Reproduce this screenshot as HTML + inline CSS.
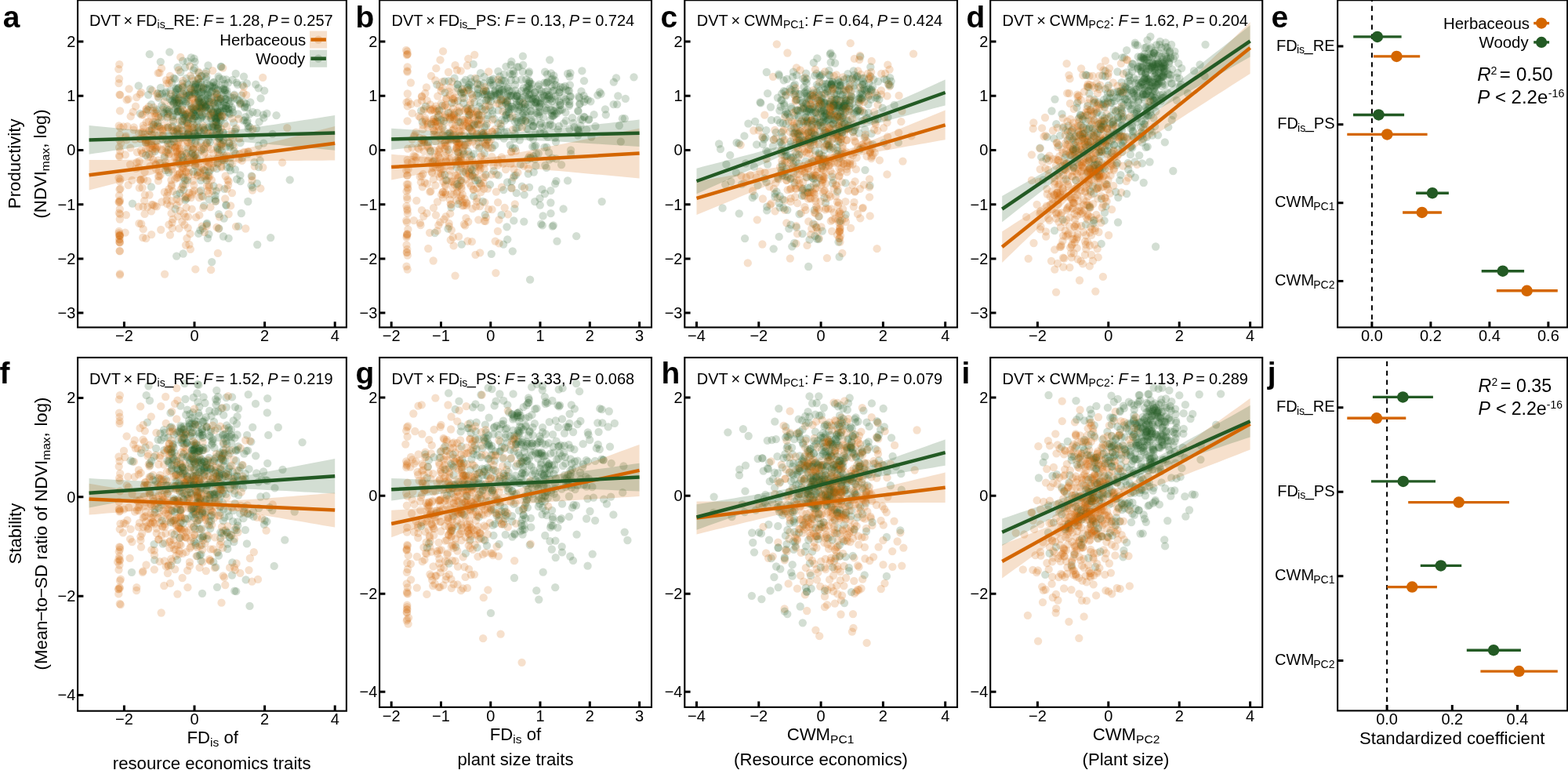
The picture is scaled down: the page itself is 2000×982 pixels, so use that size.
<!DOCTYPE html>
<html lang="en"><head><meta charset="utf-8"><title>Figure</title>
<style>
html,body{margin:0;padding:0;background:#fff}
svg{display:block}
text{font-family:"Liberation Sans",Arial,Helvetica,sans-serif;fill:#000}
.o{fill:#D46600;fill-opacity:.2}
.g{fill:#235A24;fill-opacity:.2}
.tk{font-size:20.0px}
.an{font-size:20.0px}
.ti{font-size:22.2px}
.lg{font-size:20.4px}
.lb{font-size:38.9px;font-weight:bold}
.it{font-style:italic}
.bd{fill:none;stroke:#000;stroke-width:2.1}
.tm{stroke:#000;stroke-width:3.0;fill:none}
.ln{fill:none;stroke-width:4.5}
</style></head>
<body>
<svg width="2000" height="982" viewBox="0 0 2000 982">
<rect width="2000" height="982" fill="#fff"/>
<g id="panel-a">
<g class="o"><circle cx="223.1" cy="228.6" r="5.15"/><circle cx="225.5" cy="126.7" r="5.15"/><circle cx="264.7" cy="243.4" r="5.15"/><circle cx="161.6" cy="178.3" r="5.15"/><circle cx="227.7" cy="206.3" r="5.15"/><circle cx="258.8" cy="250.9" r="5.15"/><circle cx="287.6" cy="224.5" r="5.15"/><circle cx="268.4" cy="264.2" r="5.15"/><circle cx="186.3" cy="182.2" r="5.15"/><circle cx="193.5" cy="260.8" r="5.15"/><circle cx="243.6" cy="252" r="5.15"/><circle cx="183.3" cy="228.7" r="5.15"/><circle cx="248.6" cy="210" r="5.15"/><circle cx="282.4" cy="213.4" r="5.15"/><circle cx="219.3" cy="256.2" r="5.15"/></g><g class="g"><circle cx="228.5" cy="170.6" r="5.15"/><circle cx="271.2" cy="172" r="5.15"/><circle cx="204.9" cy="111.8" r="5.15"/><circle cx="253.4" cy="126.9" r="5.15"/><circle cx="276" cy="152.2" r="5.15"/><circle cx="237.9" cy="123.7" r="5.15"/><circle cx="212" cy="117.1" r="5.15"/><circle cx="244.8" cy="137.8" r="5.15"/><circle cx="256.1" cy="243" r="5.15"/></g><g class="o"><circle cx="215.6" cy="196.1" r="5.15"/><circle cx="233.5" cy="213.8" r="5.15"/><circle cx="261.4" cy="227.4" r="5.15"/><circle cx="172.2" cy="177.7" r="5.15"/><circle cx="193.1" cy="162.1" r="5.15"/><circle cx="242.2" cy="84.3" r="5.15"/><circle cx="276.2" cy="124.7" r="5.15"/><circle cx="291.6" cy="231.3" r="5.15"/><circle cx="216.9" cy="96.9" r="5.15"/></g><g class="g"><circle cx="242.2" cy="177.2" r="5.15"/><circle cx="234.4" cy="129.4" r="5.15"/><circle cx="237.8" cy="208.1" r="5.15"/><circle cx="294.2" cy="124.1" r="5.15"/><circle cx="262.6" cy="122.1" r="5.15"/><circle cx="265.5" cy="141.7" r="5.15"/><circle cx="239.9" cy="171.2" r="5.15"/><circle cx="277" cy="143.1" r="5.15"/><circle cx="216.3" cy="66.4" r="5.15"/><circle cx="254.5" cy="136.3" r="5.15"/><circle cx="215.2" cy="172.4" r="5.15"/><circle cx="293.7" cy="208.2" r="5.15"/><circle cx="262.9" cy="136.2" r="5.15"/><circle cx="249.1" cy="140.1" r="5.15"/><circle cx="249.9" cy="143.2" r="5.15"/></g><g class="o"><circle cx="269.1" cy="344.2" r="5.15"/><circle cx="246.7" cy="190.1" r="5.15"/><circle cx="225.5" cy="253.8" r="5.15"/><circle cx="153.5" cy="240.5" r="5.15"/><circle cx="330.6" cy="195.9" r="5.15"/><circle cx="178.8" cy="229.5" r="5.15"/><circle cx="261.6" cy="162.6" r="5.15"/><circle cx="186.2" cy="304.2" r="5.15"/><circle cx="252.1" cy="223.3" r="5.15"/></g><g class="g"><circle cx="267.3" cy="130.1" r="5.15"/><circle cx="297.1" cy="143.3" r="5.15"/><circle cx="331.7" cy="204.7" r="5.15"/><circle cx="253.1" cy="162.3" r="5.15"/><circle cx="269.2" cy="151.8" r="5.15"/><circle cx="282.3" cy="184" r="5.15"/><circle cx="256.3" cy="97.2" r="5.15"/><circle cx="230.3" cy="92" r="5.15"/><circle cx="244.3" cy="179.9" r="5.15"/><circle cx="243.5" cy="140" r="5.15"/><circle cx="293.6" cy="185.8" r="5.15"/><circle cx="255.9" cy="151.3" r="5.15"/><circle cx="274.1" cy="135.2" r="5.15"/><circle cx="303" cy="107.9" r="5.15"/><circle cx="254" cy="166.7" r="5.15"/></g><g class="o"><circle cx="227.4" cy="132.8" r="5.15"/><circle cx="276.8" cy="187" r="5.15"/><circle cx="184.6" cy="219.2" r="5.15"/><circle cx="170.8" cy="162.3" r="5.15"/><circle cx="297.5" cy="177.9" r="5.15"/><circle cx="211" cy="206.4" r="5.15"/><circle cx="208.2" cy="172.7" r="5.15"/></g><g class="g"><circle cx="288.1" cy="126.3" r="5.15"/><circle cx="247.9" cy="146.2" r="5.15"/><circle cx="292.8" cy="213.3" r="5.15"/><circle cx="257.7" cy="146.6" r="5.15"/><circle cx="282.1" cy="109" r="5.15"/><circle cx="291.5" cy="127.9" r="5.15"/><circle cx="329.7" cy="112.3" r="5.15"/><circle cx="276.5" cy="215.2" r="5.15"/><circle cx="247.2" cy="168.1" r="5.15"/><circle cx="272" cy="144" r="5.15"/><circle cx="223.5" cy="123.7" r="5.15"/><circle cx="248.6" cy="78.6" r="5.15"/><circle cx="278.9" cy="143.7" r="5.15"/><circle cx="285.6" cy="197.8" r="5.15"/><circle cx="345.2" cy="303.1" r="5.15"/><circle cx="352.5" cy="147.2" r="5.15"/><circle cx="223.9" cy="117.7" r="5.15"/></g><g class="o"><circle cx="277.6" cy="159.6" r="5.15"/><circle cx="154.2" cy="182.8" r="5.15"/><circle cx="223.2" cy="186.1" r="5.15"/><circle cx="204.7" cy="223.1" r="5.15"/><circle cx="225.5" cy="261.6" r="5.15"/><circle cx="151.5" cy="227" r="5.15"/><circle cx="237.5" cy="219" r="5.15"/><circle cx="265.7" cy="206.9" r="5.15"/><circle cx="179.3" cy="230.2" r="5.15"/></g><g class="g"><circle cx="247.9" cy="118.5" r="5.15"/><circle cx="223.6" cy="266.5" r="5.15"/><circle cx="249.4" cy="172.6" r="5.15"/><circle cx="176.7" cy="109.4" r="5.15"/><circle cx="224.6" cy="120.9" r="5.15"/><circle cx="244.5" cy="147" r="5.15"/><circle cx="198.7" cy="141.6" r="5.15"/><circle cx="256.3" cy="118.2" r="5.15"/><circle cx="247.3" cy="120.2" r="5.15"/><circle cx="233.6" cy="323.5" r="5.15"/><circle cx="214.4" cy="182.8" r="5.15"/><circle cx="308.1" cy="121.7" r="5.15"/><circle cx="259.3" cy="112.9" r="5.15"/><circle cx="242.3" cy="117.6" r="5.15"/><circle cx="233.6" cy="235.5" r="5.15"/></g><g class="o"><circle cx="186.2" cy="190.1" r="5.15"/><circle cx="195.9" cy="136.8" r="5.15"/><circle cx="233.2" cy="203.9" r="5.15"/><circle cx="177.7" cy="205.5" r="5.15"/><circle cx="194.1" cy="115.5" r="5.15"/><circle cx="237" cy="312.6" r="5.15"/><circle cx="262.3" cy="206" r="5.15"/><circle cx="246.3" cy="162.8" r="5.15"/><circle cx="190.5" cy="248.5" r="5.15"/><circle cx="190" cy="135.8" r="5.15"/><circle cx="298.8" cy="121.8" r="5.15"/><circle cx="229.4" cy="189.4" r="5.15"/></g><g class="g"><circle cx="203.9" cy="208.1" r="5.15"/><circle cx="279.6" cy="99.9" r="5.15"/><circle cx="257.4" cy="117.1" r="5.15"/><circle cx="288.2" cy="187.6" r="5.15"/><circle cx="272.5" cy="162.1" r="5.15"/><circle cx="281.7" cy="84.8" r="5.15"/><circle cx="263.5" cy="106.6" r="5.15"/><circle cx="212.9" cy="139.1" r="5.15"/><circle cx="244.5" cy="99.8" r="5.15"/><circle cx="220.1" cy="149.2" r="5.15"/><circle cx="264" cy="284.7" r="5.15"/><circle cx="304.1" cy="288.7" r="5.15"/></g><g class="o"><circle cx="223.4" cy="188.2" r="5.15"/><circle cx="324.7" cy="212.1" r="5.15"/><circle cx="180" cy="117.8" r="5.15"/><circle cx="190.5" cy="166.8" r="5.15"/><circle cx="275" cy="256.6" r="5.15"/><circle cx="182.7" cy="160.1" r="5.15"/><circle cx="218.6" cy="272.2" r="5.15"/><circle cx="226.8" cy="223.2" r="5.15"/><circle cx="242.1" cy="164.7" r="5.15"/><circle cx="262.1" cy="94" r="5.15"/><circle cx="153.1" cy="273.1" r="5.15"/><circle cx="160.2" cy="175.2" r="5.15"/><circle cx="265" cy="187.8" r="5.15"/></g><g class="g"><circle cx="234.7" cy="147.7" r="5.15"/><circle cx="226.2" cy="114.4" r="5.15"/><circle cx="318.8" cy="162.2" r="5.15"/><circle cx="270.7" cy="116.1" r="5.15"/><circle cx="257.3" cy="108.3" r="5.15"/><circle cx="263.2" cy="91.3" r="5.15"/><circle cx="298.1" cy="156.5" r="5.15"/><circle cx="281.3" cy="129.1" r="5.15"/><circle cx="232.6" cy="106.3" r="5.15"/><circle cx="276" cy="155.8" r="5.15"/><circle cx="208.5" cy="136.8" r="5.15"/></g><g class="o"><circle cx="262.2" cy="184.6" r="5.15"/><circle cx="152.9" cy="299.2" r="5.15"/><circle cx="242" cy="131.4" r="5.15"/><circle cx="245.1" cy="162.7" r="5.15"/><circle cx="259.3" cy="138.2" r="5.15"/><circle cx="152" cy="249.3" r="5.15"/><circle cx="222.7" cy="200.7" r="5.15"/><circle cx="173.4" cy="214.9" r="5.15"/><circle cx="228.8" cy="221.8" r="5.15"/><circle cx="152.1" cy="305" r="5.15"/><circle cx="203.2" cy="224.9" r="5.15"/><circle cx="153" cy="300.7" r="5.15"/><circle cx="237.5" cy="121.6" r="5.15"/><circle cx="321.6" cy="225.1" r="5.15"/></g><g class="g"><circle cx="237.6" cy="195.6" r="5.15"/><circle cx="203.8" cy="120.2" r="5.15"/><circle cx="277.7" cy="190.9" r="5.15"/><circle cx="252.8" cy="128.9" r="5.15"/><circle cx="278.9" cy="158.1" r="5.15"/><circle cx="227.3" cy="141.6" r="5.15"/><circle cx="227.7" cy="112.2" r="5.15"/><circle cx="285.3" cy="133.7" r="5.15"/><circle cx="227.7" cy="125.5" r="5.15"/><circle cx="241.2" cy="120.9" r="5.15"/></g><g class="o"><circle cx="261.4" cy="194.4" r="5.15"/><circle cx="225.9" cy="205.1" r="5.15"/><circle cx="276.5" cy="289.8" r="5.15"/><circle cx="271.3" cy="243.7" r="5.15"/><circle cx="252.7" cy="126.4" r="5.15"/><circle cx="304.8" cy="203.1" r="5.15"/><circle cx="266.5" cy="236.2" r="5.15"/><circle cx="182.2" cy="168.7" r="5.15"/><circle cx="197.2" cy="144.4" r="5.15"/><circle cx="257.6" cy="288.6" r="5.15"/><circle cx="301.3" cy="163.5" r="5.15"/></g><g class="g"><circle cx="274.8" cy="112.9" r="5.15"/><circle cx="284" cy="204.2" r="5.15"/><circle cx="276.2" cy="167.1" r="5.15"/><circle cx="253.8" cy="92.8" r="5.15"/><circle cx="260.2" cy="165.1" r="5.15"/><circle cx="255.9" cy="126.3" r="5.15"/><circle cx="246.7" cy="108.2" r="5.15"/><circle cx="282" cy="148.9" r="5.15"/><circle cx="253.3" cy="140.3" r="5.15"/><circle cx="316.2" cy="196.3" r="5.15"/><circle cx="281.5" cy="126.2" r="5.15"/><circle cx="258.8" cy="131.2" r="5.15"/><circle cx="233.7" cy="120.5" r="5.15"/></g><g class="o"><circle cx="236.6" cy="228.2" r="5.15"/><circle cx="215.4" cy="286.3" r="5.15"/><circle cx="308.7" cy="204.9" r="5.15"/><circle cx="170.6" cy="165.7" r="5.15"/><circle cx="253.4" cy="173.8" r="5.15"/><circle cx="206.4" cy="257.5" r="5.15"/><circle cx="186.2" cy="179.9" r="5.15"/><circle cx="152.8" cy="266.7" r="5.15"/><circle cx="201.6" cy="160.5" r="5.15"/><circle cx="173" cy="135.6" r="5.15"/><circle cx="272.5" cy="213.8" r="5.15"/><circle cx="194.8" cy="186.2" r="5.15"/><circle cx="187.8" cy="174.5" r="5.15"/><circle cx="153.4" cy="228.5" r="5.15"/><circle cx="166.3" cy="188.6" r="5.15"/></g><g class="g"><circle cx="269.5" cy="150.5" r="5.15"/><circle cx="213.8" cy="145.2" r="5.15"/><circle cx="233.9" cy="151" r="5.15"/><circle cx="271.7" cy="158.3" r="5.15"/><circle cx="285.7" cy="202" r="5.15"/><circle cx="265.2" cy="119" r="5.15"/><circle cx="248.9" cy="170.2" r="5.15"/><circle cx="272.8" cy="109.6" r="5.15"/><circle cx="237.4" cy="253.4" r="5.15"/></g><g class="o"><circle cx="153.2" cy="192.5" r="5.15"/><circle cx="232.4" cy="238.5" r="5.15"/><circle cx="190.2" cy="166.6" r="5.15"/><circle cx="228.9" cy="124.2" r="5.15"/><circle cx="166.7" cy="148.4" r="5.15"/><circle cx="291.1" cy="236" r="5.15"/><circle cx="180.3" cy="168.8" r="5.15"/><circle cx="159.9" cy="197.4" r="5.15"/><circle cx="277.5" cy="143.5" r="5.15"/><circle cx="162.5" cy="161.2" r="5.15"/><circle cx="239.5" cy="154.9" r="5.15"/></g><g class="g"><circle cx="285.1" cy="182.6" r="5.15"/><circle cx="229.8" cy="140.3" r="5.15"/><circle cx="239.5" cy="189.3" r="5.15"/><circle cx="313.2" cy="149.2" r="5.15"/><circle cx="252.5" cy="116.2" r="5.15"/><circle cx="249.5" cy="148.6" r="5.15"/><circle cx="337.2" cy="115.7" r="5.15"/><circle cx="213.5" cy="178.9" r="5.15"/><circle cx="304.9" cy="128.3" r="5.15"/><circle cx="204.8" cy="78.8" r="5.15"/><circle cx="286.6" cy="157.8" r="5.15"/><circle cx="277.8" cy="201.7" r="5.15"/><circle cx="232.4" cy="127.8" r="5.15"/></g><g class="o"><circle cx="219.5" cy="215.9" r="5.15"/><circle cx="266.1" cy="148" r="5.15"/><circle cx="199.7" cy="144.4" r="5.15"/><circle cx="307.3" cy="132" r="5.15"/><circle cx="181.6" cy="239.3" r="5.15"/><circle cx="215.1" cy="145" r="5.15"/><circle cx="186.7" cy="155.8" r="5.15"/><circle cx="278.8" cy="149.1" r="5.15"/><circle cx="287.2" cy="253.5" r="5.15"/><circle cx="180" cy="228.6" r="5.15"/><circle cx="233.2" cy="171.4" r="5.15"/><circle cx="254.3" cy="274.4" r="5.15"/></g><g class="g"><circle cx="249.7" cy="108.3" r="5.15"/><circle cx="258.6" cy="291.4" r="5.15"/><circle cx="217.3" cy="182.9" r="5.15"/><circle cx="267.9" cy="181.3" r="5.15"/><circle cx="242.1" cy="121.3" r="5.15"/><circle cx="272.8" cy="111.8" r="5.15"/><circle cx="190.4" cy="196.5" r="5.15"/><circle cx="270.8" cy="110.7" r="5.15"/><circle cx="294" cy="200.9" r="5.15"/><circle cx="274.6" cy="254" r="5.15"/><circle cx="326.2" cy="107.6" r="5.15"/><circle cx="293.1" cy="187.8" r="5.15"/></g><g class="o"><circle cx="151.8" cy="294.9" r="5.15"/><circle cx="228.6" cy="202.3" r="5.15"/><circle cx="238.4" cy="157.1" r="5.15"/><circle cx="237.9" cy="195.1" r="5.15"/><circle cx="192.5" cy="167.7" r="5.15"/><circle cx="305.8" cy="196.4" r="5.15"/><circle cx="272.1" cy="195.4" r="5.15"/><circle cx="277.8" cy="193.5" r="5.15"/><circle cx="274.2" cy="207" r="5.15"/><circle cx="152.3" cy="82.1" r="5.15"/><circle cx="238.3" cy="146.7" r="5.15"/></g><g class="g"><circle cx="289.3" cy="115.4" r="5.15"/><circle cx="327" cy="163.8" r="5.15"/><circle cx="219.2" cy="105.4" r="5.15"/><circle cx="225.3" cy="167.9" r="5.15"/><circle cx="280.4" cy="182.8" r="5.15"/><circle cx="265.5" cy="83.5" r="5.15"/><circle cx="243.8" cy="135.5" r="5.15"/><circle cx="267.2" cy="108.4" r="5.15"/><circle cx="272.8" cy="130.6" r="5.15"/><circle cx="268.8" cy="125.7" r="5.15"/><circle cx="286.1" cy="130.2" r="5.15"/><circle cx="284.6" cy="113.7" r="5.15"/><circle cx="284.9" cy="169.1" r="5.15"/></g><g class="o"><circle cx="247.3" cy="236.1" r="5.15"/><circle cx="257.2" cy="214.2" r="5.15"/><circle cx="201.2" cy="160.8" r="5.15"/><circle cx="246" cy="230.6" r="5.15"/><circle cx="241" cy="220.1" r="5.15"/><circle cx="198.7" cy="190.6" r="5.15"/><circle cx="238.4" cy="304" r="5.15"/><circle cx="217" cy="262.4" r="5.15"/><circle cx="218.7" cy="237.4" r="5.15"/><circle cx="189" cy="190" r="5.15"/><circle cx="250.1" cy="277.2" r="5.15"/><circle cx="239.5" cy="187.1" r="5.15"/><circle cx="211.9" cy="187.8" r="5.15"/></g><g class="g"><circle cx="238" cy="119.2" r="5.15"/><circle cx="260.2" cy="262.3" r="5.15"/><circle cx="248.8" cy="198" r="5.15"/><circle cx="236.1" cy="145.2" r="5.15"/><circle cx="266.7" cy="254.4" r="5.15"/><circle cx="262.1" cy="136.3" r="5.15"/><circle cx="265.8" cy="129" r="5.15"/><circle cx="211.4" cy="217" r="5.15"/><circle cx="256.3" cy="138.2" r="5.15"/><circle cx="274.5" cy="249.4" r="5.15"/><circle cx="236.8" cy="145.9" r="5.15"/></g><g class="o"><circle cx="242.1" cy="199.4" r="5.15"/><circle cx="219.7" cy="176.9" r="5.15"/><circle cx="202.9" cy="218" r="5.15"/><circle cx="295.6" cy="167.6" r="5.15"/><circle cx="216.9" cy="299.6" r="5.15"/><circle cx="296" cy="246.1" r="5.15"/><circle cx="152.4" cy="178.7" r="5.15"/><circle cx="224.6" cy="187.3" r="5.15"/><circle cx="237.2" cy="219.6" r="5.15"/><circle cx="265.8" cy="227" r="5.15"/><circle cx="264.4" cy="170.2" r="5.15"/></g><g class="g"><circle cx="248.8" cy="211" r="5.15"/><circle cx="264" cy="182.4" r="5.15"/><circle cx="255.8" cy="168.1" r="5.15"/><circle cx="259.9" cy="171.3" r="5.15"/><circle cx="290.9" cy="138.6" r="5.15"/><circle cx="206.3" cy="134.3" r="5.15"/><circle cx="245.4" cy="153.4" r="5.15"/><circle cx="250.9" cy="159.7" r="5.15"/><circle cx="221.1" cy="122.5" r="5.15"/><circle cx="257.6" cy="137.9" r="5.15"/><circle cx="319.3" cy="130.4" r="5.15"/><circle cx="272.2" cy="105.4" r="5.15"/><circle cx="306.5" cy="182.2" r="5.15"/></g><g class="o"><circle cx="322.4" cy="164.6" r="5.15"/><circle cx="160.6" cy="173.5" r="5.15"/><circle cx="163.7" cy="126.3" r="5.15"/><circle cx="217.7" cy="192.1" r="5.15"/><circle cx="282.8" cy="205.8" r="5.15"/><circle cx="223.3" cy="169.6" r="5.15"/><circle cx="202" cy="224.9" r="5.15"/><circle cx="207.6" cy="163.9" r="5.15"/><circle cx="152.5" cy="241.6" r="5.15"/></g><g class="g"><circle cx="301.8" cy="105.4" r="5.15"/><circle cx="238.1" cy="126.3" r="5.15"/><circle cx="288.3" cy="261.1" r="5.15"/><circle cx="276.5" cy="145.3" r="5.15"/><circle cx="264.9" cy="303.8" r="5.15"/><circle cx="221.4" cy="155.1" r="5.15"/><circle cx="285.7" cy="138.1" r="5.15"/><circle cx="270.8" cy="142.2" r="5.15"/><circle cx="280.5" cy="115.5" r="5.15"/><circle cx="288.5" cy="101.3" r="5.15"/><circle cx="276.5" cy="160.3" r="5.15"/><circle cx="268.5" cy="216.5" r="5.15"/><circle cx="291.1" cy="105.7" r="5.15"/><circle cx="236.3" cy="146.7" r="5.15"/></g><g class="o"><circle cx="226.5" cy="141.9" r="5.15"/><circle cx="258.4" cy="135.6" r="5.15"/><circle cx="201" cy="187.3" r="5.15"/><circle cx="213" cy="249.9" r="5.15"/><circle cx="205.2" cy="293" r="5.15"/><circle cx="209.9" cy="129.1" r="5.15"/><circle cx="224.8" cy="194.1" r="5.15"/><circle cx="185.2" cy="178.2" r="5.15"/><circle cx="211.8" cy="194" r="5.15"/><circle cx="247.5" cy="221.9" r="5.15"/><circle cx="305.1" cy="176.9" r="5.15"/></g><g class="g"><circle cx="272.8" cy="104.6" r="5.15"/><circle cx="302.6" cy="126.9" r="5.15"/><circle cx="263.6" cy="285.8" r="5.15"/><circle cx="277.2" cy="164" r="5.15"/><circle cx="221.5" cy="99.6" r="5.15"/><circle cx="228.1" cy="130.8" r="5.15"/><circle cx="226.5" cy="142.4" r="5.15"/><circle cx="257.4" cy="97" r="5.15"/><circle cx="285.3" cy="142.5" r="5.15"/><circle cx="259.4" cy="113.8" r="5.15"/><circle cx="268" cy="109.6" r="5.15"/><circle cx="336.4" cy="150.4" r="5.15"/><circle cx="243.8" cy="73.5" r="5.15"/></g><g class="o"><circle cx="229" cy="256.8" r="5.15"/><circle cx="212" cy="102.1" r="5.15"/><circle cx="192.5" cy="148.2" r="5.15"/><circle cx="152.5" cy="308.7" r="5.15"/><circle cx="366.3" cy="163.1" r="5.15"/><circle cx="195.5" cy="203.8" r="5.15"/><circle cx="259.7" cy="216.3" r="5.15"/><circle cx="159.7" cy="296.6" r="5.15"/><circle cx="249.9" cy="202.8" r="5.15"/><circle cx="206.8" cy="191.5" r="5.15"/><circle cx="244.1" cy="115.3" r="5.15"/><circle cx="182.3" cy="146.2" r="5.15"/><circle cx="239.6" cy="170.9" r="5.15"/><circle cx="219.3" cy="184.7" r="5.15"/><circle cx="269" cy="190.2" r="5.15"/><circle cx="151.6" cy="297.1" r="5.15"/></g><g class="g"><circle cx="256.3" cy="181.9" r="5.15"/><circle cx="282.8" cy="192.4" r="5.15"/><circle cx="256.9" cy="149.7" r="5.15"/><circle cx="223.6" cy="127.8" r="5.15"/><circle cx="246.7" cy="199.4" r="5.15"/><circle cx="287.2" cy="114.5" r="5.15"/><circle cx="225.4" cy="148.2" r="5.15"/><circle cx="275.6" cy="150.6" r="5.15"/></g><g class="o"><circle cx="253.4" cy="100.9" r="5.15"/><circle cx="240.1" cy="276.3" r="5.15"/><circle cx="232.4" cy="111.7" r="5.15"/><circle cx="284.3" cy="86.6" r="5.15"/><circle cx="322" cy="242.5" r="5.15"/><circle cx="259.1" cy="160.5" r="5.15"/><circle cx="212.7" cy="106.3" r="5.15"/><circle cx="212" cy="178.8" r="5.15"/><circle cx="246.5" cy="205" r="5.15"/><circle cx="177" cy="213.6" r="5.15"/><circle cx="214" cy="159.7" r="5.15"/><circle cx="233.1" cy="109.3" r="5.15"/><circle cx="227.2" cy="182.2" r="5.15"/><circle cx="253.1" cy="100.3" r="5.15"/><circle cx="193.2" cy="299.1" r="5.15"/><circle cx="231.6" cy="212.4" r="5.15"/><circle cx="152.5" cy="308.9" r="5.15"/></g><g class="g"><circle cx="286.6" cy="149" r="5.15"/><circle cx="322.5" cy="143" r="5.15"/><circle cx="193.8" cy="164.6" r="5.15"/><circle cx="197.9" cy="156" r="5.15"/><circle cx="292.3" cy="144.7" r="5.15"/><circle cx="324.4" cy="206.8" r="5.15"/><circle cx="287.4" cy="126.3" r="5.15"/></g><g class="o"><circle cx="213" cy="259.8" r="5.15"/><circle cx="244.7" cy="266.6" r="5.15"/><circle cx="219.8" cy="291" r="5.15"/><circle cx="252.4" cy="195.6" r="5.15"/><circle cx="257.3" cy="130.6" r="5.15"/><circle cx="273.6" cy="123.3" r="5.15"/><circle cx="189.6" cy="155.2" r="5.15"/><circle cx="269.4" cy="140.5" r="5.15"/><circle cx="271.6" cy="148.6" r="5.15"/><circle cx="246.9" cy="158.8" r="5.15"/><circle cx="208.4" cy="139.3" r="5.15"/><circle cx="197.9" cy="164.6" r="5.15"/><circle cx="201.8" cy="150.1" r="5.15"/><circle cx="243.8" cy="187" r="5.15"/><circle cx="204.5" cy="176.9" r="5.15"/></g><g class="g"><circle cx="296.9" cy="184.5" r="5.15"/><circle cx="203.5" cy="162" r="5.15"/><circle cx="197.8" cy="193.1" r="5.15"/><circle cx="239.1" cy="229.9" r="5.15"/><circle cx="256.5" cy="192" r="5.15"/><circle cx="265.7" cy="162.4" r="5.15"/><circle cx="246.2" cy="173.8" r="5.15"/><circle cx="294.3" cy="129.2" r="5.15"/><circle cx="217.6" cy="115.2" r="5.15"/></g><g class="o"><circle cx="197" cy="169.8" r="5.15"/><circle cx="298.2" cy="187.3" r="5.15"/><circle cx="238.7" cy="199" r="5.15"/><circle cx="197.5" cy="262.7" r="5.15"/><circle cx="248.1" cy="114.1" r="5.15"/><circle cx="188.3" cy="230.6" r="5.15"/><circle cx="233.2" cy="214.5" r="5.15"/><circle cx="193.1" cy="184.9" r="5.15"/><circle cx="229.2" cy="192.4" r="5.15"/><circle cx="152.5" cy="199.8" r="5.15"/><circle cx="226.6" cy="197.7" r="5.15"/><circle cx="152.9" cy="350.6" r="5.15"/><circle cx="182.2" cy="303" r="5.15"/><circle cx="281.8" cy="163.6" r="5.15"/><circle cx="152.8" cy="320.4" r="5.15"/></g><g class="g"><circle cx="244.1" cy="196.3" r="5.15"/><circle cx="288.6" cy="135.2" r="5.15"/><circle cx="270.2" cy="334.1" r="5.15"/><circle cx="302.1" cy="228.6" r="5.15"/><circle cx="168.9" cy="259.6" r="5.15"/><circle cx="251.6" cy="173.3" r="5.15"/><circle cx="277" cy="120.8" r="5.15"/><circle cx="266.4" cy="298.6" r="5.15"/><circle cx="226.6" cy="85.8" r="5.15"/></g><g class="o"><circle cx="296.3" cy="151.1" r="5.15"/><circle cx="181.2" cy="195.2" r="5.15"/><circle cx="213.7" cy="214.6" r="5.15"/><circle cx="183.1" cy="163.4" r="5.15"/><circle cx="203.5" cy="92.9" r="5.15"/><circle cx="216.6" cy="102.2" r="5.15"/><circle cx="294.9" cy="173.2" r="5.15"/><circle cx="220.8" cy="152.9" r="5.15"/><circle cx="280.4" cy="167.7" r="5.15"/><circle cx="279.4" cy="239.1" r="5.15"/><circle cx="174.2" cy="124.1" r="5.15"/><circle cx="205.7" cy="190.5" r="5.15"/></g><g class="g"><circle cx="314.9" cy="106.4" r="5.15"/><circle cx="288.6" cy="262.1" r="5.15"/><circle cx="237.6" cy="100" r="5.15"/><circle cx="233.8" cy="226.2" r="5.15"/><circle cx="231.6" cy="159.7" r="5.15"/><circle cx="327.9" cy="233.8" r="5.15"/><circle cx="274.9" cy="150.8" r="5.15"/><circle cx="235.4" cy="148.3" r="5.15"/><circle cx="277.3" cy="142.2" r="5.15"/><circle cx="216.5" cy="142.8" r="5.15"/><circle cx="278.1" cy="141.1" r="5.15"/></g><g class="o"><circle cx="224.8" cy="164.6" r="5.15"/><circle cx="232.6" cy="175.6" r="5.15"/><circle cx="214.4" cy="162.3" r="5.15"/><circle cx="229.6" cy="268.8" r="5.15"/><circle cx="235.4" cy="152.6" r="5.15"/><circle cx="242.5" cy="298.2" r="5.15"/><circle cx="241.4" cy="311.9" r="5.15"/><circle cx="207.1" cy="166.1" r="5.15"/><circle cx="195.5" cy="155.3" r="5.15"/><circle cx="316.4" cy="193.2" r="5.15"/><circle cx="257.6" cy="111.4" r="5.15"/><circle cx="260.7" cy="134.6" r="5.15"/><circle cx="241.4" cy="143.1" r="5.15"/><circle cx="206.4" cy="173.4" r="5.15"/></g><g class="g"><circle cx="286.2" cy="240.8" r="5.15"/><circle cx="209.1" cy="144.5" r="5.15"/><circle cx="220" cy="161.4" r="5.15"/><circle cx="231.6" cy="197.6" r="5.15"/><circle cx="246.2" cy="143.9" r="5.15"/><circle cx="300.7" cy="94" r="5.15"/><circle cx="256" cy="104.7" r="5.15"/><circle cx="273.8" cy="150.2" r="5.15"/><circle cx="253.3" cy="297.9" r="5.15"/><circle cx="277.5" cy="188.9" r="5.15"/></g><g class="o"><circle cx="209.8" cy="245" r="5.15"/><circle cx="296.3" cy="208.6" r="5.15"/><circle cx="234.5" cy="272.5" r="5.15"/><circle cx="199.4" cy="180.4" r="5.15"/><circle cx="201.6" cy="204.3" r="5.15"/><circle cx="151.6" cy="106.1" r="5.15"/><circle cx="223.5" cy="188.7" r="5.15"/><circle cx="186.5" cy="142.1" r="5.15"/><circle cx="222.7" cy="177" r="5.15"/><circle cx="220.4" cy="279.7" r="5.15"/><circle cx="234.7" cy="170.3" r="5.15"/></g><g class="g"><circle cx="264.9" cy="121" r="5.15"/><circle cx="307.8" cy="272" r="5.15"/><circle cx="276" cy="243.6" r="5.15"/><circle cx="320.8" cy="224.5" r="5.15"/><circle cx="249.8" cy="136.5" r="5.15"/><circle cx="286.6" cy="117.8" r="5.15"/><circle cx="252.8" cy="106.1" r="5.15"/><circle cx="234.3" cy="242.2" r="5.15"/><circle cx="220.8" cy="147.2" r="5.15"/><circle cx="221.7" cy="180.5" r="5.15"/><circle cx="254.6" cy="147" r="5.15"/><circle cx="336.2" cy="182.7" r="5.15"/><circle cx="300.7" cy="195.8" r="5.15"/></g><g class="o"><circle cx="189" cy="182.4" r="5.15"/><circle cx="238.7" cy="174.3" r="5.15"/><circle cx="186.6" cy="139" r="5.15"/><circle cx="255.7" cy="132.5" r="5.15"/><circle cx="232" cy="193.2" r="5.15"/><circle cx="279.9" cy="276.5" r="5.15"/><circle cx="225.9" cy="129.5" r="5.15"/><circle cx="169.7" cy="142.6" r="5.15"/><circle cx="230.3" cy="72.9" r="5.15"/><circle cx="186.9" cy="139.7" r="5.15"/><circle cx="153.4" cy="162.6" r="5.15"/><circle cx="206.4" cy="153" r="5.15"/><circle cx="242.9" cy="317.8" r="5.15"/><circle cx="283.8" cy="182.2" r="5.15"/><circle cx="228.4" cy="291.3" r="5.15"/></g><g class="g"><circle cx="257.5" cy="250" r="5.15"/><circle cx="316.8" cy="160.8" r="5.15"/><circle cx="202.4" cy="124.9" r="5.15"/><circle cx="240.9" cy="168.5" r="5.15"/><circle cx="306.4" cy="223.4" r="5.15"/><circle cx="261.6" cy="120.3" r="5.15"/><circle cx="233.4" cy="174.1" r="5.15"/><circle cx="255.2" cy="136.9" r="5.15"/><circle cx="240.4" cy="157.5" r="5.15"/></g><g class="o"><circle cx="217.7" cy="134.5" r="5.15"/><circle cx="221" cy="219.7" r="5.15"/><circle cx="301" cy="288.9" r="5.15"/><circle cx="152.1" cy="187.9" r="5.15"/><circle cx="239.5" cy="181.3" r="5.15"/><circle cx="218.4" cy="229.5" r="5.15"/><circle cx="224.6" cy="208.2" r="5.15"/><circle cx="163.6" cy="236" r="5.15"/><circle cx="238.6" cy="161.4" r="5.15"/><circle cx="260.8" cy="296" r="5.15"/><circle cx="239.7" cy="290.6" r="5.15"/><circle cx="246.8" cy="103.2" r="5.15"/><circle cx="242.9" cy="96.6" r="5.15"/><circle cx="180.2" cy="285.5" r="5.15"/><circle cx="265.5" cy="223.9" r="5.15"/></g><g class="g"><circle cx="189.2" cy="120.8" r="5.15"/><circle cx="190.8" cy="69.2" r="5.15"/><circle cx="313.9" cy="132.4" r="5.15"/><circle cx="224.6" cy="112.5" r="5.15"/><circle cx="280.6" cy="175.1" r="5.15"/><circle cx="215" cy="140.4" r="5.15"/><circle cx="276.9" cy="120" r="5.15"/><circle cx="248.1" cy="204.6" r="5.15"/><circle cx="264.4" cy="133.5" r="5.15"/></g><g class="o"><circle cx="245.2" cy="248.1" r="5.15"/><circle cx="210.1" cy="349.6" r="5.15"/><circle cx="166" cy="209.8" r="5.15"/><circle cx="272.4" cy="208" r="5.15"/><circle cx="267.4" cy="224.8" r="5.15"/><circle cx="197.1" cy="187.6" r="5.15"/><circle cx="184.8" cy="248.6" r="5.15"/><circle cx="227.9" cy="89.3" r="5.15"/><circle cx="230.9" cy="183.1" r="5.15"/></g><g class="g"><circle cx="246.1" cy="190.2" r="5.15"/><circle cx="254.2" cy="110.5" r="5.15"/><circle cx="271.9" cy="143" r="5.15"/><circle cx="276.4" cy="151.6" r="5.15"/><circle cx="224.5" cy="138" r="5.15"/><circle cx="274.9" cy="160.7" r="5.15"/><circle cx="291.7" cy="138.8" r="5.15"/><circle cx="279" cy="273.2" r="5.15"/><circle cx="312.1" cy="137.4" r="5.15"/><circle cx="232.1" cy="155.1" r="5.15"/><circle cx="252.7" cy="100.4" r="5.15"/><circle cx="347.6" cy="170.8" r="5.15"/><circle cx="225.3" cy="248.2" r="5.15"/><circle cx="238.7" cy="106.3" r="5.15"/><circle cx="268.7" cy="168.6" r="5.15"/></g><g class="o"><circle cx="214" cy="194.6" r="5.15"/><circle cx="191.4" cy="211.8" r="5.15"/><circle cx="314.2" cy="121.1" r="5.15"/><circle cx="256.9" cy="190.7" r="5.15"/><circle cx="267.1" cy="208.7" r="5.15"/><circle cx="249.3" cy="343.4" r="5.15"/><circle cx="199" cy="209.6" r="5.15"/><circle cx="252.8" cy="91.6" r="5.15"/><circle cx="259.1" cy="216.3" r="5.15"/><circle cx="259.7" cy="166.2" r="5.15"/><circle cx="233.3" cy="103" r="5.15"/></g><g class="g"><circle cx="280" cy="191.2" r="5.15"/><circle cx="248.7" cy="182.8" r="5.15"/><circle cx="263" cy="224.1" r="5.15"/><circle cx="277.2" cy="148.7" r="5.15"/><circle cx="260.3" cy="134.6" r="5.15"/><circle cx="239.1" cy="78.4" r="5.15"/><circle cx="277.9" cy="114.7" r="5.15"/><circle cx="225" cy="114" r="5.15"/><circle cx="280.6" cy="147.2" r="5.15"/><circle cx="254.7" cy="142.3" r="5.15"/><circle cx="263.6" cy="229.8" r="5.15"/><circle cx="249.5" cy="148" r="5.15"/><circle cx="284.5" cy="169" r="5.15"/></g><g class="o"><circle cx="226.2" cy="185.6" r="5.15"/><circle cx="277.8" cy="207.3" r="5.15"/><circle cx="200" cy="119.3" r="5.15"/><circle cx="288.8" cy="198" r="5.15"/><circle cx="229.5" cy="220.5" r="5.15"/><circle cx="261.2" cy="224.5" r="5.15"/><circle cx="219.2" cy="166.8" r="5.15"/><circle cx="286.7" cy="204.2" r="5.15"/><circle cx="218.7" cy="235.5" r="5.15"/></g><g class="g"><circle cx="245.9" cy="137.9" r="5.15"/><circle cx="299.7" cy="167.9" r="5.15"/><circle cx="299.9" cy="216.1" r="5.15"/><circle cx="278.2" cy="150" r="5.15"/><circle cx="315.2" cy="136.9" r="5.15"/><circle cx="247.3" cy="151.9" r="5.15"/><circle cx="233.3" cy="200.3" r="5.15"/><circle cx="201.2" cy="156.8" r="5.15"/><circle cx="278.1" cy="127.1" r="5.15"/><circle cx="293.9" cy="217.4" r="5.15"/><circle cx="275" cy="256.7" r="5.15"/><circle cx="314.8" cy="156.7" r="5.15"/><circle cx="284.4" cy="101.2" r="5.15"/><circle cx="275.2" cy="137.1" r="5.15"/><circle cx="285.3" cy="123.6" r="5.15"/></g><g class="o"><circle cx="178.9" cy="177.2" r="5.15"/><circle cx="227.5" cy="226.5" r="5.15"/><circle cx="226.9" cy="276.1" r="5.15"/><circle cx="213.7" cy="216.8" r="5.15"/><circle cx="232.3" cy="218.5" r="5.15"/><circle cx="255.3" cy="219" r="5.15"/><circle cx="284" cy="147.9" r="5.15"/><circle cx="278.8" cy="291.5" r="5.15"/><circle cx="254.6" cy="187.7" r="5.15"/><circle cx="291.6" cy="273" r="5.15"/><circle cx="270.5" cy="169.7" r="5.15"/><circle cx="311.2" cy="193.8" r="5.15"/></g><g class="g"><circle cx="298.3" cy="124.7" r="5.15"/><circle cx="239.7" cy="121.8" r="5.15"/><circle cx="261.9" cy="133.1" r="5.15"/><circle cx="230.1" cy="120.7" r="5.15"/><circle cx="201.6" cy="119.1" r="5.15"/><circle cx="212" cy="123.5" r="5.15"/><circle cx="328.2" cy="312" r="5.15"/><circle cx="207.5" cy="177.5" r="5.15"/><circle cx="249" cy="108.1" r="5.15"/><circle cx="239.1" cy="164.1" r="5.15"/><circle cx="322.3" cy="239.1" r="5.15"/><circle cx="239.7" cy="170.3" r="5.15"/></g><g class="o"><circle cx="249.6" cy="212" r="5.15"/><circle cx="152.9" cy="255.3" r="5.15"/><circle cx="332.3" cy="240.4" r="5.15"/><circle cx="236" cy="251.3" r="5.15"/><circle cx="265.2" cy="212.6" r="5.15"/><circle cx="245.5" cy="245.5" r="5.15"/><circle cx="266.2" cy="246.7" r="5.15"/><circle cx="182" cy="195.8" r="5.15"/><circle cx="271.2" cy="90.2" r="5.15"/><circle cx="236.9" cy="250.5" r="5.15"/><circle cx="193.2" cy="183.2" r="5.15"/><circle cx="249.5" cy="208.4" r="5.15"/></g><g class="g"><circle cx="298.9" cy="120.6" r="5.15"/><circle cx="252.3" cy="168.9" r="5.15"/><circle cx="287.9" cy="135" r="5.15"/><circle cx="264.3" cy="113.6" r="5.15"/><circle cx="276.1" cy="107.5" r="5.15"/><circle cx="311.1" cy="130.7" r="5.15"/><circle cx="312.2" cy="136" r="5.15"/><circle cx="223.3" cy="100.7" r="5.15"/><circle cx="233.1" cy="77.7" r="5.15"/><circle cx="267.2" cy="138.5" r="5.15"/><circle cx="236.1" cy="230.1" r="5.15"/><circle cx="270.1" cy="161.3" r="5.15"/></g><g class="o"><circle cx="225.7" cy="226.5" r="5.15"/><circle cx="229.8" cy="154.5" r="5.15"/><circle cx="199.8" cy="263.3" r="5.15"/><circle cx="198.4" cy="148.5" r="5.15"/><circle cx="252.2" cy="163.7" r="5.15"/><circle cx="198.9" cy="189.1" r="5.15"/><circle cx="233.4" cy="119.3" r="5.15"/><circle cx="152.9" cy="309.4" r="5.15"/><circle cx="236.5" cy="235.2" r="5.15"/><circle cx="151.9" cy="299.9" r="5.15"/><circle cx="232.3" cy="282.6" r="5.15"/><circle cx="185.2" cy="169.5" r="5.15"/><circle cx="230.9" cy="241.3" r="5.15"/><circle cx="151.7" cy="257.2" r="5.15"/></g><g class="g"><circle cx="249.5" cy="179.5" r="5.15"/><circle cx="228.4" cy="208.4" r="5.15"/><circle cx="211.1" cy="211.3" r="5.15"/><circle cx="285.2" cy="113.4" r="5.15"/><circle cx="263.4" cy="135.1" r="5.15"/><circle cx="234.4" cy="116" r="5.15"/><circle cx="229.5" cy="246.3" r="5.15"/><circle cx="240.3" cy="108.4" r="5.15"/><circle cx="295.8" cy="137.1" r="5.15"/><circle cx="272.5" cy="237.1" r="5.15"/></g><g class="o"><circle cx="272" cy="131.8" r="5.15"/><circle cx="153" cy="349.2" r="5.15"/><circle cx="184.5" cy="272.9" r="5.15"/><circle cx="263.7" cy="288" r="5.15"/><circle cx="254.1" cy="244.4" r="5.15"/><circle cx="152.6" cy="319.8" r="5.15"/><circle cx="238.2" cy="179.1" r="5.15"/><circle cx="219.6" cy="283.8" r="5.15"/><circle cx="237.7" cy="264.6" r="5.15"/><circle cx="257" cy="143" r="5.15"/><circle cx="215.4" cy="241.1" r="5.15"/><circle cx="174.9" cy="194.1" r="5.15"/><circle cx="217.8" cy="120" r="5.15"/><circle cx="187.8" cy="179.2" r="5.15"/></g><g class="g"><circle cx="241.6" cy="172.4" r="5.15"/><circle cx="251.3" cy="138.6" r="5.15"/><circle cx="280.4" cy="141.4" r="5.15"/><circle cx="245.1" cy="117.7" r="5.15"/><circle cx="227.1" cy="112.5" r="5.15"/><circle cx="258.7" cy="162.4" r="5.15"/><circle cx="206.9" cy="119.3" r="5.15"/><circle cx="281.2" cy="141.2" r="5.15"/><circle cx="246.5" cy="150.9" r="5.15"/><circle cx="238.3" cy="155.9" r="5.15"/></g><g class="o"><circle cx="177.8" cy="239.7" r="5.15"/><circle cx="152.8" cy="279.5" r="5.15"/><circle cx="310.9" cy="110.6" r="5.15"/><circle cx="211" cy="163" r="5.15"/><circle cx="233.8" cy="140.9" r="5.15"/><circle cx="198.4" cy="161.4" r="5.15"/><circle cx="247.2" cy="199.3" r="5.15"/><circle cx="227.2" cy="196.5" r="5.15"/><circle cx="218.7" cy="162.7" r="5.15"/><circle cx="240.1" cy="164.7" r="5.15"/></g><g class="g"><circle cx="306" cy="132.7" r="5.15"/><circle cx="191.7" cy="113.6" r="5.15"/><circle cx="247.1" cy="139.3" r="5.15"/><circle cx="288.2" cy="139.2" r="5.15"/><circle cx="320.9" cy="173.1" r="5.15"/><circle cx="262.9" cy="100.7" r="5.15"/><circle cx="226.8" cy="139.5" r="5.15"/><circle cx="231.6" cy="143.2" r="5.15"/><circle cx="316.3" cy="257" r="5.15"/><circle cx="292.5" cy="182.7" r="5.15"/><circle cx="239.2" cy="205.5" r="5.15"/><circle cx="247.9" cy="148.1" r="5.15"/><circle cx="212.5" cy="142" r="5.15"/><circle cx="303.7" cy="145.5" r="5.15"/></g><g class="o"><circle cx="191.8" cy="199.9" r="5.15"/><circle cx="223.7" cy="199.3" r="5.15"/><circle cx="206" cy="87.2" r="5.15"/><circle cx="239.1" cy="252.2" r="5.15"/><circle cx="248.6" cy="130.9" r="5.15"/><circle cx="168.5" cy="229.8" r="5.15"/><circle cx="152.7" cy="305.3" r="5.15"/><circle cx="263.9" cy="237.2" r="5.15"/><circle cx="256.8" cy="226.2" r="5.15"/></g><g class="g"><circle cx="279.4" cy="176.9" r="5.15"/><circle cx="282.9" cy="135.3" r="5.15"/><circle cx="263.4" cy="152.5" r="5.15"/><circle cx="192.9" cy="238.4" r="5.15"/><circle cx="244" cy="147.4" r="5.15"/><circle cx="281.6" cy="153.7" r="5.15"/><circle cx="247.6" cy="74.7" r="5.15"/><circle cx="252.6" cy="153.8" r="5.15"/><circle cx="281.1" cy="142.7" r="5.15"/><circle cx="292.4" cy="133.1" r="5.15"/><circle cx="221.5" cy="132.2" r="5.15"/><circle cx="263.3" cy="97.5" r="5.15"/><circle cx="266.4" cy="219.4" r="5.15"/><circle cx="318.5" cy="145.3" r="5.15"/><circle cx="312.2" cy="153.1" r="5.15"/></g><g class="o"><circle cx="283.1" cy="148" r="5.15"/><circle cx="268.8" cy="129.9" r="5.15"/><circle cx="236.8" cy="276.7" r="5.15"/><circle cx="174.5" cy="206.9" r="5.15"/><circle cx="294.2" cy="262.4" r="5.15"/><circle cx="277.3" cy="171.6" r="5.15"/><circle cx="188.6" cy="199.6" r="5.15"/><circle cx="335.2" cy="98.9" r="5.15"/><circle cx="199" cy="215.7" r="5.15"/><circle cx="214.1" cy="245.1" r="5.15"/><circle cx="184.1" cy="256.1" r="5.15"/></g><g class="g"><circle cx="199.6" cy="139.6" r="5.15"/><circle cx="246.8" cy="142.8" r="5.15"/><circle cx="258.5" cy="148" r="5.15"/><circle cx="254.6" cy="117.5" r="5.15"/><circle cx="226.3" cy="170.1" r="5.15"/><circle cx="335.9" cy="146.3" r="5.15"/><circle cx="224.9" cy="131.4" r="5.15"/><circle cx="286.7" cy="106.9" r="5.15"/><circle cx="251.1" cy="201.5" r="5.15"/><circle cx="252.2" cy="219.8" r="5.15"/><circle cx="239.5" cy="149" r="5.15"/><circle cx="276.2" cy="155.7" r="5.15"/></g><g class="o"><circle cx="195.3" cy="261.1" r="5.15"/><circle cx="228.8" cy="163.4" r="5.15"/><circle cx="265.9" cy="202" r="5.15"/><circle cx="182.7" cy="292.2" r="5.15"/><circle cx="176.9" cy="263.6" r="5.15"/><circle cx="252.8" cy="209.5" r="5.15"/><circle cx="240.3" cy="214.1" r="5.15"/><circle cx="215.5" cy="106.2" r="5.15"/><circle cx="240" cy="225.2" r="5.15"/><circle cx="151.8" cy="258" r="5.15"/><circle cx="263.5" cy="206.4" r="5.15"/><circle cx="291.9" cy="181.7" r="5.15"/><circle cx="194.1" cy="157.8" r="5.15"/><circle cx="212.7" cy="212.1" r="5.15"/></g><g class="g"><circle cx="308.9" cy="201.3" r="5.15"/><circle cx="233.5" cy="204.9" r="5.15"/><circle cx="240.5" cy="151.6" r="5.15"/><circle cx="248.1" cy="118.1" r="5.15"/><circle cx="261.8" cy="127.6" r="5.15"/><circle cx="310.5" cy="153.6" r="5.15"/><circle cx="232.4" cy="166.3" r="5.15"/><circle cx="277.5" cy="208.5" r="5.15"/><circle cx="278.6" cy="131" r="5.15"/><circle cx="221.9" cy="140.9" r="5.15"/></g><g class="o"><circle cx="178.6" cy="120.1" r="5.15"/><circle cx="212.6" cy="255.1" r="5.15"/><circle cx="198.4" cy="209.8" r="5.15"/><circle cx="282.3" cy="212.1" r="5.15"/><circle cx="209.7" cy="198.2" r="5.15"/><circle cx="198.2" cy="185" r="5.15"/><circle cx="152.6" cy="300.6" r="5.15"/><circle cx="152.9" cy="257.2" r="5.15"/><circle cx="229.3" cy="196.4" r="5.15"/><circle cx="239.3" cy="144.8" r="5.15"/><circle cx="260.3" cy="195.9" r="5.15"/><circle cx="184" cy="175.5" r="5.15"/><circle cx="239.6" cy="159.8" r="5.15"/></g><g class="g"><circle cx="273.3" cy="147.5" r="5.15"/><circle cx="262.9" cy="112.4" r="5.15"/><circle cx="289.5" cy="213.1" r="5.15"/><circle cx="291.6" cy="303.9" r="5.15"/><circle cx="246.5" cy="218.8" r="5.15"/><circle cx="306.7" cy="231.2" r="5.15"/><circle cx="278.3" cy="163.8" r="5.15"/><circle cx="293.7" cy="145.4" r="5.15"/><circle cx="256" cy="230.1" r="5.15"/><circle cx="213.4" cy="149.8" r="5.15"/><circle cx="215.1" cy="219.8" r="5.15"/></g><g class="o"><circle cx="252.7" cy="137.7" r="5.15"/><circle cx="151.3" cy="88.1" r="5.15"/><circle cx="247.6" cy="243" r="5.15"/><circle cx="240.5" cy="182" r="5.15"/><circle cx="335.3" cy="213.5" r="5.15"/><circle cx="182.5" cy="263.6" r="5.15"/><circle cx="316.8" cy="194" r="5.15"/></g><g class="g"><circle cx="320.5" cy="236.4" r="5.15"/><circle cx="267.4" cy="161.7" r="5.15"/><circle cx="289.8" cy="119.6" r="5.15"/><circle cx="329.8" cy="185.6" r="5.15"/><circle cx="250" cy="106.4" r="5.15"/><circle cx="252.6" cy="119.7" r="5.15"/><circle cx="236" cy="86.1" r="5.15"/><circle cx="309.5" cy="108.5" r="5.15"/><circle cx="274.7" cy="155.1" r="5.15"/><circle cx="260.6" cy="130" r="5.15"/><circle cx="287.9" cy="138.1" r="5.15"/><circle cx="284.9" cy="301.5" r="5.15"/><circle cx="178.9" cy="144.9" r="5.15"/><circle cx="340.4" cy="144.6" r="5.15"/><circle cx="285.7" cy="278.6" r="5.15"/><circle cx="249.1" cy="110.3" r="5.15"/></g><g class="o"><circle cx="290.3" cy="229.4" r="5.15"/><circle cx="243.4" cy="139.4" r="5.15"/><circle cx="304.4" cy="151.7" r="5.15"/><circle cx="157.5" cy="161.4" r="5.15"/><circle cx="201.4" cy="123" r="5.15"/><circle cx="259.2" cy="265" r="5.15"/><circle cx="279.7" cy="197.4" r="5.15"/><circle cx="185.7" cy="181.8" r="5.15"/><circle cx="194.9" cy="176.3" r="5.15"/><circle cx="248.5" cy="198.4" r="5.15"/></g><g class="g"><circle cx="277.8" cy="124.4" r="5.15"/><circle cx="273.5" cy="132.6" r="5.15"/><circle cx="282.3" cy="85.1" r="5.15"/><circle cx="268.1" cy="146.5" r="5.15"/><circle cx="290.6" cy="143" r="5.15"/><circle cx="221.4" cy="167.5" r="5.15"/><circle cx="247.8" cy="170.1" r="5.15"/><circle cx="259.9" cy="190" r="5.15"/><circle cx="188.8" cy="140.3" r="5.15"/><circle cx="236.4" cy="255.1" r="5.15"/><circle cx="279.3" cy="291.3" r="5.15"/><circle cx="214.7" cy="191" r="5.15"/><circle cx="280.4" cy="174.2" r="5.15"/><circle cx="219.7" cy="129.4" r="5.15"/></g><g class="o"><circle cx="152.5" cy="120.7" r="5.15"/><circle cx="288.4" cy="174.6" r="5.15"/><circle cx="275.4" cy="118.7" r="5.15"/><circle cx="153.2" cy="121.1" r="5.15"/><circle cx="194" cy="172.3" r="5.15"/><circle cx="201.6" cy="93.1" r="5.15"/><circle cx="268.8" cy="144.4" r="5.15"/><circle cx="177.4" cy="284.9" r="5.15"/><circle cx="273.6" cy="159.6" r="5.15"/><circle cx="235.1" cy="210" r="5.15"/><circle cx="247.3" cy="188.7" r="5.15"/><circle cx="282.5" cy="184.3" r="5.15"/><circle cx="232.2" cy="222.3" r="5.15"/></g><g class="g"><circle cx="280" cy="169.9" r="5.15"/><circle cx="279.2" cy="176.1" r="5.15"/><circle cx="270.5" cy="117" r="5.15"/><circle cx="246.8" cy="89.5" r="5.15"/><circle cx="264.8" cy="125.3" r="5.15"/><circle cx="300.4" cy="165" r="5.15"/><circle cx="262.3" cy="144.6" r="5.15"/><circle cx="285.8" cy="204.4" r="5.15"/><circle cx="243.3" cy="112.8" r="5.15"/><circle cx="274.8" cy="171.7" r="5.15"/><circle cx="311" cy="97.6" r="5.15"/></g><g class="o"><circle cx="152.1" cy="198.3" r="5.15"/><circle cx="269.9" cy="229.6" r="5.15"/><circle cx="220.4" cy="243.9" r="5.15"/><circle cx="283.2" cy="186.9" r="5.15"/><circle cx="152.8" cy="231.3" r="5.15"/><circle cx="225.8" cy="192.5" r="5.15"/><circle cx="242.4" cy="207.4" r="5.15"/><circle cx="215" cy="197.7" r="5.15"/><circle cx="251.9" cy="224.2" r="5.15"/><circle cx="188.1" cy="264" r="5.15"/><circle cx="277.9" cy="322.9" r="5.15"/></g><g class="g"><circle cx="214.4" cy="162.7" r="5.15"/><circle cx="226.1" cy="134.9" r="5.15"/><circle cx="232.5" cy="154" r="5.15"/><circle cx="315.5" cy="154.5" r="5.15"/><circle cx="332.6" cy="125.4" r="5.15"/><circle cx="222.3" cy="125.8" r="5.15"/><circle cx="208.2" cy="143.4" r="5.15"/><circle cx="271" cy="162.3" r="5.15"/><circle cx="254.6" cy="130.3" r="5.15"/><circle cx="209.8" cy="200.5" r="5.15"/><circle cx="256.6" cy="136" r="5.15"/><circle cx="245.8" cy="195.3" r="5.15"/><circle cx="252" cy="113" r="5.15"/></g><g class="o"><circle cx="220.6" cy="166.2" r="5.15"/><circle cx="360.1" cy="207.3" r="5.15"/><circle cx="313.3" cy="291.5" r="5.15"/><circle cx="289" cy="161.2" r="5.15"/><circle cx="214.8" cy="187.6" r="5.15"/><circle cx="310.4" cy="118.6" r="5.15"/><circle cx="280.2" cy="125.1" r="5.15"/><circle cx="265.5" cy="169.9" r="5.15"/><circle cx="152.7" cy="300.9" r="5.15"/><circle cx="152" cy="100.5" r="5.15"/><circle cx="235.4" cy="286.6" r="5.15"/><circle cx="250.7" cy="184" r="5.15"/><circle cx="200.9" cy="173.6" r="5.15"/><circle cx="260.1" cy="186.6" r="5.15"/><circle cx="321.5" cy="230" r="5.15"/></g><g class="g"><circle cx="228.4" cy="128" r="5.15"/><circle cx="277.7" cy="131.7" r="5.15"/><circle cx="261.2" cy="217.4" r="5.15"/><circle cx="286.8" cy="115.2" r="5.15"/><circle cx="266.1" cy="178.9" r="5.15"/><circle cx="233.8" cy="145.4" r="5.15"/><circle cx="222.1" cy="130.6" r="5.15"/><circle cx="237.5" cy="129.4" r="5.15"/><circle cx="232.8" cy="134.5" r="5.15"/></g><g class="o"><circle cx="161.6" cy="127.4" r="5.15"/><circle cx="202.3" cy="148.2" r="5.15"/><circle cx="207.7" cy="166.5" r="5.15"/><circle cx="179.2" cy="176.8" r="5.15"/><circle cx="180.7" cy="146.6" r="5.15"/><circle cx="153" cy="141.4" r="5.15"/><circle cx="227.1" cy="167" r="5.15"/><circle cx="189.9" cy="179.6" r="5.15"/><circle cx="255.5" cy="220.5" r="5.15"/><circle cx="229.3" cy="164.4" r="5.15"/><circle cx="204.9" cy="163.9" r="5.15"/><circle cx="241.3" cy="245.9" r="5.15"/></g><g class="g"><circle cx="270.3" cy="127.6" r="5.15"/><circle cx="278.1" cy="163.5" r="5.15"/><circle cx="261" cy="166.3" r="5.15"/><circle cx="253.2" cy="125.3" r="5.15"/><circle cx="252.2" cy="130.5" r="5.15"/><circle cx="248.1" cy="86.9" r="5.15"/><circle cx="281.9" cy="126.1" r="5.15"/><circle cx="280.7" cy="151.3" r="5.15"/><circle cx="255.4" cy="293.6" r="5.15"/><circle cx="248.4" cy="162.2" r="5.15"/><circle cx="227.3" cy="142.4" r="5.15"/><circle cx="330" cy="213.1" r="5.15"/></g><g class="o"><circle cx="266.7" cy="238.7" r="5.15"/><circle cx="191.5" cy="188.8" r="5.15"/><circle cx="263.3" cy="182.1" r="5.15"/><circle cx="242.8" cy="112.6" r="5.15"/><circle cx="268" cy="214.7" r="5.15"/><circle cx="229" cy="177.9" r="5.15"/><circle cx="287.8" cy="201.8" r="5.15"/><circle cx="254.2" cy="252.2" r="5.15"/><circle cx="164.6" cy="113.3" r="5.15"/></g><g class="g"><circle cx="260" cy="111.3" r="5.15"/><circle cx="205.3" cy="149.1" r="5.15"/><circle cx="262.3" cy="137.6" r="5.15"/><circle cx="225.2" cy="326.6" r="5.15"/><circle cx="249.1" cy="119.7" r="5.15"/><circle cx="296.6" cy="101.9" r="5.15"/><circle cx="328" cy="144" r="5.15"/><circle cx="226.5" cy="164.4" r="5.15"/><circle cx="330.6" cy="155.3" r="5.15"/><circle cx="278.4" cy="161.5" r="5.15"/><circle cx="195.9" cy="159.1" r="5.15"/><circle cx="298.4" cy="192.8" r="5.15"/><circle cx="233.7" cy="111.2" r="5.15"/><circle cx="229.3" cy="131.9" r="5.15"/><circle cx="256.9" cy="125.6" r="5.15"/></g><g class="o"><circle cx="194.5" cy="190.3" r="5.15"/><circle cx="201.9" cy="230.6" r="5.15"/><circle cx="195.1" cy="141.2" r="5.15"/><circle cx="245.8" cy="125.1" r="5.15"/><circle cx="289.6" cy="240.8" r="5.15"/><circle cx="238.3" cy="203.4" r="5.15"/><circle cx="151.8" cy="271.6" r="5.15"/><circle cx="214.6" cy="148.9" r="5.15"/><circle cx="246" cy="190.3" r="5.15"/><circle cx="244.5" cy="169.4" r="5.15"/><circle cx="277" cy="180.8" r="5.15"/><circle cx="247.4" cy="126.3" r="5.15"/><circle cx="193" cy="269.3" r="5.15"/><circle cx="194.2" cy="195.1" r="5.15"/><circle cx="179.9" cy="191.9" r="5.15"/></g><g class="g"><circle cx="193" cy="133.1" r="5.15"/><circle cx="211.1" cy="118.9" r="5.15"/><circle cx="216.6" cy="126.1" r="5.15"/><circle cx="278.6" cy="97.7" r="5.15"/><circle cx="248.6" cy="111.4" r="5.15"/><circle cx="268.4" cy="118.1" r="5.15"/><circle cx="254" cy="135" r="5.15"/><circle cx="268.9" cy="138.9" r="5.15"/><circle cx="296" cy="139.6" r="5.15"/></g><g class="o"><circle cx="160.9" cy="274.1" r="5.15"/><circle cx="210.6" cy="210.9" r="5.15"/><circle cx="243.8" cy="127.3" r="5.15"/><circle cx="233.1" cy="140" r="5.15"/><circle cx="248" cy="135.4" r="5.15"/><circle cx="177" cy="169.3" r="5.15"/><circle cx="151.7" cy="160.5" r="5.15"/><circle cx="244.7" cy="149.1" r="5.15"/><circle cx="152.8" cy="171.7" r="5.15"/></g><g class="g"><circle cx="186" cy="198.1" r="5.15"/><circle cx="237.2" cy="132.2" r="5.15"/><circle cx="285" cy="178.9" r="5.15"/><circle cx="316.8" cy="163.9" r="5.15"/><circle cx="306.5" cy="130.8" r="5.15"/><circle cx="219.6" cy="128" r="5.15"/><circle cx="253.8" cy="127.9" r="5.15"/><circle cx="369.7" cy="229.4" r="5.15"/></g>
<path d="M113.6 204.1 L121.4 204.1 L129.3 204 L137.1 204 L145 203.9 L152.8 203.9 L160.6 203.8 L168.5 203.7 L176.3 203.6 L184.2 203.5 L192 203.4 L199.8 203.3 L207.7 203.1 L215.5 202.9 L223.4 202.6 L231.2 202.3 L239 201.9 L246.9 201.3 L254.7 200.5 L262.6 199.6 L270.4 198.4 L278.2 197 L286.1 195.5 L293.9 193.8 L301.8 192.1 L309.6 190.3 L317.4 188.4 L325.3 186.6 L333.1 184.7 L341 182.7 L348.8 180.8 L356.6 178.9 L364.5 176.9 L372.3 174.9 L380.2 173 L388 171 L395.8 169 L403.7 167.1 L411.5 165.1 L419.4 163.1 L427.2 161.1 L427.2 204.6 L419.4 204.6 L411.5 204.7 L403.7 204.7 L395.8 204.8 L388 204.8 L380.2 204.9 L372.3 204.9 L364.5 205 L356.6 205 L348.8 205.1 L341 205.2 L333.1 205.3 L325.3 205.4 L317.4 205.6 L309.6 205.8 L301.8 206 L293.9 206.3 L286.1 206.6 L278.2 207.1 L270.4 207.8 L262.6 208.6 L254.7 209.7 L246.9 210.9 L239 212.4 L231.2 213.9 L223.4 215.6 L215.5 217.4 L207.7 219.2 L199.8 221.1 L192 223 L184.2 224.9 L176.3 226.8 L168.5 228.7 L160.6 230.7 L152.8 232.6 L145 234.6 L137.1 236.6 L129.3 238.5 L121.4 240.5 L113.6 242.5Z" fill="#D46600" fill-opacity=".2"/>
<path d="M113.6 160.1 L121.4 160.8 L129.3 161.5 L137.1 162.2 L145 163 L152.8 163.7 L160.6 164.4 L168.5 165.1 L176.3 165.8 L184.2 166.4 L192 167.1 L199.8 167.7 L207.7 168.3 L215.5 168.8 L223.4 169.3 L231.2 169.7 L239 169.9 L246.9 170 L254.7 169.9 L262.6 169.5 L270.4 169 L278.2 168.3 L286.1 167.5 L293.9 166.5 L301.8 165.5 L309.6 164.5 L317.4 163.4 L325.3 162.3 L333.1 161.2 L341 160.1 L348.8 158.9 L356.6 157.8 L364.5 156.6 L372.3 155.4 L380.2 154.3 L388 153.1 L395.8 151.9 L403.7 150.7 L411.5 149.5 L419.4 148.3 L427.2 147.1 L427.2 191.8 L419.4 191 L411.5 190.3 L403.7 189.5 L395.8 188.8 L388 188 L380.2 187.3 L372.3 186.6 L364.5 185.9 L356.6 185.1 L348.8 184.4 L341 183.7 L333.1 183.1 L325.3 182.4 L317.4 181.7 L309.6 181.1 L301.8 180.5 L293.9 180 L286.1 179.5 L278.2 179.1 L270.4 178.9 L262.6 178.8 L254.7 178.9 L246.9 179.2 L239 179.7 L231.2 180.4 L223.4 181.2 L215.5 182.2 L207.7 183.1 L199.8 184.2 L192 185.2 L184.2 186.3 L176.3 187.5 L168.5 188.6 L160.6 189.7 L152.8 190.9 L145 192 L137.1 193.2 L129.3 194.4 L121.4 195.6 L113.6 196.8Z" fill="#235A24" fill-opacity=".2"/>
<path class="ln" d="M113.6 223.3L427.2 182.8" stroke="#D46600"/>
<path class="ln" d="M113.6 178.4L427.2 169.4" stroke="#235A24"/>
<rect class="bd" x="99.1" y="0.2" width="342.8" height="417.3"/>
<path class="tm" d="M158.4 417.5v-7.3M248 417.5v-7.3M337.6 417.5v-7.3M427.2 417.5v-7.3M99.1 53.1h7.3M99.1 122.3h7.3M99.1 191.5h7.3M99.1 260.7h7.3M99.1 329.9h7.3M99.1 399.1h7.3"/>
<g class="tk"><text x="158.4" y="435.0" text-anchor="middle">−2</text><text x="248" y="435.0" text-anchor="middle">0</text><text x="337.6" y="435.0" text-anchor="middle">2</text><text x="427.2" y="435.0" text-anchor="middle">4</text><text x="96.3" y="59.9" text-anchor="end">2</text><text x="96.3" y="129.1" text-anchor="end">1</text><text x="96.3" y="198.3" text-anchor="end">0</text><text x="96.3" y="267.5" text-anchor="end">−1</text><text x="96.3" y="336.7" text-anchor="end">−2</text><text x="96.3" y="405.9" text-anchor="end">−3</text></g>
<text class="an" x="113.9" y="32.7">DVT<tspan x="157.6">×</tspan><tspan x="173.9">FD</tspan><tspan font-size="14.00" dy="3.4">is</tspan><tspan x="210.2" dy="-3.4">_RE:</tspan><tspan class="it" x="259.2">F</tspan><tspan x="274.8">=</tspan><tspan x="292.5">1.28,</tspan><tspan class="it" x="341.2">P</tspan><tspan x="358">=</tspan><tspan x="374.7">0.257</tspan></text>
<text class="lb" x="3.7" y="34.6" font-size="40.8">a</text>
</g>
<g id="panel-b">
<g class="o"><circle cx="594.6" cy="160.6" r="5.15"/><circle cx="623.3" cy="91.5" r="5.15"/><circle cx="557.5" cy="138.8" r="5.15"/><circle cx="567.8" cy="146.5" r="5.15"/><circle cx="594.5" cy="221.2" r="5.15"/><circle cx="620" cy="277.2" r="5.15"/><circle cx="538.9" cy="178.9" r="5.15"/><circle cx="545.8" cy="158.6" r="5.15"/><circle cx="574.8" cy="260.3" r="5.15"/><circle cx="519.1" cy="322" r="5.15"/><circle cx="518.6" cy="243.9" r="5.15"/><circle cx="555.7" cy="180.3" r="5.15"/><circle cx="565.1" cy="65.4" r="5.15"/></g><g class="g"><circle cx="689.5" cy="120" r="5.15"/><circle cx="649.8" cy="115.9" r="5.15"/><circle cx="627.4" cy="122.3" r="5.15"/><circle cx="700" cy="160.2" r="5.15"/><circle cx="616.1" cy="120.2" r="5.15"/><circle cx="676.5" cy="142.2" r="5.15"/><circle cx="745" cy="103.2" r="5.15"/><circle cx="635.8" cy="140.6" r="5.15"/><circle cx="748.2" cy="165.3" r="5.15"/><circle cx="712.8" cy="160.9" r="5.15"/><circle cx="704" cy="110.3" r="5.15"/></g><g class="o"><circle cx="584.7" cy="193.5" r="5.15"/><circle cx="547.3" cy="188.8" r="5.15"/><circle cx="530.8" cy="200.5" r="5.15"/><circle cx="587.6" cy="168" r="5.15"/><circle cx="537.6" cy="181.8" r="5.15"/><circle cx="567.8" cy="235.7" r="5.15"/><circle cx="518.5" cy="262.8" r="5.15"/><circle cx="540.3" cy="275.8" r="5.15"/><circle cx="564.3" cy="112.7" r="5.15"/><circle cx="622" cy="240.6" r="5.15"/><circle cx="560.9" cy="225.5" r="5.15"/><circle cx="641.7" cy="208.9" r="5.15"/></g><g class="g"><circle cx="598.3" cy="108" r="5.15"/><circle cx="609.5" cy="114" r="5.15"/><circle cx="737.3" cy="164.2" r="5.15"/><circle cx="579.1" cy="146.4" r="5.15"/><circle cx="597" cy="193.2" r="5.15"/><circle cx="597.4" cy="111.5" r="5.15"/><circle cx="658.9" cy="129.4" r="5.15"/><circle cx="672" cy="163.9" r="5.15"/><circle cx="659.6" cy="122.9" r="5.15"/><circle cx="674.1" cy="109.9" r="5.15"/><circle cx="666.5" cy="124.6" r="5.15"/><circle cx="630.5" cy="151.7" r="5.15"/></g><g class="o"><circle cx="623.8" cy="181.1" r="5.15"/><circle cx="594.6" cy="205.5" r="5.15"/><circle cx="572" cy="92" r="5.15"/><circle cx="587.6" cy="202.6" r="5.15"/><circle cx="519.8" cy="239.3" r="5.15"/><circle cx="562.9" cy="185.3" r="5.15"/><circle cx="598.1" cy="197.2" r="5.15"/><circle cx="561.3" cy="215.1" r="5.15"/><circle cx="621.2" cy="157.8" r="5.15"/><circle cx="519" cy="251.1" r="5.15"/><circle cx="574.8" cy="306" r="5.15"/><circle cx="607.7" cy="145.6" r="5.15"/><circle cx="591" cy="117.8" r="5.15"/><circle cx="633.9" cy="131.9" r="5.15"/><circle cx="518.9" cy="283.4" r="5.15"/></g><g class="g"><circle cx="650.4" cy="94" r="5.15"/><circle cx="702" cy="159" r="5.15"/><circle cx="635.8" cy="173" r="5.15"/><circle cx="702.6" cy="140" r="5.15"/><circle cx="620.1" cy="116.4" r="5.15"/><circle cx="642.3" cy="117.7" r="5.15"/><circle cx="728.1" cy="191.5" r="5.15"/><circle cx="628.1" cy="145.3" r="5.15"/><circle cx="606.3" cy="230.1" r="5.15"/></g><g class="o"><circle cx="525.6" cy="177.7" r="5.15"/><circle cx="519.5" cy="254.2" r="5.15"/><circle cx="645.2" cy="132.4" r="5.15"/><circle cx="599.3" cy="143.3" r="5.15"/><circle cx="592.1" cy="155.1" r="5.15"/><circle cx="519.6" cy="223.7" r="5.15"/><circle cx="633" cy="222.6" r="5.15"/><circle cx="567.6" cy="173.8" r="5.15"/><circle cx="572.9" cy="288.6" r="5.15"/><circle cx="583.2" cy="149.7" r="5.15"/><circle cx="552.1" cy="163.2" r="5.15"/></g><g class="g"><circle cx="652.5" cy="135.8" r="5.15"/><circle cx="679.4" cy="161.1" r="5.15"/><circle cx="742.4" cy="90.4" r="5.15"/><circle cx="670.4" cy="147" r="5.15"/><circle cx="640.1" cy="134.4" r="5.15"/><circle cx="708.8" cy="122.5" r="5.15"/><circle cx="564.3" cy="134.6" r="5.15"/><circle cx="656.4" cy="266.2" r="5.15"/><circle cx="697.9" cy="94.6" r="5.15"/><circle cx="647.4" cy="129.1" r="5.15"/><circle cx="611.6" cy="233.9" r="5.15"/><circle cx="738.3" cy="167.1" r="5.15"/><circle cx="604.2" cy="250.2" r="5.15"/></g><g class="o"><circle cx="564.6" cy="245" r="5.15"/><circle cx="665.9" cy="162.6" r="5.15"/><circle cx="558.8" cy="209.7" r="5.15"/><circle cx="598.5" cy="163.6" r="5.15"/><circle cx="614.2" cy="236.4" r="5.15"/><circle cx="576.5" cy="166.4" r="5.15"/><circle cx="602" cy="223.5" r="5.15"/><circle cx="555.5" cy="212.6" r="5.15"/><circle cx="563.8" cy="207.3" r="5.15"/><circle cx="627" cy="222.5" r="5.15"/><circle cx="561.2" cy="201.6" r="5.15"/></g><g class="g"><circle cx="709.4" cy="108.7" r="5.15"/><circle cx="667.4" cy="144.4" r="5.15"/><circle cx="707.7" cy="145.8" r="5.15"/><circle cx="622.8" cy="175.2" r="5.15"/><circle cx="746.6" cy="126.1" r="5.15"/><circle cx="694.5" cy="187.8" r="5.15"/><circle cx="686.8" cy="142.9" r="5.15"/><circle cx="739.2" cy="132.8" r="5.15"/><circle cx="674.9" cy="120.9" r="5.15"/><circle cx="629.7" cy="217.9" r="5.15"/><circle cx="789.9" cy="160.1" r="5.15"/><circle cx="687.7" cy="135.4" r="5.15"/><circle cx="647.3" cy="112.7" r="5.15"/></g><g class="o"><circle cx="566.9" cy="167.2" r="5.15"/><circle cx="520.2" cy="207.3" r="5.15"/><circle cx="579.5" cy="131" r="5.15"/><circle cx="582.2" cy="188.4" r="5.15"/><circle cx="605.9" cy="220.2" r="5.15"/><circle cx="527.9" cy="281.2" r="5.15"/><circle cx="600.8" cy="139.2" r="5.15"/><circle cx="584" cy="226.4" r="5.15"/><circle cx="584.6" cy="201.6" r="5.15"/><circle cx="545.2" cy="156.8" r="5.15"/><circle cx="552.9" cy="228.6" r="5.15"/><circle cx="562.6" cy="115.9" r="5.15"/><circle cx="593.6" cy="219.4" r="5.15"/><circle cx="597" cy="141.8" r="5.15"/><circle cx="587.4" cy="230.3" r="5.15"/><circle cx="648" cy="273.4" r="5.15"/><circle cx="545" cy="234.3" r="5.15"/></g><g class="g"><circle cx="673" cy="124.8" r="5.15"/><circle cx="639.6" cy="274.1" r="5.15"/><circle cx="610.5" cy="181.6" r="5.15"/><circle cx="640.5" cy="127.6" r="5.15"/><circle cx="642.1" cy="127.2" r="5.15"/><circle cx="677.8" cy="152.6" r="5.15"/><circle cx="730" cy="150.1" r="5.15"/></g><g class="o"><circle cx="553" cy="265.2" r="5.15"/><circle cx="541.2" cy="179.9" r="5.15"/><circle cx="566.7" cy="181.9" r="5.15"/><circle cx="578.3" cy="165.9" r="5.15"/><circle cx="548.3" cy="244.7" r="5.15"/><circle cx="669.8" cy="154.2" r="5.15"/><circle cx="519.6" cy="154.3" r="5.15"/><circle cx="634.9" cy="294.8" r="5.15"/><circle cx="651.9" cy="193.1" r="5.15"/><circle cx="581.6" cy="204.1" r="5.15"/><circle cx="587.9" cy="184" r="5.15"/></g><g class="g"><circle cx="618.3" cy="170.5" r="5.15"/><circle cx="635.3" cy="157.2" r="5.15"/><circle cx="679.3" cy="186.9" r="5.15"/><circle cx="698.9" cy="104.4" r="5.15"/><circle cx="558.1" cy="155.4" r="5.15"/><circle cx="618.1" cy="161.8" r="5.15"/><circle cx="702.9" cy="93.5" r="5.15"/><circle cx="714.7" cy="140.6" r="5.15"/><circle cx="674.2" cy="201.1" r="5.15"/><circle cx="599" cy="175.5" r="5.15"/><circle cx="713.7" cy="117.5" r="5.15"/><circle cx="604.4" cy="158.4" r="5.15"/><circle cx="584.7" cy="155.5" r="5.15"/></g><g class="o"><circle cx="585.2" cy="184.4" r="5.15"/><circle cx="597.9" cy="162.1" r="5.15"/><circle cx="574.2" cy="177.3" r="5.15"/><circle cx="577.7" cy="148.3" r="5.15"/><circle cx="560" cy="208.4" r="5.15"/><circle cx="554.8" cy="172.6" r="5.15"/><circle cx="604.1" cy="242" r="5.15"/><circle cx="520.7" cy="215.8" r="5.15"/><circle cx="667.2" cy="131.5" r="5.15"/><circle cx="550.8" cy="219.2" r="5.15"/><circle cx="536.9" cy="232.3" r="5.15"/><circle cx="589.9" cy="152.6" r="5.15"/><circle cx="582.2" cy="152" r="5.15"/></g><g class="g"><circle cx="670.4" cy="154" r="5.15"/><circle cx="628" cy="141.2" r="5.15"/><circle cx="701.8" cy="153.5" r="5.15"/><circle cx="676.8" cy="201" r="5.15"/><circle cx="757.6" cy="146.2" r="5.15"/><circle cx="594" cy="101.8" r="5.15"/><circle cx="633.8" cy="120.3" r="5.15"/><circle cx="681.7" cy="187" r="5.15"/><circle cx="672" cy="115.6" r="5.15"/><circle cx="680.3" cy="160.3" r="5.15"/><circle cx="574.1" cy="152.4" r="5.15"/></g><g class="o"><circle cx="557.4" cy="141.6" r="5.15"/><circle cx="563.8" cy="223.4" r="5.15"/><circle cx="645.1" cy="216.1" r="5.15"/><circle cx="599.6" cy="133.3" r="5.15"/><circle cx="579.8" cy="124.6" r="5.15"/><circle cx="561.5" cy="76.4" r="5.15"/><circle cx="588.3" cy="198.2" r="5.15"/><circle cx="621.8" cy="179" r="5.15"/><circle cx="578.8" cy="248" r="5.15"/><circle cx="574" cy="150.6" r="5.15"/><circle cx="569.3" cy="194.7" r="5.15"/><circle cx="572.1" cy="177.9" r="5.15"/><circle cx="538" cy="122.7" r="5.15"/></g><g class="g"><circle cx="702.5" cy="272.2" r="5.15"/><circle cx="659" cy="152.9" r="5.15"/><circle cx="684.4" cy="144.2" r="5.15"/><circle cx="683.8" cy="131.4" r="5.15"/><circle cx="767.7" cy="257.1" r="5.15"/><circle cx="743.1" cy="152.8" r="5.15"/><circle cx="574.5" cy="175" r="5.15"/><circle cx="665.8" cy="237.7" r="5.15"/><circle cx="675.3" cy="113.1" r="5.15"/><circle cx="694.3" cy="128.5" r="5.15"/><circle cx="718.6" cy="266.4" r="5.15"/></g><g class="o"><circle cx="597.1" cy="161.6" r="5.15"/><circle cx="654.9" cy="226.4" r="5.15"/><circle cx="617.8" cy="215.6" r="5.15"/><circle cx="552.7" cy="332.5" r="5.15"/><circle cx="548.9" cy="133.4" r="5.15"/><circle cx="527.5" cy="198.5" r="5.15"/><circle cx="614.3" cy="197.7" r="5.15"/><circle cx="603.7" cy="241.4" r="5.15"/><circle cx="618.1" cy="208.7" r="5.15"/><circle cx="552.4" cy="139.2" r="5.15"/><circle cx="654" cy="165.5" r="5.15"/></g><g class="g"><circle cx="562.5" cy="153" r="5.15"/><circle cx="697" cy="213.9" r="5.15"/><circle cx="646.2" cy="122.5" r="5.15"/><circle cx="600.2" cy="109.7" r="5.15"/><circle cx="772.8" cy="146.3" r="5.15"/><circle cx="640.7" cy="113.6" r="5.15"/><circle cx="635.6" cy="105.1" r="5.15"/><circle cx="726.9" cy="108.3" r="5.15"/><circle cx="677.5" cy="155.1" r="5.15"/><circle cx="686.8" cy="195.5" r="5.15"/><circle cx="661" cy="142.3" r="5.15"/><circle cx="694.9" cy="247" r="5.15"/><circle cx="652.1" cy="239.6" r="5.15"/></g><g class="o"><circle cx="611.9" cy="187.5" r="5.15"/><circle cx="555.9" cy="154.6" r="5.15"/><circle cx="543.9" cy="111.4" r="5.15"/><circle cx="611.7" cy="210.7" r="5.15"/><circle cx="606.2" cy="99.7" r="5.15"/><circle cx="553.3" cy="166.1" r="5.15"/><circle cx="519.1" cy="299.4" r="5.15"/><circle cx="535.7" cy="225.4" r="5.15"/><circle cx="560.2" cy="193.5" r="5.15"/><circle cx="586.2" cy="136.6" r="5.15"/><circle cx="585.6" cy="187.7" r="5.15"/><circle cx="588.5" cy="253.1" r="5.15"/><circle cx="533" cy="188.6" r="5.15"/><circle cx="555.3" cy="102.5" r="5.15"/></g><g class="g"><circle cx="664.7" cy="153.7" r="5.15"/><circle cx="648.7" cy="136.2" r="5.15"/><circle cx="650.7" cy="184.8" r="5.15"/><circle cx="726.4" cy="129.3" r="5.15"/><circle cx="713.1" cy="128.7" r="5.15"/><circle cx="584" cy="128.6" r="5.15"/><circle cx="749.7" cy="127.4" r="5.15"/><circle cx="668.5" cy="138.5" r="5.15"/><circle cx="592" cy="125.2" r="5.15"/><circle cx="696.2" cy="116.9" r="5.15"/></g><g class="o"><circle cx="597.4" cy="181.5" r="5.15"/><circle cx="570.8" cy="136.3" r="5.15"/><circle cx="540.8" cy="181.9" r="5.15"/><circle cx="568.5" cy="149.7" r="5.15"/><circle cx="582.1" cy="116.9" r="5.15"/><circle cx="585.3" cy="199" r="5.15"/><circle cx="519.6" cy="91.7" r="5.15"/><circle cx="534.4" cy="190.3" r="5.15"/></g><g class="g"><circle cx="564.4" cy="162.6" r="5.15"/><circle cx="611.4" cy="135.9" r="5.15"/><circle cx="653.5" cy="136" r="5.15"/><circle cx="673.8" cy="106.3" r="5.15"/><circle cx="682" cy="118.1" r="5.15"/><circle cx="753.4" cy="129.3" r="5.15"/><circle cx="672.6" cy="203.8" r="5.15"/><circle cx="590.5" cy="192.8" r="5.15"/><circle cx="571.9" cy="190.8" r="5.15"/><circle cx="684" cy="196.1" r="5.15"/><circle cx="687.6" cy="107.7" r="5.15"/><circle cx="589.3" cy="114.1" r="5.15"/><circle cx="698.5" cy="174.6" r="5.15"/><circle cx="704.7" cy="288.6" r="5.15"/><circle cx="699.9" cy="120.9" r="5.15"/><circle cx="675.1" cy="238.8" r="5.15"/></g><g class="o"><circle cx="519.9" cy="272.2" r="5.15"/><circle cx="636.4" cy="280.4" r="5.15"/><circle cx="568.8" cy="247.8" r="5.15"/><circle cx="581.2" cy="175.1" r="5.15"/><circle cx="562.2" cy="221.1" r="5.15"/><circle cx="589.8" cy="125" r="5.15"/><circle cx="582.1" cy="189.1" r="5.15"/><circle cx="591.4" cy="185.3" r="5.15"/><circle cx="595.6" cy="217" r="5.15"/></g><g class="g"><circle cx="688" cy="136.6" r="5.15"/><circle cx="652" cy="102.1" r="5.15"/><circle cx="657.8" cy="102.2" r="5.15"/><circle cx="656.5" cy="170.2" r="5.15"/><circle cx="707.9" cy="126.5" r="5.15"/><circle cx="658.8" cy="246.2" r="5.15"/><circle cx="584.1" cy="194.3" r="5.15"/><circle cx="676.1" cy="356.7" r="5.15"/><circle cx="695.3" cy="210.8" r="5.15"/><circle cx="656.5" cy="154.8" r="5.15"/><circle cx="691" cy="162.7" r="5.15"/><circle cx="690.8" cy="116.3" r="5.15"/><circle cx="662.3" cy="136.4" r="5.15"/><circle cx="626.8" cy="102.1" r="5.15"/><circle cx="656" cy="138.5" r="5.15"/></g><g class="o"><circle cx="551.3" cy="220.7" r="5.15"/><circle cx="579" cy="164" r="5.15"/><circle cx="579.7" cy="235.3" r="5.15"/><circle cx="559.8" cy="146.8" r="5.15"/><circle cx="552.1" cy="213.6" r="5.15"/><circle cx="540.9" cy="192.9" r="5.15"/><circle cx="600.2" cy="178.4" r="5.15"/><circle cx="565.4" cy="231.7" r="5.15"/><circle cx="602.3" cy="203.6" r="5.15"/><circle cx="580.9" cy="223.4" r="5.15"/><circle cx="612.2" cy="322.3" r="5.15"/><circle cx="538.8" cy="238.3" r="5.15"/><circle cx="588.3" cy="172.3" r="5.15"/><circle cx="556" cy="274.3" r="5.15"/><circle cx="544.8" cy="128.4" r="5.15"/><circle cx="651.4" cy="209" r="5.15"/></g><g class="g"><circle cx="673.6" cy="165.1" r="5.15"/><circle cx="682.9" cy="169.3" r="5.15"/><circle cx="674.6" cy="126" r="5.15"/><circle cx="651.7" cy="138.9" r="5.15"/><circle cx="649.3" cy="145" r="5.15"/><circle cx="688.6" cy="142.7" r="5.15"/><circle cx="709.5" cy="230.9" r="5.15"/><circle cx="667.9" cy="112.1" r="5.15"/></g><g class="o"><circle cx="586.3" cy="235.8" r="5.15"/><circle cx="572.9" cy="223.5" r="5.15"/><circle cx="577.8" cy="302.5" r="5.15"/><circle cx="597.3" cy="282.8" r="5.15"/><circle cx="667.9" cy="211.6" r="5.15"/><circle cx="578" cy="138.8" r="5.15"/><circle cx="563.8" cy="140.6" r="5.15"/><circle cx="577.7" cy="231.5" r="5.15"/><circle cx="585.7" cy="167" r="5.15"/><circle cx="568.8" cy="205.6" r="5.15"/><circle cx="594.8" cy="262.2" r="5.15"/></g><g class="g"><circle cx="608" cy="100.6" r="5.15"/><circle cx="584.9" cy="237.1" r="5.15"/><circle cx="808.5" cy="98.3" r="5.15"/><circle cx="688.8" cy="261.6" r="5.15"/><circle cx="693.4" cy="121.6" r="5.15"/><circle cx="600.3" cy="100" r="5.15"/><circle cx="651.5" cy="82.6" r="5.15"/><circle cx="582.5" cy="176.3" r="5.15"/><circle cx="654.8" cy="121.5" r="5.15"/><circle cx="654" cy="189.1" r="5.15"/><circle cx="598.2" cy="146.3" r="5.15"/><circle cx="629.2" cy="100.6" r="5.15"/><circle cx="626" cy="129.2" r="5.15"/></g><g class="o"><circle cx="572.5" cy="116.7" r="5.15"/><circle cx="608.5" cy="253.2" r="5.15"/><circle cx="619.3" cy="184.1" r="5.15"/><circle cx="518.6" cy="130.4" r="5.15"/><circle cx="581.7" cy="192.6" r="5.15"/><circle cx="585.8" cy="170.6" r="5.15"/><circle cx="524.1" cy="132.9" r="5.15"/><circle cx="583" cy="238.9" r="5.15"/><circle cx="609.3" cy="153.9" r="5.15"/><circle cx="608" cy="226.7" r="5.15"/><circle cx="597.2" cy="153.6" r="5.15"/><circle cx="532.3" cy="131.5" r="5.15"/><circle cx="519.7" cy="343.6" r="5.15"/><circle cx="586.3" cy="255.8" r="5.15"/></g><g class="g"><circle cx="610.6" cy="122.7" r="5.15"/><circle cx="617.9" cy="195.7" r="5.15"/><circle cx="666.8" cy="91.4" r="5.15"/><circle cx="786" cy="99.4" r="5.15"/><circle cx="644.9" cy="147.1" r="5.15"/><circle cx="686.3" cy="145.5" r="5.15"/><circle cx="601" cy="199" r="5.15"/><circle cx="666.6" cy="153.2" r="5.15"/><circle cx="603.8" cy="81.9" r="5.15"/><circle cx="624.9" cy="102.6" r="5.15"/></g><g class="o"><circle cx="553.3" cy="152.1" r="5.15"/><circle cx="588" cy="214" r="5.15"/><circle cx="604" cy="214.2" r="5.15"/><circle cx="534.2" cy="148.2" r="5.15"/><circle cx="610.3" cy="280.3" r="5.15"/><circle cx="589.7" cy="113.7" r="5.15"/><circle cx="561.5" cy="176.8" r="5.15"/><circle cx="646.4" cy="127.9" r="5.15"/><circle cx="606.6" cy="154.7" r="5.15"/><circle cx="582.8" cy="189.9" r="5.15"/><circle cx="613" cy="158.6" r="5.15"/><circle cx="537.9" cy="224.3" r="5.15"/><circle cx="553.6" cy="155.2" r="5.15"/><circle cx="596.5" cy="307.5" r="5.15"/></g><g class="g"><circle cx="625.3" cy="137.2" r="5.15"/><circle cx="655.9" cy="224.2" r="5.15"/><circle cx="744.7" cy="122.2" r="5.15"/><circle cx="591.4" cy="104.8" r="5.15"/><circle cx="751.3" cy="152.1" r="5.15"/><circle cx="764.9" cy="117.5" r="5.15"/><circle cx="688" cy="113.8" r="5.15"/><circle cx="791.8" cy="180.7" r="5.15"/><circle cx="707.5" cy="107.8" r="5.15"/><circle cx="703.8" cy="144.2" r="5.15"/></g><g class="o"><circle cx="568.4" cy="237.1" r="5.15"/><circle cx="617.7" cy="281.8" r="5.15"/><circle cx="585" cy="226.7" r="5.15"/><circle cx="574.5" cy="143.3" r="5.15"/><circle cx="578.4" cy="172" r="5.15"/><circle cx="627.6" cy="267.1" r="5.15"/><circle cx="569" cy="125.4" r="5.15"/><circle cx="617.3" cy="240.9" r="5.15"/><circle cx="550.3" cy="140.4" r="5.15"/><circle cx="538.7" cy="178.9" r="5.15"/><circle cx="561.5" cy="156.6" r="5.15"/><circle cx="558.3" cy="122.6" r="5.15"/><circle cx="518.3" cy="217.4" r="5.15"/><circle cx="622.1" cy="125.6" r="5.15"/></g><g class="g"><circle cx="622.9" cy="128.2" r="5.15"/><circle cx="687.9" cy="147.9" r="5.15"/><circle cx="683.5" cy="185.8" r="5.15"/><circle cx="739" cy="169.5" r="5.15"/><circle cx="628" cy="188.7" r="5.15"/><circle cx="703.9" cy="147.7" r="5.15"/><circle cx="587.1" cy="155.8" r="5.15"/><circle cx="645.4" cy="84.8" r="5.15"/><circle cx="695" cy="140.3" r="5.15"/><circle cx="694.6" cy="105.5" r="5.15"/></g><g class="o"><circle cx="608.3" cy="143.7" r="5.15"/><circle cx="601.8" cy="157.7" r="5.15"/><circle cx="554.3" cy="205" r="5.15"/><circle cx="596.5" cy="152.1" r="5.15"/><circle cx="540.8" cy="138.8" r="5.15"/></g><g class="g"><circle cx="631" cy="121.8" r="5.15"/><circle cx="572.2" cy="103.4" r="5.15"/><circle cx="657.9" cy="223.3" r="5.15"/><circle cx="705.1" cy="160.6" r="5.15"/><circle cx="647.1" cy="232.5" r="5.15"/><circle cx="588.3" cy="230" r="5.15"/><circle cx="666.5" cy="146.8" r="5.15"/><circle cx="709" cy="181.1" r="5.15"/><circle cx="693.6" cy="168.9" r="5.15"/><circle cx="655.3" cy="281.4" r="5.15"/><circle cx="619.1" cy="115.2" r="5.15"/><circle cx="675" cy="91.4" r="5.15"/><circle cx="682.5" cy="135.2" r="5.15"/><circle cx="708.5" cy="136.4" r="5.15"/><circle cx="646.7" cy="130.2" r="5.15"/><circle cx="691.5" cy="241.5" r="5.15"/><circle cx="619.7" cy="222.8" r="5.15"/><circle cx="657.5" cy="125.3" r="5.15"/><circle cx="772" cy="139.4" r="5.15"/></g><g class="o"><circle cx="612.1" cy="263" r="5.15"/><circle cx="585.1" cy="301.7" r="5.15"/><circle cx="518.8" cy="321.8" r="5.15"/><circle cx="619.3" cy="282" r="5.15"/><circle cx="537.8" cy="128.4" r="5.15"/><circle cx="567.5" cy="149.4" r="5.15"/><circle cx="605.5" cy="226.4" r="5.15"/><circle cx="539.3" cy="164.8" r="5.15"/><circle cx="518.3" cy="281.1" r="5.15"/><circle cx="608.9" cy="171.4" r="5.15"/><circle cx="602.6" cy="266.1" r="5.15"/><circle cx="573.7" cy="121.2" r="5.15"/><circle cx="540" cy="176.9" r="5.15"/><circle cx="525.6" cy="188.3" r="5.15"/></g><g class="g"><circle cx="584.7" cy="260.1" r="5.15"/><circle cx="620.7" cy="151.9" r="5.15"/><circle cx="676.9" cy="201.9" r="5.15"/><circle cx="659.3" cy="163.9" r="5.15"/><circle cx="637.4" cy="97.3" r="5.15"/><circle cx="612.7" cy="131.4" r="5.15"/><circle cx="670.1" cy="136.5" r="5.15"/><circle cx="750.7" cy="152.9" r="5.15"/><circle cx="713.3" cy="118" r="5.15"/><circle cx="737.2" cy="172.5" r="5.15"/></g><g class="o"><circle cx="554.2" cy="192" r="5.15"/><circle cx="564.3" cy="104.2" r="5.15"/><circle cx="591.8" cy="116.8" r="5.15"/><circle cx="628.2" cy="152.5" r="5.15"/><circle cx="541.7" cy="233" r="5.15"/><circle cx="539.7" cy="222" r="5.15"/><circle cx="542.4" cy="150.4" r="5.15"/><circle cx="538.1" cy="123.3" r="5.15"/><circle cx="616.4" cy="233.2" r="5.15"/><circle cx="567.7" cy="185.6" r="5.15"/><circle cx="562.8" cy="131.7" r="5.15"/><circle cx="608.4" cy="240.2" r="5.15"/><circle cx="583.4" cy="244.6" r="5.15"/></g><g class="g"><circle cx="575.6" cy="264.5" r="5.15"/><circle cx="782.6" cy="133.1" r="5.15"/><circle cx="572.2" cy="143.8" r="5.15"/><circle cx="642.8" cy="113.7" r="5.15"/><circle cx="680.4" cy="199.2" r="5.15"/><circle cx="608" cy="170.1" r="5.15"/><circle cx="629.4" cy="108.6" r="5.15"/><circle cx="639.4" cy="161.1" r="5.15"/><circle cx="634.6" cy="167.9" r="5.15"/><circle cx="631.1" cy="116.2" r="5.15"/><circle cx="643.9" cy="153.5" r="5.15"/></g><g class="o"><circle cx="579.7" cy="143.8" r="5.15"/><circle cx="616" cy="169.8" r="5.15"/><circle cx="565.8" cy="215.7" r="5.15"/><circle cx="600" cy="130.3" r="5.15"/><circle cx="545.4" cy="162.1" r="5.15"/><circle cx="554.7" cy="200.3" r="5.15"/><circle cx="520.4" cy="241.5" r="5.15"/><circle cx="590.7" cy="160.2" r="5.15"/><circle cx="539.2" cy="203" r="5.15"/><circle cx="641.4" cy="142.4" r="5.15"/><circle cx="519.8" cy="135.4" r="5.15"/></g><g class="g"><circle cx="609.4" cy="158.6" r="5.15"/><circle cx="744.9" cy="148.8" r="5.15"/><circle cx="680.8" cy="219.6" r="5.15"/><circle cx="677.8" cy="112.8" r="5.15"/><circle cx="652.4" cy="78.5" r="5.15"/><circle cx="782.8" cy="104.7" r="5.15"/><circle cx="712.4" cy="141.5" r="5.15"/><circle cx="665.3" cy="115.9" r="5.15"/><circle cx="728.1" cy="196.1" r="5.15"/><circle cx="635.7" cy="223.3" r="5.15"/><circle cx="682.8" cy="125.9" r="5.15"/><circle cx="621.2" cy="178.1" r="5.15"/><circle cx="657.1" cy="115.3" r="5.15"/></g><g class="o"><circle cx="563.1" cy="248.2" r="5.15"/><circle cx="573.5" cy="203.5" r="5.15"/><circle cx="518.9" cy="70.1" r="5.15"/><circle cx="536.2" cy="149.9" r="5.15"/><circle cx="594.4" cy="278.1" r="5.15"/><circle cx="582.4" cy="180.5" r="5.15"/><circle cx="603" cy="125.1" r="5.15"/><circle cx="530.5" cy="168.6" r="5.15"/><circle cx="609.8" cy="107.8" r="5.15"/></g><g class="g"><circle cx="670.1" cy="122.5" r="5.15"/><circle cx="606.4" cy="210.6" r="5.15"/><circle cx="619.5" cy="139.4" r="5.15"/><circle cx="700.1" cy="194.4" r="5.15"/><circle cx="601.2" cy="104.6" r="5.15"/><circle cx="609.3" cy="113.3" r="5.15"/><circle cx="663.5" cy="126.8" r="5.15"/><circle cx="638.6" cy="164.7" r="5.15"/><circle cx="601.9" cy="138.5" r="5.15"/><circle cx="619.7" cy="116.1" r="5.15"/><circle cx="727.5" cy="93.1" r="5.15"/><circle cx="680.7" cy="161" r="5.15"/><circle cx="678.3" cy="107.1" r="5.15"/><circle cx="626.8" cy="323.8" r="5.15"/><circle cx="668.7" cy="248.3" r="5.15"/></g><g class="o"><circle cx="574.5" cy="170" r="5.15"/><circle cx="519.3" cy="223.7" r="5.15"/><circle cx="588.6" cy="241" r="5.15"/><circle cx="618.4" cy="258.1" r="5.15"/><circle cx="613.3" cy="245.1" r="5.15"/><circle cx="600.6" cy="225.2" r="5.15"/><circle cx="536.5" cy="287.2" r="5.15"/><circle cx="568.8" cy="185.6" r="5.15"/><circle cx="555.8" cy="160.7" r="5.15"/><circle cx="643.7" cy="265" r="5.15"/><circle cx="622.4" cy="168.8" r="5.15"/><circle cx="635.1" cy="258.1" r="5.15"/><circle cx="548.2" cy="199.9" r="5.15"/><circle cx="613" cy="214.5" r="5.15"/></g><g class="g"><circle cx="674.9" cy="103.2" r="5.15"/><circle cx="793.9" cy="151.2" r="5.15"/><circle cx="657.2" cy="107.8" r="5.15"/><circle cx="621.3" cy="120.7" r="5.15"/><circle cx="557.3" cy="107.8" r="5.15"/><circle cx="696.5" cy="137.8" r="5.15"/><circle cx="721.6" cy="126.7" r="5.15"/><circle cx="704.4" cy="201.5" r="5.15"/><circle cx="546.1" cy="181.4" r="5.15"/><circle cx="632.1" cy="114.3" r="5.15"/></g><g class="o"><circle cx="557.6" cy="173.7" r="5.15"/><circle cx="519.4" cy="266.5" r="5.15"/><circle cx="565.1" cy="244.9" r="5.15"/><circle cx="619.2" cy="173.3" r="5.15"/><circle cx="518.9" cy="234.9" r="5.15"/><circle cx="599.1" cy="224" r="5.15"/><circle cx="520.2" cy="189.7" r="5.15"/><circle cx="578.9" cy="149.8" r="5.15"/></g><g class="g"><circle cx="672.7" cy="156.2" r="5.15"/><circle cx="567.1" cy="103.7" r="5.15"/><circle cx="650.7" cy="150.3" r="5.15"/><circle cx="710.5" cy="307.7" r="5.15"/><circle cx="762.4" cy="121.4" r="5.15"/><circle cx="662.3" cy="128.9" r="5.15"/><circle cx="584.4" cy="205" r="5.15"/><circle cx="619.6" cy="186" r="5.15"/><circle cx="662.5" cy="162" r="5.15"/><circle cx="701.5" cy="126.7" r="5.15"/><circle cx="676" cy="119.6" r="5.15"/><circle cx="645.8" cy="146.4" r="5.15"/><circle cx="690.1" cy="285.6" r="5.15"/><circle cx="688.5" cy="252.9" r="5.15"/><circle cx="616.8" cy="106.2" r="5.15"/><circle cx="737.2" cy="165.9" r="5.15"/></g><g class="o"><circle cx="567.2" cy="189.9" r="5.15"/><circle cx="561.3" cy="283.3" r="5.15"/><circle cx="574.7" cy="247.9" r="5.15"/><circle cx="581.1" cy="160" r="5.15"/><circle cx="585.6" cy="205.2" r="5.15"/><circle cx="531.3" cy="255.8" r="5.15"/><circle cx="519.7" cy="85.3" r="5.15"/><circle cx="620.4" cy="185" r="5.15"/><circle cx="603.4" cy="160.2" r="5.15"/><circle cx="632.4" cy="348.1" r="5.15"/></g><g class="g"><circle cx="654.7" cy="90.7" r="5.15"/><circle cx="731.3" cy="157" r="5.15"/><circle cx="678" cy="133.2" r="5.15"/><circle cx="571" cy="170.6" r="5.15"/><circle cx="675.6" cy="104.2" r="5.15"/><circle cx="714" cy="134" r="5.15"/><circle cx="719.1" cy="157.5" r="5.15"/><circle cx="726.6" cy="97.7" r="5.15"/><circle cx="617.9" cy="120.2" r="5.15"/><circle cx="718.6" cy="124.4" r="5.15"/><circle cx="607.8" cy="121.3" r="5.15"/><circle cx="550" cy="157.8" r="5.15"/><circle cx="653.3" cy="94.9" r="5.15"/><circle cx="631.3" cy="171.1" r="5.15"/></g><g class="o"><circle cx="609.6" cy="211.9" r="5.15"/><circle cx="544.4" cy="271.9" r="5.15"/><circle cx="548.1" cy="296.8" r="5.15"/><circle cx="592.6" cy="210.2" r="5.15"/><circle cx="577.8" cy="239.4" r="5.15"/><circle cx="596" cy="83.5" r="5.15"/><circle cx="570.5" cy="186.9" r="5.15"/><circle cx="652.8" cy="240" r="5.15"/><circle cx="617.7" cy="141.2" r="5.15"/><circle cx="575.8" cy="293.4" r="5.15"/><circle cx="528.8" cy="172.1" r="5.15"/><circle cx="566.4" cy="157.7" r="5.15"/><circle cx="523.9" cy="105.5" r="5.15"/><circle cx="589.9" cy="262.4" r="5.15"/><circle cx="582.8" cy="223.4" r="5.15"/></g><g class="g"><circle cx="648" cy="120.1" r="5.15"/><circle cx="665" cy="136.8" r="5.15"/><circle cx="631.2" cy="185.2" r="5.15"/><circle cx="626.6" cy="120.4" r="5.15"/><circle cx="596.1" cy="111.7" r="5.15"/><circle cx="583.5" cy="107.7" r="5.15"/><circle cx="796.8" cy="151.2" r="5.15"/><circle cx="683.4" cy="130.8" r="5.15"/><circle cx="766.6" cy="119.6" r="5.15"/></g><g class="o"><circle cx="602.6" cy="180.7" r="5.15"/><circle cx="554.7" cy="141.7" r="5.15"/><circle cx="582.3" cy="255.6" r="5.15"/><circle cx="598.8" cy="233.5" r="5.15"/><circle cx="581.6" cy="179.4" r="5.15"/><circle cx="574.9" cy="176.8" r="5.15"/><circle cx="519" cy="300.6" r="5.15"/><circle cx="607.2" cy="163" r="5.15"/><circle cx="518.6" cy="312.5" r="5.15"/><circle cx="520.5" cy="235" r="5.15"/><circle cx="575.3" cy="261.1" r="5.15"/><circle cx="608" cy="257.2" r="5.15"/><circle cx="518.6" cy="302.7" r="5.15"/></g><g class="g"><circle cx="625" cy="235.3" r="5.15"/><circle cx="618.7" cy="273.9" r="5.15"/><circle cx="700.3" cy="122.6" r="5.15"/><circle cx="656.9" cy="189.1" r="5.15"/><circle cx="697.1" cy="106.2" r="5.15"/><circle cx="598.2" cy="114.2" r="5.15"/><circle cx="682.1" cy="155.3" r="5.15"/><circle cx="583.9" cy="112.5" r="5.15"/><circle cx="688.8" cy="158.9" r="5.15"/><circle cx="657.7" cy="163.4" r="5.15"/><circle cx="644.7" cy="103.5" r="5.15"/></g><g class="o"><circle cx="552.7" cy="152" r="5.15"/><circle cx="613.1" cy="234.6" r="5.15"/><circle cx="556.3" cy="155.5" r="5.15"/><circle cx="559.8" cy="165.7" r="5.15"/><circle cx="597.3" cy="141.9" r="5.15"/><circle cx="573.1" cy="194.2" r="5.15"/><circle cx="576.5" cy="158.1" r="5.15"/><circle cx="618.5" cy="110.9" r="5.15"/><circle cx="587.5" cy="199.5" r="5.15"/><circle cx="594.2" cy="139.1" r="5.15"/><circle cx="601.9" cy="308.2" r="5.15"/><circle cx="542.3" cy="119" r="5.15"/></g><g class="g"><circle cx="552.3" cy="205.9" r="5.15"/><circle cx="658.7" cy="133.6" r="5.15"/><circle cx="625.9" cy="121.1" r="5.15"/><circle cx="611.2" cy="152.1" r="5.15"/><circle cx="677.1" cy="125.8" r="5.15"/><circle cx="660.6" cy="155.1" r="5.15"/><circle cx="609.5" cy="229.8" r="5.15"/><circle cx="698" cy="121.4" r="5.15"/><circle cx="619.6" cy="128.5" r="5.15"/><circle cx="655.5" cy="94" r="5.15"/><circle cx="538.7" cy="155.4" r="5.15"/><circle cx="671.8" cy="111.6" r="5.15"/></g><g class="o"><circle cx="575.7" cy="201.4" r="5.15"/><circle cx="635" cy="210.6" r="5.15"/><circle cx="519.4" cy="65.4" r="5.15"/><circle cx="525.3" cy="206.9" r="5.15"/><circle cx="609.4" cy="176.4" r="5.15"/><circle cx="627.5" cy="167.6" r="5.15"/><circle cx="675.4" cy="199" r="5.15"/><circle cx="552.4" cy="155" r="5.15"/><circle cx="611.1" cy="153.1" r="5.15"/><circle cx="568.1" cy="199.1" r="5.15"/></g><g class="g"><circle cx="726.1" cy="116" r="5.15"/><circle cx="625.6" cy="108.3" r="5.15"/><circle cx="726.4" cy="164.6" r="5.15"/><circle cx="690.1" cy="156.8" r="5.15"/><circle cx="679.8" cy="125.5" r="5.15"/><circle cx="745.1" cy="129.9" r="5.15"/><circle cx="676.2" cy="175.2" r="5.15"/><circle cx="642.5" cy="103.1" r="5.15"/><circle cx="636.7" cy="113" r="5.15"/><circle cx="598.6" cy="146.8" r="5.15"/><circle cx="595.7" cy="138" r="5.15"/><circle cx="643.6" cy="168.8" r="5.15"/><circle cx="647.3" cy="305.3" r="5.15"/><circle cx="695.1" cy="91.6" r="5.15"/></g><g class="o"><circle cx="569.9" cy="126.2" r="5.15"/><circle cx="597.9" cy="218.8" r="5.15"/><circle cx="559.2" cy="146" r="5.15"/><circle cx="519.3" cy="317.9" r="5.15"/><circle cx="618.5" cy="182.4" r="5.15"/><circle cx="586.3" cy="181.7" r="5.15"/><circle cx="616.8" cy="168.9" r="5.15"/><circle cx="591.7" cy="262.1" r="5.15"/><circle cx="607.9" cy="141.7" r="5.15"/><circle cx="632.9" cy="244.6" r="5.15"/><circle cx="615.8" cy="181.7" r="5.15"/><circle cx="572.7" cy="284.8" r="5.15"/><circle cx="575.9" cy="148.9" r="5.15"/></g><g class="g"><circle cx="583.3" cy="234.9" r="5.15"/><circle cx="585.4" cy="143.3" r="5.15"/><circle cx="651.8" cy="122.5" r="5.15"/><circle cx="759.5" cy="160.8" r="5.15"/><circle cx="708.1" cy="234.4" r="5.15"/><circle cx="716.9" cy="139.9" r="5.15"/><circle cx="682.3" cy="203.1" r="5.15"/><circle cx="721.4" cy="143.4" r="5.15"/><circle cx="698.4" cy="115.3" r="5.15"/><circle cx="605.1" cy="159.5" r="5.15"/><circle cx="659.6" cy="85.3" r="5.15"/></g><g class="o"><circle cx="555.4" cy="236.4" r="5.15"/><circle cx="575.3" cy="230.8" r="5.15"/><circle cx="600.7" cy="144.9" r="5.15"/><circle cx="583.2" cy="184.6" r="5.15"/><circle cx="600.9" cy="237.2" r="5.15"/><circle cx="618.6" cy="225.5" r="5.15"/><circle cx="582" cy="206.9" r="5.15"/><circle cx="655.3" cy="215.7" r="5.15"/><circle cx="519.8" cy="325.5" r="5.15"/><circle cx="577.2" cy="125.7" r="5.15"/></g><g class="g"><circle cx="718.2" cy="111.3" r="5.15"/><circle cx="647.3" cy="133.5" r="5.15"/><circle cx="663.9" cy="209.9" r="5.15"/><circle cx="695.6" cy="172.1" r="5.15"/><circle cx="677.3" cy="141.7" r="5.15"/><circle cx="588.7" cy="119.5" r="5.15"/><circle cx="683.4" cy="211.7" r="5.15"/><circle cx="721.9" cy="153.8" r="5.15"/><circle cx="690.4" cy="131.7" r="5.15"/><circle cx="644.5" cy="130.5" r="5.15"/><circle cx="625.9" cy="123.4" r="5.15"/><circle cx="611.8" cy="146.9" r="5.15"/><circle cx="713.7" cy="114.5" r="5.15"/><circle cx="579.7" cy="99.7" r="5.15"/></g><g class="o"><circle cx="520.4" cy="292.4" r="5.15"/><circle cx="631.7" cy="307.6" r="5.15"/><circle cx="518.1" cy="64" r="5.15"/><circle cx="592.7" cy="152.3" r="5.15"/><circle cx="583.5" cy="141.1" r="5.15"/><circle cx="576.4" cy="104" r="5.15"/><circle cx="553.7" cy="166.8" r="5.15"/><circle cx="588.1" cy="250.6" r="5.15"/><circle cx="519.6" cy="204" r="5.15"/><circle cx="636.6" cy="310.4" r="5.15"/><circle cx="635.7" cy="101.4" r="5.15"/></g><g class="g"><circle cx="677.7" cy="146.4" r="5.15"/><circle cx="656.1" cy="176.9" r="5.15"/><circle cx="635.4" cy="90.8" r="5.15"/><circle cx="716.1" cy="210.1" r="5.15"/><circle cx="720.8" cy="109.9" r="5.15"/><circle cx="652.8" cy="231.1" r="5.15"/><circle cx="635.8" cy="119.9" r="5.15"/><circle cx="591.8" cy="118.6" r="5.15"/><circle cx="726" cy="134.8" r="5.15"/><circle cx="680.6" cy="122.4" r="5.15"/><circle cx="651.6" cy="121.8" r="5.15"/><circle cx="591.3" cy="196.7" r="5.15"/><circle cx="558.2" cy="149.6" r="5.15"/></g><g class="o"><circle cx="549.5" cy="243.9" r="5.15"/><circle cx="611" cy="159.2" r="5.15"/><circle cx="559.8" cy="191.4" r="5.15"/><circle cx="521" cy="129.5" r="5.15"/><circle cx="519.5" cy="268.3" r="5.15"/><circle cx="545.9" cy="204.9" r="5.15"/><circle cx="631.6" cy="164.8" r="5.15"/><circle cx="623.8" cy="134.5" r="5.15"/><circle cx="616.6" cy="226.1" r="5.15"/><circle cx="594.8" cy="258.3" r="5.15"/><circle cx="601.9" cy="167.3" r="5.15"/><circle cx="519.8" cy="68.8" r="5.15"/></g><g class="g"><circle cx="601.1" cy="119.9" r="5.15"/><circle cx="636.8" cy="118.9" r="5.15"/><circle cx="567.2" cy="222.8" r="5.15"/><circle cx="666.9" cy="71.7" r="5.15"/><circle cx="659.5" cy="122.7" r="5.15"/><circle cx="707.7" cy="102.3" r="5.15"/><circle cx="566.1" cy="154.1" r="5.15"/><circle cx="705" cy="140.9" r="5.15"/><circle cx="640.3" cy="115.3" r="5.15"/><circle cx="674.3" cy="93.5" r="5.15"/><circle cx="554.7" cy="297" r="5.15"/><circle cx="653.8" cy="320.3" r="5.15"/></g><g class="o"><circle cx="590.4" cy="258.1" r="5.15"/><circle cx="591.9" cy="286" r="5.15"/><circle cx="519.4" cy="90.3" r="5.15"/><circle cx="535.9" cy="284.3" r="5.15"/><circle cx="658.1" cy="192.7" r="5.15"/><circle cx="584.6" cy="182.8" r="5.15"/><circle cx="607.4" cy="184.6" r="5.15"/><circle cx="598" cy="154" r="5.15"/><circle cx="548.9" cy="191.7" r="5.15"/><circle cx="594.3" cy="228.6" r="5.15"/><circle cx="581" cy="175.4" r="5.15"/><circle cx="592" cy="171.3" r="5.15"/></g><g class="g"><circle cx="646.5" cy="289.3" r="5.15"/><circle cx="754.4" cy="174.5" r="5.15"/><circle cx="650.1" cy="122.4" r="5.15"/><circle cx="704.8" cy="100.3" r="5.15"/><circle cx="693.1" cy="149.6" r="5.15"/><circle cx="669.6" cy="132.7" r="5.15"/><circle cx="703.5" cy="101.6" r="5.15"/><circle cx="724.5" cy="115.7" r="5.15"/><circle cx="636.7" cy="117" r="5.15"/><circle cx="662.9" cy="178.6" r="5.15"/><circle cx="639.6" cy="102.5" r="5.15"/><circle cx="537.2" cy="141.2" r="5.15"/></g><g class="o"><circle cx="542.6" cy="152.8" r="5.15"/><circle cx="554.6" cy="157" r="5.15"/><circle cx="607.2" cy="263.3" r="5.15"/><circle cx="628" cy="168.2" r="5.15"/><circle cx="518.5" cy="339.7" r="5.15"/><circle cx="635.4" cy="204.4" r="5.15"/><circle cx="545.2" cy="187" r="5.15"/><circle cx="568.4" cy="229.4" r="5.15"/><circle cx="588.4" cy="238.2" r="5.15"/><circle cx="636.8" cy="132.1" r="5.15"/><circle cx="601.2" cy="166.3" r="5.15"/><circle cx="538" cy="268.2" r="5.15"/><circle cx="626.3" cy="188.6" r="5.15"/></g><g class="g"><circle cx="737.6" cy="142.1" r="5.15"/><circle cx="633.6" cy="127" r="5.15"/><circle cx="715" cy="133.8" r="5.15"/><circle cx="689" cy="169.1" r="5.15"/><circle cx="704.1" cy="129" r="5.15"/><circle cx="609.8" cy="119" r="5.15"/><circle cx="673.8" cy="221.6" r="5.15"/><circle cx="699.3" cy="132.8" r="5.15"/><circle cx="637.3" cy="122.7" r="5.15"/><circle cx="705.8" cy="287.5" r="5.15"/><circle cx="617.6" cy="98" r="5.15"/></g><g class="o"><circle cx="579.6" cy="152.5" r="5.15"/><circle cx="535.1" cy="175.8" r="5.15"/><circle cx="595.4" cy="176.6" r="5.15"/><circle cx="576.1" cy="179.2" r="5.15"/><circle cx="614.9" cy="170.4" r="5.15"/><circle cx="627.4" cy="200" r="5.15"/><circle cx="625.9" cy="178.4" r="5.15"/><circle cx="596.8" cy="115.2" r="5.15"/><circle cx="548.9" cy="207.9" r="5.15"/><circle cx="573.9" cy="254.8" r="5.15"/><circle cx="530" cy="205.1" r="5.15"/></g><g class="g"><circle cx="662.2" cy="140.2" r="5.15"/><circle cx="642.2" cy="311.6" r="5.15"/><circle cx="602.1" cy="217.1" r="5.15"/><circle cx="569.7" cy="230.1" r="5.15"/><circle cx="680.2" cy="177.6" r="5.15"/><circle cx="648.9" cy="138.7" r="5.15"/><circle cx="704.8" cy="116.2" r="5.15"/><circle cx="682" cy="130" r="5.15"/><circle cx="673.6" cy="115.3" r="5.15"/><circle cx="689.1" cy="132.6" r="5.15"/><circle cx="735.2" cy="301.2" r="5.15"/><circle cx="714.6" cy="131.2" r="5.15"/><circle cx="658.8" cy="121.9" r="5.15"/></g><g class="o"><circle cx="639.8" cy="200.5" r="5.15"/><circle cx="595.2" cy="185.1" r="5.15"/><circle cx="656.8" cy="260.3" r="5.15"/><circle cx="578.6" cy="313.4" r="5.15"/><circle cx="582.7" cy="180.2" r="5.15"/><circle cx="623.1" cy="266.8" r="5.15"/><circle cx="585.8" cy="206.6" r="5.15"/><circle cx="587.7" cy="90.4" r="5.15"/><circle cx="618.2" cy="202.8" r="5.15"/><circle cx="599.1" cy="203.1" r="5.15"/><circle cx="569.5" cy="178.3" r="5.15"/></g><g class="g"><circle cx="726.4" cy="132.9" r="5.15"/><circle cx="703.5" cy="125.4" r="5.15"/><circle cx="695.6" cy="160.1" r="5.15"/><circle cx="675.9" cy="106.3" r="5.15"/><circle cx="738.9" cy="124.8" r="5.15"/><circle cx="697.4" cy="187.7" r="5.15"/><circle cx="599.5" cy="173.9" r="5.15"/><circle cx="706.5" cy="115.3" r="5.15"/><circle cx="692.6" cy="275.4" r="5.15"/><circle cx="682.2" cy="257.1" r="5.15"/><circle cx="668.9" cy="133.1" r="5.15"/><circle cx="573.2" cy="169.7" r="5.15"/><circle cx="711.8" cy="165.3" r="5.15"/></g><g class="o"><circle cx="559.1" cy="221.6" r="5.15"/><circle cx="574.1" cy="111.7" r="5.15"/><circle cx="611.8" cy="217.1" r="5.15"/><circle cx="559" cy="197.4" r="5.15"/><circle cx="602.1" cy="120.9" r="5.15"/><circle cx="618.9" cy="135.7" r="5.15"/><circle cx="668.9" cy="239.6" r="5.15"/><circle cx="541.7" cy="177.9" r="5.15"/><circle cx="529" cy="199.5" r="5.15"/><circle cx="525.8" cy="144.4" r="5.15"/><circle cx="578.2" cy="126.1" r="5.15"/><circle cx="519.8" cy="119.5" r="5.15"/><circle cx="528.1" cy="173.9" r="5.15"/><circle cx="653.4" cy="148.3" r="5.15"/></g><g class="g"><circle cx="600.3" cy="215.2" r="5.15"/><circle cx="631.8" cy="118.2" r="5.15"/><circle cx="609" cy="106.4" r="5.15"/><circle cx="664.7" cy="156.1" r="5.15"/><circle cx="616.6" cy="117" r="5.15"/><circle cx="593.2" cy="184.7" r="5.15"/><circle cx="599.1" cy="163.6" r="5.15"/><circle cx="638.9" cy="128.6" r="5.15"/><circle cx="661.5" cy="85.3" r="5.15"/><circle cx="710" cy="144.6" r="5.15"/></g><g class="o"><circle cx="563.7" cy="216.3" r="5.15"/><circle cx="589.9" cy="248" r="5.15"/><circle cx="606.5" cy="324.8" r="5.15"/><circle cx="603.7" cy="149.6" r="5.15"/><circle cx="592.7" cy="185.6" r="5.15"/><circle cx="639.9" cy="238.6" r="5.15"/><circle cx="562.2" cy="165.7" r="5.15"/><circle cx="519.5" cy="298.7" r="5.15"/><circle cx="629.6" cy="211.7" r="5.15"/><circle cx="567.9" cy="245.7" r="5.15"/><circle cx="592.2" cy="194.8" r="5.15"/><circle cx="612" cy="208.7" r="5.15"/><circle cx="560.8" cy="110.1" r="5.15"/><circle cx="566.4" cy="279.6" r="5.15"/></g><g class="g"><circle cx="732.5" cy="162.2" r="5.15"/><circle cx="613.5" cy="176.2" r="5.15"/><circle cx="738.2" cy="123.1" r="5.15"/><circle cx="605.1" cy="130.1" r="5.15"/><circle cx="788.3" cy="122.3" r="5.15"/><circle cx="571.5" cy="291.7" r="5.15"/><circle cx="591.2" cy="131.5" r="5.15"/><circle cx="646.7" cy="167.9" r="5.15"/><circle cx="745.5" cy="149.3" r="5.15"/><circle cx="615.8" cy="257" r="5.15"/></g><g class="o"><circle cx="590.5" cy="162" r="5.15"/><circle cx="574.2" cy="272.4" r="5.15"/><circle cx="558" cy="257.3" r="5.15"/><circle cx="561.3" cy="189.5" r="5.15"/><circle cx="613" cy="200" r="5.15"/><circle cx="568.6" cy="276.2" r="5.15"/><circle cx="556" cy="135.4" r="5.15"/><circle cx="556.3" cy="87.2" r="5.15"/><circle cx="551.2" cy="207.9" r="5.15"/><circle cx="587.9" cy="209.2" r="5.15"/><circle cx="562.2" cy="175.6" r="5.15"/><circle cx="546.2" cy="317" r="5.15"/><circle cx="586.3" cy="142.2" r="5.15"/></g><g class="g"><circle cx="614.1" cy="168.7" r="5.15"/><circle cx="620.9" cy="127" r="5.15"/><circle cx="642.8" cy="176.5" r="5.15"/><circle cx="648.1" cy="110.6" r="5.15"/><circle cx="698" cy="126" r="5.15"/><circle cx="709.5" cy="202.5" r="5.15"/><circle cx="727.1" cy="123.2" r="5.15"/><circle cx="671.8" cy="142" r="5.15"/><circle cx="583.8" cy="107.7" r="5.15"/><circle cx="615" cy="139" r="5.15"/><circle cx="668.2" cy="149.5" r="5.15"/></g><g class="o"><circle cx="519.5" cy="69.3" r="5.15"/><circle cx="559.3" cy="287.2" r="5.15"/><circle cx="639" cy="126.6" r="5.15"/><circle cx="580.6" cy="351.6" r="5.15"/><circle cx="674" cy="215.2" r="5.15"/><circle cx="559.2" cy="199.7" r="5.15"/><circle cx="549.1" cy="140.8" r="5.15"/><circle cx="572.7" cy="149.6" r="5.15"/></g><g class="g"><circle cx="665.3" cy="101.5" r="5.15"/><circle cx="604.3" cy="196.3" r="5.15"/><circle cx="708" cy="175.6" r="5.15"/><circle cx="797.8" cy="125.8" r="5.15"/><circle cx="685.7" cy="129.5" r="5.15"/><circle cx="652.6" cy="116.3" r="5.15"/><circle cx="700.6" cy="203.6" r="5.15"/><circle cx="576.3" cy="131.1" r="5.15"/><circle cx="701.2" cy="76.3" r="5.15"/><circle cx="642.3" cy="242.1" r="5.15"/><circle cx="706.8" cy="141.7" r="5.15"/><circle cx="668.3" cy="282.6" r="5.15"/><circle cx="610" cy="146.5" r="5.15"/><circle cx="694.4" cy="122.7" r="5.15"/><circle cx="737.2" cy="141.1" r="5.15"/><circle cx="673.5" cy="133.3" r="5.15"/></g><g class="o"><circle cx="589.4" cy="232.6" r="5.15"/><circle cx="597.3" cy="74.9" r="5.15"/><circle cx="559.6" cy="161.5" r="5.15"/><circle cx="574.1" cy="217.6" r="5.15"/><circle cx="660.4" cy="219.9" r="5.15"/><circle cx="555.9" cy="209.4" r="5.15"/><circle cx="540.4" cy="141.2" r="5.15"/><circle cx="579.6" cy="127.8" r="5.15"/><circle cx="576" cy="174.2" r="5.15"/><circle cx="564.7" cy="171.8" r="5.15"/></g><g class="g"><circle cx="648.4" cy="142.9" r="5.15"/><circle cx="697.6" cy="105" r="5.15"/><circle cx="612.5" cy="108.2" r="5.15"/><circle cx="688.9" cy="130.3" r="5.15"/><circle cx="613" cy="93.2" r="5.15"/><circle cx="663.2" cy="129.9" r="5.15"/><circle cx="787.1" cy="133.1" r="5.15"/><circle cx="682.4" cy="117.5" r="5.15"/><circle cx="660.3" cy="120.2" r="5.15"/><circle cx="690.8" cy="125" r="5.15"/><circle cx="670.9" cy="117.3" r="5.15"/><circle cx="699.6" cy="123.9" r="5.15"/><circle cx="702.4" cy="243.2" r="5.15"/><circle cx="611" cy="189" r="5.15"/></g><g class="o"><circle cx="539.4" cy="159.4" r="5.15"/><circle cx="608.1" cy="175.3" r="5.15"/><circle cx="622.4" cy="188.7" r="5.15"/><circle cx="586" cy="217.1" r="5.15"/><circle cx="607.8" cy="172.7" r="5.15"/><circle cx="568.2" cy="133.8" r="5.15"/><circle cx="586.2" cy="160.9" r="5.15"/><circle cx="592.8" cy="141.5" r="5.15"/><circle cx="537.6" cy="186.9" r="5.15"/><circle cx="553.5" cy="170.9" r="5.15"/><circle cx="557.5" cy="294.4" r="5.15"/><circle cx="543.2" cy="154.9" r="5.15"/><circle cx="592.7" cy="253.7" r="5.15"/><circle cx="602.8" cy="168.2" r="5.15"/></g><g class="g"><circle cx="740.5" cy="160.3" r="5.15"/><circle cx="722" cy="114.6" r="5.15"/><circle cx="702.4" cy="258.5" r="5.15"/><circle cx="727.9" cy="123" r="5.15"/><circle cx="646.5" cy="151.1" r="5.15"/><circle cx="739.7" cy="132.1" r="5.15"/><circle cx="722.3" cy="129.3" r="5.15"/><circle cx="661.8" cy="134.2" r="5.15"/><circle cx="705.2" cy="147.8" r="5.15"/><circle cx="714.9" cy="111" r="5.15"/></g><g class="o"><circle cx="566.9" cy="135.2" r="5.15"/><circle cx="605.3" cy="69.8" r="5.15"/><circle cx="595.9" cy="157.1" r="5.15"/><circle cx="545.7" cy="185.3" r="5.15"/><circle cx="595.6" cy="259.7" r="5.15"/><circle cx="598.1" cy="221.4" r="5.15"/><circle cx="567.9" cy="181.7" r="5.15"/><circle cx="582.5" cy="246.3" r="5.15"/><circle cx="586.2" cy="182.2" r="5.15"/><circle cx="597.2" cy="139.8" r="5.15"/><circle cx="638.3" cy="157.8" r="5.15"/><circle cx="588.6" cy="204.7" r="5.15"/></g><g class="g"><circle cx="740.6" cy="151.9" r="5.15"/><circle cx="619.9" cy="160.5" r="5.15"/><circle cx="549.4" cy="193" r="5.15"/><circle cx="543" cy="135.7" r="5.15"/><circle cx="724.1" cy="230.4" r="5.15"/><circle cx="590.9" cy="219.1" r="5.15"/><circle cx="602.9" cy="223.8" r="5.15"/><circle cx="706.4" cy="96.4" r="5.15"/><circle cx="686.2" cy="109.8" r="5.15"/><circle cx="625.5" cy="105.1" r="5.15"/><circle cx="724.1" cy="93.9" r="5.15"/><circle cx="640.2" cy="152.9" r="5.15"/></g><g class="o"><circle cx="568.9" cy="204.1" r="5.15"/><circle cx="519.3" cy="298.4" r="5.15"/><circle cx="614" cy="152.9" r="5.15"/><circle cx="610.1" cy="145.7" r="5.15"/><circle cx="565.1" cy="251.9" r="5.15"/><circle cx="593.3" cy="287.7" r="5.15"/><circle cx="548.2" cy="138.8" r="5.15"/><circle cx="593.1" cy="211.4" r="5.15"/><circle cx="550" cy="96.8" r="5.15"/><circle cx="576.5" cy="232.1" r="5.15"/><circle cx="611.4" cy="212.8" r="5.15"/><circle cx="652.4" cy="194.2" r="5.15"/><circle cx="617" cy="115.5" r="5.15"/></g><g class="g"><circle cx="691.8" cy="287.4" r="5.15"/><circle cx="706.3" cy="147.4" r="5.15"/><circle cx="643" cy="94.8" r="5.15"/><circle cx="622.1" cy="147.1" r="5.15"/><circle cx="645.8" cy="143.5" r="5.15"/><circle cx="684" cy="127" r="5.15"/><circle cx="667.2" cy="82.9" r="5.15"/><circle cx="560.1" cy="140.6" r="5.15"/><circle cx="679.2" cy="127.2" r="5.15"/><circle cx="616.4" cy="171.9" r="5.15"/><circle cx="671.1" cy="101.4" r="5.15"/></g><g class="o"><circle cx="603.7" cy="146.7" r="5.15"/><circle cx="614.5" cy="147.3" r="5.15"/><circle cx="575.6" cy="146.7" r="5.15"/><circle cx="600.2" cy="213.1" r="5.15"/><circle cx="580.6" cy="83.2" r="5.15"/><circle cx="575.2" cy="212.2" r="5.15"/><circle cx="618.8" cy="174.6" r="5.15"/><circle cx="583" cy="89.4" r="5.15"/><circle cx="590.5" cy="188.5" r="5.15"/></g><g class="g"><circle cx="697.4" cy="141" r="5.15"/><circle cx="582.6" cy="213.4" r="5.15"/><circle cx="567.5" cy="118.1" r="5.15"/><circle cx="587.7" cy="117.7" r="5.15"/><circle cx="741.5" cy="116.3" r="5.15"/><circle cx="657.5" cy="150.1" r="5.15"/><circle cx="588.8" cy="311.7" r="5.15"/><circle cx="638.2" cy="107" r="5.15"/></g>
<path d="M499.2 196.7 L507.1 197.4 L515 198.1 L522.9 198.8 L530.8 199.4 L538.7 200.1 L546.6 200.7 L554.6 201.3 L562.5 201.9 L570.4 202.3 L578.3 202.7 L586.2 203 L594.1 203.1 L602 202.9 L609.9 202.4 L617.8 201.6 L625.8 200.6 L633.7 199.4 L641.6 198.1 L649.5 196.7 L657.4 195.3 L665.3 193.8 L673.2 192.3 L681.1 190.7 L689 189.2 L696.9 187.6 L704.9 186.1 L712.8 184.5 L720.7 182.9 L728.6 181.3 L736.5 179.7 L744.4 178.1 L752.3 176.5 L760.2 174.9 L768.1 173.3 L776 171.7 L784 170.1 L791.9 168.5 L799.8 166.9 L807.7 165.3 L815.6 163.7 L815.6 227.5 L807.7 226.8 L799.8 226 L791.9 225.3 L784 224.6 L776 223.8 L768.1 223.1 L760.2 222.4 L752.3 221.7 L744.4 220.9 L736.5 220.2 L728.6 219.5 L720.7 218.8 L712.8 218.1 L704.9 217.4 L696.9 216.7 L689 216 L681.1 215.3 L673.2 214.7 L665.3 214.1 L657.4 213.4 L649.5 212.9 L641.6 212.4 L633.7 211.9 L625.8 211.6 L617.8 211.5 L609.9 211.5 L602 211.9 L594.1 212.6 L586.2 213.6 L578.3 214.7 L570.4 216 L562.5 217.3 L554.6 218.8 L546.6 220.2 L538.7 221.7 L530.8 223.3 L522.9 224.8 L515 226.4 L507.1 227.9 L499.2 229.5Z" fill="#D46600" fill-opacity=".2"/>
<path d="M499.2 163.8 L507.1 164.3 L515 164.8 L522.9 165.3 L530.8 165.8 L538.7 166.2 L546.6 166.7 L554.6 167.2 L562.5 167.6 L570.4 168 L578.3 168.4 L586.2 168.8 L594.1 169.1 L602 169.3 L609.9 169.6 L617.8 169.7 L625.8 169.7 L633.7 169.6 L641.6 169.4 L649.5 169.1 L657.4 168.7 L665.3 168.1 L673.2 167.5 L681.1 166.9 L689 166.2 L696.9 165.4 L704.9 164.6 L712.8 163.8 L720.7 163 L728.6 162.2 L736.5 161.3 L744.4 160.5 L752.3 159.6 L760.2 158.7 L768.1 157.8 L776 156.9 L784 156 L791.9 155.2 L799.8 154.3 L807.7 153.4 L815.6 152.4 L815.6 187 L807.7 186.4 L799.8 185.9 L791.9 185.4 L784 184.9 L776 184.4 L768.1 183.9 L760.2 183.4 L752.3 182.9 L744.4 182.4 L736.5 181.9 L728.6 181.5 L720.7 181 L712.8 180.6 L704.9 180.2 L696.9 179.8 L689 179.4 L681.1 179.1 L673.2 178.8 L665.3 178.6 L657.4 178.4 L649.5 178.4 L641.6 178.5 L633.7 178.6 L625.8 178.9 L617.8 179.4 L609.9 179.9 L602 180.4 L594.1 181.1 L586.2 181.8 L578.3 182.6 L570.4 183.3 L562.5 184.1 L554.6 184.9 L546.6 185.8 L538.7 186.6 L530.8 187.5 L522.9 188.4 L515 189.2 L507.1 190.1 L499.2 191Z" fill="#235A24" fill-opacity=".2"/>
<path class="ln" d="M499.2 213.1L815.6 195.6" stroke="#D46600"/>
<path class="ln" d="M499.2 177.4L815.6 169.7" stroke="#235A24"/>
<rect class="bd" x="484.1" y="0.2" width="346.9" height="417.3"/>
<path class="tm" d="M499.2 417.5v-7.3M562.5 417.5v-7.3M625.8 417.5v-7.3M689 417.5v-7.3M752.3 417.5v-7.3M815.6 417.5v-7.3M484.1 53.1h7.3M484.1 122.3h7.3M484.1 191.5h7.3M484.1 260.7h7.3M484.1 329.9h7.3M484.1 399.1h7.3"/>
<g class="tk"><text x="499.2" y="435.0" text-anchor="middle">−2</text><text x="562.5" y="435.0" text-anchor="middle">−1</text><text x="625.8" y="435.0" text-anchor="middle">0</text><text x="689" y="435.0" text-anchor="middle">1</text><text x="752.3" y="435.0" text-anchor="middle">2</text><text x="815.6" y="435.0" text-anchor="middle">3</text><text x="481.3" y="59.9" text-anchor="end">2</text><text x="481.3" y="129.1" text-anchor="end">1</text><text x="481.3" y="198.3" text-anchor="end">0</text><text x="481.3" y="267.5" text-anchor="end">−1</text><text x="481.3" y="336.7" text-anchor="end">−2</text><text x="481.3" y="405.9" text-anchor="end">−3</text></g>
<text class="an" x="499.5" y="32.7">DVT<tspan x="543.2">×</tspan><tspan x="559.5">FD</tspan><tspan font-size="14.00" dy="3.4">is</tspan><tspan x="595.8" dy="-3.4">_PS:</tspan><tspan class="it" x="643.7">F</tspan><tspan x="659.3">=</tspan><tspan x="677">0.13,</tspan><tspan class="it" x="725.7">P</tspan><tspan x="742.5">=</tspan><tspan x="759.2">0.724</tspan></text>
<text class="lb" x="453.6" y="34.6" font-size="38.9">b</text>
</g>
<g id="panel-c">
<g class="o"><circle cx="1071.5" cy="308.6" r="5.15"/><circle cx="1034.3" cy="253.4" r="5.15"/><circle cx="1066.3" cy="163.8" r="5.15"/><circle cx="1057.5" cy="185.7" r="5.15"/><circle cx="1068.5" cy="146.2" r="5.15"/><circle cx="1051.8" cy="242.8" r="5.15"/><circle cx="1051.5" cy="131.2" r="5.15"/><circle cx="1078.1" cy="278.3" r="5.15"/><circle cx="1090.6" cy="243.8" r="5.15"/><circle cx="1018.1" cy="200.5" r="5.15"/><circle cx="1057.4" cy="211.5" r="5.15"/><circle cx="944.7" cy="184.8" r="5.15"/><circle cx="1035.1" cy="154.1" r="5.15"/></g><g class="g"><circle cx="1114.4" cy="101.4" r="5.15"/><circle cx="1016.8" cy="170.3" r="5.15"/><circle cx="1057.7" cy="146.8" r="5.15"/><circle cx="1070.4" cy="201.9" r="5.15"/><circle cx="1048.9" cy="155.5" r="5.15"/><circle cx="946" cy="234.8" r="5.15"/><circle cx="1013.3" cy="147.1" r="5.15"/><circle cx="1109.6" cy="236.7" r="5.15"/><circle cx="1037.3" cy="285.4" r="5.15"/><circle cx="1045.5" cy="167.4" r="5.15"/><circle cx="1009.3" cy="201.8" r="5.15"/></g><g class="o"><circle cx="1024.7" cy="182.5" r="5.15"/><circle cx="1057.1" cy="183.7" r="5.15"/><circle cx="1092.7" cy="201.1" r="5.15"/><circle cx="1001" cy="255.3" r="5.15"/><circle cx="1108.4" cy="122.4" r="5.15"/><circle cx="1079.6" cy="151.7" r="5.15"/><circle cx="999.3" cy="220.6" r="5.15"/><circle cx="1019.4" cy="169.5" r="5.15"/></g><g class="g"><circle cx="1062.2" cy="177" r="5.15"/><circle cx="999.7" cy="116.1" r="5.15"/><circle cx="1015.9" cy="289.9" r="5.15"/><circle cx="1002" cy="218.6" r="5.15"/><circle cx="1016" cy="162.3" r="5.15"/><circle cx="979.1" cy="209.6" r="5.15"/><circle cx="1074.8" cy="136.2" r="5.15"/><circle cx="1058.2" cy="130" r="5.15"/><circle cx="1009.3" cy="163.4" r="5.15"/><circle cx="1051.5" cy="191.1" r="5.15"/><circle cx="1029.1" cy="122.3" r="5.15"/><circle cx="1045.2" cy="96.2" r="5.15"/><circle cx="997.4" cy="184.4" r="5.15"/><circle cx="1042.1" cy="117.6" r="5.15"/><circle cx="1113.3" cy="184.1" r="5.15"/><circle cx="1070.2" cy="136.4" r="5.15"/></g><g class="o"><circle cx="1056.7" cy="168" r="5.15"/><circle cx="991.9" cy="224.6" r="5.15"/><circle cx="1017.1" cy="298.2" r="5.15"/><circle cx="1082.3" cy="164.6" r="5.15"/><circle cx="1053.5" cy="265.4" r="5.15"/><circle cx="1043.2" cy="160" r="5.15"/><circle cx="1004.7" cy="242.2" r="5.15"/><circle cx="981.3" cy="238.1" r="5.15"/><circle cx="1037.9" cy="235.8" r="5.15"/><circle cx="1109.8" cy="194.8" r="5.15"/><circle cx="1041" cy="157.6" r="5.15"/><circle cx="1037.8" cy="245.8" r="5.15"/><circle cx="964.7" cy="226.3" r="5.15"/><circle cx="989.4" cy="176" r="5.15"/><circle cx="1048.7" cy="211.7" r="5.15"/></g><g class="g"><circle cx="1107.4" cy="133.2" r="5.15"/><circle cx="1076" cy="146.9" r="5.15"/><circle cx="1061.8" cy="104.1" r="5.15"/><circle cx="1031.2" cy="138.7" r="5.15"/><circle cx="1059.8" cy="121.5" r="5.15"/><circle cx="954.4" cy="157.7" r="5.15"/><circle cx="1032" cy="168.1" r="5.15"/><circle cx="1075.2" cy="150.3" r="5.15"/><circle cx="985.9" cy="186.3" r="5.15"/></g><g class="o"><circle cx="1040.7" cy="142.5" r="5.15"/><circle cx="1089.3" cy="174.6" r="5.15"/><circle cx="975.6" cy="219.8" r="5.15"/><circle cx="1027.1" cy="138.3" r="5.15"/><circle cx="1082.4" cy="163.8" r="5.15"/><circle cx="1023.4" cy="190" r="5.15"/><circle cx="1041.9" cy="239.5" r="5.15"/><circle cx="1031.7" cy="245.8" r="5.15"/><circle cx="1075.4" cy="204.7" r="5.15"/><circle cx="1047.3" cy="120.8" r="5.15"/><circle cx="1083" cy="135.9" r="5.15"/><circle cx="1034.8" cy="166.3" r="5.15"/><circle cx="1080.6" cy="207.8" r="5.15"/><circle cx="1031.4" cy="208.3" r="5.15"/><circle cx="988.3" cy="165.9" r="5.15"/><circle cx="1026.6" cy="99" r="5.15"/></g><g class="g"><circle cx="1073.8" cy="168.8" r="5.15"/><circle cx="1095.5" cy="125.3" r="5.15"/><circle cx="1053.6" cy="154.7" r="5.15"/><circle cx="1003.8" cy="144.4" r="5.15"/><circle cx="1044.9" cy="196.6" r="5.15"/><circle cx="1099.3" cy="126.8" r="5.15"/><circle cx="1013.4" cy="163" r="5.15"/><circle cx="1049.9" cy="148.5" r="5.15"/></g><g class="o"><circle cx="1070.2" cy="284.2" r="5.15"/><circle cx="1059.8" cy="147.7" r="5.15"/><circle cx="1015.9" cy="86.3" r="5.15"/><circle cx="1028.9" cy="195" r="5.15"/><circle cx="1029.7" cy="154" r="5.15"/><circle cx="1042.5" cy="218.8" r="5.15"/><circle cx="1024.2" cy="232.4" r="5.15"/><circle cx="1091.1" cy="181.5" r="5.15"/><circle cx="1047.1" cy="214.5" r="5.15"/><circle cx="1119.6" cy="133.6" r="5.15"/><circle cx="1124.2" cy="94" r="5.15"/></g><g class="g"><circle cx="1054.3" cy="144.9" r="5.15"/><circle cx="1059.5" cy="67.6" r="5.15"/><circle cx="1074" cy="137" r="5.15"/><circle cx="1044.9" cy="184.4" r="5.15"/><circle cx="995.1" cy="156.5" r="5.15"/><circle cx="1088.1" cy="99.4" r="5.15"/><circle cx="1051" cy="174.7" r="5.15"/><circle cx="1072" cy="181.6" r="5.15"/><circle cx="1038.7" cy="267.9" r="5.15"/><circle cx="1026.7" cy="103.1" r="5.15"/><circle cx="1028.7" cy="105.7" r="5.15"/><circle cx="974.7" cy="177.6" r="5.15"/><circle cx="1070.6" cy="163.4" r="5.15"/></g><g class="o"><circle cx="1132.3" cy="82.7" r="5.15"/><circle cx="1085.1" cy="290.8" r="5.15"/><circle cx="953.8" cy="335.4" r="5.15"/><circle cx="1016.5" cy="157.1" r="5.15"/><circle cx="1096.3" cy="131.9" r="5.15"/><circle cx="1030.4" cy="214.7" r="5.15"/><circle cx="1049.1" cy="232.8" r="5.15"/><circle cx="1100.8" cy="264.8" r="5.15"/></g><g class="g"><circle cx="1058.3" cy="132.9" r="5.15"/><circle cx="996.7" cy="217.4" r="5.15"/><circle cx="1089.6" cy="109.2" r="5.15"/><circle cx="1030" cy="157.9" r="5.15"/><circle cx="1058.2" cy="96.2" r="5.15"/><circle cx="1111" cy="126.8" r="5.15"/><circle cx="1031.3" cy="142.6" r="5.15"/><circle cx="1098.3" cy="118.1" r="5.15"/><circle cx="994.7" cy="250.2" r="5.15"/><circle cx="1055.7" cy="179.7" r="5.15"/><circle cx="1077.2" cy="133.6" r="5.15"/><circle cx="1016.7" cy="179.1" r="5.15"/><circle cx="1047.1" cy="129.4" r="5.15"/><circle cx="1050.6" cy="158.1" r="5.15"/><circle cx="1027.5" cy="144.4" r="5.15"/><circle cx="951.2" cy="208.4" r="5.15"/></g><g class="o"><circle cx="1013.1" cy="156.9" r="5.15"/><circle cx="1031.9" cy="174.1" r="5.15"/><circle cx="977.7" cy="202.6" r="5.15"/><circle cx="1072.9" cy="177.4" r="5.15"/><circle cx="1034.1" cy="299.1" r="5.15"/><circle cx="975.3" cy="146.7" r="5.15"/><circle cx="1005.7" cy="154.5" r="5.15"/><circle cx="967.7" cy="166.4" r="5.15"/><circle cx="1036.6" cy="223.7" r="5.15"/><circle cx="1057.9" cy="188" r="5.15"/></g><g class="g"><circle cx="1065.6" cy="141.9" r="5.15"/><circle cx="1074.3" cy="173.5" r="5.15"/><circle cx="1075.4" cy="137.9" r="5.15"/><circle cx="1097" cy="142" r="5.15"/><circle cx="1102" cy="113.4" r="5.15"/><circle cx="1051.5" cy="119.7" r="5.15"/><circle cx="1012.3" cy="220.9" r="5.15"/><circle cx="1025.4" cy="179.7" r="5.15"/><circle cx="1078.4" cy="126.3" r="5.15"/><circle cx="931.2" cy="197.9" r="5.15"/><circle cx="1076.7" cy="101.3" r="5.15"/><circle cx="1053.8" cy="168.9" r="5.15"/><circle cx="994.4" cy="181.6" r="5.15"/><circle cx="978.2" cy="263.6" r="5.15"/></g><g class="o"><circle cx="1035.6" cy="152.6" r="5.15"/><circle cx="991.7" cy="252.6" r="5.15"/><circle cx="1024.1" cy="172.3" r="5.15"/><circle cx="1070.6" cy="159.4" r="5.15"/><circle cx="1050" cy="202.2" r="5.15"/><circle cx="1146.2" cy="169.2" r="5.15"/><circle cx="1134.6" cy="88.6" r="5.15"/><circle cx="1031" cy="215.1" r="5.15"/><circle cx="1045.6" cy="130.6" r="5.15"/><circle cx="1030" cy="246.2" r="5.15"/><circle cx="1016.5" cy="188.2" r="5.15"/><circle cx="1039.9" cy="133.8" r="5.15"/></g><g class="g"><circle cx="1034.8" cy="153.3" r="5.15"/><circle cx="1045.4" cy="227.1" r="5.15"/><circle cx="993.9" cy="258.9" r="5.15"/><circle cx="1002.6" cy="158" r="5.15"/><circle cx="1000.8" cy="199.7" r="5.15"/><circle cx="1044.6" cy="134.8" r="5.15"/><circle cx="1093" cy="104.3" r="5.15"/><circle cx="1065.1" cy="80.5" r="5.15"/><circle cx="1058.6" cy="142.9" r="5.15"/><circle cx="1105.7" cy="114.4" r="5.15"/><circle cx="1072.8" cy="135" r="5.15"/><circle cx="1079" cy="165.1" r="5.15"/></g><g class="o"><circle cx="1063.2" cy="230" r="5.15"/><circle cx="1134.7" cy="110" r="5.15"/><circle cx="1074.5" cy="159.2" r="5.15"/><circle cx="1038.3" cy="172" r="5.15"/><circle cx="1030" cy="152.1" r="5.15"/><circle cx="1091.9" cy="215.9" r="5.15"/><circle cx="999.7" cy="165.4" r="5.15"/><circle cx="1109.7" cy="192.5" r="5.15"/><circle cx="1043.9" cy="203.9" r="5.15"/><circle cx="1097.2" cy="111.5" r="5.15"/><circle cx="1070.5" cy="304.2" r="5.15"/></g><g class="g"><circle cx="1108.2" cy="106" r="5.15"/><circle cx="1056.1" cy="152.7" r="5.15"/><circle cx="1068" cy="106.5" r="5.15"/><circle cx="998" cy="174.6" r="5.15"/><circle cx="1099.3" cy="99.8" r="5.15"/><circle cx="1024.4" cy="240.7" r="5.15"/><circle cx="1062.2" cy="141.6" r="5.15"/><circle cx="1007.6" cy="113.2" r="5.15"/><circle cx="1079" cy="128.1" r="5.15"/><circle cx="1060.3" cy="108.4" r="5.15"/><circle cx="1053.1" cy="258.9" r="5.15"/><circle cx="1046.2" cy="156.4" r="5.15"/><circle cx="1029.3" cy="100.6" r="5.15"/></g><g class="o"><circle cx="1072.7" cy="177.8" r="5.15"/><circle cx="1045.3" cy="153.8" r="5.15"/><circle cx="1065.3" cy="278.7" r="5.15"/><circle cx="1097.3" cy="140.4" r="5.15"/><circle cx="1031.9" cy="190.7" r="5.15"/><circle cx="1014.5" cy="193.8" r="5.15"/><circle cx="1058" cy="164" r="5.15"/><circle cx="990.8" cy="56.3" r="5.15"/><circle cx="986" cy="97.8" r="5.15"/><circle cx="1053.3" cy="219.8" r="5.15"/></g><g class="g"><circle cx="1012.4" cy="109.5" r="5.15"/><circle cx="1032.3" cy="176.1" r="5.15"/><circle cx="1062.1" cy="233.5" r="5.15"/><circle cx="1021.2" cy="120" r="5.15"/><circle cx="1071.4" cy="168.1" r="5.15"/><circle cx="979.3" cy="193.4" r="5.15"/><circle cx="983.9" cy="153.2" r="5.15"/><circle cx="1054.1" cy="146.3" r="5.15"/><circle cx="1057.2" cy="95.2" r="5.15"/><circle cx="1046.8" cy="142.1" r="5.15"/><circle cx="1009.1" cy="136.4" r="5.15"/><circle cx="996.2" cy="127.7" r="5.15"/><circle cx="1023.7" cy="130.4" r="5.15"/><circle cx="1019.1" cy="178.4" r="5.15"/></g><g class="o"><circle cx="1116" cy="156.3" r="5.15"/><circle cx="1001.9" cy="121.1" r="5.15"/><circle cx="1070.5" cy="215" r="5.15"/><circle cx="1068" cy="299.7" r="5.15"/><circle cx="1034.5" cy="207.4" r="5.15"/><circle cx="1003.3" cy="284.3" r="5.15"/><circle cx="1042" cy="265.8" r="5.15"/><circle cx="1098" cy="94.9" r="5.15"/><circle cx="988.6" cy="269.3" r="5.15"/><circle cx="1132.1" cy="174.4" r="5.15"/><circle cx="1025.9" cy="182.6" r="5.15"/><circle cx="1096.9" cy="240.8" r="5.15"/><circle cx="1059.4" cy="180.1" r="5.15"/><circle cx="1127.1" cy="163.1" r="5.15"/><circle cx="1083.9" cy="210.5" r="5.15"/><circle cx="1014.4" cy="240.4" r="5.15"/></g><g class="g"><circle cx="1072.6" cy="108.7" r="5.15"/><circle cx="1029" cy="154.4" r="5.15"/><circle cx="1069.2" cy="133.6" r="5.15"/><circle cx="1027.9" cy="149.7" r="5.15"/><circle cx="1095.5" cy="169.7" r="5.15"/><circle cx="1025.2" cy="157" r="5.15"/><circle cx="1016.7" cy="214.8" r="5.15"/><circle cx="1061.2" cy="225.4" r="5.15"/></g><g class="o"><circle cx="1014.9" cy="141.2" r="5.15"/><circle cx="1069.8" cy="178.5" r="5.15"/><circle cx="1015.5" cy="166.9" r="5.15"/><circle cx="1008.7" cy="227.5" r="5.15"/><circle cx="1038.1" cy="167.4" r="5.15"/><circle cx="1050.6" cy="224.9" r="5.15"/><circle cx="1070.9" cy="269.9" r="5.15"/><circle cx="1032.2" cy="127.9" r="5.15"/><circle cx="1053.8" cy="185.1" r="5.15"/><circle cx="1001.1" cy="205" r="5.15"/><circle cx="1109.7" cy="275.4" r="5.15"/><circle cx="1063.6" cy="240.6" r="5.15"/><circle cx="1039.5" cy="286.7" r="5.15"/></g><g class="g"><circle cx="1009.5" cy="138.6" r="5.15"/><circle cx="1128" cy="100.9" r="5.15"/><circle cx="1116.3" cy="124.5" r="5.15"/><circle cx="1071.3" cy="128.2" r="5.15"/><circle cx="1110.7" cy="116.1" r="5.15"/><circle cx="1015.6" cy="127.5" r="5.15"/><circle cx="1069.2" cy="180.2" r="5.15"/><circle cx="1069.5" cy="161" r="5.15"/><circle cx="1047.3" cy="96.8" r="5.15"/><circle cx="1063" cy="157.7" r="5.15"/><circle cx="919" cy="190.1" r="5.15"/></g><g class="o"><circle cx="1073.6" cy="159.5" r="5.15"/><circle cx="1109.1" cy="228.3" r="5.15"/><circle cx="1074.4" cy="193.6" r="5.15"/><circle cx="1096.9" cy="71" r="5.15"/><circle cx="1072" cy="285.2" r="5.15"/><circle cx="1015.5" cy="288.1" r="5.15"/><circle cx="1032.1" cy="176.6" r="5.15"/><circle cx="1028.8" cy="172.8" r="5.15"/><circle cx="1069.3" cy="160.6" r="5.15"/><circle cx="1056.3" cy="207.2" r="5.15"/><circle cx="1057" cy="210.9" r="5.15"/></g><g class="g"><circle cx="1067.7" cy="136.5" r="5.15"/><circle cx="1035" cy="162.2" r="5.15"/><circle cx="1058.8" cy="131.5" r="5.15"/><circle cx="993.7" cy="301.9" r="5.15"/><circle cx="1008.3" cy="200.3" r="5.15"/><circle cx="1033.9" cy="181.8" r="5.15"/><circle cx="966.6" cy="236.3" r="5.15"/><circle cx="1089.7" cy="113.1" r="5.15"/><circle cx="1064.9" cy="134.3" r="5.15"/><circle cx="963.2" cy="154.8" r="5.15"/><circle cx="1087.2" cy="132.2" r="5.15"/><circle cx="1003.3" cy="214.8" r="5.15"/><circle cx="1064" cy="132.4" r="5.15"/></g><g class="o"><circle cx="1066.6" cy="173" r="5.15"/><circle cx="1124" cy="120.4" r="5.15"/><circle cx="1075.6" cy="147.4" r="5.15"/><circle cx="1036.6" cy="181.4" r="5.15"/><circle cx="1057.4" cy="248" r="5.15"/><circle cx="1129.1" cy="93.6" r="5.15"/><circle cx="1003.5" cy="229.8" r="5.15"/><circle cx="1044.5" cy="267" r="5.15"/><circle cx="1001.2" cy="149.1" r="5.15"/><circle cx="969.4" cy="218.6" r="5.15"/><circle cx="1075.5" cy="114.1" r="5.15"/><circle cx="1112.1" cy="189.4" r="5.15"/><circle cx="1124" cy="115.5" r="5.15"/></g><g class="g"><circle cx="1048.6" cy="94.8" r="5.15"/><circle cx="1078.7" cy="273.7" r="5.15"/><circle cx="1021.4" cy="167.3" r="5.15"/><circle cx="1001.5" cy="146.3" r="5.15"/><circle cx="1055.4" cy="132.7" r="5.15"/><circle cx="1013.8" cy="107.7" r="5.15"/><circle cx="1030.8" cy="156.2" r="5.15"/><circle cx="1127.3" cy="182.1" r="5.15"/><circle cx="1115.9" cy="151.9" r="5.15"/><circle cx="1045.7" cy="115.6" r="5.15"/><circle cx="1033.3" cy="139" r="5.15"/></g><g class="o"><circle cx="1039.6" cy="253.1" r="5.15"/><circle cx="1011.4" cy="174.5" r="5.15"/><circle cx="1040" cy="226.9" r="5.15"/><circle cx="1021.8" cy="271.9" r="5.15"/><circle cx="1008.9" cy="240.4" r="5.15"/><circle cx="1026.4" cy="264" r="5.15"/><circle cx="1028" cy="132.1" r="5.15"/><circle cx="1107.9" cy="120.7" r="5.15"/><circle cx="1040" cy="137.2" r="5.15"/><circle cx="1007.4" cy="168" r="5.15"/><circle cx="1055.2" cy="168.9" r="5.15"/><circle cx="1027.2" cy="245.7" r="5.15"/><circle cx="983.8" cy="259.5" r="5.15"/><circle cx="1030.4" cy="169.7" r="5.15"/></g><g class="g"><circle cx="1002.5" cy="122" r="5.15"/><circle cx="1034.2" cy="142.9" r="5.15"/><circle cx="1060.1" cy="135.5" r="5.15"/><circle cx="1070.6" cy="137.5" r="5.15"/><circle cx="1030" cy="245.1" r="5.15"/><circle cx="1109.7" cy="96.9" r="5.15"/><circle cx="1084.8" cy="152.7" r="5.15"/><circle cx="1083.8" cy="107.4" r="5.15"/><circle cx="1051.5" cy="252" r="5.15"/><circle cx="1048" cy="125.1" r="5.15"/></g><g class="o"><circle cx="1082.1" cy="243.4" r="5.15"/><circle cx="1063.5" cy="131.4" r="5.15"/><circle cx="1108.4" cy="100.8" r="5.15"/><circle cx="1025.9" cy="193.1" r="5.15"/><circle cx="1045.4" cy="132.3" r="5.15"/><circle cx="987.1" cy="240.7" r="5.15"/><circle cx="1079" cy="282.9" r="5.15"/><circle cx="1047.2" cy="197.1" r="5.15"/><circle cx="1110.8" cy="97.8" r="5.15"/><circle cx="1084.4" cy="208.4" r="5.15"/><circle cx="1041.2" cy="263.4" r="5.15"/><circle cx="1011.8" cy="143.8" r="5.15"/><circle cx="1033.8" cy="189.8" r="5.15"/><circle cx="1070.2" cy="224.6" r="5.15"/></g><g class="g"><circle cx="991.9" cy="124.6" r="5.15"/><circle cx="1095" cy="126.9" r="5.15"/><circle cx="1132.5" cy="149.5" r="5.15"/><circle cx="1067.7" cy="187.8" r="5.15"/><circle cx="1103.2" cy="115" r="5.15"/><circle cx="1029.6" cy="114.7" r="5.15"/><circle cx="993.3" cy="94.7" r="5.15"/><circle cx="1102.2" cy="107.2" r="5.15"/><circle cx="975.1" cy="227.7" r="5.15"/><circle cx="1080.2" cy="163.9" r="5.15"/></g><g class="o"><circle cx="1079.7" cy="125.6" r="5.15"/><circle cx="1078.4" cy="257.2" r="5.15"/><circle cx="1062.3" cy="112.3" r="5.15"/><circle cx="1019.6" cy="182.1" r="5.15"/><circle cx="1038.9" cy="163.1" r="5.15"/><circle cx="1063.6" cy="208.1" r="5.15"/><circle cx="1100.1" cy="265.6" r="5.15"/><circle cx="1054.7" cy="184.6" r="5.15"/><circle cx="1116.9" cy="158.6" r="5.15"/><circle cx="1090.6" cy="231.3" r="5.15"/><circle cx="1035.6" cy="169.5" r="5.15"/><circle cx="1000.9" cy="267.7" r="5.15"/><circle cx="1010" cy="154.3" r="5.15"/><circle cx="1088" cy="198.1" r="5.15"/></g><g class="g"><circle cx="1079.7" cy="109.9" r="5.15"/><circle cx="1061" cy="108.8" r="5.15"/><circle cx="1083.7" cy="131.1" r="5.15"/><circle cx="1050.9" cy="169.6" r="5.15"/><circle cx="1054.9" cy="154.1" r="5.15"/><circle cx="1034.7" cy="168.3" r="5.15"/><circle cx="1024.3" cy="138.8" r="5.15"/><circle cx="1033.7" cy="127" r="5.15"/><circle cx="1053.7" cy="140.9" r="5.15"/><circle cx="1036.7" cy="119.8" r="5.15"/></g><g class="o"><circle cx="1065.8" cy="250.2" r="5.15"/><circle cx="1051" cy="243.3" r="5.15"/><circle cx="1019.6" cy="234.4" r="5.15"/><circle cx="1032.2" cy="196" r="5.15"/><circle cx="1059.6" cy="135.7" r="5.15"/><circle cx="1022.9" cy="196.6" r="5.15"/><circle cx="1100.8" cy="184.1" r="5.15"/><circle cx="1039.1" cy="247.7" r="5.15"/><circle cx="1044.3" cy="202.5" r="5.15"/></g><g class="g"><circle cx="1060.8" cy="187.3" r="5.15"/><circle cx="1041.3" cy="289.7" r="5.15"/><circle cx="1053.2" cy="150" r="5.15"/><circle cx="1043.6" cy="110.5" r="5.15"/><circle cx="1052.8" cy="106.9" r="5.15"/><circle cx="1063" cy="134.9" r="5.15"/><circle cx="1067.2" cy="170.2" r="5.15"/><circle cx="1049.6" cy="202.8" r="5.15"/><circle cx="1061" cy="107" r="5.15"/><circle cx="1097.3" cy="72.3" r="5.15"/><circle cx="1118.6" cy="121.7" r="5.15"/><circle cx="1100.9" cy="104.4" r="5.15"/><circle cx="1052.8" cy="114.2" r="5.15"/><circle cx="1076.6" cy="116.9" r="5.15"/><circle cx="1054.3" cy="136.3" r="5.15"/></g><g class="o"><circle cx="1053.2" cy="212.4" r="5.15"/><circle cx="1060.7" cy="144.9" r="5.15"/><circle cx="997" cy="197.2" r="5.15"/><circle cx="1053.2" cy="120" r="5.15"/><circle cx="995" cy="212.8" r="5.15"/><circle cx="1011.9" cy="226.9" r="5.15"/><circle cx="1066" cy="235.3" r="5.15"/><circle cx="1072.4" cy="219.2" r="5.15"/><circle cx="1065.2" cy="125.4" r="5.15"/><circle cx="1099.9" cy="141.3" r="5.15"/><circle cx="1051" cy="139.4" r="5.15"/><circle cx="1004.4" cy="67.5" r="5.15"/><circle cx="965.8" cy="280.3" r="5.15"/><circle cx="1071.5" cy="290.4" r="5.15"/><circle cx="1131.5" cy="222.4" r="5.15"/><circle cx="1131.6" cy="186.1" r="5.15"/></g><g class="g"><circle cx="1053.2" cy="206" r="5.15"/><circle cx="1001.8" cy="193.6" r="5.15"/><circle cx="1037.8" cy="80" r="5.15"/><circle cx="1089.4" cy="144.4" r="5.15"/><circle cx="1017.6" cy="140.7" r="5.15"/><circle cx="1034.3" cy="225.2" r="5.15"/><circle cx="1076.6" cy="126" r="5.15"/><circle cx="1084.8" cy="125.8" r="5.15"/></g><g class="o"><circle cx="1033.1" cy="244.9" r="5.15"/><circle cx="1075.3" cy="208.7" r="5.15"/><circle cx="1038.2" cy="205.1" r="5.15"/><circle cx="982.3" cy="261.4" r="5.15"/><circle cx="1100.4" cy="189.8" r="5.15"/><circle cx="1062" cy="221.6" r="5.15"/><circle cx="1084.7" cy="55.2" r="5.15"/><circle cx="1056.3" cy="177.4" r="5.15"/><circle cx="1162.5" cy="173.4" r="5.15"/><circle cx="1031.7" cy="180.8" r="5.15"/><circle cx="1080" cy="215.6" r="5.15"/><circle cx="1011.7" cy="204.3" r="5.15"/></g><g class="g"><circle cx="1055.3" cy="116.1" r="5.15"/><circle cx="961.9" cy="212.5" r="5.15"/><circle cx="1036.9" cy="122.8" r="5.15"/><circle cx="1048" cy="130.4" r="5.15"/><circle cx="962.4" cy="249.5" r="5.15"/><circle cx="1073.8" cy="150.4" r="5.15"/><circle cx="1061" cy="127.4" r="5.15"/><circle cx="1002.5" cy="199.1" r="5.15"/><circle cx="1073.1" cy="196.4" r="5.15"/><circle cx="1067.8" cy="126.9" r="5.15"/><circle cx="1049.3" cy="162.8" r="5.15"/><circle cx="925.2" cy="235.3" r="5.15"/></g><g class="o"><circle cx="1018.2" cy="190.2" r="5.15"/><circle cx="1070.8" cy="295.4" r="5.15"/><circle cx="1047.5" cy="289.5" r="5.15"/><circle cx="1084.9" cy="122.9" r="5.15"/><circle cx="1007.2" cy="117.1" r="5.15"/><circle cx="1074.6" cy="188.4" r="5.15"/><circle cx="1102.1" cy="129.9" r="5.15"/><circle cx="1097.8" cy="189.1" r="5.15"/></g><g class="g"><circle cx="1067.3" cy="120.3" r="5.15"/><circle cx="1068.4" cy="134.6" r="5.15"/><circle cx="1024.9" cy="135.8" r="5.15"/><circle cx="1092.5" cy="146.6" r="5.15"/><circle cx="1012.5" cy="120.3" r="5.15"/><circle cx="997.2" cy="119.4" r="5.15"/><circle cx="1004.5" cy="225.8" r="5.15"/><circle cx="1044.6" cy="120.7" r="5.15"/><circle cx="1023.6" cy="178.4" r="5.15"/><circle cx="1071.1" cy="108.6" r="5.15"/><circle cx="1060" cy="107.3" r="5.15"/><circle cx="968.9" cy="162.7" r="5.15"/><circle cx="1027.6" cy="116.4" r="5.15"/><circle cx="1049.3" cy="134.2" r="5.15"/><circle cx="1048.9" cy="294.6" r="5.15"/><circle cx="1063.6" cy="137.5" r="5.15"/></g><g class="o"><circle cx="999.5" cy="179.5" r="5.15"/><circle cx="1040.4" cy="256.7" r="5.15"/><circle cx="1039.8" cy="168.8" r="5.15"/><circle cx="1034.3" cy="245.3" r="5.15"/><circle cx="1053.9" cy="209.6" r="5.15"/><circle cx="1046.7" cy="257" r="5.15"/><circle cx="1054.6" cy="253.2" r="5.15"/><circle cx="1071.2" cy="154.4" r="5.15"/><circle cx="993.3" cy="228.5" r="5.15"/><circle cx="1053.3" cy="234.1" r="5.15"/><circle cx="997.2" cy="191.7" r="5.15"/><circle cx="945.5" cy="224.1" r="5.15"/><circle cx="1110.6" cy="184.8" r="5.15"/></g><g class="g"><circle cx="1052.5" cy="167" r="5.15"/><circle cx="1078.5" cy="142" r="5.15"/><circle cx="1038.1" cy="135.5" r="5.15"/><circle cx="1019.3" cy="120.1" r="5.15"/><circle cx="1099.4" cy="115.7" r="5.15"/><circle cx="1063.9" cy="152.7" r="5.15"/><circle cx="1135.2" cy="99.1" r="5.15"/><circle cx="1076.5" cy="156.5" r="5.15"/><circle cx="1067.3" cy="126.4" r="5.15"/><circle cx="969.6" cy="130.3" r="5.15"/><circle cx="1065" cy="153.2" r="5.15"/></g><g class="o"><circle cx="1094.3" cy="187.6" r="5.15"/><circle cx="1069.1" cy="261.8" r="5.15"/><circle cx="1060" cy="164.7" r="5.15"/><circle cx="1014.7" cy="112.3" r="5.15"/><circle cx="1036.2" cy="244.8" r="5.15"/><circle cx="1022.1" cy="137.5" r="5.15"/><circle cx="1082.8" cy="113" r="5.15"/><circle cx="1026.2" cy="166.9" r="5.15"/><circle cx="1007.8" cy="329.6" r="5.15"/><circle cx="1073.8" cy="232.4" r="5.15"/><circle cx="1026" cy="218.8" r="5.15"/><circle cx="1057" cy="172.3" r="5.15"/></g><g class="g"><circle cx="1068.5" cy="115.5" r="5.15"/><circle cx="1063.1" cy="133.4" r="5.15"/><circle cx="1041.5" cy="93.6" r="5.15"/><circle cx="1051.8" cy="131.7" r="5.15"/><circle cx="1008.6" cy="180.3" r="5.15"/><circle cx="1081.7" cy="154.5" r="5.15"/><circle cx="1040.8" cy="172.9" r="5.15"/><circle cx="1061.9" cy="111" r="5.15"/><circle cx="1036.1" cy="226.9" r="5.15"/><circle cx="1078.7" cy="137.5" r="5.15"/><circle cx="998.5" cy="254.3" r="5.15"/><circle cx="1039.6" cy="151.8" r="5.15"/></g><g class="o"><circle cx="1065.2" cy="176.4" r="5.15"/><circle cx="1084.6" cy="127.9" r="5.15"/><circle cx="1108.6" cy="99.7" r="5.15"/><circle cx="1121.9" cy="204.4" r="5.15"/><circle cx="1071.2" cy="174.4" r="5.15"/><circle cx="1052.7" cy="267.4" r="5.15"/><circle cx="1038.6" cy="222.5" r="5.15"/><circle cx="1074.5" cy="199.4" r="5.15"/><circle cx="1050.5" cy="228.6" r="5.15"/><circle cx="1087.1" cy="100.9" r="5.15"/><circle cx="1015.5" cy="310.7" r="5.15"/></g><g class="g"><circle cx="1119.3" cy="151.5" r="5.15"/><circle cx="1060.8" cy="107.7" r="5.15"/><circle cx="1064.4" cy="129.1" r="5.15"/><circle cx="1135.5" cy="108.5" r="5.15"/><circle cx="1042.1" cy="150.9" r="5.15"/><circle cx="1071.1" cy="109.1" r="5.15"/><circle cx="1111.5" cy="170.4" r="5.15"/><circle cx="921.6" cy="265.4" r="5.15"/><circle cx="1050.5" cy="153.1" r="5.15"/><circle cx="1032.2" cy="140.3" r="5.15"/><circle cx="973.1" cy="175.4" r="5.15"/><circle cx="1100.1" cy="154.1" r="5.15"/><circle cx="1039.2" cy="96.4" r="5.15"/></g><g class="o"><circle cx="1063.7" cy="96.8" r="5.15"/><circle cx="1001" cy="177.9" r="5.15"/><circle cx="1067.9" cy="257.7" r="5.15"/><circle cx="1008.7" cy="204.2" r="5.15"/><circle cx="1016.7" cy="168.9" r="5.15"/><circle cx="1025.4" cy="248.8" r="5.15"/><circle cx="1111.4" cy="202.1" r="5.15"/><circle cx="1023" cy="165.9" r="5.15"/><circle cx="1021" cy="239.3" r="5.15"/><circle cx="1074.3" cy="322.8" r="5.15"/><circle cx="1090.1" cy="193.8" r="5.15"/><circle cx="1087.5" cy="209.5" r="5.15"/><circle cx="1012.1" cy="160.5" r="5.15"/></g><g class="g"><circle cx="1095" cy="130.1" r="5.15"/><circle cx="1050.3" cy="148.9" r="5.15"/><circle cx="990.5" cy="244.3" r="5.15"/><circle cx="1096.7" cy="119.9" r="5.15"/><circle cx="998.9" cy="157" r="5.15"/><circle cx="1136.7" cy="103.6" r="5.15"/><circle cx="1081.3" cy="160" r="5.15"/><circle cx="1108.4" cy="113.1" r="5.15"/><circle cx="1013.8" cy="169.7" r="5.15"/><circle cx="977.6" cy="232.3" r="5.15"/><circle cx="1049.5" cy="125.3" r="5.15"/></g><g class="o"><circle cx="1076.5" cy="209" r="5.15"/><circle cx="1085" cy="196.7" r="5.15"/><circle cx="1048.8" cy="225.1" r="5.15"/><circle cx="1115.1" cy="165.3" r="5.15"/><circle cx="1037.4" cy="115.2" r="5.15"/><circle cx="1090.2" cy="179.8" r="5.15"/><circle cx="1001.4" cy="208.1" r="5.15"/><circle cx="1106.8" cy="181.3" r="5.15"/><circle cx="1109.9" cy="194" r="5.15"/><circle cx="1027" cy="216.2" r="5.15"/><circle cx="1073" cy="214.1" r="5.15"/><circle cx="1072" cy="300.7" r="5.15"/></g><g class="g"><circle cx="1049.1" cy="106.9" r="5.15"/><circle cx="1014.7" cy="119.2" r="5.15"/><circle cx="939.6" cy="182" r="5.15"/><circle cx="1022.6" cy="155" r="5.15"/><circle cx="1013.4" cy="233" r="5.15"/><circle cx="1037.8" cy="228.2" r="5.15"/><circle cx="1034" cy="185.4" r="5.15"/><circle cx="1105.6" cy="116.6" r="5.15"/><circle cx="1051.3" cy="130.2" r="5.15"/><circle cx="1130.8" cy="102" r="5.15"/><circle cx="1031.2" cy="340" r="5.15"/><circle cx="1121.4" cy="126.8" r="5.15"/></g><g class="o"><circle cx="1076.9" cy="171" r="5.15"/><circle cx="1007.9" cy="241.3" r="5.15"/><circle cx="1011.1" cy="213.8" r="5.15"/><circle cx="1040.2" cy="272.2" r="5.15"/><circle cx="1075.3" cy="141.1" r="5.15"/><circle cx="1016.8" cy="179.4" r="5.15"/><circle cx="1080.5" cy="212.1" r="5.15"/><circle cx="1014.2" cy="251.2" r="5.15"/><circle cx="1097.9" cy="127.8" r="5.15"/><circle cx="1042.5" cy="215.9" r="5.15"/><circle cx="1059" cy="250.5" r="5.15"/><circle cx="1013.6" cy="171" r="5.15"/><circle cx="1063.9" cy="271" r="5.15"/><circle cx="1151.5" cy="205.6" r="5.15"/></g><g class="g"><circle cx="1069.1" cy="102.1" r="5.15"/><circle cx="995.8" cy="136" r="5.15"/><circle cx="1028.8" cy="225.9" r="5.15"/><circle cx="1027.7" cy="205.7" r="5.15"/><circle cx="1118.7" cy="124.8" r="5.15"/><circle cx="1077.6" cy="158.2" r="5.15"/><circle cx="1037.2" cy="143.9" r="5.15"/><circle cx="1070.3" cy="104.4" r="5.15"/><circle cx="1023.5" cy="242.7" r="5.15"/><circle cx="997.7" cy="212.1" r="5.15"/></g><g class="o"><circle cx="1045.2" cy="104.6" r="5.15"/><circle cx="1072" cy="129" r="5.15"/><circle cx="1084.4" cy="205.5" r="5.15"/><circle cx="1111.7" cy="77.9" r="5.15"/><circle cx="1077.3" cy="195.4" r="5.15"/><circle cx="1150.5" cy="141.7" r="5.15"/><circle cx="1043.8" cy="145.2" r="5.15"/><circle cx="1003.1" cy="230" r="5.15"/><circle cx="1118.6" cy="317.2" r="5.15"/><circle cx="1079.8" cy="162.6" r="5.15"/><circle cx="1048" cy="175" r="5.15"/><circle cx="1101.8" cy="186.7" r="5.15"/></g><g class="g"><circle cx="938.9" cy="220.1" r="5.15"/><circle cx="1063.7" cy="146.7" r="5.15"/><circle cx="1059.7" cy="79.5" r="5.15"/><circle cx="1058.2" cy="104.2" r="5.15"/><circle cx="1062.7" cy="151.4" r="5.15"/><circle cx="1145.9" cy="181.7" r="5.15"/><circle cx="1076.8" cy="132.1" r="5.15"/><circle cx="1035" cy="139.3" r="5.15"/><circle cx="1083.3" cy="100.6" r="5.15"/><circle cx="999.3" cy="265.1" r="5.15"/><circle cx="1006.3" cy="291.6" r="5.15"/><circle cx="1029.8" cy="125.3" r="5.15"/></g><g class="o"><circle cx="1062.6" cy="136.5" r="5.15"/><circle cx="1069.6" cy="170.8" r="5.15"/><circle cx="1040.1" cy="240.3" r="5.15"/><circle cx="1063.2" cy="189" r="5.15"/><circle cx="1091.8" cy="160.2" r="5.15"/><circle cx="961.3" cy="166.5" r="5.15"/><circle cx="1094.4" cy="90.5" r="5.15"/><circle cx="1088.1" cy="167.8" r="5.15"/><circle cx="1051.1" cy="226.1" r="5.15"/></g><g class="g"><circle cx="917.1" cy="183.5" r="5.15"/><circle cx="1029" cy="141.6" r="5.15"/><circle cx="1113" cy="110.4" r="5.15"/><circle cx="992.1" cy="227.7" r="5.15"/><circle cx="1019" cy="149.9" r="5.15"/><circle cx="1068.1" cy="244.4" r="5.15"/><circle cx="1108.8" cy="152.9" r="5.15"/><circle cx="1093.7" cy="140.8" r="5.15"/><circle cx="1008.2" cy="228.1" r="5.15"/><circle cx="1046.8" cy="206.3" r="5.15"/><circle cx="1057.2" cy="185.9" r="5.15"/><circle cx="989.7" cy="169" r="5.15"/><circle cx="1030.1" cy="239.7" r="5.15"/><circle cx="1031" cy="168.5" r="5.15"/><circle cx="1016.1" cy="196.3" r="5.15"/></g><g class="o"><circle cx="1059.8" cy="127" r="5.15"/><circle cx="1074.9" cy="184.3" r="5.15"/><circle cx="1070.9" cy="303.8" r="5.15"/><circle cx="1020.2" cy="166.6" r="5.15"/><circle cx="1061.1" cy="294.8" r="5.15"/><circle cx="1044.2" cy="203.1" r="5.15"/><circle cx="1048.3" cy="215.3" r="5.15"/><circle cx="1042.8" cy="295.2" r="5.15"/><circle cx="1017.1" cy="259.2" r="5.15"/></g><g class="g"><circle cx="942.6" cy="182.8" r="5.15"/><circle cx="1040.1" cy="143.5" r="5.15"/><circle cx="1083.6" cy="135.2" r="5.15"/><circle cx="1039.5" cy="154.6" r="5.15"/><circle cx="1002.4" cy="142.7" r="5.15"/><circle cx="995.8" cy="180.9" r="5.15"/><circle cx="1000.1" cy="132.3" r="5.15"/><circle cx="1044.6" cy="276.2" r="5.15"/><circle cx="1079.2" cy="116" r="5.15"/><circle cx="1063.5" cy="134.5" r="5.15"/><circle cx="1033.8" cy="121" r="5.15"/><circle cx="994.4" cy="141.1" r="5.15"/><circle cx="1001.3" cy="224.7" r="5.15"/><circle cx="1042.3" cy="74.4" r="5.15"/><circle cx="1028.1" cy="93.6" r="5.15"/></g><g class="o"><circle cx="1027.6" cy="267.9" r="5.15"/><circle cx="1008.4" cy="257.2" r="5.15"/><circle cx="997" cy="220.6" r="5.15"/><circle cx="1020.4" cy="222.2" r="5.15"/><circle cx="1036.6" cy="126" r="5.15"/><circle cx="1078" cy="165.8" r="5.15"/><circle cx="1069.1" cy="280.3" r="5.15"/><circle cx="1036" cy="202.8" r="5.15"/><circle cx="1067.6" cy="148.1" r="5.15"/><circle cx="1068.8" cy="242" r="5.15"/><circle cx="1065.9" cy="195.3" r="5.15"/><circle cx="1044.7" cy="304" r="5.15"/><circle cx="1070.1" cy="271.6" r="5.15"/><circle cx="1029.1" cy="170.9" r="5.15"/><circle cx="1070" cy="258.7" r="5.15"/></g><g class="g"><circle cx="1048.9" cy="211.5" r="5.15"/><circle cx="1087.8" cy="168.3" r="5.15"/><circle cx="1058.8" cy="69.1" r="5.15"/><circle cx="1020.2" cy="173.5" r="5.15"/><circle cx="993.7" cy="96.3" r="5.15"/><circle cx="1081.4" cy="94.1" r="5.15"/><circle cx="1039.4" cy="300.9" r="5.15"/><circle cx="1043.2" cy="159.1" r="5.15"/><circle cx="1039.9" cy="192.4" r="5.15"/></g><g class="o"><circle cx="1099.1" cy="184.7" r="5.15"/><circle cx="1014.7" cy="129.4" r="5.15"/><circle cx="1071.1" cy="290.9" r="5.15"/><circle cx="1036.1" cy="162.6" r="5.15"/><circle cx="1085.2" cy="116.8" r="5.15"/><circle cx="998.7" cy="167.5" r="5.15"/></g><g class="g"><circle cx="1052.1" cy="144.1" r="5.15"/><circle cx="1070.3" cy="115.5" r="5.15"/><circle cx="1120.1" cy="103.9" r="5.15"/><circle cx="1103.3" cy="165.2" r="5.15"/><circle cx="1100.2" cy="108.7" r="5.15"/><circle cx="988.4" cy="250.8" r="5.15"/><circle cx="1072.3" cy="155.1" r="5.15"/><circle cx="1009.5" cy="114.9" r="5.15"/><circle cx="1011.1" cy="97.9" r="5.15"/><circle cx="950.1" cy="304.1" r="5.15"/><circle cx="942.8" cy="272.3" r="5.15"/><circle cx="1043.9" cy="305" r="5.15"/><circle cx="1059.1" cy="145" r="5.15"/><circle cx="976.5" cy="175.4" r="5.15"/><circle cx="1099.8" cy="107.6" r="5.15"/><circle cx="1024.3" cy="100.3" r="5.15"/><circle cx="1014.1" cy="116" r="5.15"/><circle cx="1011.9" cy="91.6" r="5.15"/></g><g class="o"><circle cx="1010.2" cy="211.9" r="5.15"/><circle cx="1049.2" cy="173.5" r="5.15"/><circle cx="1035.3" cy="152.8" r="5.15"/><circle cx="989.5" cy="233.3" r="5.15"/><circle cx="1020.7" cy="89.5" r="5.15"/><circle cx="1056.3" cy="266.3" r="5.15"/><circle cx="1133.3" cy="107.1" r="5.15"/><circle cx="1065.5" cy="206.4" r="5.15"/><circle cx="1014.2" cy="236.4" r="5.15"/><circle cx="1026.4" cy="220.6" r="5.15"/><circle cx="1108.9" cy="238.7" r="5.15"/><circle cx="1028.8" cy="226.3" r="5.15"/><circle cx="1047.5" cy="235.8" r="5.15"/></g><g class="g"><circle cx="996.7" cy="168.8" r="5.15"/><circle cx="1018.8" cy="208.3" r="5.15"/><circle cx="1065.2" cy="113.5" r="5.15"/><circle cx="1028.7" cy="178.2" r="5.15"/><circle cx="1093.5" cy="97" r="5.15"/><circle cx="1044.8" cy="156.3" r="5.15"/><circle cx="1047.3" cy="144.1" r="5.15"/><circle cx="1061.9" cy="104.4" r="5.15"/><circle cx="1012" cy="170.1" r="5.15"/><circle cx="1013.1" cy="310" r="5.15"/><circle cx="1028.9" cy="119.2" r="5.15"/></g><g class="o"><circle cx="1039.9" cy="88.7" r="5.15"/><circle cx="1105.5" cy="199.3" r="5.15"/><circle cx="1033.6" cy="132.8" r="5.15"/><circle cx="1094" cy="272.9" r="5.15"/><circle cx="1045.4" cy="205.6" r="5.15"/><circle cx="1097.3" cy="278.3" r="5.15"/><circle cx="972.9" cy="253.5" r="5.15"/><circle cx="1026" cy="250.2" r="5.15"/><circle cx="972.4" cy="311.5" r="5.15"/><circle cx="1058.7" cy="141.6" r="5.15"/><circle cx="1103.8" cy="171.7" r="5.15"/><circle cx="1058.8" cy="200.7" r="5.15"/><circle cx="1049.4" cy="229.4" r="5.15"/><circle cx="1003.4" cy="205.9" r="5.15"/><circle cx="1113.3" cy="198" r="5.15"/></g><g class="g"><circle cx="1050.8" cy="140.1" r="5.15"/><circle cx="1008.6" cy="183.8" r="5.15"/><circle cx="1106.9" cy="123.7" r="5.15"/><circle cx="1079.4" cy="135.2" r="5.15"/><circle cx="1067.4" cy="172.1" r="5.15"/><circle cx="997.6" cy="209.5" r="5.15"/><circle cx="959.8" cy="252" r="5.15"/><circle cx="1043.3" cy="127.9" r="5.15"/><circle cx="1133.5" cy="108" r="5.15"/></g><g class="o"><circle cx="1074.1" cy="280.6" r="5.15"/><circle cx="1068" cy="146.6" r="5.15"/><circle cx="1029.5" cy="312.9" r="5.15"/><circle cx="1030.2" cy="163.2" r="5.15"/><circle cx="1116.1" cy="118.1" r="5.15"/><circle cx="1035.2" cy="291.7" r="5.15"/><circle cx="1084.3" cy="110.2" r="5.15"/><circle cx="1030.3" cy="178.6" r="5.15"/><circle cx="1106.9" cy="93.9" r="5.15"/><circle cx="1041.6" cy="290.5" r="5.15"/></g><g class="g"><circle cx="1096.5" cy="190.8" r="5.15"/><circle cx="1004.9" cy="145.3" r="5.15"/><circle cx="986.9" cy="177.9" r="5.15"/><circle cx="1076.4" cy="135.4" r="5.15"/><circle cx="1076.6" cy="134.6" r="5.15"/><circle cx="1083" cy="113.8" r="5.15"/><circle cx="1012" cy="209.4" r="5.15"/><circle cx="1067.9" cy="196.4" r="5.15"/><circle cx="1099.8" cy="120.7" r="5.15"/><circle cx="1105.4" cy="150.4" r="5.15"/><circle cx="1035.8" cy="158.8" r="5.15"/><circle cx="1041.2" cy="144.2" r="5.15"/><circle cx="997.4" cy="128.1" r="5.15"/><circle cx="1016" cy="140.2" r="5.15"/></g><g class="o"><circle cx="1070.7" cy="295.3" r="5.15"/><circle cx="1059.7" cy="281.9" r="5.15"/><circle cx="949.1" cy="233.3" r="5.15"/><circle cx="1026" cy="180.9" r="5.15"/><circle cx="1044.3" cy="128.4" r="5.15"/><circle cx="1058.2" cy="146.8" r="5.15"/><circle cx="1014.9" cy="127.5" r="5.15"/></g><g class="g"><circle cx="977.8" cy="92" r="5.15"/><circle cx="1072.1" cy="120.4" r="5.15"/><circle cx="1037.8" cy="118" r="5.15"/><circle cx="965.1" cy="184.3" r="5.15"/><circle cx="1055.1" cy="107.1" r="5.15"/><circle cx="1026.3" cy="118.4" r="5.15"/><circle cx="1049.3" cy="176.7" r="5.15"/><circle cx="1010.3" cy="314.3" r="5.15"/><circle cx="1051.9" cy="110.8" r="5.15"/><circle cx="1140.7" cy="134" r="5.15"/><circle cx="1050.3" cy="199.2" r="5.15"/><circle cx="926.4" cy="209.7" r="5.15"/><circle cx="1110.4" cy="85.5" r="5.15"/><circle cx="1083.9" cy="142.3" r="5.15"/><circle cx="1047.1" cy="160.7" r="5.15"/><circle cx="996.7" cy="220.3" r="5.15"/><circle cx="1066.5" cy="127.1" r="5.15"/></g><g class="o"><circle cx="1064.5" cy="171.4" r="5.15"/><circle cx="1049.8" cy="245.7" r="5.15"/><circle cx="1063.5" cy="201.5" r="5.15"/><circle cx="1083.7" cy="160.7" r="5.15"/><circle cx="1146.6" cy="121.9" r="5.15"/><circle cx="1038.8" cy="270.9" r="5.15"/><circle cx="1044.4" cy="275.9" r="5.15"/><circle cx="1017.1" cy="221.7" r="5.15"/><circle cx="1038.8" cy="121.5" r="5.15"/><circle cx="1062.4" cy="113.5" r="5.15"/><circle cx="1111.2" cy="91.9" r="5.15"/></g><g class="g"><circle cx="1077.5" cy="135.2" r="5.15"/><circle cx="1107.7" cy="143.9" r="5.15"/><circle cx="1016.1" cy="95.8" r="5.15"/><circle cx="1008.7" cy="286.6" r="5.15"/><circle cx="1041.9" cy="304.5" r="5.15"/><circle cx="1078.5" cy="233.4" r="5.15"/><circle cx="1011.4" cy="200.3" r="5.15"/><circle cx="1037.9" cy="177" r="5.15"/><circle cx="983" cy="136.5" r="5.15"/><circle cx="977.3" cy="166.2" r="5.15"/><circle cx="1097.1" cy="124.7" r="5.15"/><circle cx="1084.7" cy="127.7" r="5.15"/><circle cx="1089.8" cy="166.1" r="5.15"/></g><g class="o"><circle cx="1068.4" cy="199.8" r="5.15"/><circle cx="1054.9" cy="329.1" r="5.15"/><circle cx="960.1" cy="243.5" r="5.15"/><circle cx="1061.2" cy="159.6" r="5.15"/><circle cx="1089.5" cy="257.8" r="5.15"/><circle cx="1079.1" cy="114.9" r="5.15"/><circle cx="1033.2" cy="252.8" r="5.15"/><circle cx="986.6" cy="178.3" r="5.15"/><circle cx="1069.1" cy="175" r="5.15"/><circle cx="1119.4" cy="166.6" r="5.15"/><circle cx="1165.1" cy="68.7" r="5.15"/></g><g class="g"><circle cx="1019.2" cy="197.3" r="5.15"/><circle cx="1100.6" cy="124.7" r="5.15"/><circle cx="1038.9" cy="171.3" r="5.15"/><circle cx="1111.2" cy="114.2" r="5.15"/><circle cx="1058.4" cy="152.1" r="5.15"/><circle cx="1103.5" cy="174.4" r="5.15"/><circle cx="1033.8" cy="238.7" r="5.15"/><circle cx="970.3" cy="131.4" r="5.15"/><circle cx="1089.6" cy="95.6" r="5.15"/><circle cx="999.7" cy="102.3" r="5.15"/><circle cx="988.4" cy="246.8" r="5.15"/><circle cx="1071.8" cy="104.8" r="5.15"/><circle cx="1001.5" cy="116.8" r="5.15"/></g><g class="o"><circle cx="1040.9" cy="223.9" r="5.15"/><circle cx="1131.5" cy="156.3" r="5.15"/><circle cx="1014.9" cy="174.9" r="5.15"/><circle cx="1031" cy="253.6" r="5.15"/><circle cx="1038.7" cy="184.1" r="5.15"/><circle cx="1052" cy="166.8" r="5.15"/><circle cx="1087.3" cy="235.8" r="5.15"/></g><g class="g"><circle cx="1036.5" cy="205.6" r="5.15"/><circle cx="1058.8" cy="190.4" r="5.15"/><circle cx="1039.4" cy="124.7" r="5.15"/><circle cx="1091" cy="137.8" r="5.15"/><circle cx="1069.2" cy="148.5" r="5.15"/><circle cx="1028.2" cy="132.2" r="5.15"/><circle cx="1018.3" cy="170.8" r="5.15"/><circle cx="1061.8" cy="71.5" r="5.15"/><circle cx="997.9" cy="223.7" r="5.15"/><circle cx="1000.4" cy="191.9" r="5.15"/><circle cx="1024" cy="131.3" r="5.15"/><circle cx="1045.7" cy="98.5" r="5.15"/><circle cx="1038.2" cy="177.7" r="5.15"/><circle cx="1059.7" cy="159.3" r="5.15"/><circle cx="977.3" cy="192.5" r="5.15"/><circle cx="1084" cy="139.7" r="5.15"/><circle cx="1056" cy="112.9" r="5.15"/></g><g class="o"><circle cx="1051.5" cy="187.1" r="5.15"/><circle cx="1030.7" cy="190.6" r="5.15"/><circle cx="1115.1" cy="142.9" r="5.15"/><circle cx="1060.2" cy="266.4" r="5.15"/><circle cx="1103.1" cy="153.3" r="5.15"/><circle cx="1080.3" cy="219.4" r="5.15"/><circle cx="1061.7" cy="280.3" r="5.15"/><circle cx="1059.7" cy="208" r="5.15"/><circle cx="1043.5" cy="125.4" r="5.15"/><circle cx="1052.2" cy="91.3" r="5.15"/><circle cx="1059.2" cy="138.1" r="5.15"/></g><g class="g"><circle cx="978.2" cy="268.4" r="5.15"/><circle cx="1041.2" cy="233.6" r="5.15"/><circle cx="1078.5" cy="131.6" r="5.15"/><circle cx="1061.5" cy="169.3" r="5.15"/><circle cx="1062.8" cy="158.3" r="5.15"/><circle cx="1045.8" cy="128.1" r="5.15"/><circle cx="1093.2" cy="98.2" r="5.15"/><circle cx="1004.3" cy="267.8" r="5.15"/><circle cx="1019.5" cy="157.8" r="5.15"/><circle cx="1102.1" cy="143.8" r="5.15"/><circle cx="1020.8" cy="128.4" r="5.15"/><circle cx="1125.7" cy="137.7" r="5.15"/><circle cx="1025.7" cy="154.5" r="5.15"/></g><g class="o"><circle cx="1023" cy="240.3" r="5.15"/><circle cx="1055.6" cy="203.5" r="5.15"/><circle cx="1075.2" cy="266.6" r="5.15"/><circle cx="1038.1" cy="179.5" r="5.15"/><circle cx="1080.2" cy="178.8" r="5.15"/><circle cx="1022.7" cy="217.8" r="5.15"/><circle cx="1050.8" cy="162" r="5.15"/><circle cx="1071.6" cy="293.4" r="5.15"/><circle cx="1115.7" cy="194.7" r="5.15"/><circle cx="1016.3" cy="230.1" r="5.15"/><circle cx="1065.9" cy="148.8" r="5.15"/><circle cx="1035.4" cy="122" r="5.15"/></g><g class="g"><circle cx="1032.5" cy="305.7" r="5.15"/><circle cx="1079.9" cy="99.9" r="5.15"/><circle cx="1003.8" cy="198.7" r="5.15"/><circle cx="1023" cy="249.6" r="5.15"/><circle cx="1071.7" cy="281.7" r="5.15"/><circle cx="1070.4" cy="134.5" r="5.15"/><circle cx="1067.6" cy="150.3" r="5.15"/><circle cx="1088.7" cy="90.3" r="5.15"/><circle cx="1064.2" cy="119.6" r="5.15"/><circle cx="986.7" cy="317.3" r="5.15"/><circle cx="1103.5" cy="216.8" r="5.15"/><circle cx="1094.2" cy="141.1" r="5.15"/></g><g class="o"><circle cx="1149.4" cy="155.2" r="5.15"/><circle cx="1111.6" cy="199.8" r="5.15"/><circle cx="1044.1" cy="183.5" r="5.15"/><circle cx="1014.4" cy="122.4" r="5.15"/><circle cx="1031.3" cy="282.4" r="5.15"/><circle cx="1082.8" cy="141.8" r="5.15"/><circle cx="1014.9" cy="182.3" r="5.15"/><circle cx="1060.9" cy="116.1" r="5.15"/><circle cx="1131.5" cy="122.4" r="5.15"/><circle cx="1046.5" cy="133.2" r="5.15"/><circle cx="1019.3" cy="176.6" r="5.15"/><circle cx="1109.1" cy="251.3" r="5.15"/><circle cx="1059.3" cy="217.8" r="5.15"/></g><g class="g"><circle cx="994.7" cy="264.7" r="5.15"/><circle cx="1069.5" cy="308.6" r="5.15"/><circle cx="1041.9" cy="108.2" r="5.15"/><circle cx="1092.8" cy="142.5" r="5.15"/><circle cx="1029.7" cy="134" r="5.15"/><circle cx="1068.6" cy="191.9" r="5.15"/><circle cx="1029.9" cy="123.7" r="5.15"/><circle cx="1098.4" cy="125.6" r="5.15"/><circle cx="1017.8" cy="147.3" r="5.15"/><circle cx="932.4" cy="231.6" r="5.15"/><circle cx="1016.4" cy="126.8" r="5.15"/></g><g class="o"><circle cx="1089.8" cy="74.9" r="5.15"/><circle cx="1019.1" cy="229.9" r="5.15"/><circle cx="1015.4" cy="240.8" r="5.15"/><circle cx="1062.6" cy="171.6" r="5.15"/><circle cx="1020.2" cy="182.1" r="5.15"/><circle cx="1036.7" cy="212.7" r="5.15"/><circle cx="1088.8" cy="263.6" r="5.15"/><circle cx="1030.9" cy="181.7" r="5.15"/><circle cx="1040.2" cy="198" r="5.15"/><circle cx="1079.2" cy="137.6" r="5.15"/><circle cx="1057.4" cy="169" r="5.15"/><circle cx="1024.5" cy="212" r="5.15"/><circle cx="1045.2" cy="201.1" r="5.15"/><circle cx="1070.3" cy="275.5" r="5.15"/></g><g class="g"><circle cx="996.4" cy="192.7" r="5.15"/><circle cx="1090.8" cy="162.4" r="5.15"/><circle cx="1003.8" cy="100.8" r="5.15"/><circle cx="1048.2" cy="139.9" r="5.15"/><circle cx="1044.4" cy="138.3" r="5.15"/><circle cx="1036.3" cy="136.5" r="5.15"/><circle cx="1074.7" cy="121.1" r="5.15"/><circle cx="1057.4" cy="89.9" r="5.15"/><circle cx="1071.3" cy="148.7" r="5.15"/><circle cx="1055.4" cy="117.4" r="5.15"/></g><g class="o"><circle cx="1040.1" cy="224.1" r="5.15"/><circle cx="1047.8" cy="230.2" r="5.15"/><circle cx="1052.5" cy="203.4" r="5.15"/><circle cx="1072.4" cy="206.5" r="5.15"/><circle cx="1045.9" cy="203.2" r="5.15"/><circle cx="1034.2" cy="222.8" r="5.15"/><circle cx="1127.8" cy="149.4" r="5.15"/><circle cx="1070.1" cy="197.2" r="5.15"/><circle cx="1096.2" cy="76.2" r="5.15"/><circle cx="1090.4" cy="244.7" r="5.15"/><circle cx="951.9" cy="226.5" r="5.15"/><circle cx="1067" cy="236.8" r="5.15"/><circle cx="956.9" cy="223.1" r="5.15"/><circle cx="1050.4" cy="216.6" r="5.15"/></g><g class="g"><circle cx="1025.3" cy="137.9" r="5.15"/><circle cx="1072.1" cy="145.1" r="5.15"/><circle cx="1074.1" cy="168.9" r="5.15"/><circle cx="1054.7" cy="183.7" r="5.15"/><circle cx="1071" cy="110.4" r="5.15"/><circle cx="1078.8" cy="128.6" r="5.15"/><circle cx="1086.5" cy="123.2" r="5.15"/><circle cx="1050.2" cy="141.5" r="5.15"/><circle cx="949.4" cy="173.4" r="5.15"/><circle cx="979.1" cy="119.1" r="5.15"/></g><g class="o"><circle cx="1075.3" cy="98.4" r="5.15"/><circle cx="1102.6" cy="175.6" r="5.15"/><circle cx="1105.1" cy="179.4" r="5.15"/><circle cx="1027.9" cy="159" r="5.15"/><circle cx="1058.5" cy="137.1" r="5.15"/><circle cx="997.3" cy="204.8" r="5.15"/><circle cx="1070.6" cy="294.6" r="5.15"/><circle cx="1057.1" cy="162.6" r="5.15"/><circle cx="1069.7" cy="150.5" r="5.15"/><circle cx="1070.7" cy="223.8" r="5.15"/></g><g class="g"><circle cx="1102" cy="99.7" r="5.15"/><circle cx="1015.3" cy="206.1" r="5.15"/><circle cx="1000.4" cy="134.7" r="5.15"/><circle cx="1027.3" cy="149.1" r="5.15"/><circle cx="1071.8" cy="142.1" r="5.15"/><circle cx="1070.6" cy="327.5" r="5.15"/><circle cx="1007.4" cy="149.4" r="5.15"/><circle cx="1019.6" cy="179.5" r="5.15"/><circle cx="1019.5" cy="273.1" r="5.15"/><circle cx="1074.2" cy="140.8" r="5.15"/><circle cx="973" cy="183.9" r="5.15"/><circle cx="1025.5" cy="111" r="5.15"/><circle cx="1095.2" cy="139.5" r="5.15"/><circle cx="1051.6" cy="148.1" r="5.15"/></g><g class="o"><circle cx="1069.2" cy="208" r="5.15"/><circle cx="1050.2" cy="207.1" r="5.15"/><circle cx="972.2" cy="174.7" r="5.15"/><circle cx="1008.7" cy="253" r="5.15"/><circle cx="1087.1" cy="151.2" r="5.15"/><circle cx="1022.6" cy="153.3" r="5.15"/><circle cx="1072.6" cy="272.7" r="5.15"/><circle cx="1078.9" cy="193.3" r="5.15"/><circle cx="1066.8" cy="95.3" r="5.15"/><circle cx="1079.6" cy="178.6" r="5.15"/><circle cx="1101.9" cy="235.6" r="5.15"/><circle cx="1034.2" cy="133.2" r="5.15"/></g><g class="g"><circle cx="1091.7" cy="100.2" r="5.15"/><circle cx="1021.2" cy="140.6" r="5.15"/><circle cx="1023.5" cy="298.2" r="5.15"/><circle cx="1111.9" cy="114.9" r="5.15"/><circle cx="1085.9" cy="122.3" r="5.15"/><circle cx="1044.8" cy="195.1" r="5.15"/><circle cx="1017.8" cy="141.4" r="5.15"/><circle cx="991.4" cy="153" r="5.15"/></g>
<path d="M888.5 231.5 L896.4 230.1 L904.4 228.7 L912.3 227.3 L920.2 226 L928.1 224.6 L936.1 223.2 L944 221.8 L951.9 220.4 L959.9 218.9 L967.8 217.5 L975.7 216.1 L983.7 214.6 L991.6 213.2 L999.5 211.7 L1007.4 210.1 L1015.4 208.6 L1023.3 206.9 L1031.2 205.2 L1039.2 203.4 L1047.1 201.4 L1055 199.2 L1063 196.8 L1070.9 194.2 L1078.8 191.5 L1086.7 188.6 L1094.7 185.6 L1102.6 182.5 L1110.5 179.4 L1118.5 176.2 L1126.4 173 L1134.3 169.8 L1142.3 166.6 L1150.2 163.3 L1158.1 160.1 L1166 156.8 L1174 153.5 L1181.9 150.3 L1189.8 147 L1197.8 143.7 L1205.7 140.4 L1205.7 178.2 L1197.8 179.6 L1189.8 181 L1181.9 182.4 L1174 183.8 L1166 185.2 L1158.1 186.6 L1150.2 188 L1142.3 189.4 L1134.3 190.9 L1126.4 192.3 L1118.5 193.8 L1110.5 195.3 L1102.6 196.9 L1094.7 198.5 L1086.7 200.2 L1078.8 201.9 L1070.9 203.9 L1063 205.9 L1055 208.2 L1047.1 210.7 L1039.2 213.4 L1031.2 216.2 L1023.3 219.2 L1015.4 222.2 L1007.4 225.3 L999.5 228.5 L991.6 231.7 L983.7 234.9 L975.7 238.1 L967.8 241.3 L959.9 244.6 L951.9 247.8 L944 251.1 L936.1 254.4 L928.1 257.7 L920.2 260.9 L912.3 264.2 L904.4 267.5 L896.4 270.8 L888.5 274.1Z" fill="#D46600" fill-opacity=".2"/>
<path d="M888.5 214.7 L896.4 212.6 L904.4 210.6 L912.3 208.5 L920.2 206.4 L928.1 204.3 L936.1 202.2 L944 200.1 L951.9 198 L959.9 195.9 L967.8 193.7 L975.7 191.6 L983.7 189.4 L991.6 187.2 L999.5 185 L1007.4 182.7 L1015.4 180.4 L1023.3 177.9 L1031.2 175.4 L1039.2 172.8 L1047.1 170 L1055 167.1 L1063 164.1 L1070.9 160.9 L1078.8 157.7 L1086.7 154.3 L1094.7 151 L1102.6 147.5 L1110.5 144.1 L1118.5 140.6 L1126.4 137.1 L1134.3 133.6 L1142.3 130.1 L1150.2 126.5 L1158.1 123 L1166 119.4 L1174 115.9 L1181.9 112.3 L1189.8 108.7 L1197.8 105.1 L1205.7 101.6 L1205.7 134.4 L1197.8 136.5 L1189.8 138.6 L1181.9 140.7 L1174 142.7 L1166 144.8 L1158.1 146.9 L1150.2 149 L1142.3 151.1 L1134.3 153.3 L1126.4 155.4 L1118.5 157.5 L1110.5 159.7 L1102.6 161.9 L1094.7 164.1 L1086.7 166.4 L1078.8 168.7 L1070.9 171.1 L1063 173.6 L1055 176.3 L1047.1 179 L1039.2 181.9 L1031.2 184.9 L1023.3 188 L1015.4 191.2 L1007.4 194.6 L999.5 197.9 L991.6 201.3 L983.7 204.8 L975.7 208.3 L967.8 211.8 L959.9 215.3 L951.9 218.8 L944 222.3 L936.1 225.9 L928.1 229.4 L920.2 233 L912.3 236.6 L904.4 240.1 L896.4 243.7 L888.5 247.3Z" fill="#235A24" fill-opacity=".2"/>
<path class="ln" d="M888.5 252.8L1205.7 159.3" stroke="#D46600"/>
<path class="ln" d="M888.5 231L1205.7 118" stroke="#235A24"/>
<rect class="bd" x="873.3" y="0.2" width="347.7" height="417.3"/>
<path class="tm" d="M888.5 417.5v-7.3M967.8 417.5v-7.3M1047.1 417.5v-7.3M1126.4 417.5v-7.3M1205.7 417.5v-7.3M873.3 53.1h7.3M873.3 122.3h7.3M873.3 191.5h7.3M873.3 260.7h7.3M873.3 329.9h7.3M873.3 399.1h7.3"/>
<g class="tk"><text x="888.5" y="435.0" text-anchor="middle">−4</text><text x="967.8" y="435.0" text-anchor="middle">−2</text><text x="1047.1" y="435.0" text-anchor="middle">0</text><text x="1126.4" y="435.0" text-anchor="middle">2</text><text x="1205.7" y="435.0" text-anchor="middle">4</text><text x="870.5" y="59.9" text-anchor="end">2</text><text x="870.5" y="129.1" text-anchor="end">1</text><text x="870.5" y="198.3" text-anchor="end">0</text><text x="870.5" y="267.5" text-anchor="end">−1</text><text x="870.5" y="336.7" text-anchor="end">−2</text><text x="870.5" y="405.9" text-anchor="end">−3</text></g>
<text class="an" x="888.8" y="32.7">DVT<tspan x="932.5">×</tspan><tspan x="948.9">CWM</tspan><tspan font-size="14.00" dy="3.4">PC1</tspan><tspan dy="-3.4">:</tspan><tspan class="it" x="1036.7">F</tspan><tspan x="1052.3">=</tspan><tspan x="1070">0.64,</tspan><tspan class="it" x="1118.7">P</tspan><tspan x="1135.5">=</tspan><tspan x="1152.2">0.424</tspan></text>
<text class="lb" x="842.5" y="34.6" font-size="40.8">c</text>
</g>
<g id="panel-d">
<g class="o"><circle cx="1385.6" cy="220.9" r="5.15"/><circle cx="1394.5" cy="212.3" r="5.15"/><circle cx="1390.7" cy="178.1" r="5.15"/><circle cx="1413.5" cy="229.5" r="5.15"/><circle cx="1403.2" cy="229.2" r="5.15"/><circle cx="1402.2" cy="214.3" r="5.15"/><circle cx="1366.2" cy="167.7" r="5.15"/><circle cx="1395.8" cy="214" r="5.15"/><circle cx="1378.9" cy="127.4" r="5.15"/></g><g class="g"><circle cx="1407.7" cy="160.2" r="5.15"/><circle cx="1478.9" cy="67.5" r="5.15"/><circle cx="1460.9" cy="153.5" r="5.15"/><circle cx="1475.7" cy="104.2" r="5.15"/><circle cx="1438.8" cy="207.8" r="5.15"/><circle cx="1483.8" cy="87.4" r="5.15"/><circle cx="1447.5" cy="206.4" r="5.15"/><circle cx="1490.2" cy="74.6" r="5.15"/><circle cx="1390.2" cy="162.2" r="5.15"/><circle cx="1486.6" cy="80.6" r="5.15"/><circle cx="1470.7" cy="116.7" r="5.15"/><circle cx="1453.9" cy="111.1" r="5.15"/><circle cx="1420.6" cy="124.2" r="5.15"/><circle cx="1467.4" cy="46.6" r="5.15"/><circle cx="1484.9" cy="88" r="5.15"/></g><g class="o"><circle cx="1402.1" cy="223.9" r="5.15"/><circle cx="1374.7" cy="330.7" r="5.15"/><circle cx="1373.9" cy="221.4" r="5.15"/><circle cx="1345.4" cy="227.6" r="5.15"/><circle cx="1397.5" cy="195.3" r="5.15"/><circle cx="1415.7" cy="246.5" r="5.15"/><circle cx="1362.7" cy="209.2" r="5.15"/><circle cx="1368.1" cy="189.5" r="5.15"/><circle cx="1412.6" cy="164.2" r="5.15"/><circle cx="1385.3" cy="317.5" r="5.15"/><circle cx="1399.7" cy="317.3" r="5.15"/><circle cx="1368.4" cy="265" r="5.15"/></g><g class="g"><circle cx="1489.2" cy="118.1" r="5.15"/><circle cx="1398.4" cy="144.6" r="5.15"/><circle cx="1423.4" cy="169.6" r="5.15"/><circle cx="1450.9" cy="150.8" r="5.15"/><circle cx="1463.7" cy="187.1" r="5.15"/><circle cx="1484.9" cy="82.5" r="5.15"/><circle cx="1386.8" cy="219.6" r="5.15"/><circle cx="1487.2" cy="72.5" r="5.15"/><circle cx="1444.3" cy="188.3" r="5.15"/><circle cx="1464.8" cy="100.8" r="5.15"/><circle cx="1470.7" cy="83.7" r="5.15"/><circle cx="1475.7" cy="99.3" r="5.15"/></g><g class="o"><circle cx="1370" cy="175.3" r="5.15"/><circle cx="1419.8" cy="105.3" r="5.15"/><circle cx="1355.4" cy="240.9" r="5.15"/><circle cx="1395.9" cy="215.4" r="5.15"/><circle cx="1364.7" cy="193.4" r="5.15"/><circle cx="1411.9" cy="156.7" r="5.15"/><circle cx="1396.9" cy="291.1" r="5.15"/><circle cx="1389.7" cy="126.2" r="5.15"/><circle cx="1371" cy="218.5" r="5.15"/><circle cx="1376.3" cy="194.5" r="5.15"/><circle cx="1381.8" cy="148.7" r="5.15"/></g><g class="g"><circle cx="1404.4" cy="133.1" r="5.15"/><circle cx="1409.8" cy="90.5" r="5.15"/><circle cx="1472.6" cy="128.7" r="5.15"/><circle cx="1431.3" cy="193.9" r="5.15"/><circle cx="1494.9" cy="106.7" r="5.15"/><circle cx="1450.4" cy="155.6" r="5.15"/><circle cx="1457.6" cy="120.8" r="5.15"/><circle cx="1377.5" cy="171.4" r="5.15"/><circle cx="1389.9" cy="215.1" r="5.15"/><circle cx="1412.7" cy="196.7" r="5.15"/><circle cx="1395.1" cy="246.7" r="5.15"/><circle cx="1421" cy="185.2" r="5.15"/><circle cx="1367.5" cy="176.5" r="5.15"/></g><g class="o"><circle cx="1389.7" cy="241.8" r="5.15"/><circle cx="1356.3" cy="340.5" r="5.15"/><circle cx="1368.9" cy="178.6" r="5.15"/><circle cx="1403.8" cy="85.2" r="5.15"/><circle cx="1432.7" cy="94.1" r="5.15"/><circle cx="1387.9" cy="131.7" r="5.15"/><circle cx="1359.2" cy="216.5" r="5.15"/><circle cx="1374.6" cy="123.3" r="5.15"/><circle cx="1363.5" cy="195.3" r="5.15"/><circle cx="1351.8" cy="225.1" r="5.15"/><circle cx="1392.1" cy="195.8" r="5.15"/><circle cx="1389.7" cy="262.1" r="5.15"/><circle cx="1385.9" cy="277.3" r="5.15"/></g><g class="g"><circle cx="1450.8" cy="57.6" r="5.15"/><circle cx="1471.4" cy="150.6" r="5.15"/><circle cx="1426.1" cy="190.7" r="5.15"/><circle cx="1457.5" cy="107" r="5.15"/><circle cx="1473.3" cy="96.8" r="5.15"/><circle cx="1459.4" cy="101.2" r="5.15"/><circle cx="1486.7" cy="54.5" r="5.15"/><circle cx="1461.4" cy="147.9" r="5.15"/><circle cx="1398.1" cy="172.2" r="5.15"/><circle cx="1486.6" cy="59.9" r="5.15"/><circle cx="1401.3" cy="158.2" r="5.15"/></g><g class="o"><circle cx="1398.3" cy="273.8" r="5.15"/><circle cx="1369.5" cy="163.3" r="5.15"/><circle cx="1423.3" cy="140.8" r="5.15"/><circle cx="1411.6" cy="145.4" r="5.15"/><circle cx="1387.3" cy="185.1" r="5.15"/><circle cx="1401.7" cy="180.5" r="5.15"/><circle cx="1426.6" cy="178.2" r="5.15"/><circle cx="1416.5" cy="118.1" r="5.15"/><circle cx="1331.5" cy="174" r="5.15"/><circle cx="1383.9" cy="244" r="5.15"/><circle cx="1386.5" cy="164.9" r="5.15"/></g><g class="g"><circle cx="1476.7" cy="106.8" r="5.15"/><circle cx="1483.4" cy="120.3" r="5.15"/><circle cx="1444.2" cy="161.8" r="5.15"/><circle cx="1405.6" cy="154.5" r="5.15"/><circle cx="1409.8" cy="113.7" r="5.15"/><circle cx="1374.2" cy="207.4" r="5.15"/><circle cx="1408.4" cy="131.5" r="5.15"/><circle cx="1453.9" cy="84.6" r="5.15"/><circle cx="1403.8" cy="165.2" r="5.15"/><circle cx="1458.8" cy="120.5" r="5.15"/><circle cx="1395.9" cy="168.5" r="5.15"/><circle cx="1459.9" cy="100" r="5.15"/><circle cx="1467.6" cy="122" r="5.15"/></g><g class="o"><circle cx="1369.2" cy="258.8" r="5.15"/><circle cx="1403.7" cy="171.7" r="5.15"/><circle cx="1357.4" cy="283.1" r="5.15"/><circle cx="1394.5" cy="202.8" r="5.15"/><circle cx="1375.2" cy="129" r="5.15"/><circle cx="1430.2" cy="245.5" r="5.15"/><circle cx="1397.9" cy="195.1" r="5.15"/><circle cx="1360.2" cy="184.6" r="5.15"/><circle cx="1374.1" cy="247.7" r="5.15"/><circle cx="1382" cy="261.4" r="5.15"/><circle cx="1387.6" cy="107.4" r="5.15"/><circle cx="1334.1" cy="295.3" r="5.15"/><circle cx="1394.1" cy="173.1" r="5.15"/></g><g class="g"><circle cx="1446" cy="175.3" r="5.15"/><circle cx="1326.6" cy="188.6" r="5.15"/><circle cx="1458" cy="162.3" r="5.15"/><circle cx="1478" cy="106.3" r="5.15"/><circle cx="1438.1" cy="113.4" r="5.15"/><circle cx="1404.7" cy="310.9" r="5.15"/><circle cx="1440.1" cy="98.3" r="5.15"/><circle cx="1436.4" cy="111.7" r="5.15"/><circle cx="1444.3" cy="159.5" r="5.15"/><circle cx="1451.3" cy="122.9" r="5.15"/><circle cx="1403" cy="157.8" r="5.15"/></g><g class="o"><circle cx="1381.1" cy="169.9" r="5.15"/><circle cx="1400" cy="118.9" r="5.15"/><circle cx="1390.1" cy="296.5" r="5.15"/><circle cx="1350" cy="271.3" r="5.15"/><circle cx="1377.9" cy="171.8" r="5.15"/><circle cx="1380.9" cy="271.4" r="5.15"/><circle cx="1357" cy="161.4" r="5.15"/><circle cx="1393.4" cy="109.3" r="5.15"/><circle cx="1368.1" cy="304.9" r="5.15"/><circle cx="1407.8" cy="165.9" r="5.15"/><circle cx="1343.3" cy="202.8" r="5.15"/></g><g class="g"><circle cx="1441.1" cy="106.9" r="5.15"/><circle cx="1446.5" cy="99.7" r="5.15"/><circle cx="1347.3" cy="158.2" r="5.15"/><circle cx="1419.9" cy="158.4" r="5.15"/><circle cx="1485.4" cy="87.1" r="5.15"/><circle cx="1359.7" cy="197.1" r="5.15"/><circle cx="1409.8" cy="97.4" r="5.15"/><circle cx="1474.3" cy="80.9" r="5.15"/><circle cx="1456.5" cy="94.6" r="5.15"/><circle cx="1483.6" cy="124.7" r="5.15"/><circle cx="1462.2" cy="144.9" r="5.15"/><circle cx="1330.6" cy="229.4" r="5.15"/><circle cx="1387.1" cy="135.1" r="5.15"/></g><g class="o"><circle cx="1356.1" cy="244" r="5.15"/><circle cx="1397" cy="164.9" r="5.15"/><circle cx="1395.8" cy="218.4" r="5.15"/><circle cx="1414.9" cy="216.8" r="5.15"/><circle cx="1386" cy="261.3" r="5.15"/><circle cx="1361.7" cy="214.2" r="5.15"/><circle cx="1334.2" cy="301.5" r="5.15"/><circle cx="1376.2" cy="122" r="5.15"/><circle cx="1366.8" cy="313.4" r="5.15"/><circle cx="1396.8" cy="130.5" r="5.15"/><circle cx="1327.2" cy="269.5" r="5.15"/><circle cx="1389.4" cy="96.9" r="5.15"/><circle cx="1400.2" cy="253.3" r="5.15"/></g><g class="g"><circle cx="1460.8" cy="120.9" r="5.15"/><circle cx="1430.5" cy="130.8" r="5.15"/><circle cx="1467" cy="165.7" r="5.15"/><circle cx="1378.6" cy="146.9" r="5.15"/><circle cx="1434.1" cy="73.3" r="5.15"/><circle cx="1400.8" cy="130.3" r="5.15"/><circle cx="1488" cy="74.7" r="5.15"/><circle cx="1461.8" cy="99.1" r="5.15"/><circle cx="1465.2" cy="116.1" r="5.15"/><circle cx="1455.7" cy="90.9" r="5.15"/><circle cx="1407.7" cy="181.6" r="5.15"/></g><g class="o"><circle cx="1376.5" cy="179.6" r="5.15"/><circle cx="1359.6" cy="301.3" r="5.15"/><circle cx="1389.9" cy="187.3" r="5.15"/><circle cx="1432.6" cy="150.9" r="5.15"/><circle cx="1394.1" cy="187.7" r="5.15"/><circle cx="1372.5" cy="286.1" r="5.15"/><circle cx="1366.1" cy="323" r="5.15"/><circle cx="1355.4" cy="307.4" r="5.15"/><circle cx="1430.5" cy="136.1" r="5.15"/><circle cx="1382" cy="206.6" r="5.15"/><circle cx="1364.9" cy="132" r="5.15"/></g><g class="g"><circle cx="1480.1" cy="121.1" r="5.15"/><circle cx="1407.2" cy="178.7" r="5.15"/><circle cx="1414.8" cy="149.1" r="5.15"/><circle cx="1495" cy="88.4" r="5.15"/><circle cx="1461.4" cy="93.5" r="5.15"/><circle cx="1352.2" cy="172.9" r="5.15"/><circle cx="1416.3" cy="119.2" r="5.15"/><circle cx="1500.9" cy="99" r="5.15"/><circle cx="1408.8" cy="150.7" r="5.15"/><circle cx="1476.8" cy="80.1" r="5.15"/><circle cx="1442.2" cy="221.6" r="5.15"/><circle cx="1427.2" cy="117.1" r="5.15"/><circle cx="1498.4" cy="65.6" r="5.15"/></g><g class="o"><circle cx="1339.9" cy="260.6" r="5.15"/><circle cx="1385.6" cy="256.9" r="5.15"/><circle cx="1374.2" cy="289.4" r="5.15"/><circle cx="1380" cy="208.9" r="5.15"/><circle cx="1379" cy="190.8" r="5.15"/><circle cx="1384.5" cy="201.8" r="5.15"/><circle cx="1399.3" cy="241.2" r="5.15"/><circle cx="1348.3" cy="245.5" r="5.15"/><circle cx="1329.8" cy="206.2" r="5.15"/><circle cx="1411.7" cy="151.4" r="5.15"/></g><g class="g"><circle cx="1507.2" cy="87.1" r="5.15"/><circle cx="1488.8" cy="64.4" r="5.15"/><circle cx="1481.6" cy="104.2" r="5.15"/><circle cx="1459.5" cy="110.1" r="5.15"/><circle cx="1448.9" cy="124.1" r="5.15"/><circle cx="1409.1" cy="137" r="5.15"/><circle cx="1491.6" cy="95" r="5.15"/><circle cx="1362.6" cy="160.4" r="5.15"/><circle cx="1459.9" cy="100.6" r="5.15"/><circle cx="1443.4" cy="186.6" r="5.15"/><circle cx="1445.4" cy="168.3" r="5.15"/><circle cx="1444.3" cy="81.5" r="5.15"/><circle cx="1451.9" cy="85" r="5.15"/><circle cx="1361.8" cy="178.5" r="5.15"/></g><g class="o"><circle cx="1329.1" cy="163.4" r="5.15"/><circle cx="1387.7" cy="250.7" r="5.15"/><circle cx="1373.7" cy="275" r="5.15"/><circle cx="1401.8" cy="205" r="5.15"/><circle cx="1361.2" cy="266.2" r="5.15"/><circle cx="1368.8" cy="258.4" r="5.15"/><circle cx="1440.2" cy="209.6" r="5.15"/><circle cx="1385.1" cy="143.4" r="5.15"/><circle cx="1413.7" cy="93.4" r="5.15"/><circle cx="1413.2" cy="96.8" r="5.15"/><circle cx="1380.3" cy="213.1" r="5.15"/><circle cx="1414.6" cy="172.8" r="5.15"/><circle cx="1349.3" cy="237.8" r="5.15"/></g><g class="g"><circle cx="1417.3" cy="147.3" r="5.15"/><circle cx="1469.8" cy="84.6" r="5.15"/><circle cx="1431.6" cy="143.5" r="5.15"/><circle cx="1417.8" cy="130.9" r="5.15"/><circle cx="1459.7" cy="127.4" r="5.15"/><circle cx="1375.4" cy="169" r="5.15"/><circle cx="1403.4" cy="164.9" r="5.15"/><circle cx="1370" cy="184.4" r="5.15"/><circle cx="1389.2" cy="163.6" r="5.15"/><circle cx="1456.9" cy="74" r="5.15"/><circle cx="1452.3" cy="137.7" r="5.15"/></g><g class="o"><circle cx="1333" cy="150" r="5.15"/><circle cx="1419.8" cy="163.9" r="5.15"/><circle cx="1391.2" cy="153.5" r="5.15"/><circle cx="1416.4" cy="175.9" r="5.15"/><circle cx="1416.6" cy="223.7" r="5.15"/><circle cx="1392.2" cy="228.9" r="5.15"/><circle cx="1403.4" cy="108.7" r="5.15"/><circle cx="1380.3" cy="192.3" r="5.15"/><circle cx="1369.3" cy="190.7" r="5.15"/><circle cx="1380" cy="211.2" r="5.15"/><circle cx="1374.2" cy="120.6" r="5.15"/></g><g class="g"><circle cx="1439.8" cy="122.1" r="5.15"/><circle cx="1384.6" cy="184.7" r="5.15"/><circle cx="1418.2" cy="162.8" r="5.15"/><circle cx="1455" cy="162.4" r="5.15"/><circle cx="1430.6" cy="140.9" r="5.15"/><circle cx="1393.9" cy="237.7" r="5.15"/><circle cx="1389.5" cy="214.3" r="5.15"/><circle cx="1472.3" cy="67.7" r="5.15"/><circle cx="1430.9" cy="166.6" r="5.15"/><circle cx="1451.7" cy="72.4" r="5.15"/><circle cx="1457.6" cy="170.6" r="5.15"/><circle cx="1409" cy="271.2" r="5.15"/><circle cx="1405" cy="253.3" r="5.15"/></g><g class="o"><circle cx="1361.3" cy="231" r="5.15"/><circle cx="1362.4" cy="184.2" r="5.15"/><circle cx="1417.5" cy="208.5" r="5.15"/><circle cx="1382.1" cy="254.8" r="5.15"/><circle cx="1407.9" cy="154" r="5.15"/><circle cx="1431.8" cy="109.8" r="5.15"/><circle cx="1395.6" cy="144.6" r="5.15"/><circle cx="1394.9" cy="142.9" r="5.15"/><circle cx="1361.5" cy="154.9" r="5.15"/><circle cx="1391" cy="289.5" r="5.15"/><circle cx="1347.1" cy="372.6" r="5.15"/><circle cx="1381.8" cy="229.5" r="5.15"/><circle cx="1370.1" cy="259" r="5.15"/><circle cx="1394.8" cy="187.3" r="5.15"/><circle cx="1363.9" cy="262.9" r="5.15"/><circle cx="1358.7" cy="294.1" r="5.15"/><circle cx="1420.8" cy="217" r="5.15"/><circle cx="1337.2" cy="278.6" r="5.15"/></g><g class="g"><circle cx="1411.6" cy="185.8" r="5.15"/><circle cx="1405.3" cy="215.2" r="5.15"/><circle cx="1481.3" cy="95.7" r="5.15"/><circle cx="1481.7" cy="86.3" r="5.15"/><circle cx="1456.1" cy="168.5" r="5.15"/><circle cx="1433.4" cy="133.6" r="5.15"/></g><g class="o"><circle cx="1404.3" cy="193.5" r="5.15"/><circle cx="1354.7" cy="190.5" r="5.15"/><circle cx="1381.9" cy="213.6" r="5.15"/><circle cx="1418.1" cy="267.1" r="5.15"/><circle cx="1407.6" cy="224.6" r="5.15"/><circle cx="1410.9" cy="235.1" r="5.15"/><circle cx="1382.2" cy="203.3" r="5.15"/><circle cx="1349.1" cy="254.9" r="5.15"/><circle cx="1420.2" cy="159.3" r="5.15"/><circle cx="1367.1" cy="224.6" r="5.15"/><circle cx="1355.6" cy="239.9" r="5.15"/></g><g class="g"><circle cx="1439.1" cy="134.9" r="5.15"/><circle cx="1456.2" cy="154.6" r="5.15"/><circle cx="1456.7" cy="104.6" r="5.15"/><circle cx="1425.6" cy="124.9" r="5.15"/><circle cx="1469.2" cy="123.2" r="5.15"/><circle cx="1450.4" cy="139.9" r="5.15"/><circle cx="1391.1" cy="244.4" r="5.15"/><circle cx="1374.2" cy="131.4" r="5.15"/><circle cx="1515" cy="118.9" r="5.15"/><circle cx="1416.7" cy="131.1" r="5.15"/><circle cx="1455" cy="72.6" r="5.15"/><circle cx="1386" cy="95.8" r="5.15"/><circle cx="1459.8" cy="69" r="5.15"/></g><g class="o"><circle cx="1388.2" cy="185.1" r="5.15"/><circle cx="1345.3" cy="343.6" r="5.15"/><circle cx="1378.6" cy="269.1" r="5.15"/><circle cx="1351.9" cy="315.2" r="5.15"/><circle cx="1405.7" cy="187" r="5.15"/><circle cx="1432.5" cy="211.7" r="5.15"/><circle cx="1350.7" cy="250.3" r="5.15"/><circle cx="1368" cy="225.2" r="5.15"/><circle cx="1345" cy="249" r="5.15"/><circle cx="1359.2" cy="166.2" r="5.15"/></g><g class="g"><circle cx="1447.9" cy="226.3" r="5.15"/><circle cx="1389.9" cy="202.7" r="5.15"/><circle cx="1400.8" cy="238.8" r="5.15"/><circle cx="1505.1" cy="110.9" r="5.15"/><circle cx="1465.9" cy="84.5" r="5.15"/><circle cx="1443.4" cy="139" r="5.15"/><circle cx="1458.8" cy="75.6" r="5.15"/><circle cx="1376.5" cy="150.1" r="5.15"/><circle cx="1494.1" cy="56.9" r="5.15"/><circle cx="1395.2" cy="152.9" r="5.15"/><circle cx="1425.4" cy="116.7" r="5.15"/><circle cx="1391.7" cy="171.5" r="5.15"/><circle cx="1489.9" cy="94.5" r="5.15"/><circle cx="1452.3" cy="128" r="5.15"/></g><g class="o"><circle cx="1420.6" cy="192.2" r="5.15"/><circle cx="1351.3" cy="199.1" r="5.15"/><circle cx="1360.2" cy="280.3" r="5.15"/><circle cx="1421.2" cy="153" r="5.15"/><circle cx="1402" cy="278.5" r="5.15"/><circle cx="1374.7" cy="165.5" r="5.15"/><circle cx="1352.2" cy="207.2" r="5.15"/><circle cx="1350.4" cy="235.6" r="5.15"/><circle cx="1362.6" cy="297.8" r="5.15"/><circle cx="1372" cy="230" r="5.15"/><circle cx="1409.8" cy="182.2" r="5.15"/></g><g class="g"><circle cx="1407" cy="133.3" r="5.15"/><circle cx="1358.3" cy="200.7" r="5.15"/><circle cx="1408" cy="158.3" r="5.15"/><circle cx="1485.1" cy="79.2" r="5.15"/><circle cx="1388.2" cy="173.2" r="5.15"/><circle cx="1430.6" cy="105.2" r="5.15"/><circle cx="1388.8" cy="205.5" r="5.15"/><circle cx="1473.1" cy="105.5" r="5.15"/><circle cx="1408" cy="127.2" r="5.15"/><circle cx="1435.3" cy="126" r="5.15"/><circle cx="1468.6" cy="86.3" r="5.15"/><circle cx="1471.4" cy="128.5" r="5.15"/><circle cx="1450.5" cy="119.2" r="5.15"/></g><g class="o"><circle cx="1391.8" cy="247.8" r="5.15"/><circle cx="1420.4" cy="192.4" r="5.15"/><circle cx="1394.3" cy="260.1" r="5.15"/><circle cx="1393" cy="292.3" r="5.15"/><circle cx="1324.9" cy="231.6" r="5.15"/><circle cx="1401" cy="187.2" r="5.15"/><circle cx="1400.1" cy="155.7" r="5.15"/><circle cx="1391.8" cy="276.8" r="5.15"/><circle cx="1377.9" cy="206.8" r="5.15"/></g><g class="g"><circle cx="1435.4" cy="113.6" r="5.15"/><circle cx="1481.5" cy="98.5" r="5.15"/><circle cx="1413" cy="168.7" r="5.15"/><circle cx="1410.5" cy="263.1" r="5.15"/><circle cx="1437.4" cy="118" r="5.15"/><circle cx="1475" cy="57.5" r="5.15"/><circle cx="1462.9" cy="174.8" r="5.15"/><circle cx="1369.4" cy="212.3" r="5.15"/><circle cx="1537.5" cy="56.8" r="5.15"/><circle cx="1492" cy="65.3" r="5.15"/><circle cx="1463.4" cy="91.1" r="5.15"/><circle cx="1491" cy="78.9" r="5.15"/><circle cx="1460.2" cy="76.3" r="5.15"/><circle cx="1483.6" cy="98.2" r="5.15"/><circle cx="1483.4" cy="95.6" r="5.15"/></g><g class="o"><circle cx="1309.1" cy="276.7" r="5.15"/><circle cx="1387" cy="109.9" r="5.15"/><circle cx="1398.8" cy="181.8" r="5.15"/><circle cx="1398.8" cy="106.2" r="5.15"/><circle cx="1407.2" cy="213.6" r="5.15"/><circle cx="1358.8" cy="182.6" r="5.15"/><circle cx="1349.2" cy="187.5" r="5.15"/><circle cx="1373" cy="305" r="5.15"/><circle cx="1384.2" cy="245.1" r="5.15"/></g><g class="g"><circle cx="1464.8" cy="135.7" r="5.15"/><circle cx="1444.9" cy="126.8" r="5.15"/><circle cx="1483.8" cy="96.9" r="5.15"/><circle cx="1444.3" cy="173.1" r="5.15"/><circle cx="1345.5" cy="126.6" r="5.15"/><circle cx="1465.1" cy="147.3" r="5.15"/><circle cx="1472.7" cy="89.8" r="5.15"/><circle cx="1461.9" cy="83.8" r="5.15"/><circle cx="1498.8" cy="71.7" r="5.15"/><circle cx="1486.6" cy="70" r="5.15"/><circle cx="1506.5" cy="107.9" r="5.15"/><circle cx="1410.2" cy="132.8" r="5.15"/><circle cx="1433.1" cy="148.9" r="5.15"/><circle cx="1423.7" cy="210.7" r="5.15"/><circle cx="1475.8" cy="126.3" r="5.15"/></g><g class="o"><circle cx="1373.6" cy="238.8" r="5.15"/><circle cx="1399" cy="159.6" r="5.15"/><circle cx="1393" cy="158.6" r="5.15"/><circle cx="1379.3" cy="179.1" r="5.15"/><circle cx="1360.9" cy="208.4" r="5.15"/><circle cx="1410.2" cy="175.1" r="5.15"/><circle cx="1370.4" cy="272.6" r="5.15"/><circle cx="1423" cy="161.4" r="5.15"/><circle cx="1364.7" cy="186.9" r="5.15"/><circle cx="1398.5" cy="186" r="5.15"/><circle cx="1383.9" cy="177.5" r="5.15"/><circle cx="1317.7" cy="164.1" r="5.15"/><circle cx="1338.5" cy="198.6" r="5.15"/></g><g class="g"><circle cx="1355.4" cy="280.1" r="5.15"/><circle cx="1371.7" cy="181.3" r="5.15"/><circle cx="1466" cy="62.4" r="5.15"/><circle cx="1443.7" cy="133.9" r="5.15"/><circle cx="1467.4" cy="105.4" r="5.15"/><circle cx="1445.1" cy="167" r="5.15"/><circle cx="1431.4" cy="185.8" r="5.15"/><circle cx="1350.2" cy="185.1" r="5.15"/><circle cx="1475.5" cy="84.8" r="5.15"/><circle cx="1345" cy="294.1" r="5.15"/><circle cx="1463.6" cy="147.4" r="5.15"/></g><g class="o"><circle cx="1375.5" cy="256.3" r="5.15"/><circle cx="1390" cy="265.4" r="5.15"/><circle cx="1429.8" cy="174.5" r="5.15"/><circle cx="1383.9" cy="325" r="5.15"/><circle cx="1400.7" cy="132.7" r="5.15"/><circle cx="1402.4" cy="113.9" r="5.15"/><circle cx="1337.1" cy="216.7" r="5.15"/><circle cx="1376.9" cy="186" r="5.15"/><circle cx="1375.8" cy="167.3" r="5.15"/><circle cx="1349.7" cy="204.1" r="5.15"/></g><g class="g"><circle cx="1458.7" cy="74.4" r="5.15"/><circle cx="1413" cy="118.7" r="5.15"/><circle cx="1391.3" cy="139.9" r="5.15"/><circle cx="1469.7" cy="109.4" r="5.15"/><circle cx="1389.4" cy="119.3" r="5.15"/><circle cx="1457.5" cy="86.1" r="5.15"/><circle cx="1428.2" cy="230.1" r="5.15"/><circle cx="1426.1" cy="173.6" r="5.15"/><circle cx="1429.9" cy="183.5" r="5.15"/><circle cx="1373.5" cy="137.3" r="5.15"/><circle cx="1411.8" cy="235.4" r="5.15"/><circle cx="1372.9" cy="188.9" r="5.15"/><circle cx="1477" cy="172.3" r="5.15"/><circle cx="1396" cy="203.1" r="5.15"/></g><g class="o"><circle cx="1378.7" cy="332.9" r="5.15"/><circle cx="1333.4" cy="214.7" r="5.15"/><circle cx="1357" cy="206.7" r="5.15"/><circle cx="1402" cy="222.4" r="5.15"/><circle cx="1380.7" cy="174.8" r="5.15"/><circle cx="1376.3" cy="210.1" r="5.15"/><circle cx="1315.9" cy="230" r="5.15"/><circle cx="1379.1" cy="87.3" r="5.15"/><circle cx="1381.3" cy="96" r="5.15"/><circle cx="1370.4" cy="288.6" r="5.15"/><circle cx="1349" cy="336" r="5.15"/></g><g class="g"><circle cx="1405.7" cy="208" r="5.15"/><circle cx="1477.7" cy="104.1" r="5.15"/><circle cx="1496.7" cy="74.9" r="5.15"/><circle cx="1411.9" cy="179.4" r="5.15"/><circle cx="1457.8" cy="119.9" r="5.15"/><circle cx="1466.2" cy="72.9" r="5.15"/><circle cx="1372.4" cy="229.9" r="5.15"/><circle cx="1455.9" cy="91.3" r="5.15"/><circle cx="1465.9" cy="88.1" r="5.15"/><circle cx="1463.6" cy="110.5" r="5.15"/><circle cx="1478.8" cy="101.3" r="5.15"/><circle cx="1480.3" cy="88" r="5.15"/><circle cx="1464.6" cy="101.1" r="5.15"/></g><g class="o"><circle cx="1391.7" cy="141.3" r="5.15"/><circle cx="1411.7" cy="237.6" r="5.15"/><circle cx="1410.7" cy="223.2" r="5.15"/><circle cx="1405.9" cy="193.5" r="5.15"/><circle cx="1353" cy="274.4" r="5.15"/><circle cx="1365.4" cy="152" r="5.15"/><circle cx="1397.7" cy="181.9" r="5.15"/><circle cx="1404.8" cy="250.2" r="5.15"/><circle cx="1450.4" cy="209.9" r="5.15"/><circle cx="1384.4" cy="146.9" r="5.15"/><circle cx="1409.3" cy="252.1" r="5.15"/><circle cx="1348.8" cy="162.9" r="5.15"/><circle cx="1383.7" cy="172.8" r="5.15"/></g><g class="g"><circle cx="1445.8" cy="118.9" r="5.15"/><circle cx="1491.2" cy="81" r="5.15"/><circle cx="1368.6" cy="192.6" r="5.15"/><circle cx="1466.4" cy="135.2" r="5.15"/><circle cx="1457.5" cy="104" r="5.15"/><circle cx="1442.1" cy="187.9" r="5.15"/><circle cx="1451.4" cy="87.8" r="5.15"/><circle cx="1502.2" cy="93" r="5.15"/><circle cx="1428.8" cy="173.5" r="5.15"/><circle cx="1462" cy="60.4" r="5.15"/><circle cx="1453.2" cy="198.2" r="5.15"/></g><g class="o"><circle cx="1425.5" cy="208.1" r="5.15"/><circle cx="1374.9" cy="248.8" r="5.15"/><circle cx="1358.2" cy="250.7" r="5.15"/><circle cx="1352.1" cy="245.7" r="5.15"/><circle cx="1378.2" cy="190.6" r="5.15"/><circle cx="1372.8" cy="173.8" r="5.15"/><circle cx="1327.5" cy="289.2" r="5.15"/><circle cx="1369.1" cy="156.6" r="5.15"/><circle cx="1401.2" cy="224.8" r="5.15"/><circle cx="1345.3" cy="231.7" r="5.15"/><circle cx="1418.5" cy="195" r="5.15"/><circle cx="1402.2" cy="137.8" r="5.15"/><circle cx="1401.4" cy="204.8" r="5.15"/><circle cx="1375.4" cy="151.9" r="5.15"/><circle cx="1356.2" cy="223.2" r="5.15"/><circle cx="1425.4" cy="109.6" r="5.15"/><circle cx="1398.1" cy="240.5" r="5.15"/></g><g class="g"><circle cx="1472.2" cy="92.8" r="5.15"/><circle cx="1413.1" cy="129.1" r="5.15"/><circle cx="1444.2" cy="117.5" r="5.15"/><circle cx="1454.6" cy="77.5" r="5.15"/><circle cx="1382.3" cy="194.4" r="5.15"/><circle cx="1422.7" cy="71.5" r="5.15"/><circle cx="1451.4" cy="86.8" r="5.15"/></g><g class="o"><circle cx="1377" cy="357.5" r="5.15"/><circle cx="1365.7" cy="197.5" r="5.15"/><circle cx="1360.3" cy="211.1" r="5.15"/><circle cx="1429.5" cy="117.1" r="5.15"/><circle cx="1405.1" cy="163.7" r="5.15"/><circle cx="1376.8" cy="226.8" r="5.15"/><circle cx="1392.5" cy="204.8" r="5.15"/><circle cx="1360.6" cy="81.2" r="5.15"/><circle cx="1407.5" cy="224.6" r="5.15"/><circle cx="1397.3" cy="371.6" r="5.15"/><circle cx="1409.8" cy="252.6" r="5.15"/></g><g class="g"><circle cx="1447.7" cy="105.8" r="5.15"/><circle cx="1485.8" cy="181.4" r="5.15"/><circle cx="1475.1" cy="119.8" r="5.15"/><circle cx="1437.5" cy="126.8" r="5.15"/><circle cx="1492" cy="66.6" r="5.15"/><circle cx="1452" cy="106.2" r="5.15"/><circle cx="1481.2" cy="78.7" r="5.15"/><circle cx="1381.3" cy="171" r="5.15"/><circle cx="1402.8" cy="217.4" r="5.15"/><circle cx="1459.3" cy="157.8" r="5.15"/><circle cx="1475.4" cy="129" r="5.15"/><circle cx="1481.9" cy="97.6" r="5.15"/><circle cx="1399.6" cy="143.2" r="5.15"/></g><g class="o"><circle cx="1387.9" cy="142.2" r="5.15"/><circle cx="1365.2" cy="315.6" r="5.15"/><circle cx="1345.2" cy="318.4" r="5.15"/><circle cx="1430.4" cy="145.2" r="5.15"/><circle cx="1335.6" cy="268.7" r="5.15"/><circle cx="1387.3" cy="308.3" r="5.15"/><circle cx="1407.9" cy="176.5" r="5.15"/><circle cx="1368.2" cy="210.2" r="5.15"/><circle cx="1378.8" cy="210.8" r="5.15"/><circle cx="1363.7" cy="119" r="5.15"/><circle cx="1429.9" cy="80.8" r="5.15"/></g><g class="g"><circle cx="1409.1" cy="215.3" r="5.15"/><circle cx="1429.4" cy="223.1" r="5.15"/><circle cx="1429.4" cy="123" r="5.15"/><circle cx="1474.7" cy="94.2" r="5.15"/><circle cx="1477.1" cy="81.4" r="5.15"/><circle cx="1473" cy="87.1" r="5.15"/><circle cx="1423.1" cy="244.7" r="5.15"/><circle cx="1431" cy="118.6" r="5.15"/><circle cx="1473.9" cy="100.2" r="5.15"/><circle cx="1451.9" cy="130" r="5.15"/><circle cx="1447.2" cy="114.3" r="5.15"/><circle cx="1400.8" cy="110.7" r="5.15"/><circle cx="1461.6" cy="187.9" r="5.15"/></g><g class="o"><circle cx="1407.6" cy="89.3" r="5.15"/><circle cx="1404.8" cy="163.9" r="5.15"/><circle cx="1391.4" cy="223.2" r="5.15"/><circle cx="1413.2" cy="200.5" r="5.15"/><circle cx="1367.7" cy="297.8" r="5.15"/><circle cx="1388.3" cy="235.5" r="5.15"/><circle cx="1393.5" cy="214.1" r="5.15"/><circle cx="1416.1" cy="207.5" r="5.15"/><circle cx="1394.9" cy="222.1" r="5.15"/><circle cx="1379.5" cy="217.9" r="5.15"/><circle cx="1341" cy="332.8" r="5.15"/><circle cx="1388.9" cy="204.9" r="5.15"/></g><g class="g"><circle cx="1442.6" cy="163.5" r="5.15"/><circle cx="1463.3" cy="141.4" r="5.15"/><circle cx="1341.5" cy="141.5" r="5.15"/><circle cx="1475" cy="81.8" r="5.15"/><circle cx="1355.9" cy="163.1" r="5.15"/><circle cx="1456.9" cy="85.1" r="5.15"/><circle cx="1442" cy="139.6" r="5.15"/><circle cx="1438.7" cy="104.4" r="5.15"/><circle cx="1455.8" cy="105.1" r="5.15"/><circle cx="1437.1" cy="64.1" r="5.15"/><circle cx="1486.1" cy="108.3" r="5.15"/><circle cx="1460" cy="61" r="5.15"/></g><g class="o"><circle cx="1346.9" cy="278.5" r="5.15"/><circle cx="1363.1" cy="237.9" r="5.15"/><circle cx="1364.6" cy="100.4" r="5.15"/><circle cx="1370.8" cy="309" r="5.15"/><circle cx="1318.5" cy="310" r="5.15"/><circle cx="1364.4" cy="341.1" r="5.15"/><circle cx="1401" cy="190.3" r="5.15"/><circle cx="1414.1" cy="300" r="5.15"/><circle cx="1387.5" cy="273.5" r="5.15"/><circle cx="1376.1" cy="155.4" r="5.15"/><circle cx="1335.7" cy="247.5" r="5.15"/><circle cx="1336" cy="201.3" r="5.15"/><circle cx="1378.8" cy="242.8" r="5.15"/><circle cx="1421.6" cy="200.1" r="5.15"/><circle cx="1390.9" cy="264.4" r="5.15"/><circle cx="1403.5" cy="175.3" r="5.15"/></g><g class="g"><circle cx="1470.7" cy="120.7" r="5.15"/><circle cx="1462.5" cy="136.9" r="5.15"/><circle cx="1462.2" cy="111.2" r="5.15"/><circle cx="1367.5" cy="165.9" r="5.15"/><circle cx="1335.5" cy="174.6" r="5.15"/><circle cx="1468.6" cy="69.2" r="5.15"/><circle cx="1478.9" cy="56.9" r="5.15"/><circle cx="1400.2" cy="169.5" r="5.15"/></g><g class="o"><circle cx="1386.5" cy="180.9" r="5.15"/><circle cx="1393.9" cy="332.6" r="5.15"/><circle cx="1392.1" cy="299.9" r="5.15"/><circle cx="1350.5" cy="282.8" r="5.15"/><circle cx="1348.9" cy="246" r="5.15"/><circle cx="1386.9" cy="110.8" r="5.15"/><circle cx="1374.2" cy="302.6" r="5.15"/><circle cx="1372.2" cy="240.7" r="5.15"/><circle cx="1396.1" cy="111.8" r="5.15"/><circle cx="1375.1" cy="181.2" r="5.15"/><circle cx="1357.3" cy="329.5" r="5.15"/><circle cx="1326.4" cy="189.3" r="5.15"/><circle cx="1432" cy="173.9" r="5.15"/></g><g class="g"><circle cx="1384.7" cy="95.5" r="5.15"/><circle cx="1490.2" cy="162.2" r="5.15"/><circle cx="1420.3" cy="118.1" r="5.15"/><circle cx="1419.7" cy="177" r="5.15"/><circle cx="1504.4" cy="100.1" r="5.15"/><circle cx="1450" cy="142.8" r="5.15"/><circle cx="1458.3" cy="177.4" r="5.15"/><circle cx="1474.4" cy="142.2" r="5.15"/><circle cx="1413.8" cy="109" r="5.15"/><circle cx="1467.1" cy="113.2" r="5.15"/><circle cx="1361.9" cy="168.3" r="5.15"/></g><g class="o"><circle cx="1389.1" cy="232.6" r="5.15"/><circle cx="1335.4" cy="241.1" r="5.15"/><circle cx="1369.7" cy="322.8" r="5.15"/><circle cx="1380.2" cy="147.9" r="5.15"/><circle cx="1389.8" cy="107.9" r="5.15"/><circle cx="1382.9" cy="116.9" r="5.15"/><circle cx="1387.5" cy="195" r="5.15"/><circle cx="1347.2" cy="271.4" r="5.15"/><circle cx="1371.1" cy="196.7" r="5.15"/><circle cx="1398.7" cy="206.8" r="5.15"/><circle cx="1430.3" cy="173.3" r="5.15"/></g><g class="g"><circle cx="1468.6" cy="60.4" r="5.15"/><circle cx="1470.6" cy="81.5" r="5.15"/><circle cx="1480.8" cy="128.5" r="5.15"/><circle cx="1395.2" cy="173.9" r="5.15"/><circle cx="1493" cy="73" r="5.15"/><circle cx="1395.7" cy="126.9" r="5.15"/><circle cx="1477.5" cy="70.8" r="5.15"/><circle cx="1395.7" cy="210.6" r="5.15"/><circle cx="1446.9" cy="144.3" r="5.15"/><circle cx="1423.2" cy="142.3" r="5.15"/><circle cx="1469.8" cy="90" r="5.15"/><circle cx="1443" cy="85.5" r="5.15"/><circle cx="1439.2" cy="216" r="5.15"/></g><g class="o"><circle cx="1385.7" cy="234.8" r="5.15"/><circle cx="1394.9" cy="128.6" r="5.15"/><circle cx="1365.9" cy="252.7" r="5.15"/><circle cx="1369.8" cy="304.6" r="5.15"/><circle cx="1339.6" cy="250.6" r="5.15"/><circle cx="1396.7" cy="294.3" r="5.15"/><circle cx="1364.1" cy="288.7" r="5.15"/><circle cx="1375" cy="160.7" r="5.15"/><circle cx="1393.8" cy="169.6" r="5.15"/></g><g class="g"><circle cx="1468.2" cy="146.8" r="5.15"/><circle cx="1469.7" cy="172.5" r="5.15"/><circle cx="1371.3" cy="173.8" r="5.15"/><circle cx="1427" cy="168.6" r="5.15"/><circle cx="1460.8" cy="94.3" r="5.15"/><circle cx="1452.2" cy="138.2" r="5.15"/><circle cx="1405.8" cy="147.2" r="5.15"/><circle cx="1466.3" cy="104.2" r="5.15"/><circle cx="1467.2" cy="122.1" r="5.15"/><circle cx="1391" cy="180.3" r="5.15"/><circle cx="1467.6" cy="129.8" r="5.15"/><circle cx="1462.2" cy="73.7" r="5.15"/><circle cx="1476.1" cy="99.9" r="5.15"/><circle cx="1493.9" cy="106.1" r="5.15"/><circle cx="1473.4" cy="124.9" r="5.15"/></g><g class="o"><circle cx="1424.8" cy="175.1" r="5.15"/><circle cx="1403.6" cy="184.7" r="5.15"/><circle cx="1355.8" cy="212" r="5.15"/><circle cx="1350.1" cy="255.1" r="5.15"/><circle cx="1413" cy="131.4" r="5.15"/><circle cx="1326.7" cy="215.8" r="5.15"/><circle cx="1395.2" cy="185.9" r="5.15"/><circle cx="1370.8" cy="289.1" r="5.15"/><circle cx="1364.9" cy="167.3" r="5.15"/><circle cx="1367.7" cy="161.3" r="5.15"/><circle cx="1392.7" cy="218.8" r="5.15"/><circle cx="1395.5" cy="154" r="5.15"/><circle cx="1392" cy="325" r="5.15"/><circle cx="1390" cy="313" r="5.15"/><circle cx="1402.5" cy="162.8" r="5.15"/></g><g class="g"><circle cx="1461.1" cy="136.4" r="5.15"/><circle cx="1500.9" cy="127.8" r="5.15"/><circle cx="1442.8" cy="115.2" r="5.15"/><circle cx="1456.8" cy="111.6" r="5.15"/><circle cx="1386.9" cy="146.8" r="5.15"/><circle cx="1471.3" cy="67.3" r="5.15"/><circle cx="1468.9" cy="167.4" r="5.15"/><circle cx="1488.8" cy="60.5" r="5.15"/><circle cx="1433.3" cy="114.4" r="5.15"/></g><g class="o"><circle cx="1343" cy="166.5" r="5.15"/><circle cx="1378.1" cy="238.8" r="5.15"/><circle cx="1379.3" cy="288.1" r="5.15"/><circle cx="1389" cy="215.4" r="5.15"/><circle cx="1403.9" cy="239.6" r="5.15"/><circle cx="1344.9" cy="234.7" r="5.15"/><circle cx="1400" cy="240.2" r="5.15"/><circle cx="1370.9" cy="279.9" r="5.15"/><circle cx="1315.9" cy="197.3" r="5.15"/><circle cx="1388.1" cy="275.5" r="5.15"/><circle cx="1381.3" cy="175.1" r="5.15"/><circle cx="1384.9" cy="207.7" r="5.15"/><circle cx="1405.1" cy="192.9" r="5.15"/></g><g class="g"><circle cx="1482.2" cy="124.9" r="5.15"/><circle cx="1420.4" cy="139.8" r="5.15"/><circle cx="1388.4" cy="111.1" r="5.15"/><circle cx="1452.4" cy="109.9" r="5.15"/><circle cx="1359.5" cy="228.6" r="5.15"/><circle cx="1444.1" cy="90.8" r="5.15"/><circle cx="1425.4" cy="91.5" r="5.15"/><circle cx="1400.3" cy="209.3" r="5.15"/><circle cx="1448.5" cy="147.6" r="5.15"/><circle cx="1477.7" cy="81.1" r="5.15"/><circle cx="1381.8" cy="162.4" r="5.15"/></g><g class="o"><circle cx="1420.2" cy="236.9" r="5.15"/><circle cx="1372.4" cy="194.6" r="5.15"/><circle cx="1369.7" cy="138.8" r="5.15"/><circle cx="1415" cy="172.5" r="5.15"/><circle cx="1374.7" cy="299" r="5.15"/><circle cx="1361.8" cy="299.6" r="5.15"/><circle cx="1351.4" cy="217.2" r="5.15"/><circle cx="1333.5" cy="172.9" r="5.15"/><circle cx="1402.6" cy="193.4" r="5.15"/></g><g class="g"><circle cx="1461.9" cy="120.2" r="5.15"/><circle cx="1447.8" cy="54.6" r="5.15"/><circle cx="1463.7" cy="76.9" r="5.15"/><circle cx="1416.1" cy="158.4" r="5.15"/><circle cx="1425.7" cy="156.7" r="5.15"/><circle cx="1411.8" cy="124.5" r="5.15"/><circle cx="1439.2" cy="150.6" r="5.15"/><circle cx="1344.1" cy="176.6" r="5.15"/><circle cx="1385.5" cy="164.2" r="5.15"/><circle cx="1492.9" cy="74.1" r="5.15"/><circle cx="1457.3" cy="172.4" r="5.15"/><circle cx="1393.7" cy="163.6" r="5.15"/><circle cx="1437.7" cy="174.6" r="5.15"/><circle cx="1457.5" cy="123.9" r="5.15"/><circle cx="1483" cy="106.6" r="5.15"/></g><g class="o"><circle cx="1369.6" cy="243.8" r="5.15"/><circle cx="1387" cy="200.3" r="5.15"/><circle cx="1381.9" cy="295.8" r="5.15"/><circle cx="1399.5" cy="134.8" r="5.15"/><circle cx="1349.6" cy="260.9" r="5.15"/><circle cx="1396.2" cy="280.3" r="5.15"/><circle cx="1391.1" cy="220.4" r="5.15"/><circle cx="1364.7" cy="197.6" r="5.15"/><circle cx="1356.1" cy="300.6" r="5.15"/><circle cx="1396.1" cy="312.1" r="5.15"/><circle cx="1375.7" cy="217.5" r="5.15"/><circle cx="1371.2" cy="252.1" r="5.15"/></g><g class="g"><circle cx="1472.2" cy="67.6" r="5.15"/><circle cx="1473" cy="161.2" r="5.15"/><circle cx="1441.9" cy="197.2" r="5.15"/><circle cx="1466.7" cy="103.3" r="5.15"/><circle cx="1430.8" cy="152.4" r="5.15"/><circle cx="1402.3" cy="214.4" r="5.15"/><circle cx="1420.2" cy="154.3" r="5.15"/><circle cx="1483.1" cy="76" r="5.15"/><circle cx="1465.9" cy="108.5" r="5.15"/><circle cx="1530.5" cy="82.5" r="5.15"/><circle cx="1457.8" cy="119.6" r="5.15"/><circle cx="1433.5" cy="179.7" r="5.15"/></g><g class="o"><circle cx="1408.2" cy="136" r="5.15"/><circle cx="1363.8" cy="176.6" r="5.15"/><circle cx="1383.3" cy="183.6" r="5.15"/><circle cx="1407.3" cy="238.1" r="5.15"/><circle cx="1415" cy="87.2" r="5.15"/><circle cx="1404.4" cy="284.1" r="5.15"/><circle cx="1401.8" cy="210.7" r="5.15"/><circle cx="1349.8" cy="204.5" r="5.15"/><circle cx="1311.7" cy="329.8" r="5.15"/><circle cx="1400.7" cy="226.6" r="5.15"/><circle cx="1393.8" cy="97" r="5.15"/><circle cx="1394.3" cy="224.1" r="5.15"/></g><g class="g"><circle cx="1420.6" cy="172.1" r="5.15"/><circle cx="1458.7" cy="233" r="5.15"/><circle cx="1486.4" cy="84.1" r="5.15"/><circle cx="1445.7" cy="130.8" r="5.15"/><circle cx="1472" cy="134.2" r="5.15"/><circle cx="1399.2" cy="224.5" r="5.15"/><circle cx="1468.6" cy="85.8" r="5.15"/><circle cx="1433.7" cy="174.8" r="5.15"/><circle cx="1469.6" cy="73.2" r="5.15"/><circle cx="1424.5" cy="207.6" r="5.15"/><circle cx="1460.2" cy="115.4" r="5.15"/><circle cx="1418.8" cy="156.2" r="5.15"/></g><g class="o"><circle cx="1368.2" cy="218" r="5.15"/><circle cx="1438.3" cy="76.9" r="5.15"/><circle cx="1409.9" cy="234.1" r="5.15"/><circle cx="1366.8" cy="254.1" r="5.15"/><circle cx="1400.5" cy="222.3" r="5.15"/><circle cx="1376.6" cy="197.4" r="5.15"/><circle cx="1342.6" cy="259.9" r="5.15"/><circle cx="1387.6" cy="180" r="5.15"/><circle cx="1380.7" cy="162.7" r="5.15"/><circle cx="1347.8" cy="182" r="5.15"/><circle cx="1338.5" cy="281" r="5.15"/><circle cx="1436.6" cy="231" r="5.15"/><circle cx="1384.9" cy="311.9" r="5.15"/><circle cx="1341.4" cy="266.9" r="5.15"/></g><g class="g"><circle cx="1397.9" cy="218.7" r="5.15"/><circle cx="1481.4" cy="80.7" r="5.15"/><circle cx="1470.7" cy="70.9" r="5.15"/><circle cx="1432.2" cy="181.7" r="5.15"/><circle cx="1431.6" cy="73.3" r="5.15"/><circle cx="1474.7" cy="110" r="5.15"/><circle cx="1406.3" cy="96.7" r="5.15"/><circle cx="1430.3" cy="148.3" r="5.15"/><circle cx="1425.7" cy="140.5" r="5.15"/><circle cx="1420.8" cy="184.9" r="5.15"/></g><g class="o"><circle cx="1402" cy="178.3" r="5.15"/><circle cx="1367.6" cy="266.4" r="5.15"/><circle cx="1432.7" cy="117.4" r="5.15"/><circle cx="1438.4" cy="177.4" r="5.15"/><circle cx="1385.1" cy="175.1" r="5.15"/><circle cx="1353.6" cy="312.7" r="5.15"/><circle cx="1412.3" cy="163.8" r="5.15"/><circle cx="1381.1" cy="336.3" r="5.15"/><circle cx="1373.5" cy="268.7" r="5.15"/><circle cx="1377.2" cy="160.1" r="5.15"/><circle cx="1368.2" cy="191.2" r="5.15"/><circle cx="1356" cy="328.7" r="5.15"/><circle cx="1407.2" cy="260.8" r="5.15"/></g><g class="g"><circle cx="1477.9" cy="90.2" r="5.15"/><circle cx="1395.2" cy="131.2" r="5.15"/><circle cx="1448" cy="57.2" r="5.15"/><circle cx="1466.2" cy="80.1" r="5.15"/><circle cx="1475.8" cy="108.4" r="5.15"/><circle cx="1472.3" cy="81.9" r="5.15"/><circle cx="1385.2" cy="187.3" r="5.15"/><circle cx="1404.2" cy="191.3" r="5.15"/><circle cx="1395" cy="281.2" r="5.15"/><circle cx="1476.5" cy="100.5" r="5.15"/><circle cx="1431.6" cy="158.9" r="5.15"/></g><g class="o"><circle cx="1347.9" cy="246.5" r="5.15"/><circle cx="1378.6" cy="272.8" r="5.15"/><circle cx="1407" cy="179" r="5.15"/><circle cx="1389.8" cy="339.4" r="5.15"/><circle cx="1411.6" cy="256.8" r="5.15"/><circle cx="1378.7" cy="219.2" r="5.15"/><circle cx="1420.7" cy="215.2" r="5.15"/><circle cx="1373.7" cy="316.4" r="5.15"/><circle cx="1370" cy="214.5" r="5.15"/></g><g class="g"><circle cx="1378.7" cy="159.6" r="5.15"/><circle cx="1471.8" cy="84.7" r="5.15"/><circle cx="1481.6" cy="72.4" r="5.15"/><circle cx="1399.9" cy="178.3" r="5.15"/><circle cx="1463.5" cy="51.3" r="5.15"/><circle cx="1455.3" cy="85.7" r="5.15"/><circle cx="1481.3" cy="85.7" r="5.15"/><circle cx="1456.8" cy="181.5" r="5.15"/><circle cx="1473.6" cy="90.8" r="5.15"/><circle cx="1397.3" cy="210" r="5.15"/><circle cx="1473.2" cy="64.6" r="5.15"/><circle cx="1481.6" cy="60.8" r="5.15"/><circle cx="1496.3" cy="147.3" r="5.15"/><circle cx="1367.4" cy="198.6" r="5.15"/><circle cx="1469.4" cy="104.9" r="5.15"/></g><g class="o"><circle cx="1401.1" cy="231.7" r="5.15"/><circle cx="1390.3" cy="140.1" r="5.15"/><circle cx="1322.6" cy="260.8" r="5.15"/><circle cx="1419.1" cy="210.3" r="5.15"/><circle cx="1347.8" cy="273.2" r="5.15"/><circle cx="1360.5" cy="268.1" r="5.15"/><circle cx="1404.1" cy="222.5" r="5.15"/><circle cx="1358.8" cy="172.4" r="5.15"/><circle cx="1342.8" cy="254" r="5.15"/><circle cx="1405.8" cy="264.7" r="5.15"/></g><g class="g"><circle cx="1466.7" cy="125.8" r="5.15"/><circle cx="1472.7" cy="110.8" r="5.15"/><circle cx="1460.1" cy="158.6" r="5.15"/><circle cx="1445.1" cy="81.3" r="5.15"/><circle cx="1426.2" cy="150.4" r="5.15"/><circle cx="1493.2" cy="95.9" r="5.15"/><circle cx="1464.6" cy="68.6" r="5.15"/><circle cx="1402.1" cy="194.3" r="5.15"/><circle cx="1447.1" cy="121.6" r="5.15"/><circle cx="1417.5" cy="179.7" r="5.15"/><circle cx="1454.1" cy="174" r="5.15"/><circle cx="1451.6" cy="174.8" r="5.15"/><circle cx="1403.7" cy="160.3" r="5.15"/><circle cx="1461" cy="92.7" r="5.15"/></g><g class="o"><circle cx="1381.9" cy="167.4" r="5.15"/><circle cx="1465.8" cy="129.3" r="5.15"/><circle cx="1384.6" cy="239.6" r="5.15"/><circle cx="1318.3" cy="156.5" r="5.15"/><circle cx="1353.3" cy="314.5" r="5.15"/><circle cx="1400.7" cy="328.2" r="5.15"/><circle cx="1367.2" cy="312" r="5.15"/><circle cx="1388" cy="220" r="5.15"/><circle cx="1400.4" cy="218.7" r="5.15"/><circle cx="1372.5" cy="185.7" r="5.15"/><circle cx="1410.1" cy="184.8" r="5.15"/><circle cx="1386.5" cy="139.1" r="5.15"/></g><g class="g"><circle cx="1484.6" cy="92.5" r="5.15"/><circle cx="1462.6" cy="79.7" r="5.15"/><circle cx="1408.4" cy="154.5" r="5.15"/><circle cx="1479.7" cy="52.9" r="5.15"/><circle cx="1482.5" cy="110.2" r="5.15"/><circle cx="1438.7" cy="130.6" r="5.15"/><circle cx="1437.1" cy="247.1" r="5.15"/><circle cx="1449.5" cy="145.3" r="5.15"/><circle cx="1468.5" cy="110.7" r="5.15"/><circle cx="1462.3" cy="119.7" r="5.15"/><circle cx="1388.1" cy="181.6" r="5.15"/><circle cx="1383.3" cy="170.2" r="5.15"/></g><g class="o"><circle cx="1358.6" cy="209.3" r="5.15"/><circle cx="1413.3" cy="241.5" r="5.15"/><circle cx="1341.8" cy="244.1" r="5.15"/><circle cx="1362.2" cy="235.2" r="5.15"/><circle cx="1410.6" cy="182.1" r="5.15"/><circle cx="1427.6" cy="175.7" r="5.15"/><circle cx="1434.9" cy="174.1" r="5.15"/><circle cx="1388.1" cy="218.6" r="5.15"/><circle cx="1409.9" cy="77.5" r="5.15"/><circle cx="1359.9" cy="192.7" r="5.15"/><circle cx="1382.9" cy="268.2" r="5.15"/></g><g class="g"><circle cx="1485.8" cy="91.2" r="5.15"/><circle cx="1460.5" cy="75.1" r="5.15"/><circle cx="1426.1" cy="149.5" r="5.15"/><circle cx="1369" cy="190.4" r="5.15"/><circle cx="1429.6" cy="115.7" r="5.15"/><circle cx="1421.3" cy="129" r="5.15"/><circle cx="1428.7" cy="119.3" r="5.15"/><circle cx="1426" cy="283.5" r="5.15"/><circle cx="1435" cy="127" r="5.15"/><circle cx="1463.4" cy="102" r="5.15"/><circle cx="1449.2" cy="114.2" r="5.15"/><circle cx="1394.7" cy="284.5" r="5.15"/><circle cx="1467.3" cy="142.7" r="5.15"/></g><g class="o"><circle cx="1395.3" cy="232.6" r="5.15"/><circle cx="1401.5" cy="296" r="5.15"/><circle cx="1388.4" cy="152.5" r="5.15"/><circle cx="1364.5" cy="277.3" r="5.15"/><circle cx="1365.1" cy="250.8" r="5.15"/><circle cx="1348.5" cy="182.5" r="5.15"/><circle cx="1411.8" cy="163.6" r="5.15"/><circle cx="1362.1" cy="264.5" r="5.15"/><circle cx="1402.1" cy="96.6" r="5.15"/><circle cx="1349.2" cy="223.6" r="5.15"/></g><g class="g"><circle cx="1462" cy="87.7" r="5.15"/><circle cx="1364.5" cy="174" r="5.15"/><circle cx="1472" cy="113.1" r="5.15"/><circle cx="1354.5" cy="145.4" r="5.15"/><circle cx="1478.9" cy="85.6" r="5.15"/><circle cx="1381.1" cy="152.1" r="5.15"/><circle cx="1414.5" cy="186.4" r="5.15"/><circle cx="1470.5" cy="127.3" r="5.15"/><circle cx="1440.1" cy="95.9" r="5.15"/><circle cx="1469.7" cy="79.9" r="5.15"/><circle cx="1403.7" cy="198.9" r="5.15"/><circle cx="1435" cy="110.6" r="5.15"/><circle cx="1426.3" cy="251.8" r="5.15"/><circle cx="1409.3" cy="191.5" r="5.15"/></g><g class="o"><circle cx="1377" cy="263.9" r="5.15"/><circle cx="1352.1" cy="248.1" r="5.15"/><circle cx="1369.8" cy="193.1" r="5.15"/><circle cx="1402.7" cy="224.9" r="5.15"/><circle cx="1408" cy="179.8" r="5.15"/><circle cx="1371.2" cy="201.4" r="5.15"/><circle cx="1354.3" cy="271.3" r="5.15"/><circle cx="1376.6" cy="269.4" r="5.15"/><circle cx="1383.5" cy="185.2" r="5.15"/><circle cx="1387.7" cy="261.6" r="5.15"/><circle cx="1417" cy="200.6" r="5.15"/></g><g class="g"><circle cx="1385.2" cy="154.4" r="5.15"/><circle cx="1523" cy="90.4" r="5.15"/><circle cx="1483.4" cy="81" r="5.15"/><circle cx="1417.8" cy="195.1" r="5.15"/><circle cx="1466.5" cy="206.5" r="5.15"/><circle cx="1369.5" cy="213.8" r="5.15"/><circle cx="1503.3" cy="80.8" r="5.15"/><circle cx="1474.1" cy="314.5" r="5.15"/><circle cx="1446" cy="116.1" r="5.15"/><circle cx="1412.8" cy="192.3" r="5.15"/><circle cx="1491.8" cy="100" r="5.15"/><circle cx="1454.9" cy="108.2" r="5.15"/><circle cx="1377.9" cy="146.5" r="5.15"/></g><g class="o"><circle cx="1368.1" cy="255.3" r="5.15"/><circle cx="1394.7" cy="201.1" r="5.15"/><circle cx="1349.3" cy="248.4" r="5.15"/><circle cx="1388.6" cy="192.9" r="5.15"/><circle cx="1404.9" cy="153.2" r="5.15"/><circle cx="1391.1" cy="180.5" r="5.15"/><circle cx="1355.7" cy="150.7" r="5.15"/><circle cx="1334.9" cy="262.6" r="5.15"/><circle cx="1406.9" cy="352.9" r="5.15"/><circle cx="1326.4" cy="272.4" r="5.15"/><circle cx="1361.9" cy="223.3" r="5.15"/><circle cx="1356.8" cy="215.7" r="5.15"/><circle cx="1404.4" cy="156.6" r="5.15"/><circle cx="1412.7" cy="111.8" r="5.15"/><circle cx="1326.9" cy="292.3" r="5.15"/></g><g class="g"><circle cx="1430.6" cy="160.7" r="5.15"/><circle cx="1463.8" cy="83.8" r="5.15"/><circle cx="1415.9" cy="124.8" r="5.15"/><circle cx="1476.3" cy="76.3" r="5.15"/><circle cx="1441.5" cy="102.5" r="5.15"/><circle cx="1405.7" cy="161.8" r="5.15"/><circle cx="1483.4" cy="97.7" r="5.15"/><circle cx="1328.2" cy="200.4" r="5.15"/><circle cx="1461.6" cy="103.3" r="5.15"/></g><g class="o"><circle cx="1346.9" cy="211.5" r="5.15"/><circle cx="1344.5" cy="248.2" r="5.15"/><circle cx="1337.6" cy="224.5" r="5.15"/><circle cx="1338.2" cy="204.8" r="5.15"/><circle cx="1373.2" cy="200.9" r="5.15"/><circle cx="1357.9" cy="216.6" r="5.15"/><circle cx="1351.8" cy="234.6" r="5.15"/><circle cx="1394.5" cy="219.6" r="5.15"/><circle cx="1376.9" cy="172.8" r="5.15"/><circle cx="1381.4" cy="224.8" r="5.15"/><circle cx="1394" cy="197.3" r="5.15"/><circle cx="1384" cy="308" r="5.15"/><circle cx="1363.4" cy="95.8" r="5.15"/><circle cx="1437" cy="75.8" r="5.15"/><circle cx="1385" cy="300" r="5.15"/><circle cx="1379.4" cy="187.5" r="5.15"/></g><g class="g"><circle cx="1536.6" cy="97.1" r="5.15"/><circle cx="1456.8" cy="208.4" r="5.15"/><circle cx="1384.9" cy="286.4" r="5.15"/><circle cx="1430" cy="138.6" r="5.15"/><circle cx="1458.9" cy="72.7" r="5.15"/><circle cx="1401" cy="182.4" r="5.15"/><circle cx="1372.3" cy="191.3" r="5.15"/><circle cx="1450.2" cy="101.7" r="5.15"/></g><g class="o"><circle cx="1425.5" cy="198.7" r="5.15"/><circle cx="1352.9" cy="289.9" r="5.15"/><circle cx="1390.8" cy="215.4" r="5.15"/><circle cx="1388" cy="229.6" r="5.15"/><circle cx="1356.3" cy="230.9" r="5.15"/><circle cx="1347.3" cy="203.4" r="5.15"/><circle cx="1361.2" cy="118.9" r="5.15"/><circle cx="1396.8" cy="213.4" r="5.15"/><circle cx="1395.5" cy="173.1" r="5.15"/><circle cx="1408.8" cy="210.5" r="5.15"/><circle cx="1392.7" cy="147.6" r="5.15"/><circle cx="1387" cy="217.7" r="5.15"/><circle cx="1387.1" cy="279.9" r="5.15"/></g><g class="g"><circle cx="1408.6" cy="281.3" r="5.15"/><circle cx="1334.5" cy="202.5" r="5.15"/><circle cx="1436.7" cy="92.3" r="5.15"/><circle cx="1494.7" cy="153" r="5.15"/><circle cx="1488.5" cy="90.4" r="5.15"/><circle cx="1484" cy="84.8" r="5.15"/><circle cx="1466.5" cy="100.6" r="5.15"/><circle cx="1380.7" cy="176.9" r="5.15"/><circle cx="1478.1" cy="93" r="5.15"/><circle cx="1473.9" cy="108.7" r="5.15"/><circle cx="1496.3" cy="218" r="5.15"/></g><g class="o"><circle cx="1382.5" cy="179.1" r="5.15"/><circle cx="1416.9" cy="211.8" r="5.15"/><circle cx="1387.2" cy="204.6" r="5.15"/><circle cx="1415.4" cy="179.1" r="5.15"/><circle cx="1366.7" cy="328.3" r="5.15"/><circle cx="1355.5" cy="194.8" r="5.15"/><circle cx="1439.2" cy="226.6" r="5.15"/><circle cx="1441.3" cy="148.9" r="5.15"/><circle cx="1388.7" cy="217.1" r="5.15"/><circle cx="1402.5" cy="227" r="5.15"/><circle cx="1398.1" cy="139.3" r="5.15"/><circle cx="1398.2" cy="177.6" r="5.15"/></g><g class="g"><circle cx="1455.8" cy="72.1" r="5.15"/><circle cx="1389.8" cy="263.8" r="5.15"/><circle cx="1473.1" cy="116.4" r="5.15"/><circle cx="1464.4" cy="115.8" r="5.15"/></g>
<path d="M1278.2 295.2 L1286.1 290.2 L1294 285.1 L1301.9 280 L1309.8 274.9 L1317.7 269.7 L1325.7 264.6 L1333.6 259.4 L1341.5 254.3 L1349.4 249.1 L1357.3 243.8 L1365.2 238.5 L1373.1 233 L1381 227.4 L1388.9 221.5 L1396.8 215.3 L1404.8 208.8 L1412.7 201.9 L1420.6 194.8 L1428.5 187.5 L1436.4 180.1 L1444.3 172.7 L1452.2 165.2 L1460.1 157.7 L1468 150.1 L1475.9 142.5 L1483.9 135 L1491.8 127.4 L1499.7 119.8 L1507.6 112.2 L1515.5 104.6 L1523.4 96.9 L1531.3 89.3 L1539.2 81.7 L1547.1 74.1 L1555 66.5 L1563 58.8 L1570.9 51.2 L1578.8 43.6 L1586.7 35.9 L1594.6 28.3 L1594.6 93.9 L1586.7 99 L1578.8 104 L1570.9 109.1 L1563 114.2 L1555 119.2 L1547.1 124.3 L1539.2 129.4 L1531.3 134.5 L1523.4 139.6 L1515.5 144.6 L1507.6 149.7 L1499.7 154.8 L1491.8 159.9 L1483.9 165 L1475.9 170.2 L1468 175.3 L1460.1 180.4 L1452.2 185.6 L1444.3 190.8 L1436.4 196.1 L1428.5 201.4 L1420.6 206.8 L1412.7 212.4 L1404.8 218.2 L1396.8 224.4 L1388.9 230.9 L1381 237.7 L1373.1 244.8 L1365.2 252 L1357.3 259.4 L1349.4 266.8 L1341.5 274.3 L1333.6 281.9 L1325.7 289.4 L1317.7 297 L1309.8 304.5 L1301.9 312.1 L1294 319.7 L1286.1 327.3 L1278.2 335Z" fill="#D46600" fill-opacity=".2"/>
<path d="M1278.2 250 L1286.1 245.5 L1294 241 L1301.9 236.5 L1309.8 232 L1317.7 227.5 L1325.7 223 L1333.6 218.4 L1341.5 213.9 L1349.4 209.3 L1357.3 204.7 L1365.2 200.1 L1373.1 195.4 L1381 190.7 L1388.9 185.9 L1396.8 181.1 L1404.8 176.1 L1412.7 171 L1420.6 165.7 L1428.5 160.3 L1436.4 154.7 L1444.3 148.9 L1452.2 143.1 L1460.1 137.1 L1468 131.1 L1475.9 125 L1483.9 118.9 L1491.8 112.8 L1499.7 106.7 L1507.6 100.5 L1515.5 94.4 L1523.4 88.2 L1531.3 82 L1539.2 75.8 L1547.1 69.6 L1555 63.4 L1563 57.2 L1570.9 51 L1578.8 44.7 L1586.7 38.5 L1594.6 32.3 L1594.6 72.5 L1586.7 77 L1578.8 81.5 L1570.9 86 L1563 90.5 L1555 95 L1547.1 99.5 L1539.2 104 L1531.3 108.5 L1523.4 113 L1515.5 117.6 L1507.6 122.1 L1499.7 126.7 L1491.8 131.2 L1483.9 135.8 L1475.9 140.4 L1468 145.1 L1460.1 149.8 L1452.2 154.6 L1444.3 159.4 L1436.4 164.4 L1428.5 169.5 L1420.6 174.7 L1412.7 180.2 L1404.8 185.8 L1396.8 191.5 L1388.9 197.4 L1381 203.3 L1373.1 209.3 L1365.2 215.4 L1357.3 221.5 L1349.4 227.6 L1341.5 233.7 L1333.6 239.9 L1325.7 246.1 L1317.7 252.2 L1309.8 258.4 L1301.9 264.6 L1294 270.8 L1286.1 277 L1278.2 283.2Z" fill="#235A24" fill-opacity=".2"/>
<path class="ln" d="M1278.2 315.1L1594.6 61.1" stroke="#D46600"/>
<path class="ln" d="M1278.2 266.6L1594.6 52.4" stroke="#235A24"/>
<rect class="bd" x="1263.2" y="0.2" width="347.0" height="417.3"/>
<path class="tm" d="M1323.4 417.5v-7.3M1413.8 417.5v-7.3M1504.2 417.5v-7.3M1594.6 417.5v-7.3M1263.2 53.1h7.3M1263.2 122.3h7.3M1263.2 191.5h7.3M1263.2 260.7h7.3M1263.2 329.9h7.3M1263.2 399.1h7.3"/>
<g class="tk"><text x="1323.4" y="435.0" text-anchor="middle">−2</text><text x="1413.8" y="435.0" text-anchor="middle">0</text><text x="1504.2" y="435.0" text-anchor="middle">2</text><text x="1594.6" y="435.0" text-anchor="middle">4</text><text x="1260.4" y="59.9" text-anchor="end">2</text><text x="1260.4" y="129.1" text-anchor="end">1</text><text x="1260.4" y="198.3" text-anchor="end">0</text><text x="1260.4" y="267.5" text-anchor="end">−1</text><text x="1260.4" y="336.7" text-anchor="end">−2</text><text x="1260.4" y="405.9" text-anchor="end">−3</text></g>
<text class="an" x="1278.5" y="32.7">DVT<tspan x="1322.2">×</tspan><tspan x="1338.6">CWM</tspan><tspan font-size="14.00" dy="3.4">PC2</tspan><tspan dy="-3.4">:</tspan><tspan class="it" x="1426.4">F</tspan><tspan x="1442">=</tspan><tspan x="1459.7">1.62,</tspan><tspan class="it" x="1508.4">P</tspan><tspan x="1525.2">=</tspan><tspan x="1541.9">0.204</tspan></text>
<text class="lb" x="1232.5" y="34.6" font-size="38.9">d</text>
</g>
<g id="panel-f">
<g class="o"><circle cx="270.7" cy="652.4" r="5.15"/><circle cx="281.9" cy="646.2" r="5.15"/><circle cx="242.3" cy="699" r="5.15"/><circle cx="156.9" cy="679.4" r="5.15"/><circle cx="289.3" cy="634.1" r="5.15"/><circle cx="213.9" cy="572.9" r="5.15"/><circle cx="278" cy="657.4" r="5.15"/><circle cx="166.1" cy="687.3" r="5.15"/><circle cx="249.8" cy="607.3" r="5.15"/></g><g class="g"><circle cx="264.5" cy="631" r="5.15"/><circle cx="246.6" cy="588.7" r="5.15"/><circle cx="246.7" cy="506.9" r="5.15"/><circle cx="188" cy="538.7" r="5.15"/><circle cx="304.1" cy="521.1" r="5.15"/><circle cx="342.3" cy="554.9" r="5.15"/><circle cx="306.3" cy="655.2" r="5.15"/><circle cx="250.7" cy="626.9" r="5.15"/><circle cx="258.3" cy="654.8" r="5.15"/><circle cx="259.6" cy="506.3" r="5.15"/><circle cx="238.6" cy="583" r="5.15"/><circle cx="275.3" cy="723.4" r="5.15"/><circle cx="185.5" cy="570.5" r="5.15"/><circle cx="231" cy="552" r="5.15"/><circle cx="302" cy="606.9" r="5.15"/></g><g class="o"><circle cx="177.3" cy="651.3" r="5.15"/><circle cx="224.8" cy="605.9" r="5.15"/><circle cx="229.1" cy="693.8" r="5.15"/><circle cx="298.9" cy="687.3" r="5.15"/><circle cx="179.4" cy="684.3" r="5.15"/><circle cx="284.9" cy="564.3" r="5.15"/><circle cx="228.6" cy="702.6" r="5.15"/><circle cx="235.8" cy="554.6" r="5.15"/><circle cx="197.2" cy="644.9" r="5.15"/><circle cx="259.7" cy="574.2" r="5.15"/><circle cx="230.2" cy="657.7" r="5.15"/><circle cx="290.9" cy="580.5" r="5.15"/></g><g class="g"><circle cx="244.5" cy="540.3" r="5.15"/><circle cx="266.9" cy="670.1" r="5.15"/><circle cx="281.4" cy="632.7" r="5.15"/><circle cx="285" cy="566.2" r="5.15"/><circle cx="271.7" cy="560.4" r="5.15"/><circle cx="385.6" cy="564.1" r="5.15"/><circle cx="238.9" cy="522.6" r="5.15"/><circle cx="263.7" cy="590.2" r="5.15"/><circle cx="227.7" cy="560.5" r="5.15"/><circle cx="278.2" cy="524.7" r="5.15"/><circle cx="268.2" cy="674.2" r="5.15"/><circle cx="269.7" cy="530.5" r="5.15"/></g><g class="o"><circle cx="296.3" cy="610.9" r="5.15"/><circle cx="194.5" cy="665.6" r="5.15"/><circle cx="313.2" cy="561.5" r="5.15"/><circle cx="261.1" cy="658.8" r="5.15"/><circle cx="266.9" cy="641.8" r="5.15"/><circle cx="247" cy="608.1" r="5.15"/><circle cx="152.8" cy="750.3" r="5.15"/><circle cx="207.9" cy="614.2" r="5.15"/><circle cx="298.4" cy="610.4" r="5.15"/><circle cx="219.7" cy="715.6" r="5.15"/><circle cx="274.8" cy="645.7" r="5.15"/><circle cx="283.2" cy="584.4" r="5.15"/></g><g class="g"><circle cx="297.6" cy="614.7" r="5.15"/><circle cx="271.1" cy="610.7" r="5.15"/><circle cx="220.7" cy="583.8" r="5.15"/><circle cx="237.2" cy="529" r="5.15"/><circle cx="267" cy="637" r="5.15"/><circle cx="209.8" cy="551.9" r="5.15"/><circle cx="276.8" cy="511.5" r="5.15"/><circle cx="256.5" cy="706.8" r="5.15"/><circle cx="320.3" cy="563.3" r="5.15"/><circle cx="269" cy="547.3" r="5.15"/><circle cx="267.3" cy="555.9" r="5.15"/><circle cx="245.8" cy="556.8" r="5.15"/></g><g class="o"><circle cx="152.6" cy="613.2" r="5.15"/><circle cx="176.9" cy="599.5" r="5.15"/><circle cx="243.6" cy="667.6" r="5.15"/><circle cx="254.1" cy="613.3" r="5.15"/><circle cx="222.8" cy="638" r="5.15"/><circle cx="203.6" cy="583.9" r="5.15"/><circle cx="168.5" cy="629.9" r="5.15"/><circle cx="216" cy="642.9" r="5.15"/><circle cx="225.6" cy="582.2" r="5.15"/><circle cx="272" cy="700.4" r="5.15"/><circle cx="235.9" cy="684.8" r="5.15"/><circle cx="292.9" cy="622.3" r="5.15"/></g><g class="g"><circle cx="282.7" cy="582.9" r="5.15"/><circle cx="273" cy="538" r="5.15"/><circle cx="299.9" cy="519" r="5.15"/><circle cx="354.8" cy="545" r="5.15"/><circle cx="288.4" cy="562.9" r="5.15"/><circle cx="299.7" cy="641.8" r="5.15"/><circle cx="268.8" cy="597.3" r="5.15"/><circle cx="339.6" cy="632.3" r="5.15"/><circle cx="277.7" cy="704.6" r="5.15"/><circle cx="275.8" cy="583.2" r="5.15"/><circle cx="289.3" cy="566.2" r="5.15"/><circle cx="245.2" cy="533" r="5.15"/></g><g class="o"><circle cx="261.4" cy="656.3" r="5.15"/><circle cx="280.6" cy="694.7" r="5.15"/><circle cx="260.5" cy="605" r="5.15"/><circle cx="203.3" cy="624" r="5.15"/><circle cx="258.5" cy="716.5" r="5.15"/><circle cx="241.5" cy="635.3" r="5.15"/><circle cx="238" cy="686" r="5.15"/><circle cx="151.3" cy="751.3" r="5.15"/></g><g class="g"><circle cx="279.3" cy="637.6" r="5.15"/><circle cx="246.4" cy="585.9" r="5.15"/><circle cx="206" cy="643.6" r="5.15"/><circle cx="260.8" cy="640.1" r="5.15"/><circle cx="191" cy="590.9" r="5.15"/><circle cx="253.4" cy="490.9" r="5.15"/><circle cx="263.2" cy="592.8" r="5.15"/><circle cx="230.5" cy="591.4" r="5.15"/><circle cx="322.2" cy="544.9" r="5.15"/><circle cx="225.8" cy="614" r="5.15"/><circle cx="267.2" cy="523.9" r="5.15"/><circle cx="250.2" cy="648.4" r="5.15"/><circle cx="204.4" cy="552.6" r="5.15"/><circle cx="237.7" cy="550.9" r="5.15"/><circle cx="316.7" cy="503.1" r="5.15"/><circle cx="247.1" cy="567.5" r="5.15"/></g><g class="o"><circle cx="236.1" cy="630.8" r="5.15"/><circle cx="270.2" cy="630.1" r="5.15"/><circle cx="238.3" cy="611.7" r="5.15"/><circle cx="226.4" cy="510.7" r="5.15"/><circle cx="242.4" cy="623.7" r="5.15"/><circle cx="299.2" cy="625.5" r="5.15"/><circle cx="218.6" cy="664.3" r="5.15"/><circle cx="301" cy="673.2" r="5.15"/><circle cx="151.7" cy="703.4" r="5.15"/><circle cx="230.2" cy="584.5" r="5.15"/><circle cx="239.8" cy="611.3" r="5.15"/></g><g class="g"><circle cx="291.3" cy="602" r="5.15"/><circle cx="266.8" cy="620" r="5.15"/><circle cx="259.8" cy="596.8" r="5.15"/><circle cx="295.3" cy="682.7" r="5.15"/><circle cx="252" cy="490.1" r="5.15"/><circle cx="341.2" cy="508.1" r="5.15"/><circle cx="258.6" cy="623.4" r="5.15"/><circle cx="281.3" cy="686.2" r="5.15"/><circle cx="205.4" cy="561.3" r="5.15"/><circle cx="189.5" cy="492.3" r="5.15"/><circle cx="266.2" cy="607.1" r="5.15"/><circle cx="214.4" cy="557.9" r="5.15"/><circle cx="278.9" cy="630" r="5.15"/></g><g class="o"><circle cx="151.5" cy="582.5" r="5.15"/><circle cx="296" cy="574.4" r="5.15"/><circle cx="229.2" cy="685.7" r="5.15"/><circle cx="199.7" cy="680.1" r="5.15"/><circle cx="275.9" cy="595.8" r="5.15"/><circle cx="204.6" cy="580.8" r="5.15"/><circle cx="258.6" cy="563.9" r="5.15"/><circle cx="246.5" cy="608.2" r="5.15"/><circle cx="251.4" cy="620.5" r="5.15"/><circle cx="166.6" cy="674.8" r="5.15"/><circle cx="186.4" cy="640.3" r="5.15"/><circle cx="233.3" cy="608.2" r="5.15"/></g><g class="g"><circle cx="251.9" cy="576.4" r="5.15"/><circle cx="259.2" cy="570.9" r="5.15"/><circle cx="300.5" cy="616.4" r="5.15"/><circle cx="256.1" cy="621.7" r="5.15"/><circle cx="301.2" cy="754.2" r="5.15"/><circle cx="263.7" cy="600.4" r="5.15"/><circle cx="279.2" cy="590" r="5.15"/><circle cx="311.3" cy="613.6" r="5.15"/><circle cx="312.7" cy="610.5" r="5.15"/><circle cx="235.7" cy="603.4" r="5.15"/><circle cx="237" cy="552.3" r="5.15"/><circle cx="274.1" cy="525" r="5.15"/></g><g class="o"><circle cx="157.8" cy="667.1" r="5.15"/><circle cx="242.5" cy="600" r="5.15"/><circle cx="219.2" cy="524.9" r="5.15"/><circle cx="275.7" cy="611.5" r="5.15"/><circle cx="186.7" cy="671.5" r="5.15"/><circle cx="211.8" cy="664.7" r="5.15"/><circle cx="258.3" cy="685.7" r="5.15"/><circle cx="224.1" cy="662.9" r="5.15"/><circle cx="195.2" cy="605.9" r="5.15"/><circle cx="243.5" cy="617" r="5.15"/><circle cx="231.9" cy="622.2" r="5.15"/><circle cx="170.9" cy="588.7" r="5.15"/><circle cx="286" cy="736.4" r="5.15"/><circle cx="209.7" cy="628.4" r="5.15"/></g><g class="g"><circle cx="337" cy="668.8" r="5.15"/><circle cx="247.8" cy="578.5" r="5.15"/><circle cx="239.1" cy="661.7" r="5.15"/><circle cx="243.2" cy="584.5" r="5.15"/><circle cx="289.4" cy="557.3" r="5.15"/><circle cx="260.5" cy="588.6" r="5.15"/><circle cx="252.3" cy="634.5" r="5.15"/><circle cx="277" cy="610.8" r="5.15"/><circle cx="289.3" cy="679.1" r="5.15"/><circle cx="257.5" cy="674.3" r="5.15"/></g><g class="o"><circle cx="201.4" cy="617.7" r="5.15"/><circle cx="152.4" cy="649.9" r="5.15"/><circle cx="174.1" cy="753" r="5.15"/><circle cx="152.8" cy="674.8" r="5.15"/><circle cx="283" cy="672" r="5.15"/><circle cx="252.7" cy="663.3" r="5.15"/><circle cx="161.6" cy="556.3" r="5.15"/><circle cx="239.1" cy="727.7" r="5.15"/><circle cx="250.9" cy="605.2" r="5.15"/><circle cx="286.6" cy="546.6" r="5.15"/><circle cx="273.9" cy="724.2" r="5.15"/><circle cx="278.6" cy="630.9" r="5.15"/><circle cx="206.3" cy="610.4" r="5.15"/><circle cx="182.5" cy="660.1" r="5.15"/><circle cx="223.3" cy="620.5" r="5.15"/><circle cx="192.5" cy="660.3" r="5.15"/><circle cx="152.4" cy="720.5" r="5.15"/></g><g class="g"><circle cx="237.7" cy="564.5" r="5.15"/><circle cx="250" cy="627.8" r="5.15"/><circle cx="299.2" cy="753.7" r="5.15"/><circle cx="276" cy="607.1" r="5.15"/><circle cx="286.9" cy="607.4" r="5.15"/><circle cx="219.2" cy="578.6" r="5.15"/><circle cx="219.1" cy="651" r="5.15"/></g><g class="o"><circle cx="190.8" cy="628.8" r="5.15"/><circle cx="228" cy="673.3" r="5.15"/><circle cx="285.9" cy="682.2" r="5.15"/><circle cx="261.8" cy="644.2" r="5.15"/><circle cx="256.7" cy="612" r="5.15"/><circle cx="281.6" cy="616.7" r="5.15"/><circle cx="219.2" cy="694.9" r="5.15"/><circle cx="152.8" cy="770" r="5.15"/></g><g class="g"><circle cx="247" cy="574.6" r="5.15"/><circle cx="273.9" cy="630" r="5.15"/><circle cx="297.6" cy="651.1" r="5.15"/><circle cx="258" cy="756.8" r="5.15"/><circle cx="280.6" cy="577.1" r="5.15"/><circle cx="252" cy="640" r="5.15"/><circle cx="333.8" cy="611.5" r="5.15"/><circle cx="221.6" cy="570.5" r="5.15"/><circle cx="244.2" cy="658.2" r="5.15"/><circle cx="278.6" cy="558" r="5.15"/><circle cx="314.1" cy="575" r="5.15"/><circle cx="257.8" cy="547.6" r="5.15"/><circle cx="308.9" cy="611.3" r="5.15"/><circle cx="286.3" cy="559.4" r="5.15"/><circle cx="245.2" cy="574.4" r="5.15"/><circle cx="249.6" cy="695.4" r="5.15"/></g><g class="o"><circle cx="204.6" cy="611.5" r="5.15"/><circle cx="240.2" cy="581.4" r="5.15"/><circle cx="315.6" cy="644.5" r="5.15"/><circle cx="209.8" cy="668.4" r="5.15"/><circle cx="189.7" cy="592.2" r="5.15"/><circle cx="191.3" cy="667.2" r="5.15"/><circle cx="252.1" cy="576.4" r="5.15"/><circle cx="234.7" cy="547.3" r="5.15"/><circle cx="237.5" cy="573.1" r="5.15"/><circle cx="236.2" cy="616.4" r="5.15"/><circle cx="199.8" cy="674.1" r="5.15"/><circle cx="237.2" cy="554.1" r="5.15"/></g><g class="g"><circle cx="304.2" cy="631.5" r="5.15"/><circle cx="247.2" cy="573.8" r="5.15"/><circle cx="224.4" cy="639.8" r="5.15"/><circle cx="284.4" cy="586.3" r="5.15"/><circle cx="249.9" cy="595.6" r="5.15"/><circle cx="254.6" cy="571.9" r="5.15"/><circle cx="221.9" cy="554.1" r="5.15"/><circle cx="263.5" cy="572" r="5.15"/><circle cx="296.7" cy="601.6" r="5.15"/><circle cx="246.5" cy="655.8" r="5.15"/><circle cx="279.5" cy="608.1" r="5.15"/><circle cx="218.2" cy="576.9" r="5.15"/></g><g class="o"><circle cx="214.2" cy="619" r="5.15"/><circle cx="152.1" cy="526.6" r="5.15"/><circle cx="298.3" cy="586.2" r="5.15"/><circle cx="175.6" cy="571.8" r="5.15"/><circle cx="193.5" cy="645.6" r="5.15"/><circle cx="274.1" cy="617.6" r="5.15"/><circle cx="219.2" cy="679.8" r="5.15"/><circle cx="266.5" cy="611.6" r="5.15"/><circle cx="184.3" cy="618.9" r="5.15"/><circle cx="323.8" cy="704.2" r="5.15"/><circle cx="214.5" cy="655.7" r="5.15"/><circle cx="274.2" cy="626.1" r="5.15"/><circle cx="222" cy="700.4" r="5.15"/><circle cx="334.2" cy="661.3" r="5.15"/></g><g class="g"><circle cx="300.8" cy="573.7" r="5.15"/><circle cx="295" cy="547.8" r="5.15"/><circle cx="313.6" cy="739.4" r="5.15"/><circle cx="303.9" cy="569.4" r="5.15"/><circle cx="274.3" cy="600" r="5.15"/><circle cx="291.8" cy="597.4" r="5.15"/><circle cx="245.5" cy="573.6" r="5.15"/><circle cx="270.2" cy="639.8" r="5.15"/><circle cx="289.2" cy="542.5" r="5.15"/><circle cx="293.6" cy="594.7" r="5.15"/></g><g class="o"><circle cx="170.2" cy="566.9" r="5.15"/><circle cx="216.2" cy="585.9" r="5.15"/><circle cx="208.9" cy="611.4" r="5.15"/><circle cx="159.2" cy="583" r="5.15"/><circle cx="234.4" cy="614.3" r="5.15"/><circle cx="216" cy="580.9" r="5.15"/><circle cx="228.1" cy="638.4" r="5.15"/><circle cx="224.6" cy="660.9" r="5.15"/><circle cx="195.1" cy="666" r="5.15"/><circle cx="229.7" cy="592" r="5.15"/><circle cx="249.5" cy="610.3" r="5.15"/><circle cx="208.2" cy="650.5" r="5.15"/><circle cx="174.9" cy="650.6" r="5.15"/><circle cx="265.8" cy="683.4" r="5.15"/><circle cx="198.5" cy="580.6" r="5.15"/><circle cx="280.2" cy="620.6" r="5.15"/></g><g class="g"><circle cx="311.4" cy="578.7" r="5.15"/><circle cx="238.9" cy="582.4" r="5.15"/><circle cx="299.4" cy="675.7" r="5.15"/><circle cx="315.1" cy="554.8" r="5.15"/><circle cx="255.2" cy="635.5" r="5.15"/><circle cx="227" cy="550.2" r="5.15"/><circle cx="253.1" cy="526.7" r="5.15"/><circle cx="227.8" cy="622.8" r="5.15"/></g><g class="o"><circle cx="188.9" cy="673.9" r="5.15"/><circle cx="295.5" cy="593.5" r="5.15"/><circle cx="158.1" cy="649.7" r="5.15"/><circle cx="209.7" cy="715.3" r="5.15"/><circle cx="244.1" cy="551.4" r="5.15"/><circle cx="212.5" cy="640.4" r="5.15"/><circle cx="209.1" cy="592.5" r="5.15"/><circle cx="177.9" cy="666.8" r="5.15"/><circle cx="226.4" cy="757.6" r="5.15"/><circle cx="281.3" cy="624.2" r="5.15"/><circle cx="327.9" cy="659.9" r="5.15"/></g><g class="g"><circle cx="250.4" cy="565.2" r="5.15"/><circle cx="232.1" cy="627.7" r="5.15"/><circle cx="308.8" cy="593.4" r="5.15"/><circle cx="241.9" cy="542" r="5.15"/><circle cx="255.2" cy="637.2" r="5.15"/><circle cx="249.7" cy="570.9" r="5.15"/><circle cx="246.7" cy="652.1" r="5.15"/><circle cx="292.9" cy="556.9" r="5.15"/><circle cx="196.5" cy="582.7" r="5.15"/><circle cx="255" cy="602.2" r="5.15"/><circle cx="244.9" cy="579" r="5.15"/><circle cx="221" cy="567.3" r="5.15"/><circle cx="297.7" cy="536.3" r="5.15"/></g><g class="o"><circle cx="230.6" cy="659.4" r="5.15"/><circle cx="195.4" cy="639.6" r="5.15"/><circle cx="253.5" cy="649.2" r="5.15"/><circle cx="257.1" cy="659.8" r="5.15"/><circle cx="230.2" cy="653.3" r="5.15"/><circle cx="153.2" cy="603.9" r="5.15"/><circle cx="235.9" cy="615" r="5.15"/><circle cx="231.4" cy="576.7" r="5.15"/><circle cx="199.4" cy="551.8" r="5.15"/><circle cx="248.2" cy="617.1" r="5.15"/><circle cx="174.3" cy="637.8" r="5.15"/><circle cx="197.7" cy="617.9" r="5.15"/><circle cx="230.6" cy="695.2" r="5.15"/></g><g class="g"><circle cx="277" cy="748.8" r="5.15"/><circle cx="284.7" cy="664.2" r="5.15"/><circle cx="236.4" cy="509" r="5.15"/><circle cx="230.4" cy="605.9" r="5.15"/><circle cx="225.6" cy="649.4" r="5.15"/><circle cx="201.9" cy="609.6" r="5.15"/><circle cx="230.2" cy="517.6" r="5.15"/><circle cx="218.2" cy="572.7" r="5.15"/><circle cx="233.1" cy="596.3" r="5.15"/><circle cx="288.3" cy="630" r="5.15"/><circle cx="248.3" cy="565.4" r="5.15"/></g><g class="o"><circle cx="235.2" cy="576.2" r="5.15"/><circle cx="251" cy="651.7" r="5.15"/><circle cx="229.3" cy="673.8" r="5.15"/><circle cx="264.1" cy="682.7" r="5.15"/><circle cx="256.5" cy="636" r="5.15"/><circle cx="252.1" cy="641" r="5.15"/><circle cx="205.1" cy="658.8" r="5.15"/></g><g class="g"><circle cx="246.1" cy="525.8" r="5.15"/><circle cx="263.8" cy="596.4" r="5.15"/><circle cx="229.3" cy="686" r="5.15"/><circle cx="263.9" cy="596.4" r="5.15"/><circle cx="279.6" cy="579.5" r="5.15"/><circle cx="316.2" cy="574.7" r="5.15"/><circle cx="242.7" cy="556.1" r="5.15"/><circle cx="197.2" cy="714.2" r="5.15"/><circle cx="277.9" cy="601.8" r="5.15"/><circle cx="166.7" cy="587.5" r="5.15"/><circle cx="298.4" cy="691" r="5.15"/><circle cx="218.5" cy="544.4" r="5.15"/><circle cx="266.6" cy="583.9" r="5.15"/><circle cx="247.2" cy="606.8" r="5.15"/><circle cx="288.5" cy="507" r="5.15"/><circle cx="282.8" cy="680.2" r="5.15"/><circle cx="248.8" cy="674.7" r="5.15"/></g><g class="o"><circle cx="229.4" cy="551.5" r="5.15"/><circle cx="211.4" cy="680.4" r="5.15"/><circle cx="339.6" cy="676.7" r="5.15"/><circle cx="253.7" cy="617.2" r="5.15"/><circle cx="255.4" cy="628.5" r="5.15"/><circle cx="268.5" cy="715.4" r="5.15"/><circle cx="263.3" cy="544.1" r="5.15"/><circle cx="276.5" cy="704.3" r="5.15"/><circle cx="213.8" cy="630.1" r="5.15"/><circle cx="265" cy="586.5" r="5.15"/><circle cx="270.3" cy="669.3" r="5.15"/><circle cx="262.9" cy="629.4" r="5.15"/><circle cx="231.3" cy="664.2" r="5.15"/><circle cx="254.6" cy="723.9" r="5.15"/></g><g class="g"><circle cx="191.3" cy="593.3" r="5.15"/><circle cx="283.8" cy="578.2" r="5.15"/><circle cx="224.7" cy="605.1" r="5.15"/><circle cx="283.4" cy="610" r="5.15"/><circle cx="283.9" cy="580.9" r="5.15"/><circle cx="285.1" cy="573.6" r="5.15"/><circle cx="257" cy="694.8" r="5.15"/><circle cx="275.5" cy="515.8" r="5.15"/><circle cx="285.4" cy="605.9" r="5.15"/><circle cx="327.1" cy="603.5" r="5.15"/></g><g class="o"><circle cx="229.2" cy="626" r="5.15"/><circle cx="256.8" cy="638.7" r="5.15"/><circle cx="267.6" cy="634.7" r="5.15"/><circle cx="262.8" cy="728.1" r="5.15"/><circle cx="226.9" cy="605.4" r="5.15"/><circle cx="164.2" cy="647.1" r="5.15"/><circle cx="225.7" cy="619.1" r="5.15"/><circle cx="227.5" cy="638.8" r="5.15"/><circle cx="236.1" cy="592.1" r="5.15"/><circle cx="151.8" cy="649.2" r="5.15"/><circle cx="218.4" cy="561.4" r="5.15"/><circle cx="152.4" cy="749" r="5.15"/></g><g class="g"><circle cx="247" cy="618.2" r="5.15"/><circle cx="209.4" cy="558.2" r="5.15"/><circle cx="255" cy="615.4" r="5.15"/><circle cx="195.2" cy="611.8" r="5.15"/><circle cx="224.7" cy="596.7" r="5.15"/><circle cx="261.3" cy="637.1" r="5.15"/><circle cx="242.6" cy="612.4" r="5.15"/><circle cx="284.2" cy="641.6" r="5.15"/><circle cx="231.3" cy="564.6" r="5.15"/><circle cx="252.2" cy="631.7" r="5.15"/><circle cx="254.6" cy="571.6" r="5.15"/><circle cx="291.7" cy="609.2" r="5.15"/></g><g class="o"><circle cx="224.9" cy="668.4" r="5.15"/><circle cx="285" cy="676.8" r="5.15"/><circle cx="243.8" cy="630.9" r="5.15"/><circle cx="248.3" cy="682.2" r="5.15"/><circle cx="221.6" cy="688.5" r="5.15"/><circle cx="284.2" cy="698.7" r="5.15"/><circle cx="178.1" cy="644.1" r="5.15"/></g><g class="g"><circle cx="228.2" cy="616.2" r="5.15"/><circle cx="197.7" cy="649.6" r="5.15"/><circle cx="220.3" cy="651.5" r="5.15"/><circle cx="201.6" cy="560.8" r="5.15"/><circle cx="253.8" cy="574.7" r="5.15"/><circle cx="287.3" cy="553.7" r="5.15"/><circle cx="317.6" cy="598.2" r="5.15"/><circle cx="329.7" cy="614.5" r="5.15"/><circle cx="234.3" cy="636.4" r="5.15"/><circle cx="281.6" cy="585.4" r="5.15"/><circle cx="267.4" cy="646.1" r="5.15"/><circle cx="246.1" cy="551.1" r="5.15"/><circle cx="299.8" cy="607.5" r="5.15"/><circle cx="274.3" cy="638.8" r="5.15"/><circle cx="275" cy="603.3" r="5.15"/><circle cx="215.5" cy="590.6" r="5.15"/><circle cx="254.3" cy="642.3" r="5.15"/></g><g class="o"><circle cx="280.2" cy="603.2" r="5.15"/><circle cx="224.5" cy="708.8" r="5.15"/><circle cx="250.7" cy="617.1" r="5.15"/><circle cx="228.2" cy="608.6" r="5.15"/><circle cx="152.4" cy="709.5" r="5.15"/><circle cx="152.9" cy="700.8" r="5.15"/><circle cx="306.3" cy="730.8" r="5.15"/><circle cx="276.4" cy="607.5" r="5.15"/></g><g class="g"><circle cx="247.8" cy="648.1" r="5.15"/><circle cx="264.5" cy="618.9" r="5.15"/><circle cx="212" cy="618.9" r="5.15"/><circle cx="254.2" cy="552.6" r="5.15"/><circle cx="273.4" cy="630.7" r="5.15"/><circle cx="257.7" cy="555" r="5.15"/><circle cx="244.3" cy="629.2" r="5.15"/><circle cx="318.5" cy="772.9" r="5.15"/><circle cx="235.5" cy="489.1" r="5.15"/><circle cx="276.3" cy="498" r="5.15"/><circle cx="310" cy="622" r="5.15"/><circle cx="311.2" cy="652.4" r="5.15"/><circle cx="261.5" cy="514" r="5.15"/><circle cx="303.2" cy="670.3" r="5.15"/><circle cx="195.1" cy="635.6" r="5.15"/><circle cx="217.8" cy="621.8" r="5.15"/></g><g class="o"><circle cx="300" cy="726.8" r="5.15"/><circle cx="217.3" cy="689.7" r="5.15"/><circle cx="268.6" cy="700.4" r="5.15"/><circle cx="184.2" cy="563.3" r="5.15"/><circle cx="233.2" cy="603.4" r="5.15"/><circle cx="280.9" cy="543.6" r="5.15"/><circle cx="207.6" cy="671.4" r="5.15"/><circle cx="196.8" cy="701.9" r="5.15"/><circle cx="224.5" cy="648.8" r="5.15"/><circle cx="243" cy="596.2" r="5.15"/><circle cx="232.2" cy="676.4" r="5.15"/><circle cx="197" cy="708" r="5.15"/><circle cx="225.3" cy="534.4" r="5.15"/></g><g class="g"><circle cx="251" cy="567.7" r="5.15"/><circle cx="285.1" cy="649.9" r="5.15"/><circle cx="241.8" cy="586.8" r="5.15"/><circle cx="274" cy="585" r="5.15"/><circle cx="225.7" cy="592.7" r="5.15"/><circle cx="192.6" cy="607.7" r="5.15"/><circle cx="233.6" cy="558.7" r="5.15"/><circle cx="222.9" cy="652.9" r="5.15"/><circle cx="286.3" cy="660.1" r="5.15"/><circle cx="291.1" cy="605.9" r="5.15"/><circle cx="271.8" cy="630.5" r="5.15"/></g><g class="o"><circle cx="202.6" cy="632.5" r="5.15"/><circle cx="187.5" cy="618.3" r="5.15"/><circle cx="153.8" cy="771.1" r="5.15"/><circle cx="255.2" cy="650.4" r="5.15"/><circle cx="288.9" cy="604" r="5.15"/><circle cx="183.8" cy="619.8" r="5.15"/><circle cx="207" cy="671.8" r="5.15"/><circle cx="217" cy="660.6" r="5.15"/><circle cx="193.3" cy="701.3" r="5.15"/><circle cx="152.2" cy="652.3" r="5.15"/><circle cx="271.3" cy="653.3" r="5.15"/><circle cx="269.3" cy="614.9" r="5.15"/><circle cx="202.5" cy="654" r="5.15"/></g><g class="g"><circle cx="288.8" cy="519.3" r="5.15"/><circle cx="281.1" cy="597.9" r="5.15"/><circle cx="258.4" cy="537.9" r="5.15"/><circle cx="197.4" cy="653.7" r="5.15"/><circle cx="248.4" cy="585.7" r="5.15"/><circle cx="262.2" cy="653.7" r="5.15"/><circle cx="235.6" cy="566.6" r="5.15"/><circle cx="218" cy="721.1" r="5.15"/><circle cx="236.3" cy="661.7" r="5.15"/><circle cx="299.4" cy="619.7" r="5.15"/><circle cx="247.2" cy="671.7" r="5.15"/></g><g class="o"><circle cx="235.7" cy="660.9" r="5.15"/><circle cx="217.1" cy="743.9" r="5.15"/><circle cx="232.5" cy="632.7" r="5.15"/><circle cx="220" cy="569.1" r="5.15"/><circle cx="303.5" cy="678.8" r="5.15"/><circle cx="211.6" cy="654.6" r="5.15"/><circle cx="152.9" cy="504.1" r="5.15"/><circle cx="198.7" cy="632.9" r="5.15"/><circle cx="221.7" cy="638.4" r="5.15"/></g><g class="g"><circle cx="258.9" cy="554.7" r="5.15"/><circle cx="191.6" cy="626.4" r="5.15"/><circle cx="241.8" cy="591.1" r="5.15"/><circle cx="249.3" cy="541.5" r="5.15"/><circle cx="226.6" cy="598.2" r="5.15"/><circle cx="341.1" cy="613" r="5.15"/><circle cx="256.4" cy="715.3" r="5.15"/><circle cx="275" cy="509.1" r="5.15"/><circle cx="301.1" cy="587.5" r="5.15"/><circle cx="234.1" cy="579" r="5.15"/><circle cx="251.8" cy="633.7" r="5.15"/><circle cx="294.8" cy="554.5" r="5.15"/><circle cx="268.6" cy="589.8" r="5.15"/><circle cx="261.7" cy="596.4" r="5.15"/><circle cx="209.2" cy="574.1" r="5.15"/></g><g class="o"><circle cx="236.6" cy="618.1" r="5.15"/><circle cx="190.6" cy="567.6" r="5.15"/><circle cx="188.5" cy="581.7" r="5.15"/><circle cx="207.9" cy="637.7" r="5.15"/><circle cx="316.1" cy="654.7" r="5.15"/><circle cx="318.9" cy="562.3" r="5.15"/><circle cx="309.7" cy="611.2" r="5.15"/><circle cx="233.1" cy="705.8" r="5.15"/><circle cx="253.5" cy="652.3" r="5.15"/><circle cx="243.9" cy="635.4" r="5.15"/><circle cx="228.2" cy="642.4" r="5.15"/><circle cx="180.5" cy="573.5" r="5.15"/><circle cx="158" cy="574.9" r="5.15"/></g><g class="g"><circle cx="232.5" cy="596" r="5.15"/><circle cx="258.8" cy="574.2" r="5.15"/><circle cx="211.7" cy="611.5" r="5.15"/><circle cx="220.1" cy="566" r="5.15"/><circle cx="281.2" cy="678.8" r="5.15"/><circle cx="254" cy="662.8" r="5.15"/><circle cx="232.1" cy="561.3" r="5.15"/><circle cx="281.1" cy="623.3" r="5.15"/><circle cx="220.9" cy="638.3" r="5.15"/><circle cx="209.1" cy="548.2" r="5.15"/><circle cx="282.5" cy="604.2" r="5.15"/></g><g class="o"><circle cx="175.8" cy="639.3" r="5.15"/><circle cx="151.4" cy="713" r="5.15"/><circle cx="257" cy="632.9" r="5.15"/><circle cx="230.5" cy="640.8" r="5.15"/><circle cx="215" cy="641.9" r="5.15"/><circle cx="189.6" cy="625.9" r="5.15"/><circle cx="197.4" cy="667.7" r="5.15"/><circle cx="209.3" cy="747" r="5.15"/><circle cx="151.8" cy="639.9" r="5.15"/><circle cx="276" cy="578.9" r="5.15"/><circle cx="274.1" cy="548.7" r="5.15"/></g><g class="g"><circle cx="218.8" cy="599.9" r="5.15"/><circle cx="303" cy="665.3" r="5.15"/><circle cx="301.8" cy="676.2" r="5.15"/><circle cx="260.4" cy="598.4" r="5.15"/><circle cx="326.2" cy="581.3" r="5.15"/><circle cx="263.2" cy="637.3" r="5.15"/><circle cx="293.3" cy="685.3" r="5.15"/><circle cx="254.4" cy="575.7" r="5.15"/><circle cx="278.1" cy="505.9" r="5.15"/><circle cx="264.7" cy="617.9" r="5.15"/><circle cx="226.1" cy="714" r="5.15"/><circle cx="268.9" cy="550.7" r="5.15"/><circle cx="257.8" cy="574.1" r="5.15"/></g><g class="o"><circle cx="151.3" cy="757.4" r="5.15"/><circle cx="184.1" cy="659.2" r="5.15"/><circle cx="309.5" cy="607.4" r="5.15"/><circle cx="186.2" cy="652.9" r="5.15"/><circle cx="244.4" cy="646.3" r="5.15"/><circle cx="176.8" cy="605.1" r="5.15"/><circle cx="271.6" cy="609.5" r="5.15"/><circle cx="203.6" cy="716.1" r="5.15"/><circle cx="303.2" cy="646.7" r="5.15"/><circle cx="285.3" cy="577.8" r="5.15"/><circle cx="248.5" cy="623.9" r="5.15"/><circle cx="231.7" cy="684.5" r="5.15"/><circle cx="151.1" cy="751.1" r="5.15"/><circle cx="192.3" cy="654.6" r="5.15"/><circle cx="230.9" cy="675.2" r="5.15"/></g><g class="g"><circle cx="248.4" cy="536" r="5.15"/><circle cx="287.6" cy="676.5" r="5.15"/><circle cx="257.6" cy="586.7" r="5.15"/><circle cx="241" cy="536.1" r="5.15"/><circle cx="313" cy="604.1" r="5.15"/><circle cx="254.3" cy="518.8" r="5.15"/><circle cx="240.2" cy="544.3" r="5.15"/><circle cx="349.7" cy="721.9" r="5.15"/><circle cx="297.1" cy="664.9" r="5.15"/></g><g class="o"><circle cx="347.7" cy="643.4" r="5.15"/><circle cx="206" cy="682.6" r="5.15"/><circle cx="216.5" cy="550.4" r="5.15"/><circle cx="248.2" cy="681.9" r="5.15"/><circle cx="257.3" cy="649.1" r="5.15"/><circle cx="211.7" cy="722.4" r="5.15"/><circle cx="223.6" cy="637.3" r="5.15"/><circle cx="256.8" cy="603.7" r="5.15"/></g><g class="g"><circle cx="273.4" cy="570.9" r="5.15"/><circle cx="270.4" cy="562.6" r="5.15"/><circle cx="250" cy="641.9" r="5.15"/><circle cx="247.6" cy="690.8" r="5.15"/><circle cx="262.8" cy="532.1" r="5.15"/><circle cx="243.4" cy="546.9" r="5.15"/><circle cx="290.4" cy="693.5" r="5.15"/><circle cx="258.8" cy="594.5" r="5.15"/><circle cx="310.5" cy="661.2" r="5.15"/><circle cx="285.1" cy="618.3" r="5.15"/><circle cx="225.1" cy="587.7" r="5.15"/><circle cx="290.3" cy="700" r="5.15"/><circle cx="268.7" cy="658.7" r="5.15"/><circle cx="220" cy="587.1" r="5.15"/><circle cx="279.9" cy="608.3" r="5.15"/><circle cx="232.7" cy="595.9" r="5.15"/></g><g class="o"><circle cx="267.8" cy="651" r="5.15"/><circle cx="153" cy="740.7" r="5.15"/><circle cx="249.3" cy="653.2" r="5.15"/><circle cx="276" cy="638.8" r="5.15"/><circle cx="189.1" cy="578.9" r="5.15"/><circle cx="213.8" cy="574.1" r="5.15"/><circle cx="287.3" cy="746" r="5.15"/><circle cx="262.5" cy="660.6" r="5.15"/><circle cx="288.3" cy="572.1" r="5.15"/><circle cx="184.4" cy="644.7" r="5.15"/><circle cx="244.4" cy="618" r="5.15"/></g><g class="g"><circle cx="248.9" cy="655.1" r="5.15"/><circle cx="252.7" cy="541.8" r="5.15"/><circle cx="290.8" cy="651.5" r="5.15"/><circle cx="264.1" cy="544.1" r="5.15"/><circle cx="240.9" cy="624.2" r="5.15"/><circle cx="245.1" cy="584.7" r="5.15"/><circle cx="263.4" cy="545.3" r="5.15"/><circle cx="273.6" cy="616" r="5.15"/><circle cx="296" cy="506.4" r="5.15"/><circle cx="235.5" cy="619.4" r="5.15"/><circle cx="247.3" cy="617.9" r="5.15"/><circle cx="280.7" cy="653.9" r="5.15"/><circle cx="266.7" cy="664.9" r="5.15"/></g><g class="o"><circle cx="321.4" cy="741.7" r="5.15"/><circle cx="210.7" cy="639.4" r="5.15"/><circle cx="271.4" cy="542.7" r="5.15"/><circle cx="223.2" cy="726" r="5.15"/><circle cx="223.9" cy="606.3" r="5.15"/><circle cx="153" cy="651.7" r="5.15"/><circle cx="281.7" cy="690.6" r="5.15"/><circle cx="224" cy="701.2" r="5.15"/><circle cx="230.9" cy="660.3" r="5.15"/><circle cx="153.9" cy="738.7" r="5.15"/><circle cx="254" cy="583.1" r="5.15"/><circle cx="150.1" cy="716.7" r="5.15"/><circle cx="152.5" cy="540.1" r="5.15"/></g><g class="g"><circle cx="254.2" cy="530.1" r="5.15"/><circle cx="268.4" cy="597.7" r="5.15"/><circle cx="249" cy="592.3" r="5.15"/><circle cx="225.2" cy="551.9" r="5.15"/><circle cx="179.9" cy="577.8" r="5.15"/><circle cx="198.5" cy="613.4" r="5.15"/><circle cx="229.3" cy="627.5" r="5.15"/><circle cx="303.1" cy="607.7" r="5.15"/><circle cx="213.1" cy="629.3" r="5.15"/><circle cx="255" cy="556.1" r="5.15"/><circle cx="343.9" cy="647.1" r="5.15"/></g><g class="o"><circle cx="288.3" cy="607.6" r="5.15"/><circle cx="162.4" cy="663.4" r="5.15"/><circle cx="259.1" cy="689" r="5.15"/><circle cx="217.4" cy="577.9" r="5.15"/><circle cx="196.8" cy="726.3" r="5.15"/><circle cx="215.8" cy="566" r="5.15"/><circle cx="253.7" cy="613.3" r="5.15"/><circle cx="310.8" cy="653.6" r="5.15"/><circle cx="203.8" cy="666.8" r="5.15"/><circle cx="178.7" cy="637.4" r="5.15"/><circle cx="210" cy="692.3" r="5.15"/><circle cx="306.7" cy="571.3" r="5.15"/><circle cx="223.4" cy="619.9" r="5.15"/><circle cx="152" cy="509.3" r="5.15"/><circle cx="214.8" cy="720.9" r="5.15"/></g><g class="g"><circle cx="238.4" cy="606.8" r="5.15"/><circle cx="238.6" cy="565.3" r="5.15"/><circle cx="336.1" cy="601.5" r="5.15"/><circle cx="284" cy="629" r="5.15"/><circle cx="292.2" cy="658.3" r="5.15"/><circle cx="276.6" cy="628.1" r="5.15"/><circle cx="260.4" cy="606.6" r="5.15"/><circle cx="193.2" cy="587.8" r="5.15"/><circle cx="217.6" cy="666.1" r="5.15"/></g><g class="o"><circle cx="248.7" cy="632.6" r="5.15"/><circle cx="249.9" cy="656.6" r="5.15"/><circle cx="251.8" cy="631.6" r="5.15"/><circle cx="283.8" cy="520.1" r="5.15"/><circle cx="151.7" cy="594.8" r="5.15"/><circle cx="212.7" cy="572.1" r="5.15"/><circle cx="243.2" cy="689.9" r="5.15"/><circle cx="329" cy="738.9" r="5.15"/><circle cx="165.6" cy="711.9" r="5.15"/><circle cx="291" cy="505.1" r="5.15"/></g><g class="g"><circle cx="223.8" cy="614.2" r="5.15"/><circle cx="234.3" cy="557.4" r="5.15"/><circle cx="244.5" cy="574.4" r="5.15"/><circle cx="279.9" cy="606.4" r="5.15"/><circle cx="267.5" cy="631" r="5.15"/><circle cx="306.7" cy="596.1" r="5.15"/><circle cx="255.9" cy="593.1" r="5.15"/><circle cx="242.2" cy="617" r="5.15"/><circle cx="241.6" cy="539.9" r="5.15"/><circle cx="248.7" cy="590.6" r="5.15"/><circle cx="251.6" cy="667" r="5.15"/><circle cx="271.5" cy="565.2" r="5.15"/><circle cx="330.2" cy="648.2" r="5.15"/><circle cx="253.2" cy="640.9" r="5.15"/></g><g class="o"><circle cx="232.5" cy="593.8" r="5.15"/><circle cx="232.6" cy="737" r="5.15"/><circle cx="184.9" cy="615.2" r="5.15"/><circle cx="203.3" cy="609.7" r="5.15"/><circle cx="180" cy="697.6" r="5.15"/><circle cx="153.1" cy="698.1" r="5.15"/><circle cx="240.9" cy="648.4" r="5.15"/><circle cx="191.3" cy="630.6" r="5.15"/><circle cx="271.6" cy="587.2" r="5.15"/><circle cx="253.6" cy="610.4" r="5.15"/><circle cx="206.6" cy="638.6" r="5.15"/><circle cx="309.5" cy="592.8" r="5.15"/></g><g class="g"><circle cx="250" cy="606.8" r="5.15"/><circle cx="340.8" cy="526.4" r="5.15"/><circle cx="238.7" cy="630.6" r="5.15"/><circle cx="230.1" cy="618.4" r="5.15"/><circle cx="258.9" cy="558.1" r="5.15"/><circle cx="264.3" cy="687.2" r="5.15"/><circle cx="233.5" cy="598.4" r="5.15"/><circle cx="311.9" cy="646.5" r="5.15"/><circle cx="196.5" cy="694.1" r="5.15"/><circle cx="302.6" cy="554.5" r="5.15"/><circle cx="295.4" cy="557.6" r="5.15"/><circle cx="251.3" cy="501.5" r="5.15"/></g><g class="o"><circle cx="184.8" cy="549.6" r="5.15"/><circle cx="262.6" cy="625.1" r="5.15"/><circle cx="239.4" cy="749.2" r="5.15"/><circle cx="222.1" cy="593.4" r="5.15"/><circle cx="217.3" cy="650.6" r="5.15"/><circle cx="236.6" cy="685" r="5.15"/><circle cx="249.1" cy="541.9" r="5.15"/><circle cx="273.1" cy="660.6" r="5.15"/><circle cx="216.2" cy="691" r="5.15"/><circle cx="224.8" cy="624.6" r="5.15"/><circle cx="213.9" cy="731.1" r="5.15"/><circle cx="172.8" cy="571.8" r="5.15"/></g><g class="g"><circle cx="323.5" cy="658.8" r="5.15"/><circle cx="253.5" cy="627.7" r="5.15"/><circle cx="247" cy="615.4" r="5.15"/><circle cx="282" cy="599.2" r="5.15"/><circle cx="269.1" cy="664.5" r="5.15"/><circle cx="213.4" cy="587.5" r="5.15"/><circle cx="303.2" cy="573.6" r="5.15"/><circle cx="283.7" cy="621.7" r="5.15"/><circle cx="246.6" cy="647.8" r="5.15"/><circle cx="232.4" cy="582.7" r="5.15"/><circle cx="253.4" cy="551" r="5.15"/><circle cx="258.3" cy="684.4" r="5.15"/></g><g class="o"><circle cx="215.7" cy="566.1" r="5.15"/><circle cx="202.3" cy="592.3" r="5.15"/><circle cx="211.7" cy="539.8" r="5.15"/><circle cx="196.2" cy="638.7" r="5.15"/><circle cx="277.9" cy="619.3" r="5.15"/><circle cx="253.6" cy="635.5" r="5.15"/><circle cx="179.4" cy="689" r="5.15"/><circle cx="284.6" cy="734.3" r="5.15"/><circle cx="206.7" cy="630" r="5.15"/><circle cx="209.4" cy="577.9" r="5.15"/><circle cx="280.1" cy="657.5" r="5.15"/><circle cx="267.9" cy="714.9" r="5.15"/><circle cx="245" cy="582.1" r="5.15"/></g><g class="g"><circle cx="206.7" cy="663.9" r="5.15"/><circle cx="319.2" cy="656.4" r="5.15"/><circle cx="268.3" cy="598.4" r="5.15"/><circle cx="230.1" cy="650.9" r="5.15"/><circle cx="248.4" cy="660.9" r="5.15"/><circle cx="258.2" cy="651.6" r="5.15"/><circle cx="363.3" cy="688.7" r="5.15"/><circle cx="230.3" cy="542.9" r="5.15"/><circle cx="280.5" cy="646.7" r="5.15"/><circle cx="332.3" cy="633.5" r="5.15"/><circle cx="244.5" cy="567.2" r="5.15"/></g><g class="o"><circle cx="225.5" cy="677.5" r="5.15"/><circle cx="178.6" cy="546" r="5.15"/><circle cx="185.6" cy="615.1" r="5.15"/><circle cx="151.5" cy="726.7" r="5.15"/><circle cx="228.4" cy="706.5" r="5.15"/><circle cx="258.2" cy="701" r="5.15"/><circle cx="233.2" cy="600.7" r="5.15"/><circle cx="246.7" cy="613.1" r="5.15"/><circle cx="216.5" cy="601.2" r="5.15"/><circle cx="274.5" cy="639.7" r="5.15"/><circle cx="212.7" cy="601.8" r="5.15"/><circle cx="248.3" cy="598.6" r="5.15"/><circle cx="181.9" cy="729.9" r="5.15"/><circle cx="179.6" cy="603.1" r="5.15"/></g><g class="g"><circle cx="217.1" cy="545.2" r="5.15"/><circle cx="234.3" cy="629.1" r="5.15"/><circle cx="202.5" cy="647.8" r="5.15"/><circle cx="249.6" cy="692.8" r="5.15"/><circle cx="272.4" cy="601.8" r="5.15"/><circle cx="226.3" cy="636.8" r="5.15"/><circle cx="285.4" cy="625.1" r="5.15"/><circle cx="251.7" cy="709.2" r="5.15"/><circle cx="302.6" cy="531.2" r="5.15"/><circle cx="221.5" cy="663.9" r="5.15"/></g><g class="o"><circle cx="179.2" cy="518.4" r="5.15"/><circle cx="282.5" cy="768.7" r="5.15"/><circle cx="210.4" cy="671.6" r="5.15"/><circle cx="228.1" cy="671.8" r="5.15"/><circle cx="152.6" cy="536.8" r="5.15"/><circle cx="225.4" cy="641.4" r="5.15"/><circle cx="249.6" cy="566.3" r="5.15"/><circle cx="238.2" cy="678.9" r="5.15"/><circle cx="192.8" cy="531.3" r="5.15"/><circle cx="189.2" cy="674.9" r="5.15"/><circle cx="253.5" cy="590.2" r="5.15"/><circle cx="297.6" cy="616.7" r="5.15"/></g><g class="g"><circle cx="255.9" cy="610.9" r="5.15"/><circle cx="270" cy="567" r="5.15"/><circle cx="273.2" cy="588.1" r="5.15"/><circle cx="235.5" cy="600.5" r="5.15"/><circle cx="219" cy="593.1" r="5.15"/><circle cx="238.9" cy="608.2" r="5.15"/><circle cx="215.6" cy="572.6" r="5.15"/><circle cx="238.6" cy="564.3" r="5.15"/><circle cx="323" cy="652.3" r="5.15"/><circle cx="222.5" cy="577.1" r="5.15"/><circle cx="249.8" cy="577" r="5.15"/><circle cx="251.8" cy="588.8" r="5.15"/></g><g class="o"><circle cx="216.4" cy="699.2" r="5.15"/><circle cx="204.1" cy="606" r="5.15"/><circle cx="273.2" cy="604.3" r="5.15"/><circle cx="202.3" cy="687.8" r="5.15"/><circle cx="224.8" cy="622.8" r="5.15"/><circle cx="260.3" cy="612.7" r="5.15"/><circle cx="274.2" cy="685.3" r="5.15"/><circle cx="251.4" cy="664.2" r="5.15"/><circle cx="240.4" cy="676.4" r="5.15"/><circle cx="235.2" cy="675.5" r="5.15"/><circle cx="269.2" cy="651" r="5.15"/></g><g class="g"><circle cx="219" cy="597.3" r="5.15"/><circle cx="253.6" cy="598" r="5.15"/><circle cx="254.6" cy="674.9" r="5.15"/><circle cx="231" cy="546.9" r="5.15"/><circle cx="339" cy="612.1" r="5.15"/><circle cx="222.1" cy="586" r="5.15"/><circle cx="347.3" cy="650.8" r="5.15"/><circle cx="234.1" cy="552.5" r="5.15"/><circle cx="268.5" cy="630.9" r="5.15"/><circle cx="292.9" cy="578.3" r="5.15"/><circle cx="248.4" cy="540.6" r="5.15"/><circle cx="291.7" cy="545.3" r="5.15"/><circle cx="250.6" cy="537.8" r="5.15"/></g><g class="o"><circle cx="161.7" cy="619.1" r="5.15"/><circle cx="214.8" cy="649.2" r="5.15"/><circle cx="182.4" cy="728.3" r="5.15"/><circle cx="278.2" cy="612.3" r="5.15"/><circle cx="201.6" cy="660.4" r="5.15"/><circle cx="282.6" cy="619.9" r="5.15"/><circle cx="195.5" cy="656.2" r="5.15"/><circle cx="237.9" cy="612.1" r="5.15"/><circle cx="220.5" cy="666.5" r="5.15"/><circle cx="171.7" cy="608.1" r="5.15"/><circle cx="190.6" cy="608.4" r="5.15"/></g><g class="g"><circle cx="260.1" cy="602.4" r="5.15"/><circle cx="293.6" cy="623.6" r="5.15"/><circle cx="259.5" cy="683.8" r="5.15"/><circle cx="253.3" cy="602.1" r="5.15"/><circle cx="233.8" cy="604.5" r="5.15"/><circle cx="341.2" cy="590.8" r="5.15"/><circle cx="168" cy="729.8" r="5.15"/><circle cx="244" cy="614.7" r="5.15"/><circle cx="199.1" cy="571.8" r="5.15"/><circle cx="245.2" cy="606.7" r="5.15"/><circle cx="258.2" cy="653.7" r="5.15"/><circle cx="217.5" cy="526.7" r="5.15"/><circle cx="288" cy="604.5" r="5.15"/></g><g class="o"><circle cx="317.5" cy="727.1" r="5.15"/><circle cx="267.2" cy="713.1" r="5.15"/><circle cx="213.6" cy="614" r="5.15"/><circle cx="254.7" cy="644.2" r="5.15"/><circle cx="152.2" cy="697.3" r="5.15"/><circle cx="190.7" cy="610.6" r="5.15"/><circle cx="214.5" cy="722" r="5.15"/><circle cx="195" cy="660" r="5.15"/><circle cx="282.2" cy="624.7" r="5.15"/><circle cx="160.1" cy="668.1" r="5.15"/><circle cx="283.6" cy="625.2" r="5.15"/><circle cx="230.5" cy="674.4" r="5.15"/><circle cx="225.3" cy="495.1" r="5.15"/></g><g class="g"><circle cx="234.3" cy="637" r="5.15"/><circle cx="251.8" cy="586.2" r="5.15"/><circle cx="243.9" cy="649.5" r="5.15"/><circle cx="301.9" cy="620.4" r="5.15"/><circle cx="290.2" cy="679.2" r="5.15"/><circle cx="234.8" cy="543.7" r="5.15"/><circle cx="286.5" cy="578.1" r="5.15"/><circle cx="226.7" cy="599.4" r="5.15"/><circle cx="285.2" cy="529.4" r="5.15"/><circle cx="234.3" cy="617.4" r="5.15"/><circle cx="169.1" cy="588.6" r="5.15"/></g><g class="o"><circle cx="250.6" cy="709.1" r="5.15"/><circle cx="218.3" cy="573" r="5.15"/><circle cx="222.2" cy="663.7" r="5.15"/><circle cx="174.3" cy="749.1" r="5.15"/><circle cx="264.6" cy="633.7" r="5.15"/><circle cx="202.2" cy="688.2" r="5.15"/><circle cx="207.7" cy="634.1" r="5.15"/><circle cx="263.8" cy="592.8" r="5.15"/><circle cx="152.6" cy="715.3" r="5.15"/><circle cx="237.6" cy="620.3" r="5.15"/><circle cx="237.4" cy="704.2" r="5.15"/><circle cx="246.8" cy="672.7" r="5.15"/><circle cx="249.9" cy="620.5" r="5.15"/></g><g class="g"><circle cx="254.3" cy="657" r="5.15"/><circle cx="244.5" cy="552.4" r="5.15"/><circle cx="260.8" cy="536.2" r="5.15"/><circle cx="190.9" cy="510.9" r="5.15"/><circle cx="296" cy="733.5" r="5.15"/><circle cx="260.8" cy="588.7" r="5.15"/><circle cx="268.4" cy="615.2" r="5.15"/><circle cx="258.3" cy="550.8" r="5.15"/><circle cx="284.1" cy="555.2" r="5.15"/><circle cx="285.7" cy="594.4" r="5.15"/><circle cx="252.3" cy="512.6" r="5.15"/></g><g class="o"><circle cx="211.6" cy="650.1" r="5.15"/><circle cx="211.2" cy="506" r="5.15"/><circle cx="181.2" cy="680.3" r="5.15"/><circle cx="152.2" cy="609.6" r="5.15"/><circle cx="223" cy="514.9" r="5.15"/><circle cx="186.1" cy="665.5" r="5.15"/><circle cx="241.9" cy="716.9" r="5.15"/><circle cx="301.6" cy="718.5" r="5.15"/><circle cx="219.9" cy="546.5" r="5.15"/><circle cx="206.7" cy="640.1" r="5.15"/><circle cx="290.5" cy="671.1" r="5.15"/><circle cx="185.4" cy="658.1" r="5.15"/></g><g class="g"><circle cx="255" cy="686" r="5.15"/><circle cx="282.5" cy="520.7" r="5.15"/><circle cx="243.6" cy="596.6" r="5.15"/><circle cx="234.2" cy="547.9" r="5.15"/><circle cx="278.9" cy="708.5" r="5.15"/><circle cx="221.6" cy="635.9" r="5.15"/><circle cx="315.7" cy="655" r="5.15"/><circle cx="233.7" cy="565.7" r="5.15"/><circle cx="326" cy="514.9" r="5.15"/><circle cx="298.9" cy="629.3" r="5.15"/><circle cx="248.9" cy="568.4" r="5.15"/><circle cx="314.9" cy="693.4" r="5.15"/></g><g class="o"><circle cx="245.3" cy="685.8" r="5.15"/><circle cx="225.9" cy="695.7" r="5.15"/><circle cx="242" cy="721.6" r="5.15"/><circle cx="190.6" cy="594.7" r="5.15"/><circle cx="205.2" cy="518.2" r="5.15"/><circle cx="248.2" cy="611.4" r="5.15"/><circle cx="231.2" cy="650.7" r="5.15"/><circle cx="234.6" cy="570.4" r="5.15"/><circle cx="233.2" cy="648.6" r="5.15"/><circle cx="307.2" cy="644.9" r="5.15"/><circle cx="218.2" cy="712.9" r="5.15"/><circle cx="188.2" cy="618.5" r="5.15"/><circle cx="307.7" cy="627.5" r="5.15"/><circle cx="264.9" cy="668.7" r="5.15"/><circle cx="204.7" cy="618.6" r="5.15"/><circle cx="172" cy="652.5" r="5.15"/><circle cx="254.8" cy="696.5" r="5.15"/><circle cx="238.4" cy="641.1" r="5.15"/></g><g class="g"><circle cx="350.5" cy="622.3" r="5.15"/><circle cx="272.3" cy="716.7" r="5.15"/><circle cx="239.4" cy="636" r="5.15"/><circle cx="230.9" cy="545" r="5.15"/><circle cx="292.3" cy="684.7" r="5.15"/><circle cx="245.7" cy="544.6" r="5.15"/></g><g class="o"><circle cx="238.1" cy="626.6" r="5.15"/><circle cx="192.5" cy="668.4" r="5.15"/><circle cx="176.8" cy="647.2" r="5.15"/><circle cx="318.9" cy="712" r="5.15"/><circle cx="171.7" cy="561.5" r="5.15"/><circle cx="246.8" cy="562.8" r="5.15"/><circle cx="264.7" cy="606.7" r="5.15"/><circle cx="228.4" cy="643.5" r="5.15"/></g><g class="g"><circle cx="285.3" cy="587.9" r="5.15"/><circle cx="215" cy="588.3" r="5.15"/><circle cx="229.9" cy="650.2" r="5.15"/><circle cx="312.9" cy="675.8" r="5.15"/><circle cx="256.6" cy="622.9" r="5.15"/><circle cx="259.2" cy="537.9" r="5.15"/><circle cx="296.3" cy="717.4" r="5.15"/><circle cx="292.1" cy="574.2" r="5.15"/><circle cx="292" cy="548.9" r="5.15"/><circle cx="203.4" cy="640.1" r="5.15"/><circle cx="254.7" cy="587" r="5.15"/><circle cx="263.5" cy="624.8" r="5.15"/><circle cx="230.2" cy="666.7" r="5.15"/><circle cx="234" cy="667" r="5.15"/><circle cx="360.5" cy="598.8" r="5.15"/><circle cx="302" cy="540.5" r="5.15"/></g><g class="o"><circle cx="152.6" cy="531.7" r="5.15"/><circle cx="231.4" cy="559" r="5.15"/><circle cx="251.7" cy="629.3" r="5.15"/><circle cx="182.4" cy="560.7" r="5.15"/><circle cx="247.8" cy="588.8" r="5.15"/><circle cx="214.7" cy="657.6" r="5.15"/><circle cx="215.5" cy="626.6" r="5.15"/><circle cx="153" cy="626.4" r="5.15"/><circle cx="295.7" cy="647.4" r="5.15"/><circle cx="192.2" cy="643.2" r="5.15"/><circle cx="163.9" cy="621.3" r="5.15"/><circle cx="251.4" cy="698" r="5.15"/></g><g class="g"><circle cx="247.4" cy="598.7" r="5.15"/><circle cx="301.2" cy="574.8" r="5.15"/><circle cx="254.1" cy="646.2" r="5.15"/><circle cx="207.7" cy="693.5" r="5.15"/><circle cx="277.7" cy="546.3" r="5.15"/><circle cx="254.8" cy="708" r="5.15"/><circle cx="186.7" cy="504.2" r="5.15"/><circle cx="257.6" cy="590.6" r="5.15"/><circle cx="265.3" cy="587.7" r="5.15"/><circle cx="248.1" cy="572.7" r="5.15"/><circle cx="222.5" cy="681.6" r="5.15"/><circle cx="255.9" cy="584.2" r="5.15"/></g><g class="o"><circle cx="258.2" cy="644.3" r="5.15"/><circle cx="298.8" cy="723.4" r="5.15"/><circle cx="241.4" cy="636.6" r="5.15"/><circle cx="153" cy="713.8" r="5.15"/><circle cx="252.3" cy="626.8" r="5.15"/><circle cx="243.6" cy="697.1" r="5.15"/><circle cx="182.5" cy="671.9" r="5.15"/><circle cx="258.7" cy="650" r="5.15"/><circle cx="176.8" cy="672" r="5.15"/><circle cx="153.5" cy="667.8" r="5.15"/><circle cx="281.6" cy="595.6" r="5.15"/><circle cx="168.5" cy="691.1" r="5.15"/><circle cx="182.7" cy="542" r="5.15"/><circle cx="202.4" cy="621.1" r="5.15"/></g><g class="g"><circle cx="337.7" cy="663.5" r="5.15"/><circle cx="295.2" cy="565" r="5.15"/><circle cx="254.1" cy="574.8" r="5.15"/><circle cx="284.8" cy="554" r="5.15"/><circle cx="247.3" cy="588.3" r="5.15"/><circle cx="247.9" cy="575.5" r="5.15"/><circle cx="299.5" cy="558.4" r="5.15"/><circle cx="270.3" cy="656.8" r="5.15"/><circle cx="272.4" cy="627.9" r="5.15"/><circle cx="242.6" cy="628.3" r="5.15"/></g><g class="o"><circle cx="256.2" cy="675.4" r="5.15"/><circle cx="282.7" cy="584.9" r="5.15"/><circle cx="248" cy="521.5" r="5.15"/><circle cx="199.9" cy="641.9" r="5.15"/><circle cx="225.5" cy="590" r="5.15"/><circle cx="211.9" cy="623.8" r="5.15"/><circle cx="262.4" cy="663.1" r="5.15"/><circle cx="183.6" cy="633.2" r="5.15"/><circle cx="227.9" cy="660.2" r="5.15"/><circle cx="219.9" cy="550.4" r="5.15"/><circle cx="186.5" cy="720.5" r="5.15"/><circle cx="261.5" cy="693.1" r="5.15"/><circle cx="239.6" cy="609.4" r="5.15"/><circle cx="235" cy="616.4" r="5.15"/><circle cx="224.7" cy="670.1" r="5.15"/><circle cx="302.5" cy="600" r="5.15"/></g><g class="g"><circle cx="268.8" cy="557.3" r="5.15"/><circle cx="235.4" cy="559" r="5.15"/><circle cx="340.4" cy="665.1" r="5.15"/><circle cx="256.9" cy="600.1" r="5.15"/><circle cx="244.5" cy="648.7" r="5.15"/><circle cx="257.3" cy="547.5" r="5.15"/><circle cx="256.5" cy="589.1" r="5.15"/><circle cx="242.2" cy="528" r="5.15"/></g><g class="o"><circle cx="205.7" cy="781.5" r="5.15"/><circle cx="294.4" cy="682" r="5.15"/><circle cx="205.1" cy="618.9" r="5.15"/><circle cx="163.3" cy="607.9" r="5.15"/><circle cx="152.5" cy="588.1" r="5.15"/><circle cx="293.1" cy="723.9" r="5.15"/><circle cx="243.4" cy="648.2" r="5.15"/><circle cx="271.6" cy="594.4" r="5.15"/><circle cx="221.6" cy="607.6" r="5.15"/></g><g class="g"><circle cx="229" cy="550.4" r="5.15"/><circle cx="219.4" cy="576.4" r="5.15"/><circle cx="287.6" cy="587.5" r="5.15"/><circle cx="304.6" cy="600.1" r="5.15"/><circle cx="375.7" cy="652.5" r="5.15"/><circle cx="273.6" cy="635.2" r="5.15"/><circle cx="229.4" cy="601.2" r="5.15"/></g>
<path d="M113.6 616.8 L121.4 618.1 L129.3 619.5 L137.1 620.8 L145 622.1 L152.8 623.5 L160.6 624.8 L168.5 626.1 L176.3 627.4 L184.2 628.7 L192 630 L199.8 631.2 L207.7 632.4 L215.5 633.6 L223.4 634.8 L231.2 635.8 L239 636.8 L246.9 637.6 L254.7 638.3 L262.6 638.7 L270.4 638.9 L278.2 638.9 L286.1 638.8 L293.9 638.5 L301.8 638.1 L309.6 637.6 L317.4 637.1 L325.3 636.6 L333.1 636 L341 635.4 L348.8 634.8 L356.6 634.2 L364.5 633.6 L372.3 633 L380.2 632.3 L388 631.7 L395.8 631.1 L403.7 630.4 L411.5 629.8 L419.4 629.1 L427.2 628.5 L427.2 672.5 L419.4 671.2 L411.5 669.9 L403.7 668.5 L395.8 667.2 L388 665.8 L380.2 664.5 L372.3 663.2 L364.5 661.9 L356.6 660.6 L348.8 659.3 L341 658 L333.1 656.7 L325.3 655.4 L317.4 654.2 L309.6 653 L301.8 651.9 L293.9 650.8 L286.1 649.8 L278.2 648.9 L270.4 648.2 L262.6 647.7 L254.7 647.5 L246.9 647.4 L239 647.6 L231.2 647.9 L223.4 648.2 L215.5 648.7 L207.7 649.2 L199.8 649.7 L192 650.3 L184.2 650.8 L176.3 651.4 L168.5 652.1 L160.6 652.7 L152.8 653.3 L145 653.9 L137.1 654.6 L129.3 655.2 L121.4 655.9 L113.6 656.5Z" fill="#D46600" fill-opacity=".2"/>
<path d="M113.6 610 L121.4 610.4 L129.3 610.9 L137.1 611.3 L145 611.7 L152.8 612.1 L160.6 612.5 L168.5 612.9 L176.3 613.3 L184.2 613.7 L192 614 L199.8 614.4 L207.7 614.7 L215.5 614.9 L223.4 615.1 L231.2 615.2 L239 615.2 L246.9 615 L254.7 614.6 L262.6 614 L270.4 613.2 L278.2 612.2 L286.1 611.1 L293.9 609.8 L301.8 608.5 L309.6 607.2 L317.4 605.8 L325.3 604.4 L333.1 602.9 L341 601.5 L348.8 600 L356.6 598.5 L364.5 597 L372.3 595.5 L380.2 594 L388 592.5 L395.8 591 L403.7 589.5 L411.5 588 L419.4 586.5 L427.2 585 L427.2 629.5 L419.4 629.1 L411.5 628.7 L403.7 628.2 L395.8 627.8 L388 627.4 L380.2 626.9 L372.3 626.5 L364.5 626.1 L356.6 625.7 L348.8 625.3 L341 624.9 L333.1 624.5 L325.3 624.1 L317.4 623.8 L309.6 623.5 L301.8 623.2 L293.9 623 L286.1 622.8 L278.2 622.8 L270.4 622.9 L262.6 623.1 L254.7 623.6 L246.9 624.3 L239 625.2 L231.2 626.3 L223.4 627.4 L215.5 628.7 L207.7 630 L199.8 631.4 L192 632.8 L184.2 634.2 L176.3 635.7 L168.5 637.1 L160.6 638.6 L152.8 640.1 L145 641.6 L137.1 643.1 L129.3 644.6 L121.4 646.1 L113.6 647.6Z" fill="#235A24" fill-opacity=".2"/>
<path class="ln" d="M113.6 636.6L427.2 650.5" stroke="#D46600"/>
<path class="ln" d="M113.6 628.8L427.2 607.2" stroke="#235A24"/>
<rect class="bd" x="99.1" y="456.0" width="342.8" height="450.7"/>
<path class="tm" d="M158.4 906.7v-7.3M248 906.7v-7.3M337.6 906.7v-7.3M427.2 906.7v-7.3M99.1 507.4h7.3M99.1 633.8h7.3M99.1 760.2h7.3M99.1 886.5h7.3"/>
<g class="tk"><text x="158.4" y="924.2" text-anchor="middle">−2</text><text x="248" y="924.2" text-anchor="middle">0</text><text x="337.6" y="924.2" text-anchor="middle">2</text><text x="427.2" y="924.2" text-anchor="middle">4</text><text x="96.3" y="514.2" text-anchor="end">2</text><text x="96.3" y="640.6" text-anchor="end">0</text><text x="96.3" y="767.0" text-anchor="end">−2</text><text x="96.3" y="893.3" text-anchor="end">−4</text></g>
<text class="an" x="113.9" y="489.9">DVT<tspan x="157.6">×</tspan><tspan x="173.9">FD</tspan><tspan font-size="14.00" dy="3.4">is</tspan><tspan x="210.2" dy="-3.4">_RE:</tspan><tspan class="it" x="259.2">F</tspan><tspan x="274.8">=</tspan><tspan x="292.5">1.52,</tspan><tspan class="it" x="341.2">P</tspan><tspan x="358">=</tspan><tspan x="374.7">0.219</tspan></text>
<text class="lb" x="-0.4" y="488.8" font-size="38.9">f</text>
</g>
<g id="panel-g">
<g class="o"><circle cx="614.1" cy="568.4" r="5.15"/><circle cx="521.2" cy="787.8" r="5.15"/><circle cx="659.8" cy="591.4" r="5.15"/><circle cx="573.5" cy="619.8" r="5.15"/><circle cx="540.3" cy="668.4" r="5.15"/><circle cx="538.6" cy="591.7" r="5.15"/><circle cx="567.5" cy="638.9" r="5.15"/><circle cx="600.8" cy="683.6" r="5.15"/><circle cx="573.3" cy="608.6" r="5.15"/><circle cx="665.4" cy="588.1" r="5.15"/><circle cx="566" cy="610.1" r="5.15"/><circle cx="561.7" cy="544.5" r="5.15"/></g><g class="g"><circle cx="613.8" cy="616.7" r="5.15"/><circle cx="603.9" cy="579.1" r="5.15"/><circle cx="642" cy="536.6" r="5.15"/><circle cx="743.2" cy="595.5" r="5.15"/><circle cx="668.8" cy="647.5" r="5.15"/><circle cx="670.6" cy="602.6" r="5.15"/><circle cx="622.4" cy="585.4" r="5.15"/><circle cx="651.1" cy="573.9" r="5.15"/><circle cx="639.4" cy="541.2" r="5.15"/><circle cx="667.4" cy="648.6" r="5.15"/><circle cx="613.5" cy="503.5" r="5.15"/><circle cx="699.2" cy="594.1" r="5.15"/></g><g class="o"><circle cx="548.9" cy="690.6" r="5.15"/><circle cx="544.4" cy="665.7" r="5.15"/><circle cx="580.7" cy="715.3" r="5.15"/><circle cx="565.7" cy="558.8" r="5.15"/><circle cx="565.8" cy="571.3" r="5.15"/><circle cx="605.6" cy="681.3" r="5.15"/><circle cx="635" cy="636.9" r="5.15"/><circle cx="533" cy="669.7" r="5.15"/><circle cx="551.3" cy="739.9" r="5.15"/><circle cx="632.2" cy="640.4" r="5.15"/></g><g class="g"><circle cx="686.5" cy="578.6" r="5.15"/><circle cx="655.6" cy="530.5" r="5.15"/><circle cx="655.6" cy="555.4" r="5.15"/><circle cx="665.6" cy="603.3" r="5.15"/><circle cx="706.2" cy="577.3" r="5.15"/><circle cx="729.3" cy="591" r="5.15"/><circle cx="660.9" cy="548.6" r="5.15"/><circle cx="589.4" cy="641.9" r="5.15"/><circle cx="733.6" cy="624" r="5.15"/><circle cx="619.5" cy="557.8" r="5.15"/><circle cx="688.5" cy="642.6" r="5.15"/><circle cx="653.2" cy="658.1" r="5.15"/><circle cx="572.2" cy="501.4" r="5.15"/><circle cx="629.5" cy="682.8" r="5.15"/></g><g class="o"><circle cx="589.1" cy="596" r="5.15"/><circle cx="519.1" cy="678.6" r="5.15"/><circle cx="575.6" cy="531.5" r="5.15"/><circle cx="577" cy="565.7" r="5.15"/><circle cx="570.2" cy="586.8" r="5.15"/><circle cx="533.5" cy="679.9" r="5.15"/><circle cx="588" cy="580" r="5.15"/><circle cx="571.7" cy="661" r="5.15"/><circle cx="581.1" cy="620.3" r="5.15"/><circle cx="592.4" cy="723" r="5.15"/><circle cx="518.8" cy="744.4" r="5.15"/><circle cx="525.1" cy="655" r="5.15"/><circle cx="600.5" cy="651.5" r="5.15"/><circle cx="545.7" cy="595.3" r="5.15"/></g><g class="g"><circle cx="621.7" cy="567.4" r="5.15"/><circle cx="724.9" cy="613" r="5.15"/><circle cx="721.5" cy="621" r="5.15"/><circle cx="714.4" cy="662.9" r="5.15"/><circle cx="705.1" cy="659.6" r="5.15"/><circle cx="729" cy="613.1" r="5.15"/><circle cx="752.2" cy="561" r="5.15"/><circle cx="604" cy="614.6" r="5.15"/><circle cx="675.5" cy="549.6" r="5.15"/><circle cx="637" cy="575.9" r="5.15"/></g><g class="o"><circle cx="531.8" cy="749.6" r="5.15"/><circle cx="564.8" cy="648.8" r="5.15"/><circle cx="549.5" cy="610.6" r="5.15"/><circle cx="572.8" cy="732.6" r="5.15"/><circle cx="568.6" cy="739.2" r="5.15"/><circle cx="620.2" cy="622.3" r="5.15"/><circle cx="555.3" cy="734.5" r="5.15"/><circle cx="625.1" cy="651.5" r="5.15"/><circle cx="579" cy="642.1" r="5.15"/><circle cx="575.5" cy="685.2" r="5.15"/></g><g class="g"><circle cx="674.3" cy="555.2" r="5.15"/><circle cx="743.7" cy="566.2" r="5.15"/><circle cx="665.3" cy="610.9" r="5.15"/><circle cx="588.4" cy="543.7" r="5.15"/><circle cx="668.6" cy="669.8" r="5.15"/><circle cx="623.9" cy="566.9" r="5.15"/><circle cx="544.7" cy="609.5" r="5.15"/><circle cx="583.6" cy="671.4" r="5.15"/><circle cx="690.4" cy="590.3" r="5.15"/><circle cx="622.7" cy="494.6" r="5.15"/><circle cx="641.8" cy="540.9" r="5.15"/><circle cx="691.2" cy="578.2" r="5.15"/><circle cx="644.9" cy="558" r="5.15"/><circle cx="589.1" cy="598.9" r="5.15"/></g><g class="o"><circle cx="584" cy="722.5" r="5.15"/><circle cx="633.6" cy="697" r="5.15"/><circle cx="586.5" cy="620.4" r="5.15"/><circle cx="617.2" cy="560.8" r="5.15"/><circle cx="595.7" cy="669" r="5.15"/><circle cx="523.9" cy="719.1" r="5.15"/><circle cx="568.7" cy="635.6" r="5.15"/><circle cx="570" cy="688.8" r="5.15"/><circle cx="590" cy="673" r="5.15"/><circle cx="566.1" cy="585.9" r="5.15"/><circle cx="647.7" cy="622.7" r="5.15"/><circle cx="567.1" cy="592.9" r="5.15"/><circle cx="605" cy="621.3" r="5.15"/><circle cx="519.8" cy="615.6" r="5.15"/><circle cx="540.7" cy="605.9" r="5.15"/></g><g class="g"><circle cx="645.9" cy="618.4" r="5.15"/><circle cx="618.9" cy="541.7" r="5.15"/><circle cx="694.3" cy="598.2" r="5.15"/><circle cx="665.4" cy="589.5" r="5.15"/><circle cx="640" cy="569.9" r="5.15"/><circle cx="637.9" cy="610.7" r="5.15"/><circle cx="623.9" cy="568.8" r="5.15"/><circle cx="636.4" cy="663.3" r="5.15"/><circle cx="690.1" cy="592.6" r="5.15"/></g><g class="o"><circle cx="565.2" cy="624.4" r="5.15"/><circle cx="619.5" cy="548.1" r="5.15"/><circle cx="657.3" cy="571.4" r="5.15"/><circle cx="572.8" cy="672.4" r="5.15"/><circle cx="543" cy="705.4" r="5.15"/><circle cx="560.8" cy="611.2" r="5.15"/><circle cx="628.6" cy="580.4" r="5.15"/><circle cx="519.3" cy="774.1" r="5.15"/><circle cx="611.5" cy="629.7" r="5.15"/><circle cx="548.4" cy="732.3" r="5.15"/><circle cx="585.2" cy="639.5" r="5.15"/><circle cx="619.9" cy="639.7" r="5.15"/><circle cx="542.5" cy="576.7" r="5.15"/><circle cx="546.8" cy="676.1" r="5.15"/></g><g class="g"><circle cx="684.4" cy="566.4" r="5.15"/><circle cx="768.3" cy="539.3" r="5.15"/><circle cx="722" cy="615.6" r="5.15"/><circle cx="767.7" cy="522.2" r="5.15"/><circle cx="602.2" cy="619.7" r="5.15"/><circle cx="709.5" cy="562.6" r="5.15"/><circle cx="609" cy="635.5" r="5.15"/><circle cx="611.4" cy="602.8" r="5.15"/><circle cx="666.5" cy="675.8" r="5.15"/><circle cx="705.1" cy="554.1" r="5.15"/></g><g class="o"><circle cx="549.5" cy="655" r="5.15"/><circle cx="559.6" cy="691.8" r="5.15"/><circle cx="542.2" cy="583.2" r="5.15"/><circle cx="643.2" cy="572.1" r="5.15"/><circle cx="538.8" cy="716.2" r="5.15"/><circle cx="561" cy="652.8" r="5.15"/><circle cx="588.5" cy="689" r="5.15"/><circle cx="603.8" cy="622.1" r="5.15"/><circle cx="591" cy="607" r="5.15"/><circle cx="560" cy="638.5" r="5.15"/><circle cx="637.9" cy="607.4" r="5.15"/></g><g class="g"><circle cx="739.1" cy="499.2" r="5.15"/><circle cx="662.8" cy="552.2" r="5.15"/><circle cx="716.5" cy="623.7" r="5.15"/><circle cx="653.9" cy="610.4" r="5.15"/><circle cx="703.4" cy="625.6" r="5.15"/><circle cx="655.6" cy="575.6" r="5.15"/><circle cx="674.7" cy="585.2" r="5.15"/><circle cx="686.4" cy="623.1" r="5.15"/><circle cx="675.5" cy="593.3" r="5.15"/><circle cx="627.2" cy="568.7" r="5.15"/><circle cx="585.5" cy="511.7" r="5.15"/><circle cx="695.7" cy="651.3" r="5.15"/><circle cx="735.6" cy="681.7" r="5.15"/></g><g class="o"><circle cx="519.1" cy="756.5" r="5.15"/><circle cx="590.6" cy="606.6" r="5.15"/><circle cx="598.2" cy="680.6" r="5.15"/><circle cx="631" cy="625.1" r="5.15"/><circle cx="532.5" cy="602" r="5.15"/><circle cx="538" cy="666.1" r="5.15"/><circle cx="592.3" cy="611.6" r="5.15"/><circle cx="626.4" cy="705.5" r="5.15"/><circle cx="665.6" cy="844.8" r="5.15"/><circle cx="604.9" cy="593.9" r="5.15"/><circle cx="587.2" cy="561.4" r="5.15"/></g><g class="g"><circle cx="733.1" cy="588.5" r="5.15"/><circle cx="726.4" cy="539.8" r="5.15"/><circle cx="567.8" cy="568.9" r="5.15"/><circle cx="686.4" cy="637.8" r="5.15"/><circle cx="730" cy="647.4" r="5.15"/><circle cx="695.6" cy="610.1" r="5.15"/><circle cx="663.2" cy="615.9" r="5.15"/><circle cx="717" cy="534.4" r="5.15"/><circle cx="701.5" cy="598.7" r="5.15"/><circle cx="716.7" cy="697.1" r="5.15"/><circle cx="617.5" cy="601.2" r="5.15"/><circle cx="653.4" cy="684.7" r="5.15"/><circle cx="748.1" cy="661.5" r="5.15"/></g><g class="o"><circle cx="587.9" cy="590.5" r="5.15"/><circle cx="608.8" cy="657" r="5.15"/><circle cx="647.8" cy="523.8" r="5.15"/><circle cx="538.1" cy="600.4" r="5.15"/><circle cx="533.2" cy="605.5" r="5.15"/><circle cx="518.3" cy="596.1" r="5.15"/><circle cx="539.1" cy="616.1" r="5.15"/><circle cx="616" cy="707.2" r="5.15"/><circle cx="591.9" cy="622.8" r="5.15"/><circle cx="560.3" cy="718.5" r="5.15"/></g><g class="g"><circle cx="694.9" cy="506.1" r="5.15"/><circle cx="687.4" cy="633.4" r="5.15"/><circle cx="654.5" cy="548.8" r="5.15"/><circle cx="610.4" cy="610.7" r="5.15"/><circle cx="671.7" cy="516.5" r="5.15"/><circle cx="759.1" cy="587.9" r="5.15"/><circle cx="719.9" cy="568.4" r="5.15"/><circle cx="591.8" cy="590.7" r="5.15"/><circle cx="698.2" cy="513.9" r="5.15"/><circle cx="654.6" cy="502.4" r="5.15"/><circle cx="599.8" cy="598.8" r="5.15"/><circle cx="691.8" cy="497.6" r="5.15"/><circle cx="607.7" cy="538.6" r="5.15"/><circle cx="603.3" cy="575.4" r="5.15"/></g><g class="o"><circle cx="617.6" cy="670.5" r="5.15"/><circle cx="573.4" cy="604.3" r="5.15"/><circle cx="637.8" cy="641.6" r="5.15"/><circle cx="620.1" cy="632.3" r="5.15"/><circle cx="573.6" cy="624.9" r="5.15"/><circle cx="595.8" cy="624" r="5.15"/><circle cx="570.4" cy="707.2" r="5.15"/><circle cx="603.5" cy="562.3" r="5.15"/><circle cx="550.3" cy="668.2" r="5.15"/><circle cx="580.4" cy="653.1" r="5.15"/><circle cx="594.7" cy="518.2" r="5.15"/><circle cx="524.1" cy="739.3" r="5.15"/><circle cx="608.3" cy="676.5" r="5.15"/><circle cx="607" cy="635.2" r="5.15"/></g><g class="g"><circle cx="662.1" cy="615.9" r="5.15"/><circle cx="659.2" cy="529.6" r="5.15"/><circle cx="607.7" cy="572.6" r="5.15"/><circle cx="716.1" cy="661.2" r="5.15"/><circle cx="581.5" cy="697.5" r="5.15"/><circle cx="667.7" cy="519.1" r="5.15"/><circle cx="665.1" cy="545.2" r="5.15"/><circle cx="653.3" cy="665.2" r="5.15"/><circle cx="667.7" cy="657" r="5.15"/><circle cx="561.8" cy="576.2" r="5.15"/></g><g class="o"><circle cx="545.5" cy="660.9" r="5.15"/><circle cx="539.8" cy="599.7" r="5.15"/><circle cx="597.9" cy="606.3" r="5.15"/><circle cx="607.5" cy="623.2" r="5.15"/><circle cx="542.3" cy="678.2" r="5.15"/><circle cx="658.6" cy="556.9" r="5.15"/><circle cx="544.4" cy="757.9" r="5.15"/><circle cx="565.5" cy="746.3" r="5.15"/><circle cx="577.8" cy="630.1" r="5.15"/><circle cx="612.6" cy="680.7" r="5.15"/></g><g class="g"><circle cx="672.5" cy="588" r="5.15"/><circle cx="723.1" cy="609.9" r="5.15"/><circle cx="759.1" cy="663.8" r="5.15"/><circle cx="621.1" cy="695.8" r="5.15"/><circle cx="714.1" cy="578" r="5.15"/><circle cx="698.9" cy="635.2" r="5.15"/><circle cx="670.5" cy="568.8" r="5.15"/><circle cx="568.7" cy="574.7" r="5.15"/><circle cx="584.6" cy="614.1" r="5.15"/><circle cx="712.7" cy="496.7" r="5.15"/><circle cx="704.1" cy="650.8" r="5.15"/><circle cx="621.6" cy="559.3" r="5.15"/><circle cx="727.5" cy="599.9" r="5.15"/><circle cx="613.6" cy="519.9" r="5.15"/></g><g class="o"><circle cx="644.3" cy="656.7" r="5.15"/><circle cx="572.2" cy="682.4" r="5.15"/><circle cx="566.9" cy="629.9" r="5.15"/><circle cx="590.6" cy="750.3" r="5.15"/><circle cx="606.4" cy="605" r="5.15"/><circle cx="574.4" cy="571.4" r="5.15"/><circle cx="596.1" cy="672.6" r="5.15"/><circle cx="590.7" cy="710.3" r="5.15"/><circle cx="651.6" cy="640.3" r="5.15"/><circle cx="588.6" cy="669.1" r="5.15"/><circle cx="601.7" cy="628.2" r="5.15"/><circle cx="596" cy="749.9" r="5.15"/><circle cx="674.2" cy="634.5" r="5.15"/><circle cx="578.9" cy="659.1" r="5.15"/></g><g class="g"><circle cx="585.7" cy="590.7" r="5.15"/><circle cx="627.4" cy="496.1" r="5.15"/><circle cx="603.2" cy="645.9" r="5.15"/><circle cx="673.5" cy="513.8" r="5.15"/><circle cx="620" cy="606.2" r="5.15"/><circle cx="743.9" cy="592.2" r="5.15"/><circle cx="615.1" cy="571.9" r="5.15"/><circle cx="731.1" cy="551" r="5.15"/><circle cx="656" cy="737" r="5.15"/><circle cx="613.3" cy="686.4" r="5.15"/></g><g class="o"><circle cx="653.2" cy="562.3" r="5.15"/><circle cx="591.9" cy="605.8" r="5.15"/><circle cx="676.6" cy="613" r="5.15"/><circle cx="519" cy="754.9" r="5.15"/><circle cx="518.9" cy="699.7" r="5.15"/><circle cx="590.1" cy="626.3" r="5.15"/><circle cx="546.6" cy="602.9" r="5.15"/><circle cx="518.9" cy="777.4" r="5.15"/><circle cx="607.1" cy="663.7" r="5.15"/><circle cx="657.5" cy="641.7" r="5.15"/><circle cx="575.8" cy="676" r="5.15"/><circle cx="581.1" cy="687.3" r="5.15"/></g><g class="g"><circle cx="639.6" cy="652.2" r="5.15"/><circle cx="769.5" cy="586.7" r="5.15"/><circle cx="697.5" cy="621.5" r="5.15"/><circle cx="626.7" cy="580.3" r="5.15"/><circle cx="610.4" cy="560.1" r="5.15"/><circle cx="658" cy="594.6" r="5.15"/><circle cx="636.4" cy="656.4" r="5.15"/><circle cx="795.4" cy="594.4" r="5.15"/><circle cx="670.7" cy="542.6" r="5.15"/><circle cx="691.3" cy="581" r="5.15"/><circle cx="578.6" cy="605.9" r="5.15"/><circle cx="679.1" cy="565.2" r="5.15"/></g><g class="o"><circle cx="580.8" cy="577.3" r="5.15"/><circle cx="622.1" cy="681.4" r="5.15"/><circle cx="616.8" cy="762.2" r="5.15"/><circle cx="518.9" cy="644.7" r="5.15"/><circle cx="627" cy="599.5" r="5.15"/><circle cx="602" cy="565.9" r="5.15"/><circle cx="585.3" cy="681.3" r="5.15"/><circle cx="576.7" cy="673.6" r="5.15"/><circle cx="611" cy="653.6" r="5.15"/><circle cx="552.8" cy="673.8" r="5.15"/><circle cx="552.2" cy="747" r="5.15"/><circle cx="579.8" cy="588.1" r="5.15"/><circle cx="574.2" cy="619.3" r="5.15"/></g><g class="g"><circle cx="578.4" cy="595.6" r="5.15"/><circle cx="645.3" cy="554.2" r="5.15"/><circle cx="675.5" cy="550.8" r="5.15"/><circle cx="704.4" cy="511" r="5.15"/><circle cx="610.8" cy="659.4" r="5.15"/><circle cx="632.6" cy="511.7" r="5.15"/><circle cx="622" cy="596.1" r="5.15"/><circle cx="695.9" cy="567" r="5.15"/><circle cx="634.4" cy="639.3" r="5.15"/><circle cx="736.5" cy="619.1" r="5.15"/><circle cx="647.3" cy="516.4" r="5.15"/></g><g class="o"><circle cx="619.1" cy="580.4" r="5.15"/><circle cx="577.9" cy="618.7" r="5.15"/><circle cx="562.3" cy="599.3" r="5.15"/><circle cx="576.7" cy="672.8" r="5.15"/><circle cx="614.4" cy="631" r="5.15"/><circle cx="655.7" cy="558.3" r="5.15"/><circle cx="602.1" cy="607.9" r="5.15"/><circle cx="582.3" cy="621.6" r="5.15"/><circle cx="602.3" cy="615.5" r="5.15"/><circle cx="546.1" cy="643.4" r="5.15"/><circle cx="658.2" cy="667.7" r="5.15"/><circle cx="631.7" cy="653.8" r="5.15"/><circle cx="568.1" cy="689.6" r="5.15"/><circle cx="583.9" cy="655" r="5.15"/></g><g class="g"><circle cx="705.1" cy="670.6" r="5.15"/><circle cx="695.8" cy="515" r="5.15"/><circle cx="712.2" cy="569.3" r="5.15"/><circle cx="689.3" cy="559.8" r="5.15"/><circle cx="630.7" cy="608.7" r="5.15"/><circle cx="642.9" cy="606.9" r="5.15"/><circle cx="749.8" cy="551.5" r="5.15"/><circle cx="623.3" cy="597.7" r="5.15"/><circle cx="643.4" cy="647.7" r="5.15"/><circle cx="656.2" cy="680.5" r="5.15"/></g><g class="o"><circle cx="523.4" cy="595.7" r="5.15"/><circle cx="590.1" cy="604.1" r="5.15"/><circle cx="566.5" cy="560.3" r="5.15"/><circle cx="574.9" cy="671.1" r="5.15"/><circle cx="586.7" cy="629.6" r="5.15"/><circle cx="585.4" cy="654.7" r="5.15"/><circle cx="553.6" cy="547.9" r="5.15"/><circle cx="576.7" cy="622" r="5.15"/></g><g class="g"><circle cx="638" cy="644.3" r="5.15"/><circle cx="678.9" cy="605.1" r="5.15"/><circle cx="724.7" cy="605.1" r="5.15"/><circle cx="671.2" cy="619.2" r="5.15"/><circle cx="627.2" cy="572.5" r="5.15"/><circle cx="656.2" cy="615" r="5.15"/><circle cx="654.6" cy="559.7" r="5.15"/><circle cx="720" cy="552.5" r="5.15"/><circle cx="589.6" cy="585.5" r="5.15"/><circle cx="699.8" cy="565.2" r="5.15"/><circle cx="693.6" cy="582" r="5.15"/><circle cx="763.6" cy="550.8" r="5.15"/><circle cx="618.7" cy="562.8" r="5.15"/><circle cx="613.3" cy="636" r="5.15"/><circle cx="607.3" cy="596.9" r="5.15"/><circle cx="599.9" cy="688.6" r="5.15"/></g><g class="o"><circle cx="616" cy="623.8" r="5.15"/><circle cx="624.9" cy="666.8" r="5.15"/><circle cx="575.8" cy="618.1" r="5.15"/><circle cx="529.3" cy="550" r="5.15"/><circle cx="567.8" cy="607.6" r="5.15"/><circle cx="646.1" cy="599" r="5.15"/><circle cx="596" cy="591.8" r="5.15"/><circle cx="645.8" cy="606.8" r="5.15"/><circle cx="641" cy="594.7" r="5.15"/><circle cx="536.1" cy="639.5" r="5.15"/><circle cx="538.4" cy="553.5" r="5.15"/><circle cx="540.4" cy="613.2" r="5.15"/><circle cx="533" cy="672.8" r="5.15"/><circle cx="519.4" cy="718" r="5.15"/><circle cx="631.7" cy="581.2" r="5.15"/></g><g class="g"><circle cx="681.9" cy="540.2" r="5.15"/><circle cx="749.6" cy="721.7" r="5.15"/><circle cx="630.9" cy="587.5" r="5.15"/><circle cx="740.4" cy="537" r="5.15"/><circle cx="658.4" cy="629.7" r="5.15"/><circle cx="638.2" cy="563.3" r="5.15"/><circle cx="660.9" cy="563.6" r="5.15"/><circle cx="655.4" cy="642.9" r="5.15"/><circle cx="714.1" cy="516.9" r="5.15"/></g><g class="o"><circle cx="570.1" cy="637.9" r="5.15"/><circle cx="623.8" cy="618.5" r="5.15"/><circle cx="519.5" cy="777.1" r="5.15"/><circle cx="598.6" cy="689.6" r="5.15"/><circle cx="561.3" cy="644.6" r="5.15"/><circle cx="614.7" cy="655.7" r="5.15"/><circle cx="530.6" cy="664.8" r="5.15"/><circle cx="528.4" cy="591.4" r="5.15"/><circle cx="605" cy="732.6" r="5.15"/><circle cx="586.1" cy="650.2" r="5.15"/><circle cx="548.6" cy="655.9" r="5.15"/><circle cx="596.2" cy="612.5" r="5.15"/><circle cx="599.1" cy="560.1" r="5.15"/><circle cx="518.8" cy="791.7" r="5.15"/></g><g class="g"><circle cx="666" cy="564.1" r="5.15"/><circle cx="752.5" cy="652" r="5.15"/><circle cx="680.7" cy="600.1" r="5.15"/><circle cx="676.7" cy="575.6" r="5.15"/><circle cx="594.3" cy="606.7" r="5.15"/><circle cx="651.5" cy="585" r="5.15"/><circle cx="617.1" cy="558.5" r="5.15"/><circle cx="664.4" cy="532.9" r="5.15"/><circle cx="686.1" cy="614.7" r="5.15"/><circle cx="674.1" cy="507.5" r="5.15"/></g><g class="o"><circle cx="555.4" cy="507.7" r="5.15"/><circle cx="610.9" cy="631.1" r="5.15"/><circle cx="547.7" cy="640.9" r="5.15"/><circle cx="597.1" cy="676.5" r="5.15"/><circle cx="587.9" cy="646.4" r="5.15"/><circle cx="669.9" cy="643.9" r="5.15"/><circle cx="609.5" cy="709.8" r="5.15"/><circle cx="619.5" cy="616.9" r="5.15"/><circle cx="645.3" cy="652.5" r="5.15"/><circle cx="596.6" cy="678.4" r="5.15"/><circle cx="624" cy="612.6" r="5.15"/><circle cx="595.1" cy="631.7" r="5.15"/></g><g class="g"><circle cx="608.7" cy="604.8" r="5.15"/><circle cx="547" cy="586.9" r="5.15"/><circle cx="720.9" cy="582.9" r="5.15"/><circle cx="537.2" cy="670.8" r="5.15"/><circle cx="678.5" cy="568.9" r="5.15"/><circle cx="693.9" cy="605.9" r="5.15"/><circle cx="702.9" cy="670" r="5.15"/><circle cx="575.6" cy="629.4" r="5.15"/><circle cx="622.9" cy="564.8" r="5.15"/><circle cx="726.6" cy="527.8" r="5.15"/><circle cx="688.4" cy="556.3" r="5.15"/><circle cx="764.8" cy="573" r="5.15"/></g><g class="o"><circle cx="543.7" cy="582.5" r="5.15"/><circle cx="637.1" cy="637.9" r="5.15"/><circle cx="578.5" cy="698.8" r="5.15"/><circle cx="614.5" cy="637.4" r="5.15"/><circle cx="576.9" cy="714.8" r="5.15"/><circle cx="548.2" cy="685.7" r="5.15"/><circle cx="540.4" cy="698.1" r="5.15"/></g><g class="g"><circle cx="678" cy="595.2" r="5.15"/><circle cx="629.6" cy="649.4" r="5.15"/><circle cx="672.6" cy="566" r="5.15"/><circle cx="698" cy="626.7" r="5.15"/><circle cx="649.2" cy="526.2" r="5.15"/><circle cx="693.6" cy="613.9" r="5.15"/><circle cx="710" cy="586.2" r="5.15"/><circle cx="775.7" cy="544.4" r="5.15"/><circle cx="701.4" cy="611.6" r="5.15"/><circle cx="630.7" cy="517.4" r="5.15"/><circle cx="657.5" cy="606.7" r="5.15"/><circle cx="740.8" cy="611.2" r="5.15"/><circle cx="627.3" cy="627.9" r="5.15"/><circle cx="666.3" cy="603.6" r="5.15"/><circle cx="679.5" cy="545.1" r="5.15"/><circle cx="727.8" cy="585.4" r="5.15"/><circle cx="706.5" cy="604.4" r="5.15"/></g><g class="o"><circle cx="639" cy="620.6" r="5.15"/><circle cx="520.8" cy="708.3" r="5.15"/><circle cx="603.3" cy="641.7" r="5.15"/><circle cx="531.9" cy="710" r="5.15"/><circle cx="518.2" cy="629" r="5.15"/><circle cx="571.1" cy="705.4" r="5.15"/><circle cx="545" cy="655.3" r="5.15"/><circle cx="562.3" cy="665.1" r="5.15"/><circle cx="536.3" cy="650.6" r="5.15"/><circle cx="550.8" cy="567.9" r="5.15"/><circle cx="601" cy="640" r="5.15"/><circle cx="595.8" cy="651.1" r="5.15"/><circle cx="573" cy="601.8" r="5.15"/><circle cx="584.5" cy="632.8" r="5.15"/></g><g class="g"><circle cx="712.1" cy="544.9" r="5.15"/><circle cx="660.8" cy="529.9" r="5.15"/><circle cx="668.2" cy="570.7" r="5.15"/><circle cx="605.5" cy="568.2" r="5.15"/><circle cx="542.3" cy="579.3" r="5.15"/><circle cx="606.2" cy="559.5" r="5.15"/><circle cx="676.9" cy="660.8" r="5.15"/><circle cx="648" cy="607.2" r="5.15"/><circle cx="629.5" cy="553.6" r="5.15"/><circle cx="588.6" cy="569.5" r="5.15"/></g><g class="o"><circle cx="642.2" cy="610" r="5.15"/><circle cx="593.6" cy="632" r="5.15"/><circle cx="638.6" cy="808.7" r="5.15"/><circle cx="598.1" cy="725.9" r="5.15"/><circle cx="580.1" cy="646.4" r="5.15"/><circle cx="557.5" cy="615.5" r="5.15"/><circle cx="583.4" cy="702.7" r="5.15"/><circle cx="606.3" cy="637.4" r="5.15"/><circle cx="585.3" cy="599.1" r="5.15"/><circle cx="597.4" cy="644.1" r="5.15"/></g><g class="g"><circle cx="645.7" cy="614.8" r="5.15"/><circle cx="672.9" cy="647.3" r="5.15"/><circle cx="682.4" cy="521.7" r="5.15"/><circle cx="762.3" cy="539.3" r="5.15"/><circle cx="621.9" cy="606.9" r="5.15"/><circle cx="604.3" cy="647.6" r="5.15"/><circle cx="687.8" cy="617.4" r="5.15"/><circle cx="576.4" cy="676.8" r="5.15"/><circle cx="669.1" cy="632.8" r="5.15"/><circle cx="666.6" cy="681.5" r="5.15"/><circle cx="695" cy="639.6" r="5.15"/><circle cx="697.5" cy="627.8" r="5.15"/><circle cx="570" cy="631.9" r="5.15"/><circle cx="749.5" cy="636" r="5.15"/></g><g class="o"><circle cx="632.3" cy="580.4" r="5.15"/><circle cx="550.2" cy="703.6" r="5.15"/><circle cx="571.5" cy="516.5" r="5.15"/><circle cx="597.2" cy="541" r="5.15"/><circle cx="519.6" cy="556.8" r="5.15"/><circle cx="519.4" cy="590.6" r="5.15"/><circle cx="557.3" cy="703" r="5.15"/><circle cx="567.5" cy="670.9" r="5.15"/><circle cx="593.4" cy="640.8" r="5.15"/><circle cx="518.7" cy="701.1" r="5.15"/><circle cx="593.6" cy="659.8" r="5.15"/></g><g class="g"><circle cx="631.8" cy="575.6" r="5.15"/><circle cx="576.8" cy="593.5" r="5.15"/><circle cx="720.4" cy="610.6" r="5.15"/><circle cx="637.6" cy="546.6" r="5.15"/><circle cx="662.4" cy="562.8" r="5.15"/><circle cx="736.7" cy="587.6" r="5.15"/><circle cx="721.3" cy="591.2" r="5.15"/><circle cx="608.6" cy="698.4" r="5.15"/><circle cx="727.3" cy="606.5" r="5.15"/><circle cx="705" cy="662.3" r="5.15"/><circle cx="711.5" cy="516.9" r="5.15"/><circle cx="685" cy="490.2" r="5.15"/><circle cx="678.4" cy="580.7" r="5.15"/></g><g class="o"><circle cx="600.9" cy="733.1" r="5.15"/><circle cx="591.2" cy="620.1" r="5.15"/><circle cx="537.8" cy="516.4" r="5.15"/><circle cx="617" cy="688.2" r="5.15"/><circle cx="596.8" cy="608.2" r="5.15"/><circle cx="541.5" cy="713.8" r="5.15"/><circle cx="589.7" cy="636.6" r="5.15"/><circle cx="556.5" cy="734.4" r="5.15"/><circle cx="600.1" cy="650.2" r="5.15"/><circle cx="536.9" cy="634.4" r="5.15"/><circle cx="573" cy="622.3" r="5.15"/><circle cx="548.4" cy="697.6" r="5.15"/><circle cx="572.9" cy="596.6" r="5.15"/></g><g class="g"><circle cx="724.5" cy="544.3" r="5.15"/><circle cx="580.7" cy="522" r="5.15"/><circle cx="678.2" cy="493.6" r="5.15"/><circle cx="628.7" cy="669.9" r="5.15"/><circle cx="589.2" cy="654.9" r="5.15"/><circle cx="709.5" cy="634.6" r="5.15"/><circle cx="631.4" cy="668.1" r="5.15"/><circle cx="674.8" cy="509.9" r="5.15"/><circle cx="660.4" cy="552.6" r="5.15"/><circle cx="731" cy="714.9" r="5.15"/><circle cx="747.8" cy="586.9" r="5.15"/></g><g class="o"><circle cx="570.1" cy="575.2" r="5.15"/><circle cx="606.3" cy="543.3" r="5.15"/><circle cx="600" cy="559.4" r="5.15"/><circle cx="526.1" cy="586.1" r="5.15"/><circle cx="520.6" cy="795.7" r="5.15"/><circle cx="583.6" cy="627.4" r="5.15"/><circle cx="578.6" cy="745.1" r="5.15"/><circle cx="636.7" cy="653.4" r="5.15"/><circle cx="570.4" cy="645.6" r="5.15"/><circle cx="599" cy="630.2" r="5.15"/><circle cx="571.4" cy="664.7" r="5.15"/><circle cx="552.4" cy="604.1" r="5.15"/><circle cx="517.3" cy="566.6" r="5.15"/><circle cx="578.8" cy="641" r="5.15"/><circle cx="587.1" cy="619.2" r="5.15"/></g><g class="g"><circle cx="592.2" cy="616.1" r="5.15"/><circle cx="778" cy="569.7" r="5.15"/><circle cx="655.4" cy="532.7" r="5.15"/><circle cx="591.7" cy="656.3" r="5.15"/><circle cx="661.5" cy="554.3" r="5.15"/><circle cx="627.9" cy="625.5" r="5.15"/><circle cx="652.9" cy="528.1" r="5.15"/><circle cx="644.6" cy="611.1" r="5.15"/><circle cx="691.7" cy="565.5" r="5.15"/></g><g class="o"><circle cx="575.6" cy="696.5" r="5.15"/><circle cx="528.2" cy="678.5" r="5.15"/><circle cx="617.1" cy="601.9" r="5.15"/><circle cx="560.4" cy="712.6" r="5.15"/><circle cx="591.7" cy="640.4" r="5.15"/><circle cx="567.1" cy="621.7" r="5.15"/><circle cx="615.7" cy="646.2" r="5.15"/><circle cx="520.1" cy="726" r="5.15"/><circle cx="607" cy="653" r="5.15"/><circle cx="622.4" cy="752.3" r="5.15"/><circle cx="583.3" cy="537.3" r="5.15"/><circle cx="619.1" cy="705" r="5.15"/></g><g class="g"><circle cx="646.5" cy="546.1" r="5.15"/><circle cx="623.5" cy="585.2" r="5.15"/><circle cx="656.8" cy="681.7" r="5.15"/><circle cx="696" cy="512.3" r="5.15"/><circle cx="755.7" cy="706.6" r="5.15"/><circle cx="695.9" cy="553.5" r="5.15"/><circle cx="577.8" cy="657.6" r="5.15"/><circle cx="657.7" cy="566.9" r="5.15"/><circle cx="636.6" cy="693.9" r="5.15"/><circle cx="656" cy="630.7" r="5.15"/><circle cx="647.8" cy="626" r="5.15"/><circle cx="716.7" cy="581.7" r="5.15"/></g><g class="o"><circle cx="584.1" cy="650.1" r="5.15"/><circle cx="563.7" cy="603.3" r="5.15"/><circle cx="575.8" cy="683.5" r="5.15"/><circle cx="525.8" cy="637" r="5.15"/><circle cx="593.8" cy="640.5" r="5.15"/><circle cx="588.2" cy="666.9" r="5.15"/><circle cx="616.2" cy="814.2" r="5.15"/><circle cx="579.7" cy="634" r="5.15"/><circle cx="528.4" cy="643.2" r="5.15"/><circle cx="543.4" cy="641.3" r="5.15"/><circle cx="601.6" cy="673.7" r="5.15"/><circle cx="554.6" cy="659.4" r="5.15"/><circle cx="562.1" cy="583.4" r="5.15"/><circle cx="622.9" cy="622.7" r="5.15"/><circle cx="549.9" cy="578.5" r="5.15"/><circle cx="600.1" cy="639.5" r="5.15"/></g><g class="g"><circle cx="703.1" cy="628.1" r="5.15"/><circle cx="689" cy="597.3" r="5.15"/><circle cx="691.5" cy="656.1" r="5.15"/><circle cx="556.9" cy="654" r="5.15"/><circle cx="696.3" cy="597" r="5.15"/><circle cx="544.8" cy="698.7" r="5.15"/><circle cx="732.5" cy="573.1" r="5.15"/><circle cx="655" cy="612.7" r="5.15"/></g><g class="o"><circle cx="614.5" cy="645.4" r="5.15"/><circle cx="553.9" cy="674.4" r="5.15"/><circle cx="656.4" cy="560.6" r="5.15"/><circle cx="571.1" cy="659.8" r="5.15"/><circle cx="518.7" cy="592.4" r="5.15"/><circle cx="582.3" cy="584.6" r="5.15"/><circle cx="621.3" cy="631.6" r="5.15"/><circle cx="587.9" cy="653.9" r="5.15"/><circle cx="625.9" cy="609.9" r="5.15"/><circle cx="611.2" cy="603.1" r="5.15"/><circle cx="578" cy="583.9" r="5.15"/><circle cx="579.3" cy="669.3" r="5.15"/></g><g class="g"><circle cx="666.9" cy="589.5" r="5.15"/><circle cx="769.6" cy="586.5" r="5.15"/><circle cx="757" cy="634.6" r="5.15"/><circle cx="642.6" cy="668.6" r="5.15"/><circle cx="665.7" cy="671" r="5.15"/><circle cx="765.3" cy="521.2" r="5.15"/><circle cx="675.8" cy="695" r="5.15"/><circle cx="666.2" cy="662.7" r="5.15"/><circle cx="692" cy="492.3" r="5.15"/><circle cx="702.1" cy="672.6" r="5.15"/><circle cx="708.8" cy="536.5" r="5.15"/><circle cx="600.6" cy="621.2" r="5.15"/></g><g class="o"><circle cx="614.5" cy="580.4" r="5.15"/><circle cx="592" cy="579.2" r="5.15"/><circle cx="569.2" cy="735.2" r="5.15"/><circle cx="560.5" cy="701.7" r="5.15"/><circle cx="587.3" cy="656.5" r="5.15"/><circle cx="628.9" cy="625.1" r="5.15"/><circle cx="583.4" cy="638.7" r="5.15"/><circle cx="613.8" cy="551.1" r="5.15"/><circle cx="609.1" cy="639.7" r="5.15"/><circle cx="582.9" cy="611.7" r="5.15"/></g><g class="g"><circle cx="704.1" cy="593.6" r="5.15"/><circle cx="593.9" cy="705.7" r="5.15"/><circle cx="662" cy="651.1" r="5.15"/><circle cx="644.7" cy="681.8" r="5.15"/><circle cx="687.3" cy="764.6" r="5.15"/><circle cx="647.5" cy="593" r="5.15"/><circle cx="575.3" cy="591.6" r="5.15"/><circle cx="659.2" cy="566.8" r="5.15"/><circle cx="667.7" cy="547.9" r="5.15"/><circle cx="689" cy="578.7" r="5.15"/><circle cx="686" cy="564.5" r="5.15"/><circle cx="653.3" cy="626.1" r="5.15"/><circle cx="684.5" cy="520.9" r="5.15"/><circle cx="684.8" cy="617.8" r="5.15"/></g><g class="o"><circle cx="676.8" cy="693.6" r="5.15"/><circle cx="518.2" cy="588.3" r="5.15"/><circle cx="588.6" cy="677.2" r="5.15"/><circle cx="543.3" cy="618.6" r="5.15"/><circle cx="605.4" cy="644" r="5.15"/><circle cx="541.7" cy="625.4" r="5.15"/><circle cx="577.2" cy="695.2" r="5.15"/><circle cx="574" cy="579.2" r="5.15"/><circle cx="562.4" cy="677.5" r="5.15"/><circle cx="518.9" cy="729.8" r="5.15"/><circle cx="633.8" cy="655.5" r="5.15"/><circle cx="587.1" cy="590.6" r="5.15"/><circle cx="534.6" cy="613" r="5.15"/><circle cx="585.4" cy="571.9" r="5.15"/><circle cx="618.6" cy="650.1" r="5.15"/><circle cx="647.5" cy="654.6" r="5.15"/></g><g class="g"><circle cx="736.7" cy="541" r="5.15"/><circle cx="545.8" cy="595.3" r="5.15"/><circle cx="626.8" cy="650.3" r="5.15"/><circle cx="708.3" cy="599.2" r="5.15"/><circle cx="760.8" cy="571.7" r="5.15"/><circle cx="692.7" cy="729.7" r="5.15"/><circle cx="674.4" cy="513.7" r="5.15"/><circle cx="597.8" cy="546" r="5.15"/></g><g class="o"><circle cx="633.4" cy="611.6" r="5.15"/><circle cx="647.8" cy="672.2" r="5.15"/><circle cx="550.3" cy="652.8" r="5.15"/><circle cx="572.2" cy="681.8" r="5.15"/><circle cx="562" cy="602" r="5.15"/><circle cx="554.7" cy="744.5" r="5.15"/><circle cx="562.8" cy="575.2" r="5.15"/><circle cx="520.3" cy="543.5" r="5.15"/><circle cx="569.1" cy="599" r="5.15"/></g><g class="g"><circle cx="608.7" cy="580.5" r="5.15"/><circle cx="664.7" cy="667.3" r="5.15"/><circle cx="725.9" cy="633" r="5.15"/><circle cx="715.4" cy="568" r="5.15"/><circle cx="708.1" cy="623.4" r="5.15"/><circle cx="617.8" cy="598.3" r="5.15"/><circle cx="663.9" cy="608.4" r="5.15"/><circle cx="612.5" cy="627.1" r="5.15"/><circle cx="678.7" cy="565.7" r="5.15"/><circle cx="644.4" cy="661.6" r="5.15"/><circle cx="683.6" cy="578.4" r="5.15"/><circle cx="700.1" cy="592.3" r="5.15"/><circle cx="750.8" cy="610.3" r="5.15"/><circle cx="725.9" cy="658.8" r="5.15"/><circle cx="567.5" cy="598.6" r="5.15"/></g><g class="o"><circle cx="598.6" cy="664.5" r="5.15"/><circle cx="605.8" cy="694.8" r="5.15"/><circle cx="585.7" cy="523.3" r="5.15"/><circle cx="586.5" cy="586.9" r="5.15"/><circle cx="636.4" cy="561.5" r="5.15"/><circle cx="612.5" cy="679.1" r="5.15"/><circle cx="652.2" cy="584.1" r="5.15"/><circle cx="603.9" cy="570.9" r="5.15"/><circle cx="524.1" cy="582.9" r="5.15"/><circle cx="561.4" cy="665.6" r="5.15"/><circle cx="582.8" cy="664.4" r="5.15"/></g><g class="g"><circle cx="734" cy="597" r="5.15"/><circle cx="700.5" cy="603.6" r="5.15"/><circle cx="717.6" cy="495.2" r="5.15"/><circle cx="647.2" cy="564.4" r="5.15"/><circle cx="697.3" cy="657.2" r="5.15"/><circle cx="658" cy="565.9" r="5.15"/><circle cx="662.4" cy="550" r="5.15"/><circle cx="667.2" cy="599.2" r="5.15"/><circle cx="617.8" cy="621.1" r="5.15"/><circle cx="773.9" cy="642.7" r="5.15"/><circle cx="623.7" cy="532.7" r="5.15"/><circle cx="615.3" cy="606.2" r="5.15"/><circle cx="666.7" cy="561.2" r="5.15"/></g><g class="o"><circle cx="539.8" cy="593.6" r="5.15"/><circle cx="561.2" cy="637.9" r="5.15"/><circle cx="555.7" cy="664.8" r="5.15"/><circle cx="639.7" cy="668.1" r="5.15"/><circle cx="600.6" cy="672.3" r="5.15"/><circle cx="519.5" cy="632.9" r="5.15"/><circle cx="570.3" cy="613.3" r="5.15"/><circle cx="619.9" cy="671.8" r="5.15"/><circle cx="595.5" cy="646.3" r="5.15"/></g><g class="g"><circle cx="675.3" cy="615.3" r="5.15"/><circle cx="676.7" cy="617.1" r="5.15"/><circle cx="701.4" cy="690.1" r="5.15"/><circle cx="688.4" cy="563.2" r="5.15"/><circle cx="794.2" cy="628.2" r="5.15"/><circle cx="606.5" cy="515.3" r="5.15"/><circle cx="695.3" cy="683" r="5.15"/><circle cx="547.1" cy="693" r="5.15"/><circle cx="699.4" cy="594.5" r="5.15"/><circle cx="690.7" cy="576.6" r="5.15"/><circle cx="725.2" cy="544.9" r="5.15"/><circle cx="580.1" cy="618.8" r="5.15"/><circle cx="679.6" cy="629.8" r="5.15"/><circle cx="603" cy="519.3" r="5.15"/><circle cx="693.3" cy="606.6" r="5.15"/></g><g class="o"><circle cx="608.6" cy="658.7" r="5.15"/><circle cx="593.2" cy="657.6" r="5.15"/><circle cx="576.7" cy="662.7" r="5.15"/><circle cx="556.9" cy="651.5" r="5.15"/><circle cx="560.1" cy="621.9" r="5.15"/><circle cx="583.3" cy="626.7" r="5.15"/><circle cx="578" cy="571.1" r="5.15"/><circle cx="598.8" cy="649.6" r="5.15"/><circle cx="560.6" cy="592.9" r="5.15"/><circle cx="563" cy="701.4" r="5.15"/><circle cx="552.2" cy="671" r="5.15"/><circle cx="572.2" cy="622.8" r="5.15"/></g><g class="g"><circle cx="670.4" cy="533.4" r="5.15"/><circle cx="748.1" cy="620.6" r="5.15"/><circle cx="560.7" cy="583.9" r="5.15"/><circle cx="686.9" cy="646" r="5.15"/><circle cx="673.1" cy="627.2" r="5.15"/><circle cx="692.1" cy="545.1" r="5.15"/><circle cx="702.2" cy="578.4" r="5.15"/><circle cx="779.7" cy="590.8" r="5.15"/><circle cx="755.4" cy="621" r="5.15"/><circle cx="690.3" cy="635.9" r="5.15"/><circle cx="688.5" cy="602.1" r="5.15"/><circle cx="662.9" cy="591.5" r="5.15"/></g><g class="o"><circle cx="558.1" cy="706.2" r="5.15"/><circle cx="588.2" cy="595.2" r="5.15"/><circle cx="610.1" cy="671.7" r="5.15"/><circle cx="599.2" cy="668.5" r="5.15"/><circle cx="575.1" cy="547.5" r="5.15"/><circle cx="548.7" cy="657.6" r="5.15"/><circle cx="594.3" cy="612.1" r="5.15"/><circle cx="583.2" cy="565.2" r="5.15"/><circle cx="546.3" cy="647.3" r="5.15"/><circle cx="559.6" cy="748.9" r="5.15"/><circle cx="641.9" cy="665.3" r="5.15"/></g><g class="g"><circle cx="694.9" cy="633.1" r="5.15"/><circle cx="659.9" cy="526.9" r="5.15"/><circle cx="720" cy="605.9" r="5.15"/><circle cx="620" cy="551.7" r="5.15"/><circle cx="750.5" cy="554.3" r="5.15"/><circle cx="662.1" cy="525.4" r="5.15"/><circle cx="728.2" cy="603.3" r="5.15"/><circle cx="762.8" cy="567" r="5.15"/><circle cx="596.5" cy="546.2" r="5.15"/><circle cx="670.4" cy="583.2" r="5.15"/><circle cx="682.4" cy="576.3" r="5.15"/><circle cx="670.2" cy="543.8" r="5.15"/><circle cx="671" cy="641.2" r="5.15"/></g><g class="o"><circle cx="567.9" cy="715.5" r="5.15"/><circle cx="546" cy="623.9" r="5.15"/><circle cx="667.1" cy="649.9" r="5.15"/><circle cx="575.5" cy="738.7" r="5.15"/><circle cx="577.8" cy="622" r="5.15"/><circle cx="547.3" cy="560.9" r="5.15"/><circle cx="560.6" cy="612.7" r="5.15"/><circle cx="586.6" cy="614.6" r="5.15"/><circle cx="519" cy="544.8" r="5.15"/><circle cx="604.1" cy="675.8" r="5.15"/></g><g class="g"><circle cx="668.9" cy="576" r="5.15"/><circle cx="626" cy="781.9" r="5.15"/><circle cx="683.1" cy="611.9" r="5.15"/><circle cx="633.1" cy="634.4" r="5.15"/><circle cx="653.3" cy="626.1" r="5.15"/><circle cx="770.1" cy="636.7" r="5.15"/><circle cx="677.3" cy="672.4" r="5.15"/><circle cx="635.8" cy="554.8" r="5.15"/><circle cx="735.1" cy="489.1" r="5.15"/><circle cx="642.2" cy="510.9" r="5.15"/><circle cx="692.1" cy="551.2" r="5.15"/><circle cx="727.7" cy="571.3" r="5.15"/><circle cx="671.8" cy="638" r="5.15"/><circle cx="601.4" cy="585.7" r="5.15"/></g><g class="o"><circle cx="565.2" cy="595.9" r="5.15"/><circle cx="614.5" cy="620.6" r="5.15"/><circle cx="572.7" cy="636.6" r="5.15"/><circle cx="597.7" cy="695.8" r="5.15"/><circle cx="606.3" cy="611.5" r="5.15"/><circle cx="582.2" cy="597" r="5.15"/><circle cx="587" cy="680.7" r="5.15"/><circle cx="562.5" cy="541.9" r="5.15"/><circle cx="614.7" cy="503.6" r="5.15"/><circle cx="596.8" cy="641.5" r="5.15"/><circle cx="622.1" cy="654.3" r="5.15"/><circle cx="595.6" cy="638.1" r="5.15"/><circle cx="636.3" cy="660" r="5.15"/></g><g class="g"><circle cx="553.5" cy="583.2" r="5.15"/><circle cx="698" cy="604" r="5.15"/><circle cx="663.1" cy="543.8" r="5.15"/><circle cx="577.9" cy="579.6" r="5.15"/><circle cx="670.4" cy="661.1" r="5.15"/><circle cx="783.9" cy="539.8" r="5.15"/><circle cx="727.3" cy="709.5" r="5.15"/><circle cx="747.3" cy="608.1" r="5.15"/><circle cx="708.4" cy="689.6" r="5.15"/><circle cx="630.1" cy="545.5" r="5.15"/><circle cx="633.7" cy="542.8" r="5.15"/></g><g class="o"><circle cx="592.4" cy="606.4" r="5.15"/><circle cx="606.2" cy="643.9" r="5.15"/><circle cx="552.5" cy="627.4" r="5.15"/><circle cx="630.2" cy="630.5" r="5.15"/><circle cx="538.8" cy="621.7" r="5.15"/><circle cx="598.7" cy="675.3" r="5.15"/><circle cx="571.3" cy="663.3" r="5.15"/><circle cx="561.2" cy="748.9" r="5.15"/><circle cx="541.3" cy="625.5" r="5.15"/><circle cx="581.4" cy="638.6" r="5.15"/><circle cx="547.4" cy="645.1" r="5.15"/><circle cx="538" cy="630.8" r="5.15"/><circle cx="538.2" cy="614" r="5.15"/><circle cx="602.9" cy="700.9" r="5.15"/><circle cx="518.7" cy="701.7" r="5.15"/><circle cx="560" cy="590.2" r="5.15"/><circle cx="590.1" cy="614.1" r="5.15"/></g><g class="g"><circle cx="686.3" cy="608" r="5.15"/><circle cx="673.2" cy="631.7" r="5.15"/><circle cx="632" cy="600.4" r="5.15"/><circle cx="796.7" cy="678.6" r="5.15"/><circle cx="716.9" cy="704.4" r="5.15"/><circle cx="725.1" cy="619.4" r="5.15"/><circle cx="664.7" cy="566.9" r="5.15"/></g><g class="o"><circle cx="569.5" cy="563.2" r="5.15"/><circle cx="588.6" cy="604.3" r="5.15"/><circle cx="533.5" cy="517.7" r="5.15"/><circle cx="608" cy="682.6" r="5.15"/><circle cx="575.8" cy="750.1" r="5.15"/><circle cx="543.5" cy="625.4" r="5.15"/><circle cx="588.8" cy="650.4" r="5.15"/><circle cx="569" cy="581.5" r="5.15"/><circle cx="640" cy="668.6" r="5.15"/><circle cx="555.3" cy="626.5" r="5.15"/><circle cx="652.1" cy="567" r="5.15"/><circle cx="591.4" cy="594.8" r="5.15"/></g><g class="g"><circle cx="672" cy="637.1" r="5.15"/><circle cx="645.8" cy="657.5" r="5.15"/><circle cx="711.4" cy="672.8" r="5.15"/><circle cx="674.5" cy="531.7" r="5.15"/><circle cx="605" cy="612.3" r="5.15"/><circle cx="671.7" cy="587.6" r="5.15"/><circle cx="782.4" cy="656.4" r="5.15"/><circle cx="779.1" cy="633.7" r="5.15"/><circle cx="610.6" cy="616.2" r="5.15"/><circle cx="706.8" cy="629.8" r="5.15"/><circle cx="595.5" cy="632.6" r="5.15"/><circle cx="667.3" cy="594.8" r="5.15"/></g><g class="o"><circle cx="604.7" cy="608.7" r="5.15"/><circle cx="610.8" cy="687.5" r="5.15"/><circle cx="628.7" cy="708.1" r="5.15"/><circle cx="562.2" cy="724.4" r="5.15"/><circle cx="699.3" cy="645.6" r="5.15"/><circle cx="626.2" cy="588.4" r="5.15"/><circle cx="631.3" cy="634.8" r="5.15"/><circle cx="561.9" cy="636.9" r="5.15"/><circle cx="533.2" cy="685.8" r="5.15"/><circle cx="606.2" cy="561.4" r="5.15"/></g><g class="g"><circle cx="641.5" cy="584.9" r="5.15"/><circle cx="613.3" cy="583" r="5.15"/><circle cx="687.9" cy="626.4" r="5.15"/><circle cx="679.7" cy="555.2" r="5.15"/><circle cx="776.8" cy="524.5" r="5.15"/><circle cx="707" cy="592.6" r="5.15"/><circle cx="734.9" cy="644.5" r="5.15"/><circle cx="643.9" cy="653" r="5.15"/><circle cx="630.6" cy="544.3" r="5.15"/><circle cx="708.2" cy="749.2" r="5.15"/><circle cx="663.8" cy="677.4" r="5.15"/><circle cx="722.1" cy="544.4" r="5.15"/><circle cx="642.3" cy="603.9" r="5.15"/><circle cx="622.9" cy="555.2" r="5.15"/></g><g class="o"><circle cx="625.9" cy="646.4" r="5.15"/><circle cx="560.4" cy="651.6" r="5.15"/><circle cx="597.2" cy="577.6" r="5.15"/><circle cx="567.6" cy="614.5" r="5.15"/><circle cx="600.7" cy="574.7" r="5.15"/><circle cx="518.2" cy="549.3" r="5.15"/><circle cx="588.1" cy="753.2" r="5.15"/><circle cx="533.7" cy="579.4" r="5.15"/><circle cx="519.8" cy="749.1" r="5.15"/></g><g class="g"><circle cx="645" cy="547.3" r="5.15"/><circle cx="629.2" cy="599.2" r="5.15"/><circle cx="638.3" cy="575.4" r="5.15"/><circle cx="712.3" cy="585" r="5.15"/><circle cx="712.8" cy="568.9" r="5.15"/><circle cx="744.9" cy="618" r="5.15"/><circle cx="708.9" cy="609.9" r="5.15"/><circle cx="669.2" cy="675.1" r="5.15"/><circle cx="623.6" cy="638.9" r="5.15"/><circle cx="717.1" cy="642.7" r="5.15"/><circle cx="660.4" cy="526.8" r="5.15"/><circle cx="625.8" cy="623.1" r="5.15"/><circle cx="606.8" cy="550.1" r="5.15"/><circle cx="653.6" cy="528.6" r="5.15"/><circle cx="572.6" cy="718.5" r="5.15"/></g><g class="o"><circle cx="599.8" cy="698.9" r="5.15"/><circle cx="549.9" cy="734.8" r="5.15"/><circle cx="550.7" cy="668.6" r="5.15"/><circle cx="625.7" cy="609.7" r="5.15"/><circle cx="519.3" cy="789.8" r="5.15"/><circle cx="561.8" cy="638.5" r="5.15"/><circle cx="598.1" cy="623" r="5.15"/><circle cx="602.3" cy="546.4" r="5.15"/><circle cx="578.7" cy="564.3" r="5.15"/><circle cx="519.1" cy="781.3" r="5.15"/><circle cx="580.4" cy="589.2" r="5.15"/><circle cx="625.7" cy="648.7" r="5.15"/><circle cx="543.7" cy="691.7" r="5.15"/><circle cx="594.7" cy="618.9" r="5.15"/><circle cx="551.7" cy="638.6" r="5.15"/></g><g class="g"><circle cx="667.6" cy="656.8" r="5.15"/><circle cx="654.2" cy="534.6" r="5.15"/><circle cx="719.3" cy="577" r="5.15"/><circle cx="662.4" cy="580.6" r="5.15"/><circle cx="633.5" cy="657.5" r="5.15"/><circle cx="731.6" cy="643.8" r="5.15"/><circle cx="650.8" cy="556" r="5.15"/><circle cx="686.4" cy="584.9" r="5.15"/><circle cx="664" cy="530" r="5.15"/></g><g class="o"><circle cx="519.3" cy="672.6" r="5.15"/><circle cx="636.8" cy="627.4" r="5.15"/><circle cx="574.4" cy="678.8" r="5.15"/><circle cx="583.6" cy="745.3" r="5.15"/><circle cx="526.4" cy="627" r="5.15"/><circle cx="570.6" cy="716.2" r="5.15"/><circle cx="586.6" cy="652.9" r="5.15"/><circle cx="559.5" cy="638" r="5.15"/><circle cx="616.9" cy="656.6" r="5.15"/><circle cx="636" cy="601.9" r="5.15"/></g><g class="g"><circle cx="703.8" cy="700.5" r="5.15"/><circle cx="649.3" cy="623" r="5.15"/><circle cx="668.5" cy="584.5" r="5.15"/><circle cx="615.5" cy="625.5" r="5.15"/><circle cx="637.4" cy="502.5" r="5.15"/><circle cx="718" cy="594.2" r="5.15"/><circle cx="668.9" cy="605.1" r="5.15"/><circle cx="684.3" cy="753.2" r="5.15"/><circle cx="749.8" cy="588.7" r="5.15"/><circle cx="713.1" cy="518.3" r="5.15"/><circle cx="664.1" cy="583.3" r="5.15"/><circle cx="700.7" cy="538.1" r="5.15"/><circle cx="697" cy="588.6" r="5.15"/><circle cx="587.7" cy="550.4" r="5.15"/></g><g class="o"><circle cx="544.3" cy="706" r="5.15"/><circle cx="603.1" cy="655.9" r="5.15"/><circle cx="552.6" cy="722.4" r="5.15"/><circle cx="553.4" cy="682.5" r="5.15"/><circle cx="629.7" cy="593.2" r="5.15"/><circle cx="642.3" cy="583.6" r="5.15"/><circle cx="593.6" cy="735.9" r="5.15"/><circle cx="527.3" cy="527.5" r="5.15"/><circle cx="551.9" cy="656.6" r="5.15"/><circle cx="519.3" cy="771.7" r="5.15"/></g><g class="g"><circle cx="653.3" cy="633.9" r="5.15"/><circle cx="683.7" cy="619.9" r="5.15"/><circle cx="678.9" cy="622.2" r="5.15"/><circle cx="732.9" cy="521.4" r="5.15"/><circle cx="661.1" cy="577.6" r="5.15"/><circle cx="678.5" cy="529.2" r="5.15"/><circle cx="648.6" cy="602" r="5.15"/><circle cx="618.7" cy="689.3" r="5.15"/><circle cx="691.3" cy="604.4" r="5.15"/><circle cx="729.9" cy="598.4" r="5.15"/><circle cx="628.1" cy="625.7" r="5.15"/><circle cx="680.3" cy="635.8" r="5.15"/><circle cx="708.7" cy="711.1" r="5.15"/><circle cx="740.1" cy="602.7" r="5.15"/></g><g class="o"><circle cx="593.8" cy="685.1" r="5.15"/><circle cx="569.9" cy="560.9" r="5.15"/><circle cx="519" cy="593.9" r="5.15"/><circle cx="566.3" cy="724.1" r="5.15"/><circle cx="593.1" cy="624.9" r="5.15"/><circle cx="598.4" cy="681.4" r="5.15"/><circle cx="547.8" cy="683.2" r="5.15"/><circle cx="520.2" cy="757.3" r="5.15"/><circle cx="594.8" cy="578.1" r="5.15"/><circle cx="546.8" cy="640.4" r="5.15"/><circle cx="519.8" cy="696.1" r="5.15"/><circle cx="555.5" cy="655.3" r="5.15"/><circle cx="612" cy="680.2" r="5.15"/><circle cx="561.7" cy="730.2" r="5.15"/></g><g class="g"><circle cx="671.6" cy="563.5" r="5.15"/><circle cx="695.6" cy="632.2" r="5.15"/><circle cx="682.5" cy="603.7" r="5.15"/><circle cx="615.2" cy="597.7" r="5.15"/><circle cx="728.8" cy="516.3" r="5.15"/><circle cx="600.6" cy="552.1" r="5.15"/><circle cx="695.4" cy="581" r="5.15"/><circle cx="725.4" cy="567.2" r="5.15"/><circle cx="662.4" cy="537.5" r="5.15"/><circle cx="705.6" cy="569.8" r="5.15"/></g><g class="o"><circle cx="602.2" cy="624.6" r="5.15"/><circle cx="596" cy="626.8" r="5.15"/><circle cx="628.8" cy="705.9" r="5.15"/><circle cx="574.5" cy="647.1" r="5.15"/><circle cx="574.8" cy="677.4" r="5.15"/><circle cx="656.2" cy="715.2" r="5.15"/><circle cx="580.6" cy="694.5" r="5.15"/><circle cx="586.2" cy="588.1" r="5.15"/><circle cx="572.6" cy="615.1" r="5.15"/><circle cx="530.4" cy="588.4" r="5.15"/></g><g class="g"><circle cx="686.9" cy="577.2" r="5.15"/><circle cx="691.2" cy="639" r="5.15"/><circle cx="728.9" cy="621.8" r="5.15"/><circle cx="694.5" cy="627.5" r="5.15"/><circle cx="636.9" cy="613.4" r="5.15"/><circle cx="693.5" cy="618.1" r="5.15"/><circle cx="673.9" cy="623.6" r="5.15"/><circle cx="767.4" cy="585.6" r="5.15"/><circle cx="660.2" cy="531.8" r="5.15"/><circle cx="643.9" cy="570.8" r="5.15"/><circle cx="599.8" cy="539.6" r="5.15"/><circle cx="694.8" cy="603.6" r="5.15"/><circle cx="800.4" cy="689" r="5.15"/><circle cx="596.9" cy="617.5" r="5.15"/></g><g class="o"><circle cx="635.8" cy="709.4" r="5.15"/><circle cx="519.4" cy="694.8" r="5.15"/><circle cx="544.7" cy="645.7" r="5.15"/><circle cx="622" cy="648.3" r="5.15"/><circle cx="602.5" cy="592.5" r="5.15"/><circle cx="577" cy="654.9" r="5.15"/><circle cx="551.4" cy="640" r="5.15"/><circle cx="594.9" cy="570.7" r="5.15"/><circle cx="518.8" cy="780.9" r="5.15"/></g><g class="g"><circle cx="700.5" cy="591.3" r="5.15"/><circle cx="692.3" cy="647.5" r="5.15"/><circle cx="708" cy="616.7" r="5.15"/><circle cx="693.6" cy="620.7" r="5.15"/><circle cx="675.5" cy="565.5" r="5.15"/><circle cx="692" cy="631.7" r="5.15"/><circle cx="724.1" cy="615.3" r="5.15"/></g>
<path d="M499.2 650.7 L507.1 650.2 L515 649.7 L522.9 649.1 L530.8 648.6 L538.7 648 L546.6 647.5 L554.6 646.9 L562.5 646.2 L570.4 645.5 L578.3 644.7 L586.2 643.8 L594.1 642.7 L602 641.3 L609.9 639.6 L617.8 637.6 L625.8 635.3 L633.7 632.8 L641.6 630.2 L649.5 627.5 L657.4 624.8 L665.3 622 L673.2 619.1 L681.1 616.3 L689 613.4 L696.9 610.5 L704.9 607.7 L712.8 604.8 L720.7 601.9 L728.6 599 L736.5 596.1 L744.4 593.1 L752.3 590.2 L760.2 587.3 L768.1 584.4 L776 581.5 L784 578.6 L791.9 575.6 L799.8 572.7 L807.7 569.8 L815.6 566.9 L815.6 632.9 L807.7 633.4 L799.8 633.9 L791.9 634.4 L784 634.9 L776 635.4 L768.1 635.8 L760.2 636.3 L752.3 636.8 L744.4 637.3 L736.5 637.8 L728.6 638.3 L720.7 638.8 L712.8 639.3 L704.9 639.8 L696.9 640.3 L689 640.9 L681.1 641.4 L673.2 642 L665.3 642.5 L657.4 643.1 L649.5 643.8 L641.6 644.5 L633.7 645.3 L625.8 646.2 L617.8 647.3 L609.9 648.7 L602 650.4 L594.1 652.4 L586.2 654.7 L578.3 657.2 L570.4 659.8 L562.5 662.5 L554.6 665.3 L546.6 668.1 L538.7 670.9 L530.8 673.8 L522.9 676.6 L515 679.5 L507.1 682.4 L499.2 685.3Z" fill="#D46600" fill-opacity=".2"/>
<path d="M499.2 609.9 L507.1 610.2 L515 610.6 L522.9 610.9 L530.8 611.2 L538.7 611.6 L546.6 611.9 L554.6 612.2 L562.5 612.4 L570.4 612.7 L578.3 612.9 L586.2 613.2 L594.1 613.3 L602 613.4 L609.9 613.5 L617.8 613.5 L625.8 613.3 L633.7 613.1 L641.6 612.7 L649.5 612.2 L657.4 611.5 L665.3 610.8 L673.2 610 L681.1 609.1 L689 608.1 L696.9 607.2 L704.9 606.2 L712.8 605.1 L720.7 604.1 L728.6 603 L736.5 601.9 L744.4 600.8 L752.3 599.7 L760.2 598.6 L768.1 597.5 L776 596.4 L784 595.2 L791.9 594.1 L799.8 593 L807.7 591.8 L815.6 590.7 L815.6 626.6 L807.7 626.2 L799.8 625.9 L791.9 625.5 L784 625.2 L776 624.8 L768.1 624.5 L760.2 624.2 L752.3 623.8 L744.4 623.5 L736.5 623.2 L728.6 622.9 L720.7 622.6 L712.8 622.3 L704.9 622 L696.9 621.8 L689 621.6 L681.1 621.4 L673.2 621.3 L665.3 621.3 L657.4 621.3 L649.5 621.5 L641.6 621.7 L633.7 622.1 L625.8 622.6 L617.8 623.3 L609.9 624 L602 624.9 L594.1 625.8 L586.2 626.7 L578.3 627.7 L570.4 628.7 L562.5 629.7 L554.6 630.8 L546.6 631.9 L538.7 633 L530.8 634 L522.9 635.2 L515 636.3 L507.1 637.4 L499.2 638.5Z" fill="#235A24" fill-opacity=".2"/>
<path class="ln" d="M499.2 668L815.6 599.9" stroke="#D46600"/>
<path class="ln" d="M499.2 624.2L815.6 608.6" stroke="#235A24"/>
<rect class="bd" x="484.1" y="456.0" width="346.9" height="445.9"/>
<path class="tm" d="M499.2 901.9v-7.3M562.5 901.9v-7.3M625.8 901.9v-7.3M689 901.9v-7.3M752.3 901.9v-7.3M815.6 901.9v-7.3M484.1 507.1h7.3M484.1 632.2h7.3M484.1 757.3h7.3M484.1 882.3h7.3"/>
<g class="tk"><text x="499.2" y="919.9" text-anchor="middle">−2</text><text x="562.5" y="919.9" text-anchor="middle">−1</text><text x="625.8" y="919.9" text-anchor="middle">0</text><text x="689" y="919.9" text-anchor="middle">1</text><text x="752.3" y="919.9" text-anchor="middle">2</text><text x="815.6" y="919.9" text-anchor="middle">3</text><text x="481.3" y="513.9" text-anchor="end">2</text><text x="481.3" y="639.0" text-anchor="end">0</text><text x="481.3" y="764.1" text-anchor="end">−2</text><text x="481.3" y="889.1" text-anchor="end">−4</text></g>
<text class="an" x="499.5" y="489.9">DVT<tspan x="543.2">×</tspan><tspan x="559.5">FD</tspan><tspan font-size="14.00" dy="3.4">is</tspan><tspan x="595.8" dy="-3.4">_PS:</tspan><tspan class="it" x="643.7">F</tspan><tspan x="659.3">=</tspan><tspan x="677">3.33,</tspan><tspan class="it" x="725.7">P</tspan><tspan x="742.5">=</tspan><tspan x="759.2">0.068</tspan></text>
<text class="lb" x="453.6" y="488.8" font-size="40.8">g</text>
</g>
<g id="panel-h">
<g class="o"><circle cx="1093.3" cy="610" r="5.15"/><circle cx="1067.2" cy="649.7" r="5.15"/><circle cx="1056.3" cy="613.4" r="5.15"/><circle cx="1079.4" cy="673.5" r="5.15"/><circle cx="1060.6" cy="542.4" r="5.15"/><circle cx="1076.9" cy="601.3" r="5.15"/><circle cx="1099.3" cy="685.3" r="5.15"/><circle cx="1072.6" cy="655.1" r="5.15"/><circle cx="1094.7" cy="647.4" r="5.15"/><circle cx="1038" cy="614.3" r="5.15"/><circle cx="1089.9" cy="637.1" r="5.15"/><circle cx="1044.4" cy="654.7" r="5.15"/><circle cx="1086.9" cy="805.6" r="5.15"/></g><g class="g"><circle cx="1064.6" cy="542.6" r="5.15"/><circle cx="1073.7" cy="619.5" r="5.15"/><circle cx="1050.7" cy="610" r="5.15"/><circle cx="1061.4" cy="565.9" r="5.15"/><circle cx="1065.5" cy="712.4" r="5.15"/><circle cx="1042.5" cy="683.7" r="5.15"/><circle cx="972.6" cy="584.3" r="5.15"/><circle cx="1041.1" cy="602.9" r="5.15"/><circle cx="1037.6" cy="647.4" r="5.15"/><circle cx="1025.7" cy="596.3" r="5.15"/><circle cx="1050.9" cy="604" r="5.15"/></g><g class="o"><circle cx="1103.3" cy="661.7" r="5.15"/><circle cx="1080.7" cy="681.9" r="5.15"/><circle cx="1061.8" cy="659.2" r="5.15"/><circle cx="1001.9" cy="701.5" r="5.15"/><circle cx="1020" cy="662.9" r="5.15"/><circle cx="1141.1" cy="567.9" r="5.15"/><circle cx="1062.5" cy="567.2" r="5.15"/><circle cx="1138.2" cy="703.1" r="5.15"/><circle cx="1021.1" cy="644.5" r="5.15"/><circle cx="1005.7" cy="633.7" r="5.15"/><circle cx="1148.4" cy="679.3" r="5.15"/><circle cx="1051.8" cy="645.5" r="5.15"/><circle cx="1114.1" cy="710.3" r="5.15"/><circle cx="1052" cy="760.5" r="5.15"/></g><g class="g"><circle cx="1001.6" cy="652.2" r="5.15"/><circle cx="1007.4" cy="667.4" r="5.15"/><circle cx="1056.2" cy="618.1" r="5.15"/><circle cx="1031.2" cy="591.2" r="5.15"/><circle cx="1039" cy="631" r="5.15"/><circle cx="981.2" cy="589.8" r="5.15"/><circle cx="1068" cy="623.9" r="5.15"/><circle cx="1043.8" cy="621.9" r="5.15"/><circle cx="1008.1" cy="654" r="5.15"/><circle cx="1033.3" cy="572.5" r="5.15"/></g><g class="o"><circle cx="1055.1" cy="559.5" r="5.15"/><circle cx="1002.5" cy="598.7" r="5.15"/><circle cx="1042.3" cy="684.2" r="5.15"/><circle cx="1106.4" cy="652.7" r="5.15"/><circle cx="1057.1" cy="596.7" r="5.15"/><circle cx="1095.5" cy="610.2" r="5.15"/><circle cx="1053.1" cy="726.1" r="5.15"/><circle cx="1089.4" cy="711.3" r="5.15"/></g><g class="g"><circle cx="1096.1" cy="597.7" r="5.15"/><circle cx="1091.5" cy="532.4" r="5.15"/><circle cx="962" cy="704.3" r="5.15"/><circle cx="1079.4" cy="621.4" r="5.15"/><circle cx="1068.8" cy="599.1" r="5.15"/><circle cx="1061.4" cy="607.2" r="5.15"/><circle cx="1024.4" cy="566.7" r="5.15"/><circle cx="1080.3" cy="583.2" r="5.15"/><circle cx="1047.2" cy="593.3" r="5.15"/><circle cx="1034.7" cy="750.6" r="5.15"/><circle cx="1087.5" cy="576.7" r="5.15"/><circle cx="910" cy="653.9" r="5.15"/><circle cx="1022.8" cy="587.7" r="5.15"/><circle cx="1043.9" cy="640.7" r="5.15"/><circle cx="1046.6" cy="594.6" r="5.15"/><circle cx="1080.9" cy="570.2" r="5.15"/></g><g class="o"><circle cx="1066.6" cy="596.2" r="5.15"/><circle cx="1059.7" cy="714.9" r="5.15"/><circle cx="1042.5" cy="648.1" r="5.15"/><circle cx="1066.7" cy="617.9" r="5.15"/><circle cx="992.4" cy="691.7" r="5.15"/><circle cx="1095.6" cy="722.9" r="5.15"/><circle cx="1069.4" cy="634.4" r="5.15"/><circle cx="1064.9" cy="536" r="5.15"/><circle cx="1094.1" cy="721.1" r="5.15"/><circle cx="1058.6" cy="685.4" r="5.15"/><circle cx="1061" cy="582.1" r="5.15"/><circle cx="1045" cy="668.3" r="5.15"/><circle cx="1169.6" cy="548.5" r="5.15"/><circle cx="1063.6" cy="679.5" r="5.15"/></g><g class="g"><circle cx="1077.5" cy="625.2" r="5.15"/><circle cx="1018.4" cy="597.2" r="5.15"/><circle cx="1091.7" cy="602" r="5.15"/><circle cx="1073.6" cy="614.5" r="5.15"/><circle cx="1060.7" cy="633.6" r="5.15"/><circle cx="1002.1" cy="544.4" r="5.15"/><circle cx="1104.4" cy="641.5" r="5.15"/><circle cx="1107.7" cy="605.1" r="5.15"/><circle cx="1116.8" cy="572.7" r="5.15"/><circle cx="1021.6" cy="612.8" r="5.15"/></g><g class="o"><circle cx="1040.4" cy="650.4" r="5.15"/><circle cx="1057.8" cy="538.6" r="5.15"/><circle cx="1104.9" cy="634.8" r="5.15"/><circle cx="1069" cy="625.1" r="5.15"/><circle cx="1051.4" cy="692.2" r="5.15"/><circle cx="1075.8" cy="659.3" r="5.15"/><circle cx="1068.3" cy="757.4" r="5.15"/><circle cx="1036.6" cy="541.8" r="5.15"/><circle cx="1053.9" cy="682.2" r="5.15"/><circle cx="1067.9" cy="641.6" r="5.15"/><circle cx="1016.9" cy="750.7" r="5.15"/><circle cx="1052.2" cy="610.4" r="5.15"/><circle cx="1006.5" cy="687.3" r="5.15"/><circle cx="1088.5" cy="800.8" r="5.15"/><circle cx="1073.1" cy="628" r="5.15"/><circle cx="1036.9" cy="659.2" r="5.15"/></g><g class="g"><circle cx="1072.4" cy="536.1" r="5.15"/><circle cx="1054.8" cy="644.7" r="5.15"/><circle cx="1048.2" cy="631.7" r="5.15"/><circle cx="1035.2" cy="625.7" r="5.15"/><circle cx="1035.9" cy="661.5" r="5.15"/><circle cx="978.8" cy="561.8" r="5.15"/><circle cx="1011.9" cy="690.3" r="5.15"/><circle cx="1036.1" cy="703.4" r="5.15"/></g><g class="o"><circle cx="1000.6" cy="776.5" r="5.15"/><circle cx="1010.5" cy="651.5" r="5.15"/><circle cx="1030.7" cy="592.5" r="5.15"/><circle cx="1028.5" cy="655.1" r="5.15"/><circle cx="1035.6" cy="669.2" r="5.15"/><circle cx="1144.6" cy="690.5" r="5.15"/><circle cx="1032.7" cy="635.4" r="5.15"/><circle cx="1060.4" cy="696.4" r="5.15"/><circle cx="1074.1" cy="628.5" r="5.15"/><circle cx="1068.2" cy="514" r="5.15"/><circle cx="1076.4" cy="747.1" r="5.15"/><circle cx="1059.7" cy="653" r="5.15"/><circle cx="993.8" cy="616.3" r="5.15"/><circle cx="1118.3" cy="609.5" r="5.15"/></g><g class="g"><circle cx="949.8" cy="653.1" r="5.15"/><circle cx="1041.6" cy="514" r="5.15"/><circle cx="1099.2" cy="577.7" r="5.15"/><circle cx="999.2" cy="649.3" r="5.15"/><circle cx="1081.1" cy="641.4" r="5.15"/><circle cx="1096.8" cy="581.7" r="5.15"/><circle cx="1083.1" cy="728.2" r="5.15"/><circle cx="1033.4" cy="610.2" r="5.15"/><circle cx="1042.8" cy="591.9" r="5.15"/><circle cx="1049.8" cy="557.8" r="5.15"/></g><g class="o"><circle cx="1089.9" cy="756.8" r="5.15"/><circle cx="1073.2" cy="532.4" r="5.15"/><circle cx="1130.7" cy="653.3" r="5.15"/><circle cx="1051.6" cy="673.2" r="5.15"/><circle cx="1047.7" cy="587.9" r="5.15"/><circle cx="1030.7" cy="576" r="5.15"/><circle cx="1036.5" cy="637.8" r="5.15"/><circle cx="1029.2" cy="779" r="5.15"/><circle cx="1068.8" cy="697" r="5.15"/><circle cx="1020.7" cy="646.1" r="5.15"/><circle cx="1062.5" cy="628" r="5.15"/><circle cx="1044.8" cy="635" r="5.15"/><circle cx="1097.3" cy="566.3" r="5.15"/><circle cx="1040.9" cy="683.9" r="5.15"/><circle cx="1005.7" cy="573.1" r="5.15"/></g><g class="g"><circle cx="1086.2" cy="563.1" r="5.15"/><circle cx="1102.3" cy="598.8" r="5.15"/><circle cx="1031.1" cy="602.9" r="5.15"/><circle cx="1091.9" cy="582.4" r="5.15"/><circle cx="1045.3" cy="611.2" r="5.15"/><circle cx="1075" cy="585.9" r="5.15"/><circle cx="1003.8" cy="583.3" r="5.15"/><circle cx="1095.5" cy="595" r="5.15"/><circle cx="1061.3" cy="634.5" r="5.15"/></g><g class="o"><circle cx="1050.4" cy="593" r="5.15"/><circle cx="1105" cy="674" r="5.15"/><circle cx="1015.5" cy="599.5" r="5.15"/><circle cx="1071.6" cy="680.7" r="5.15"/><circle cx="1090.6" cy="570" r="5.15"/><circle cx="1026.4" cy="589.3" r="5.15"/><circle cx="1023.7" cy="663.6" r="5.15"/><circle cx="1056.6" cy="610.6" r="5.15"/><circle cx="1140.5" cy="664.6" r="5.15"/><circle cx="1102.3" cy="637.6" r="5.15"/></g><g class="g"><circle cx="1108.4" cy="570" r="5.15"/><circle cx="992.7" cy="698.5" r="5.15"/><circle cx="1097.3" cy="591.7" r="5.15"/><circle cx="1034" cy="620.6" r="5.15"/><circle cx="1010.7" cy="720.2" r="5.15"/><circle cx="1059.4" cy="578.4" r="5.15"/><circle cx="1083.2" cy="644.5" r="5.15"/><circle cx="1079.5" cy="570.4" r="5.15"/><circle cx="1033.3" cy="641.9" r="5.15"/><circle cx="1104.9" cy="628.1" r="5.15"/><circle cx="1070.2" cy="638.8" r="5.15"/><circle cx="1074" cy="543.2" r="5.15"/><circle cx="1012.1" cy="590.5" r="5.15"/><circle cx="1091.3" cy="538.6" r="5.15"/></g><g class="o"><circle cx="1066.3" cy="709.5" r="5.15"/><circle cx="1090.6" cy="603.5" r="5.15"/><circle cx="1031.3" cy="630.7" r="5.15"/><circle cx="1027.1" cy="570.6" r="5.15"/><circle cx="1104.6" cy="631.3" r="5.15"/><circle cx="1038.5" cy="691.5" r="5.15"/><circle cx="1064.3" cy="593.1" r="5.15"/><circle cx="1045" cy="674.8" r="5.15"/><circle cx="1120.3" cy="559.6" r="5.15"/><circle cx="1123.6" cy="664" r="5.15"/><circle cx="1023.7" cy="670.8" r="5.15"/><circle cx="1047.2" cy="715.9" r="5.15"/><circle cx="1102.8" cy="684.9" r="5.15"/></g><g class="g"><circle cx="928.4" cy="551.3" r="5.15"/><circle cx="1064.8" cy="663.5" r="5.15"/><circle cx="1018.8" cy="552.7" r="5.15"/><circle cx="1056" cy="686.7" r="5.15"/><circle cx="1045.2" cy="603.8" r="5.15"/><circle cx="1043.3" cy="660.8" r="5.15"/><circle cx="1028.6" cy="559.5" r="5.15"/><circle cx="1130.9" cy="685" r="5.15"/><circle cx="1055.1" cy="580.7" r="5.15"/><circle cx="1040.9" cy="648.3" r="5.15"/><circle cx="1020.9" cy="560.4" r="5.15"/></g><g class="o"><circle cx="1068.7" cy="546.4" r="5.15"/><circle cx="1089.2" cy="579.5" r="5.15"/><circle cx="1128.6" cy="549.9" r="5.15"/><circle cx="1065.5" cy="642.1" r="5.15"/><circle cx="1038.7" cy="559" r="5.15"/><circle cx="1120" cy="593.4" r="5.15"/><circle cx="992.3" cy="648.9" r="5.15"/><circle cx="1076.5" cy="588.6" r="5.15"/><circle cx="1070.2" cy="611.8" r="5.15"/><circle cx="1098.5" cy="750.5" r="5.15"/><circle cx="1037.9" cy="680.3" r="5.15"/><circle cx="1084.3" cy="662.6" r="5.15"/><circle cx="1039.2" cy="617.8" r="5.15"/><circle cx="1092.8" cy="621.1" r="5.15"/><circle cx="1069" cy="657.8" r="5.15"/><circle cx="1075.5" cy="612" r="5.15"/></g><g class="g"><circle cx="1062.4" cy="633.6" r="5.15"/><circle cx="1089.1" cy="626.3" r="5.15"/><circle cx="1069.9" cy="589.6" r="5.15"/><circle cx="1118.5" cy="537.2" r="5.15"/><circle cx="1010.8" cy="579.3" r="5.15"/><circle cx="1037" cy="613.8" r="5.15"/><circle cx="1148.3" cy="676.3" r="5.15"/><circle cx="1026.1" cy="610.6" r="5.15"/></g><g class="o"><circle cx="1036.4" cy="675.7" r="5.15"/><circle cx="1070.9" cy="660.8" r="5.15"/><circle cx="1053.4" cy="564.1" r="5.15"/><circle cx="1055.9" cy="583.5" r="5.15"/><circle cx="1002.8" cy="549.3" r="5.15"/><circle cx="1099.9" cy="636.8" r="5.15"/><circle cx="1061.3" cy="650.7" r="5.15"/><circle cx="1067" cy="698.1" r="5.15"/><circle cx="1152.4" cy="698.6" r="5.15"/><circle cx="1027.8" cy="724.1" r="5.15"/><circle cx="1102.6" cy="618.6" r="5.15"/><circle cx="1060.6" cy="748.9" r="5.15"/><circle cx="1095.4" cy="614.1" r="5.15"/></g><g class="g"><circle cx="987.4" cy="736" r="5.15"/><circle cx="1080.8" cy="522.7" r="5.15"/><circle cx="1035.4" cy="618.1" r="5.15"/><circle cx="1071.5" cy="627.9" r="5.15"/><circle cx="1042.4" cy="607.5" r="5.15"/><circle cx="946.8" cy="643.1" r="5.15"/><circle cx="1120.9" cy="554.6" r="5.15"/><circle cx="1042.9" cy="619.9" r="5.15"/><circle cx="1119.3" cy="558" r="5.15"/><circle cx="1040.4" cy="673.7" r="5.15"/><circle cx="1002.9" cy="700.9" r="5.15"/></g><g class="o"><circle cx="1072.7" cy="594.7" r="5.15"/><circle cx="1041.5" cy="698.7" r="5.15"/><circle cx="1009.9" cy="633.6" r="5.15"/><circle cx="1062.9" cy="754" r="5.15"/><circle cx="1102.8" cy="646.4" r="5.15"/><circle cx="1077" cy="584.7" r="5.15"/><circle cx="1096" cy="555.6" r="5.15"/><circle cx="1112.2" cy="638.9" r="5.15"/><circle cx="1026.5" cy="593.8" r="5.15"/><circle cx="1043.1" cy="625" r="5.15"/><circle cx="1070.5" cy="608.8" r="5.15"/><circle cx="1034" cy="668" r="5.15"/><circle cx="1063.4" cy="633.3" r="5.15"/><circle cx="1099.8" cy="520.1" r="5.15"/><circle cx="1086.4" cy="637.2" r="5.15"/><circle cx="1079.5" cy="611.5" r="5.15"/><circle cx="1049.2" cy="594.3" r="5.15"/></g><g class="g"><circle cx="1076.3" cy="612" r="5.15"/><circle cx="1091.5" cy="617.7" r="5.15"/><circle cx="947.9" cy="547.1" r="5.15"/><circle cx="1059" cy="642.5" r="5.15"/><circle cx="1038.1" cy="606.9" r="5.15"/><circle cx="1092.6" cy="630.4" r="5.15"/><circle cx="1076.7" cy="669.4" r="5.15"/></g><g class="o"><circle cx="1102.8" cy="597.2" r="5.15"/><circle cx="1068.6" cy="726.2" r="5.15"/><circle cx="1095.5" cy="643" r="5.15"/><circle cx="1068" cy="578.8" r="5.15"/><circle cx="996.7" cy="592.7" r="5.15"/><circle cx="1038.6" cy="587.3" r="5.15"/><circle cx="1044.8" cy="597" r="5.15"/><circle cx="1063.9" cy="615.6" r="5.15"/><circle cx="1033.1" cy="730.9" r="5.15"/><circle cx="1078.6" cy="689.2" r="5.15"/><circle cx="1057.3" cy="563.1" r="5.15"/><circle cx="1099.8" cy="611.1" r="5.15"/><circle cx="1044.4" cy="615.5" r="5.15"/></g><g class="g"><circle cx="1067.3" cy="586.8" r="5.15"/><circle cx="1054.4" cy="634.6" r="5.15"/><circle cx="1083.7" cy="507.5" r="5.15"/><circle cx="1071.8" cy="627.3" r="5.15"/><circle cx="1052.1" cy="626.2" r="5.15"/><circle cx="1123.1" cy="547.8" r="5.15"/><circle cx="1055" cy="626.1" r="5.15"/><circle cx="1069.8" cy="552.3" r="5.15"/><circle cx="1086.4" cy="564.3" r="5.15"/><circle cx="1086.8" cy="546.5" r="5.15"/><circle cx="1075.5" cy="610.4" r="5.15"/></g><g class="o"><circle cx="1128.2" cy="649.3" r="5.15"/><circle cx="1076" cy="656.9" r="5.15"/><circle cx="1108.9" cy="621.1" r="5.15"/><circle cx="996.7" cy="652.6" r="5.15"/><circle cx="1043.3" cy="730.2" r="5.15"/><circle cx="1044.7" cy="637.7" r="5.15"/><circle cx="1084.7" cy="571.1" r="5.15"/><circle cx="1119.2" cy="574.3" r="5.15"/></g><g class="g"><circle cx="1011.1" cy="595" r="5.15"/><circle cx="1023.8" cy="794.3" r="5.15"/><circle cx="1003.8" cy="556.2" r="5.15"/><circle cx="1095.9" cy="595.2" r="5.15"/><circle cx="1090.5" cy="617.1" r="5.15"/><circle cx="1039.2" cy="618.4" r="5.15"/><circle cx="1070.1" cy="598.3" r="5.15"/><circle cx="1037.3" cy="592.8" r="5.15"/><circle cx="1095.2" cy="589.4" r="5.15"/><circle cx="933.5" cy="659.1" r="5.15"/><circle cx="1104.6" cy="603.9" r="5.15"/><circle cx="1067.5" cy="680.2" r="5.15"/><circle cx="1019.3" cy="629.9" r="5.15"/><circle cx="1028.1" cy="696.6" r="5.15"/><circle cx="1027.9" cy="749.6" r="5.15"/><circle cx="1023.1" cy="536.2" r="5.15"/></g><g class="o"><circle cx="1058.3" cy="717.8" r="5.15"/><circle cx="1030.3" cy="626.8" r="5.15"/><circle cx="1067" cy="653.2" r="5.15"/><circle cx="1062.9" cy="650.2" r="5.15"/><circle cx="1116.4" cy="591.2" r="5.15"/><circle cx="1076.6" cy="721.8" r="5.15"/><circle cx="1026.9" cy="758.4" r="5.15"/><circle cx="1057.4" cy="623" r="5.15"/><circle cx="1042.9" cy="621.2" r="5.15"/><circle cx="1125.5" cy="645.5" r="5.15"/><circle cx="1080.5" cy="537.8" r="5.15"/></g><g class="g"><circle cx="1057" cy="564" r="5.15"/><circle cx="1055" cy="594.1" r="5.15"/><circle cx="1106.4" cy="619.2" r="5.15"/><circle cx="1070.9" cy="695.1" r="5.15"/><circle cx="1036.1" cy="643" r="5.15"/><circle cx="1036.4" cy="595.1" r="5.15"/><circle cx="1098.5" cy="572.3" r="5.15"/><circle cx="1006.4" cy="627.2" r="5.15"/><circle cx="1052.8" cy="600.3" r="5.15"/><circle cx="974.6" cy="636.4" r="5.15"/><circle cx="1119.6" cy="538.5" r="5.15"/><circle cx="1056.1" cy="611.2" r="5.15"/><circle cx="973.7" cy="600.6" r="5.15"/></g><g class="o"><circle cx="1027.8" cy="593.9" r="5.15"/><circle cx="1105.5" cy="600.1" r="5.15"/><circle cx="1003.7" cy="703.2" r="5.15"/><circle cx="1118" cy="557.5" r="5.15"/><circle cx="1046.2" cy="747.8" r="5.15"/><circle cx="1036.5" cy="601" r="5.15"/><circle cx="1027.1" cy="543.4" r="5.15"/><circle cx="1007.3" cy="583" r="5.15"/><circle cx="1034.2" cy="615.5" r="5.15"/><circle cx="1067.2" cy="746.8" r="5.15"/><circle cx="1072" cy="621.4" r="5.15"/><circle cx="1078.7" cy="662.5" r="5.15"/></g><g class="g"><circle cx="992.7" cy="749.1" r="5.15"/><circle cx="1012" cy="664.3" r="5.15"/><circle cx="1069.3" cy="568.2" r="5.15"/><circle cx="1082.8" cy="723.9" r="5.15"/><circle cx="1053.4" cy="571.3" r="5.15"/><circle cx="992.8" cy="646.6" r="5.15"/><circle cx="1063.7" cy="595.9" r="5.15"/><circle cx="995.3" cy="725.7" r="5.15"/><circle cx="1077.5" cy="626.5" r="5.15"/><circle cx="1085.7" cy="607.9" r="5.15"/><circle cx="1055.8" cy="631.9" r="5.15"/><circle cx="1085.8" cy="570.9" r="5.15"/></g><g class="o"><circle cx="1100.4" cy="624.4" r="5.15"/><circle cx="1043.1" cy="596.5" r="5.15"/><circle cx="1105.6" cy="819.9" r="5.15"/><circle cx="1045.8" cy="672.5" r="5.15"/><circle cx="1126.5" cy="720.1" r="5.15"/><circle cx="1073" cy="598.4" r="5.15"/><circle cx="1036.2" cy="637.8" r="5.15"/><circle cx="1100.2" cy="738.7" r="5.15"/><circle cx="1070.4" cy="592.7" r="5.15"/><circle cx="968.7" cy="645.2" r="5.15"/></g><g class="g"><circle cx="1054.3" cy="644.1" r="5.15"/><circle cx="1050" cy="578.7" r="5.15"/><circle cx="1000.7" cy="711" r="5.15"/><circle cx="1072.3" cy="516.9" r="5.15"/><circle cx="1080.9" cy="609" r="5.15"/><circle cx="1049.1" cy="618.5" r="5.15"/><circle cx="1080.2" cy="571.7" r="5.15"/><circle cx="1039.8" cy="590" r="5.15"/><circle cx="1089.5" cy="578.6" r="5.15"/><circle cx="1127.1" cy="593.5" r="5.15"/><circle cx="1045.1" cy="627.7" r="5.15"/><circle cx="1088" cy="572.9" r="5.15"/><circle cx="1063.9" cy="599.4" r="5.15"/><circle cx="1032.3" cy="626" r="5.15"/></g><g class="o"><circle cx="1047.1" cy="646" r="5.15"/><circle cx="1084.1" cy="677.4" r="5.15"/><circle cx="1090.2" cy="604.1" r="5.15"/><circle cx="1135.8" cy="591.7" r="5.15"/><circle cx="1058.1" cy="739.2" r="5.15"/><circle cx="1034.7" cy="620.5" r="5.15"/><circle cx="1084.5" cy="691.2" r="5.15"/><circle cx="1055.3" cy="543.5" r="5.15"/><circle cx="1041.6" cy="725.8" r="5.15"/><circle cx="1069" cy="551.6" r="5.15"/><circle cx="1098.4" cy="550.6" r="5.15"/></g><g class="g"><circle cx="1049.7" cy="614.7" r="5.15"/><circle cx="981.8" cy="613.9" r="5.15"/><circle cx="1030.6" cy="629.3" r="5.15"/><circle cx="994.3" cy="653" r="5.15"/><circle cx="1081.4" cy="560.7" r="5.15"/><circle cx="1012.4" cy="700.9" r="5.15"/><circle cx="1026.2" cy="610.7" r="5.15"/><circle cx="1050.8" cy="520" r="5.15"/><circle cx="1058.1" cy="632.5" r="5.15"/><circle cx="1149.3" cy="604.2" r="5.15"/><circle cx="1034" cy="642.9" r="5.15"/><circle cx="1073.4" cy="592.2" r="5.15"/><circle cx="1035.4" cy="594.9" r="5.15"/></g><g class="o"><circle cx="1094.2" cy="560.8" r="5.15"/><circle cx="980.1" cy="711.8" r="5.15"/><circle cx="1111.6" cy="608.4" r="5.15"/><circle cx="1070.4" cy="709.9" r="5.15"/><circle cx="1077" cy="578" r="5.15"/><circle cx="1090.8" cy="627.6" r="5.15"/><circle cx="1074.8" cy="547.8" r="5.15"/><circle cx="1046.3" cy="683.4" r="5.15"/><circle cx="1074.9" cy="560.3" r="5.15"/><circle cx="1110.4" cy="658.8" r="5.15"/><circle cx="1055.5" cy="752.5" r="5.15"/><circle cx="1052.5" cy="628.3" r="5.15"/><circle cx="1003" cy="651.8" r="5.15"/><circle cx="1088.6" cy="553.4" r="5.15"/></g><g class="g"><circle cx="1047.9" cy="630.3" r="5.15"/><circle cx="991.5" cy="582.1" r="5.15"/><circle cx="1033.2" cy="594.8" r="5.15"/><circle cx="1060.5" cy="581.8" r="5.15"/><circle cx="1078.7" cy="656.9" r="5.15"/><circle cx="910.6" cy="633.6" r="5.15"/><circle cx="1108.7" cy="543.9" r="5.15"/><circle cx="1037.5" cy="610.5" r="5.15"/><circle cx="1026.6" cy="703.6" r="5.15"/><circle cx="1078.3" cy="542.9" r="5.15"/></g><g class="o"><circle cx="1111.5" cy="630.3" r="5.15"/><circle cx="1111.7" cy="532.1" r="5.15"/><circle cx="1027.9" cy="661.5" r="5.15"/><circle cx="1026.5" cy="666.1" r="5.15"/></g><g class="g"><circle cx="1126.7" cy="521" r="5.15"/><circle cx="1037.9" cy="578.3" r="5.15"/><circle cx="1080.5" cy="573.6" r="5.15"/><circle cx="1099.2" cy="615.6" r="5.15"/><circle cx="1059.4" cy="580.2" r="5.15"/><circle cx="1078.4" cy="583.3" r="5.15"/><circle cx="1076.2" cy="690.3" r="5.15"/><circle cx="1051.4" cy="576.2" r="5.15"/><circle cx="963.9" cy="650.6" r="5.15"/><circle cx="1040.6" cy="607.7" r="5.15"/><circle cx="1013.3" cy="666.7" r="5.15"/><circle cx="1031.3" cy="641.9" r="5.15"/><circle cx="991.7" cy="646.9" r="5.15"/><circle cx="1101.4" cy="523.7" r="5.15"/><circle cx="1078.6" cy="710.2" r="5.15"/><circle cx="978.9" cy="597.4" r="5.15"/><circle cx="1060.5" cy="567.3" r="5.15"/><circle cx="1020" cy="550.6" r="5.15"/><circle cx="1028.7" cy="627.8" r="5.15"/><circle cx="1067" cy="554.8" r="5.15"/></g><g class="o"><circle cx="977.1" cy="705.4" r="5.15"/><circle cx="1050.8" cy="666.1" r="5.15"/><circle cx="1074.6" cy="617.5" r="5.15"/><circle cx="1112.5" cy="670" r="5.15"/><circle cx="1095.4" cy="752.5" r="5.15"/><circle cx="1078.8" cy="653.4" r="5.15"/><circle cx="1012.5" cy="623.5" r="5.15"/><circle cx="1055.6" cy="566.8" r="5.15"/><circle cx="1092.2" cy="754.5" r="5.15"/><circle cx="1052.2" cy="686.4" r="5.15"/><circle cx="1075.1" cy="705.8" r="5.15"/><circle cx="1049.5" cy="618.1" r="5.15"/><circle cx="1062.2" cy="655" r="5.15"/></g><g class="g"><circle cx="1083.8" cy="611.4" r="5.15"/><circle cx="1121" cy="587.1" r="5.15"/><circle cx="1038.2" cy="562.4" r="5.15"/><circle cx="1016.5" cy="604.8" r="5.15"/><circle cx="1052.9" cy="635.7" r="5.15"/><circle cx="1093.6" cy="659.9" r="5.15"/><circle cx="1067" cy="594.8" r="5.15"/><circle cx="997.9" cy="596.2" r="5.15"/><circle cx="1022.1" cy="621.8" r="5.15"/><circle cx="1015.5" cy="618.5" r="5.15"/><circle cx="1053.1" cy="581.2" r="5.15"/></g><g class="o"><circle cx="1065.3" cy="680.2" r="5.15"/><circle cx="1063" cy="734.1" r="5.15"/><circle cx="1068.2" cy="722.2" r="5.15"/><circle cx="1064.2" cy="661.7" r="5.15"/><circle cx="1072.5" cy="783.5" r="5.15"/><circle cx="1023.8" cy="679.7" r="5.15"/><circle cx="1073.4" cy="639.5" r="5.15"/><circle cx="1003.4" cy="561.9" r="5.15"/><circle cx="1013.6" cy="644.5" r="5.15"/><circle cx="1104.4" cy="633.1" r="5.15"/><circle cx="1015.9" cy="681.7" r="5.15"/><circle cx="1001.9" cy="610.6" r="5.15"/></g><g class="g"><circle cx="987.9" cy="602.6" r="5.15"/><circle cx="983.7" cy="712" r="5.15"/><circle cx="1022.5" cy="630" r="5.15"/><circle cx="1067.4" cy="553.6" r="5.15"/><circle cx="1013" cy="560" r="5.15"/><circle cx="1070.9" cy="543.9" r="5.15"/><circle cx="1006.7" cy="603" r="5.15"/><circle cx="1032.5" cy="505.4" r="5.15"/><circle cx="1049.2" cy="592.9" r="5.15"/><circle cx="1127.9" cy="544.3" r="5.15"/><circle cx="1038.4" cy="637.9" r="5.15"/><circle cx="1038.3" cy="591.4" r="5.15"/></g><g class="o"><circle cx="1075.6" cy="648" r="5.15"/><circle cx="1033.8" cy="685.9" r="5.15"/><circle cx="1088.6" cy="678.2" r="5.15"/><circle cx="1052.4" cy="750.7" r="5.15"/><circle cx="1040.4" cy="803.6" r="5.15"/><circle cx="1030.3" cy="591.5" r="5.15"/><circle cx="1018.9" cy="635.4" r="5.15"/><circle cx="1047.5" cy="639.7" r="5.15"/><circle cx="1071.8" cy="740.1" r="5.15"/><circle cx="1072.3" cy="631.7" r="5.15"/><circle cx="1025" cy="741.6" r="5.15"/><circle cx="1092.6" cy="670.8" r="5.15"/><circle cx="1001.2" cy="610.6" r="5.15"/></g><g class="g"><circle cx="1043.4" cy="593.3" r="5.15"/><circle cx="1087.2" cy="556" r="5.15"/><circle cx="1082" cy="559.3" r="5.15"/><circle cx="1018.5" cy="590.2" r="5.15"/><circle cx="1010.3" cy="603.9" r="5.15"/><circle cx="968.1" cy="679.1" r="5.15"/><circle cx="1051.8" cy="557.7" r="5.15"/><circle cx="1076.8" cy="580.7" r="5.15"/><circle cx="1038.6" cy="644.8" r="5.15"/><circle cx="1054.6" cy="639.6" r="5.15"/><circle cx="1090" cy="629.3" r="5.15"/></g><g class="o"><circle cx="1049.6" cy="630.6" r="5.15"/><circle cx="1052.6" cy="605.9" r="5.15"/><circle cx="1021.7" cy="662.2" r="5.15"/><circle cx="1057.8" cy="615.8" r="5.15"/><circle cx="1064.8" cy="577.5" r="5.15"/><circle cx="1064.1" cy="628.4" r="5.15"/><circle cx="1056.5" cy="615.8" r="5.15"/><circle cx="1036" cy="715" r="5.15"/><circle cx="973.5" cy="671.8" r="5.15"/></g><g class="g"><circle cx="1036.2" cy="621.1" r="5.15"/><circle cx="1066.8" cy="627.9" r="5.15"/><circle cx="1043.2" cy="644.6" r="5.15"/><circle cx="1084.9" cy="544.7" r="5.15"/><circle cx="1087" cy="613.7" r="5.15"/><circle cx="950.5" cy="626.4" r="5.15"/><circle cx="1034.6" cy="580.6" r="5.15"/><circle cx="1048.4" cy="672" r="5.15"/><circle cx="1074" cy="538.5" r="5.15"/><circle cx="1050.8" cy="569.6" r="5.15"/><circle cx="1070.5" cy="654.3" r="5.15"/><circle cx="1018.7" cy="534.6" r="5.15"/><circle cx="1097.1" cy="594.8" r="5.15"/><circle cx="1072.5" cy="617.2" r="5.15"/><circle cx="1015.9" cy="553.3" r="5.15"/></g><g class="o"><circle cx="1025.6" cy="675.4" r="5.15"/><circle cx="1082" cy="534.1" r="5.15"/><circle cx="1097.4" cy="577.7" r="5.15"/><circle cx="1015.1" cy="698.3" r="5.15"/><circle cx="1066.1" cy="537.2" r="5.15"/><circle cx="1102.9" cy="697.8" r="5.15"/><circle cx="1021.2" cy="734" r="5.15"/><circle cx="1109.3" cy="630.7" r="5.15"/><circle cx="1038" cy="662" r="5.15"/></g><g class="g"><circle cx="972.6" cy="646.1" r="5.15"/><circle cx="1019.8" cy="597.4" r="5.15"/><circle cx="1072.8" cy="619.6" r="5.15"/><circle cx="1080.7" cy="629.8" r="5.15"/><circle cx="1040.7" cy="565.8" r="5.15"/><circle cx="1023.7" cy="547.8" r="5.15"/><circle cx="1039" cy="626.5" r="5.15"/><circle cx="1049.4" cy="564.3" r="5.15"/><circle cx="1009.2" cy="730.2" r="5.15"/><circle cx="1013" cy="611.6" r="5.15"/><circle cx="1055.5" cy="633.8" r="5.15"/><circle cx="1013.1" cy="661.8" r="5.15"/><circle cx="1097.4" cy="646.5" r="5.15"/><circle cx="1053" cy="606" r="5.15"/><circle cx="943" cy="606.1" r="5.15"/></g><g class="o"><circle cx="1062.8" cy="631.4" r="5.15"/><circle cx="1005.1" cy="655.7" r="5.15"/><circle cx="1082.5" cy="637.3" r="5.15"/><circle cx="1051.8" cy="723.8" r="5.15"/><circle cx="1021.7" cy="704.9" r="5.15"/><circle cx="1096.2" cy="607.5" r="5.15"/><circle cx="1094.7" cy="683.7" r="5.15"/><circle cx="1038.3" cy="640.9" r="5.15"/><circle cx="1037.5" cy="641.2" r="5.15"/><circle cx="1065.8" cy="636.6" r="5.15"/><circle cx="1041.2" cy="537.6" r="5.15"/><circle cx="1088.9" cy="597.6" r="5.15"/><circle cx="1071.5" cy="592.9" r="5.15"/></g><g class="g"><circle cx="1029.3" cy="660.2" r="5.15"/><circle cx="978.7" cy="645.9" r="5.15"/><circle cx="1001.3" cy="579.1" r="5.15"/><circle cx="975.9" cy="641.3" r="5.15"/><circle cx="1057.1" cy="549.7" r="5.15"/><circle cx="1142.8" cy="594.9" r="5.15"/><circle cx="1062.1" cy="723.3" r="5.15"/><circle cx="1018.8" cy="617" r="5.15"/><circle cx="1040.3" cy="601.7" r="5.15"/><circle cx="951" cy="593.6" r="5.15"/><circle cx="980" cy="598" r="5.15"/></g><g class="o"><circle cx="1066.3" cy="614.6" r="5.15"/><circle cx="1089.3" cy="740.8" r="5.15"/><circle cx="1110.9" cy="661.1" r="5.15"/><circle cx="1091.3" cy="634.2" r="5.15"/><circle cx="1035.2" cy="630.2" r="5.15"/><circle cx="1150.3" cy="721.6" r="5.15"/><circle cx="1066.2" cy="609.2" r="5.15"/><circle cx="1126.4" cy="689.2" r="5.15"/><circle cx="1028.6" cy="595.4" r="5.15"/></g><g class="g"><circle cx="1060.4" cy="602.6" r="5.15"/><circle cx="1072.3" cy="555.7" r="5.15"/><circle cx="1025.2" cy="588.5" r="5.15"/><circle cx="1079.7" cy="624.7" r="5.15"/><circle cx="1024.2" cy="564.9" r="5.15"/><circle cx="1002" cy="557.9" r="5.15"/><circle cx="1068.6" cy="673.2" r="5.15"/><circle cx="1059.7" cy="608.2" r="5.15"/><circle cx="1059.1" cy="561.1" r="5.15"/><circle cx="1052.5" cy="541.9" r="5.15"/><circle cx="1064.6" cy="575.2" r="5.15"/><circle cx="1029.2" cy="635.9" r="5.15"/><circle cx="1091.8" cy="597.4" r="5.15"/><circle cx="984.6" cy="561.2" r="5.15"/><circle cx="1025.9" cy="582.6" r="5.15"/></g><g class="o"><circle cx="1089.6" cy="558.8" r="5.15"/><circle cx="1046.8" cy="614.7" r="5.15"/><circle cx="1064.9" cy="614.1" r="5.15"/><circle cx="1053.9" cy="637.4" r="5.15"/><circle cx="1072.2" cy="539.8" r="5.15"/><circle cx="1026.6" cy="630.8" r="5.15"/><circle cx="1090" cy="668" r="5.15"/><circle cx="1088" cy="783.1" r="5.15"/><circle cx="1074.7" cy="675.6" r="5.15"/><circle cx="1055" cy="771.4" r="5.15"/><circle cx="1037.5" cy="656.3" r="5.15"/><circle cx="1073.5" cy="624.5" r="5.15"/></g><g class="g"><circle cx="1043" cy="561.9" r="5.15"/><circle cx="1055.7" cy="588.3" r="5.15"/><circle cx="1039" cy="648.7" r="5.15"/><circle cx="1010.6" cy="734.7" r="5.15"/><circle cx="1084.9" cy="571" r="5.15"/><circle cx="1080.9" cy="616.2" r="5.15"/><circle cx="1085.9" cy="651.2" r="5.15"/><circle cx="1064.7" cy="650" r="5.15"/><circle cx="954.7" cy="556" r="5.15"/><circle cx="1030.2" cy="630.2" r="5.15"/><circle cx="994.6" cy="630.3" r="5.15"/><circle cx="1031.2" cy="688.7" r="5.15"/></g><g class="o"><circle cx="1014.3" cy="685.7" r="5.15"/><circle cx="1017.5" cy="552.2" r="5.15"/><circle cx="1099.5" cy="634.8" r="5.15"/><circle cx="1045.3" cy="592.6" r="5.15"/><circle cx="1000.3" cy="647.9" r="5.15"/><circle cx="1037.1" cy="636" r="5.15"/><circle cx="1061" cy="576.1" r="5.15"/><circle cx="1057.1" cy="699.9" r="5.15"/><circle cx="1100.2" cy="575.7" r="5.15"/><circle cx="1032.6" cy="742.2" r="5.15"/><circle cx="1074.5" cy="687.5" r="5.15"/><circle cx="1071.6" cy="637.3" r="5.15"/><circle cx="1007.6" cy="524.4" r="5.15"/><circle cx="1104" cy="639.7" r="5.15"/><circle cx="1066" cy="570.7" r="5.15"/></g><g class="g"><circle cx="1032.4" cy="531.3" r="5.15"/><circle cx="966.7" cy="585" r="5.15"/><circle cx="1057.7" cy="623.9" r="5.15"/><circle cx="1070.8" cy="587.4" r="5.15"/><circle cx="995.7" cy="644.5" r="5.15"/><circle cx="1063.8" cy="624.6" r="5.15"/><circle cx="1135.9" cy="619.2" r="5.15"/><circle cx="1085.1" cy="611.2" r="5.15"/><circle cx="1106.3" cy="574.2" r="5.15"/></g><g class="o"><circle cx="1033.6" cy="680" r="5.15"/><circle cx="1105.2" cy="627.5" r="5.15"/><circle cx="1131.5" cy="609.2" r="5.15"/><circle cx="1125" cy="592.2" r="5.15"/><circle cx="1068.7" cy="689.5" r="5.15"/><circle cx="1060.7" cy="603.2" r="5.15"/><circle cx="1046.4" cy="656" r="5.15"/><circle cx="1079.1" cy="737" r="5.15"/><circle cx="1075.6" cy="656.2" r="5.15"/><circle cx="1029.3" cy="589.7" r="5.15"/><circle cx="1086.1" cy="613.5" r="5.15"/><circle cx="1074.4" cy="627.4" r="5.15"/><circle cx="1108.5" cy="626.4" r="5.15"/><circle cx="1123.8" cy="751" r="5.15"/><circle cx="1008.9" cy="646.7" r="5.15"/></g><g class="g"><circle cx="1091.1" cy="631.2" r="5.15"/><circle cx="1033.9" cy="632.4" r="5.15"/><circle cx="1019.6" cy="600.3" r="5.15"/><circle cx="1020" cy="630.2" r="5.15"/><circle cx="1010.1" cy="570.9" r="5.15"/><circle cx="1087.1" cy="577.6" r="5.15"/><circle cx="1137" cy="558.3" r="5.15"/><circle cx="1090.4" cy="534.4" r="5.15"/><circle cx="1071.3" cy="709" r="5.15"/></g><g class="o"><circle cx="1014.9" cy="582.3" r="5.15"/><circle cx="1056.5" cy="563.6" r="5.15"/><circle cx="1063.8" cy="671.5" r="5.15"/><circle cx="1052.8" cy="638" r="5.15"/><circle cx="1035" cy="612" r="5.15"/><circle cx="1086.4" cy="625.1" r="5.15"/><circle cx="1042" cy="739.3" r="5.15"/><circle cx="1065.6" cy="627.9" r="5.15"/><circle cx="1109.3" cy="715" r="5.15"/><circle cx="1054.5" cy="636.7" r="5.15"/><circle cx="1053.7" cy="640.2" r="5.15"/><circle cx="1093.4" cy="592.7" r="5.15"/><circle cx="1005.6" cy="744.4" r="5.15"/><circle cx="1076.8" cy="575.2" r="5.15"/></g><g class="g"><circle cx="1010.9" cy="622" r="5.15"/><circle cx="1026.4" cy="598.2" r="5.15"/><circle cx="1009.1" cy="613.5" r="5.15"/><circle cx="958.9" cy="759.8" r="5.15"/><circle cx="1072.9" cy="601.3" r="5.15"/><circle cx="1036.1" cy="514.4" r="5.15"/><circle cx="1026.2" cy="636.8" r="5.15"/><circle cx="1112.6" cy="666" r="5.15"/><circle cx="1046.4" cy="613.9" r="5.15"/><circle cx="1041.2" cy="629.5" r="5.15"/></g><g class="o"><circle cx="1065" cy="700.8" r="5.15"/><circle cx="1007" cy="659.7" r="5.15"/><circle cx="1070.1" cy="663.4" r="5.15"/><circle cx="1063.1" cy="592.2" r="5.15"/><circle cx="1030.6" cy="663" r="5.15"/></g><g class="g"><circle cx="1049.8" cy="552.1" r="5.15"/><circle cx="1130.9" cy="734.9" r="5.15"/><circle cx="1057.2" cy="583.1" r="5.15"/><circle cx="999.3" cy="584.2" r="5.15"/><circle cx="1030.5" cy="640.7" r="5.15"/><circle cx="1051.4" cy="543.9" r="5.15"/><circle cx="1013.2" cy="639.7" r="5.15"/><circle cx="1065.8" cy="559.9" r="5.15"/><circle cx="990.1" cy="722.5" r="5.15"/><circle cx="1060.2" cy="563.8" r="5.15"/><circle cx="1075.4" cy="595.4" r="5.15"/><circle cx="1045.9" cy="582.1" r="5.15"/><circle cx="1051.5" cy="618.2" r="5.15"/><circle cx="967" cy="634.8" r="5.15"/><circle cx="1029.9" cy="594.3" r="5.15"/><circle cx="981" cy="688.7" r="5.15"/><circle cx="1064.3" cy="628.3" r="5.15"/><circle cx="1107.8" cy="563.5" r="5.15"/><circle cx="1055.8" cy="638.9" r="5.15"/></g><g class="o"><circle cx="1057.9" cy="568.2" r="5.15"/><circle cx="1063.5" cy="513.4" r="5.15"/><circle cx="1068.9" cy="599.4" r="5.15"/><circle cx="1120.4" cy="595.5" r="5.15"/><circle cx="1132.3" cy="633.5" r="5.15"/><circle cx="999.6" cy="542.9" r="5.15"/><circle cx="1034.9" cy="660.2" r="5.15"/><circle cx="1089.4" cy="674.7" r="5.15"/><circle cx="1086.5" cy="583.5" r="5.15"/><circle cx="1027.2" cy="580.3" r="5.15"/><circle cx="1086.4" cy="607.3" r="5.15"/><circle cx="1074.7" cy="677.1" r="5.15"/></g><g class="g"><circle cx="1011.3" cy="652.8" r="5.15"/><circle cx="1014" cy="691.4" r="5.15"/><circle cx="1007.6" cy="591.2" r="5.15"/><circle cx="972.1" cy="584.4" r="5.15"/><circle cx="1046.5" cy="565.5" r="5.15"/><circle cx="1001.9" cy="683.2" r="5.15"/><circle cx="1085.5" cy="658.3" r="5.15"/><circle cx="1060.1" cy="646.4" r="5.15"/><circle cx="1047" cy="558.6" r="5.15"/><circle cx="1068.2" cy="654.5" r="5.15"/><circle cx="1065.2" cy="592.1" r="5.15"/><circle cx="1030.1" cy="573.9" r="5.15"/></g><g class="o"><circle cx="1020.5" cy="674.4" r="5.15"/><circle cx="1102.6" cy="621.5" r="5.15"/><circle cx="1046.4" cy="633.8" r="5.15"/><circle cx="1007.4" cy="602.1" r="5.15"/><circle cx="1053.9" cy="654.5" r="5.15"/><circle cx="1028.3" cy="639" r="5.15"/><circle cx="1064.1" cy="624.7" r="5.15"/><circle cx="1043" cy="611.8" r="5.15"/><circle cx="1052.8" cy="713" r="5.15"/><circle cx="1051.8" cy="563.9" r="5.15"/><circle cx="1040.6" cy="683.7" r="5.15"/><circle cx="1056.2" cy="631.2" r="5.15"/><circle cx="1064" cy="725.5" r="5.15"/></g><g class="g"><circle cx="1030" cy="601.5" r="5.15"/><circle cx="1068.2" cy="653.3" r="5.15"/><circle cx="1030.6" cy="525.2" r="5.15"/><circle cx="1058.9" cy="620.4" r="5.15"/><circle cx="1020" cy="581.4" r="5.15"/><circle cx="943.3" cy="598.7" r="5.15"/><circle cx="1084.3" cy="568.4" r="5.15"/><circle cx="1070.8" cy="568.7" r="5.15"/><circle cx="1017.7" cy="632.5" r="5.15"/><circle cx="1075.4" cy="604.9" r="5.15"/><circle cx="1011.8" cy="605.7" r="5.15"/></g><g class="o"><circle cx="1079.6" cy="552.2" r="5.15"/><circle cx="1039.6" cy="654.7" r="5.15"/><circle cx="1060.9" cy="623.8" r="5.15"/><circle cx="1007.9" cy="663.6" r="5.15"/><circle cx="1113" cy="602.2" r="5.15"/><circle cx="1069.5" cy="593.1" r="5.15"/><circle cx="1078.7" cy="568.3" r="5.15"/><circle cx="1044.1" cy="675.1" r="5.15"/><circle cx="1071.8" cy="729.2" r="5.15"/><circle cx="1038.4" cy="718.8" r="5.15"/><circle cx="1054.4" cy="685.2" r="5.15"/></g><g class="g"><circle cx="1028.8" cy="754.5" r="5.15"/><circle cx="1038.1" cy="578.1" r="5.15"/><circle cx="1111.9" cy="514.4" r="5.15"/><circle cx="1094.4" cy="537.5" r="5.15"/><circle cx="1014.5" cy="696.7" r="5.15"/><circle cx="1044.3" cy="505.3" r="5.15"/><circle cx="1041.7" cy="612.4" r="5.15"/><circle cx="1000.9" cy="712.3" r="5.15"/><circle cx="1071.3" cy="587.9" r="5.15"/><circle cx="989.8" cy="560.2" r="5.15"/><circle cx="1072.5" cy="588" r="5.15"/><circle cx="1074.7" cy="591.3" r="5.15"/><circle cx="1051.9" cy="753.5" r="5.15"/></g><g class="o"><circle cx="1058.1" cy="618.8" r="5.15"/><circle cx="1061.8" cy="644.9" r="5.15"/><circle cx="1078" cy="646.3" r="5.15"/><circle cx="1048.3" cy="655.5" r="5.15"/><circle cx="1106.4" cy="590.9" r="5.15"/><circle cx="1087.9" cy="686.7" r="5.15"/><circle cx="1080.1" cy="610.9" r="5.15"/><circle cx="1070.7" cy="570.6" r="5.15"/><circle cx="1050.4" cy="613.8" r="5.15"/><circle cx="1060" cy="711.7" r="5.15"/><circle cx="1073.5" cy="643.3" r="5.15"/><circle cx="1014.5" cy="652.2" r="5.15"/><circle cx="1047" cy="599.9" r="5.15"/></g><g class="g"><circle cx="1027.2" cy="530.9" r="5.15"/><circle cx="1035" cy="613.6" r="5.15"/><circle cx="1091.8" cy="583.3" r="5.15"/><circle cx="1061.6" cy="688.7" r="5.15"/><circle cx="1016.3" cy="636.9" r="5.15"/><circle cx="1040" cy="528.6" r="5.15"/><circle cx="1034.3" cy="609" r="5.15"/><circle cx="1004.3" cy="783.1" r="5.15"/><circle cx="1020.9" cy="592.4" r="5.15"/><circle cx="1047.7" cy="529.5" r="5.15"/><circle cx="1022.6" cy="641.3" r="5.15"/></g><g class="o"><circle cx="1048.7" cy="535.6" r="5.15"/><circle cx="1061.1" cy="548.6" r="5.15"/><circle cx="1085.7" cy="603.9" r="5.15"/><circle cx="1060.8" cy="647.1" r="5.15"/><circle cx="1007.5" cy="678.5" r="5.15"/><circle cx="1072.9" cy="765.7" r="5.15"/><circle cx="1040.1" cy="643.9" r="5.15"/><circle cx="1128.5" cy="743.8" r="5.15"/><circle cx="1045.2" cy="811.2" r="5.15"/><circle cx="1095.3" cy="694.7" r="5.15"/><circle cx="1097.5" cy="594" r="5.15"/></g><g class="g"><circle cx="1020.7" cy="773.5" r="5.15"/><circle cx="1085.6" cy="569.4" r="5.15"/><circle cx="1003.7" cy="571.3" r="5.15"/><circle cx="1043.5" cy="687.7" r="5.15"/><circle cx="1054.6" cy="594.9" r="5.15"/><circle cx="991.9" cy="603.5" r="5.15"/><circle cx="1060.2" cy="624.4" r="5.15"/><circle cx="1019.1" cy="679.5" r="5.15"/><circle cx="1068.8" cy="556.6" r="5.15"/><circle cx="1034" cy="733.9" r="5.15"/><circle cx="1045" cy="530" r="5.15"/><circle cx="1004.6" cy="568.9" r="5.15"/><circle cx="1079.3" cy="653.8" r="5.15"/></g><g class="o"><circle cx="1032.3" cy="578.3" r="5.15"/><circle cx="1080.7" cy="690.4" r="5.15"/><circle cx="1057.6" cy="615.7" r="5.15"/><circle cx="1103.4" cy="712.5" r="5.15"/><circle cx="992.1" cy="613.6" r="5.15"/><circle cx="1018.7" cy="630.2" r="5.15"/><circle cx="1053.9" cy="570.5" r="5.15"/><circle cx="1065.7" cy="574.6" r="5.15"/><circle cx="1038.2" cy="599.3" r="5.15"/><circle cx="1051.2" cy="631.9" r="5.15"/><circle cx="1093.9" cy="752" r="5.15"/></g><g class="g"><circle cx="1048" cy="573.9" r="5.15"/><circle cx="1003.5" cy="693.9" r="5.15"/><circle cx="1031.6" cy="626.1" r="5.15"/><circle cx="1059.1" cy="555" r="5.15"/><circle cx="1032.9" cy="718.4" r="5.15"/><circle cx="1053.7" cy="638.3" r="5.15"/><circle cx="1060.7" cy="597.9" r="5.15"/><circle cx="1024.9" cy="669.3" r="5.15"/><circle cx="1053" cy="554.2" r="5.15"/><circle cx="998.1" cy="657.2" r="5.15"/><circle cx="1081.2" cy="612.4" r="5.15"/><circle cx="1004.8" cy="643.8" r="5.15"/><circle cx="1013.2" cy="678.3" r="5.15"/></g><g class="o"><circle cx="1083" cy="680.3" r="5.15"/><circle cx="1054.8" cy="639.1" r="5.15"/><circle cx="1046.4" cy="660.4" r="5.15"/><circle cx="1073.4" cy="551" r="5.15"/><circle cx="1085.2" cy="671.9" r="5.15"/><circle cx="1098.2" cy="651.9" r="5.15"/><circle cx="1078.4" cy="660.8" r="5.15"/><circle cx="1064.1" cy="675.6" r="5.15"/><circle cx="1016.6" cy="687" r="5.15"/><circle cx="1040.2" cy="601.9" r="5.15"/></g><g class="g"><circle cx="1138.6" cy="581.8" r="5.15"/><circle cx="1118.8" cy="558" r="5.15"/><circle cx="1032.4" cy="575.1" r="5.15"/><circle cx="1050.6" cy="666.2" r="5.15"/><circle cx="1057.7" cy="587.4" r="5.15"/><circle cx="1025" cy="613.7" r="5.15"/><circle cx="971.4" cy="764.1" r="5.15"/><circle cx="976.4" cy="630.9" r="5.15"/><circle cx="1024.4" cy="585.3" r="5.15"/><circle cx="1119.8" cy="603" r="5.15"/><circle cx="1031.6" cy="539.3" r="5.15"/><circle cx="1020" cy="556.8" r="5.15"/><circle cx="970.9" cy="680.4" r="5.15"/><circle cx="1100" cy="622.5" r="5.15"/></g><g class="o"><circle cx="1094.8" cy="564.9" r="5.15"/><circle cx="1119.5" cy="539.3" r="5.15"/><circle cx="1065.1" cy="608.5" r="5.15"/><circle cx="1085.9" cy="600.6" r="5.15"/><circle cx="1056" cy="652.6" r="5.15"/><circle cx="1044.4" cy="606" r="5.15"/><circle cx="1066.8" cy="586.4" r="5.15"/><circle cx="1024.9" cy="622.3" r="5.15"/><circle cx="1022.8" cy="591.8" r="5.15"/><circle cx="1022.4" cy="610.7" r="5.15"/><circle cx="1059.6" cy="660.2" r="5.15"/><circle cx="1025.6" cy="612.8" r="5.15"/><circle cx="1096.9" cy="601.8" r="5.15"/><circle cx="1067.2" cy="656.6" r="5.15"/><circle cx="1038" cy="697.5" r="5.15"/><circle cx="1033.1" cy="683.5" r="5.15"/></g><g class="g"><circle cx="1105.1" cy="565.3" r="5.15"/><circle cx="1065.3" cy="613.1" r="5.15"/><circle cx="1048.5" cy="606.2" r="5.15"/><circle cx="1090.8" cy="554.4" r="5.15"/><circle cx="1008.3" cy="644.7" r="5.15"/><circle cx="982.5" cy="753.4" r="5.15"/><circle cx="1036.8" cy="612.2" r="5.15"/><circle cx="1038" cy="569.1" r="5.15"/></g><g class="o"><circle cx="1138.4" cy="722.8" r="5.15"/><circle cx="1166.7" cy="599.5" r="5.15"/><circle cx="1023.6" cy="654.7" r="5.15"/><circle cx="1058.7" cy="586.9" r="5.15"/><circle cx="1033.3" cy="653.3" r="5.15"/><circle cx="1052" cy="774.2" r="5.15"/><circle cx="1028.7" cy="605.4" r="5.15"/><circle cx="1106.3" cy="572.8" r="5.15"/><circle cx="1048.6" cy="621.1" r="5.15"/><circle cx="1086.2" cy="567.8" r="5.15"/><circle cx="1016.7" cy="642.8" r="5.15"/><circle cx="1028.2" cy="672.5" r="5.15"/></g><g class="g"><circle cx="1004.4" cy="676" r="5.15"/><circle cx="1075.4" cy="521" r="5.15"/><circle cx="1041.1" cy="609" r="5.15"/><circle cx="993.3" cy="638.6" r="5.15"/><circle cx="1033.7" cy="572.5" r="5.15"/><circle cx="1063.2" cy="626.5" r="5.15"/><circle cx="1040.7" cy="590.4" r="5.15"/><circle cx="960.3" cy="692" r="5.15"/><circle cx="1105" cy="677.6" r="5.15"/><circle cx="1067.8" cy="562.6" r="5.15"/><circle cx="1105.5" cy="538.7" r="5.15"/><circle cx="1053.2" cy="575.5" r="5.15"/></g><g class="o"><circle cx="1007.9" cy="552.1" r="5.15"/><circle cx="1051.2" cy="669.7" r="5.15"/><circle cx="1056.6" cy="670.3" r="5.15"/><circle cx="1075.4" cy="567.5" r="5.15"/><circle cx="1020.1" cy="597" r="5.15"/><circle cx="1056.4" cy="586.8" r="5.15"/><circle cx="1031" cy="665.6" r="5.15"/><circle cx="1031.8" cy="671.9" r="5.15"/><circle cx="1120.6" cy="697.7" r="5.15"/><circle cx="1040" cy="598.2" r="5.15"/><circle cx="1034.8" cy="602.7" r="5.15"/></g><g class="g"><circle cx="1032.9" cy="582.4" r="5.15"/><circle cx="1033.5" cy="618.3" r="5.15"/><circle cx="1065.1" cy="515.2" r="5.15"/><circle cx="1005.5" cy="557.3" r="5.15"/><circle cx="1086.3" cy="634.9" r="5.15"/><circle cx="1052.9" cy="630.8" r="5.15"/><circle cx="959.2" cy="679.5" r="5.15"/><circle cx="1069.3" cy="541.3" r="5.15"/><circle cx="1103.4" cy="591.4" r="5.15"/><circle cx="1058.7" cy="633.8" r="5.15"/><circle cx="1077" cy="769.1" r="5.15"/><circle cx="1075.8" cy="534.2" r="5.15"/><circle cx="988.1" cy="622.1" r="5.15"/></g><g class="o"><circle cx="1028.5" cy="669.1" r="5.15"/><circle cx="1002.6" cy="633.9" r="5.15"/><circle cx="1126.8" cy="669.7" r="5.15"/><circle cx="1032" cy="710.6" r="5.15"/><circle cx="1074.2" cy="597.4" r="5.15"/><circle cx="1036.9" cy="585.9" r="5.15"/><circle cx="1019" cy="674.8" r="5.15"/><circle cx="1093.7" cy="601.4" r="5.15"/><circle cx="1084.8" cy="645" r="5.15"/><circle cx="1077.6" cy="624.4" r="5.15"/><circle cx="1061.2" cy="666.4" r="5.15"/><circle cx="1056.4" cy="561.7" r="5.15"/><circle cx="1094.6" cy="655.9" r="5.15"/><circle cx="1017" cy="689.1" r="5.15"/><circle cx="1007.2" cy="627" r="5.15"/><circle cx="1000.8" cy="714.4" r="5.15"/><circle cx="985.7" cy="709.6" r="5.15"/></g><g class="g"><circle cx="988.3" cy="537.7" r="5.15"/><circle cx="1046.8" cy="723.6" r="5.15"/><circle cx="1102.7" cy="733.3" r="5.15"/><circle cx="1068.2" cy="605.4" r="5.15"/><circle cx="1020.4" cy="601" r="5.15"/><circle cx="1066.8" cy="565.5" r="5.15"/><circle cx="1046.6" cy="668.4" r="5.15"/></g><g class="o"><circle cx="1066.8" cy="703.4" r="5.15"/><circle cx="1073.7" cy="659.7" r="5.15"/><circle cx="1031.8" cy="581.8" r="5.15"/><circle cx="1093.6" cy="619.8" r="5.15"/><circle cx="1102.5" cy="589.8" r="5.15"/><circle cx="1074" cy="759.5" r="5.15"/><circle cx="1120" cy="578.8" r="5.15"/><circle cx="1054" cy="676.5" r="5.15"/><circle cx="1083.9" cy="650.8" r="5.15"/></g><g class="g"><circle cx="1044.1" cy="655.5" r="5.15"/><circle cx="1089" cy="609.1" r="5.15"/><circle cx="1062.1" cy="569.7" r="5.15"/><circle cx="1007.9" cy="554" r="5.15"/><circle cx="1017.5" cy="602.7" r="5.15"/><circle cx="1100.2" cy="655.6" r="5.15"/><circle cx="1063.4" cy="593.1" r="5.15"/><circle cx="1029.2" cy="754.6" r="5.15"/><circle cx="993.3" cy="521.1" r="5.15"/><circle cx="1084.4" cy="607.2" r="5.15"/><circle cx="1051.7" cy="611.8" r="5.15"/><circle cx="1114.3" cy="591.4" r="5.15"/><circle cx="1055" cy="541.5" r="5.15"/><circle cx="1131.7" cy="601.7" r="5.15"/><circle cx="1087.8" cy="556.4" r="5.15"/></g><g class="o"><circle cx="1066" cy="628.8" r="5.15"/><circle cx="1061.4" cy="605.2" r="5.15"/><circle cx="1114.5" cy="587.8" r="5.15"/><circle cx="1077.3" cy="511.3" r="5.15"/><circle cx="1072.3" cy="630.7" r="5.15"/><circle cx="1032.8" cy="598.6" r="5.15"/><circle cx="1064.2" cy="627.6" r="5.15"/><circle cx="1101.7" cy="605.5" r="5.15"/><circle cx="1080.6" cy="685.6" r="5.15"/></g><g class="g"><circle cx="1149.8" cy="624.7" r="5.15"/><circle cx="1069" cy="518.3" r="5.15"/><circle cx="992.3" cy="670.9" r="5.15"/><circle cx="1071.9" cy="607.4" r="5.15"/><circle cx="1071.4" cy="650.3" r="5.15"/><circle cx="980.4" cy="669" r="5.15"/><circle cx="1038.3" cy="634.2" r="5.15"/><circle cx="986" cy="611" r="5.15"/><circle cx="1089.8" cy="675.4" r="5.15"/><circle cx="1073.4" cy="638.4" r="5.15"/><circle cx="985.3" cy="640.9" r="5.15"/><circle cx="1100.1" cy="576.2" r="5.15"/><circle cx="1013.1" cy="651.1" r="5.15"/><circle cx="1066" cy="560.7" r="5.15"/><circle cx="1082" cy="514.3" r="5.15"/></g><g class="o"><circle cx="988.3" cy="630" r="5.15"/><circle cx="999.6" cy="654.7" r="5.15"/><circle cx="1027.7" cy="561.9" r="5.15"/><circle cx="1069.6" cy="658.1" r="5.15"/><circle cx="1035.3" cy="589.3" r="5.15"/><circle cx="1042.9" cy="570.4" r="5.15"/><circle cx="1100.2" cy="579.8" r="5.15"/><circle cx="1083.7" cy="612.4" r="5.15"/><circle cx="1068.3" cy="609.3" r="5.15"/><circle cx="1064.8" cy="769.6" r="5.15"/><circle cx="1117.9" cy="644" r="5.15"/><circle cx="1069.3" cy="643.7" r="5.15"/><circle cx="1055.5" cy="694.2" r="5.15"/><circle cx="1064.1" cy="715.8" r="5.15"/></g><g class="g"><circle cx="1061.7" cy="616.5" r="5.15"/><circle cx="1047.7" cy="612" r="5.15"/><circle cx="1047.8" cy="596.1" r="5.15"/><circle cx="1087.8" cy="709" r="5.15"/><circle cx="1044.9" cy="612.9" r="5.15"/><circle cx="1043.3" cy="645.8" r="5.15"/><circle cx="1039.9" cy="550.6" r="5.15"/><circle cx="1058.7" cy="625.3" r="5.15"/><circle cx="1028" cy="539.3" r="5.15"/><circle cx="1071.1" cy="530" r="5.15"/></g><g class="o"><circle cx="1055.6" cy="627.3" r="5.15"/><circle cx="1090.9" cy="643.2" r="5.15"/><circle cx="983.5" cy="588.4" r="5.15"/><circle cx="1063.4" cy="618.8" r="5.15"/><circle cx="1067.3" cy="625.3" r="5.15"/><circle cx="1100.5" cy="660.3" r="5.15"/></g><g class="g"><circle cx="1000.8" cy="779.7" r="5.15"/><circle cx="1083.7" cy="546.5" r="5.15"/><circle cx="1072.6" cy="551.7" r="5.15"/><circle cx="1059" cy="565.9" r="5.15"/><circle cx="1046.6" cy="555.7" r="5.15"/><circle cx="995.2" cy="614.8" r="5.15"/><circle cx="1086" cy="755.1" r="5.15"/><circle cx="1057.7" cy="575.4" r="5.15"/><circle cx="992.6" cy="698.5" r="5.15"/><circle cx="1067.6" cy="582.1" r="5.15"/></g>
<path d="M888.5 639.6 L896.4 639.6 L904.4 639.6 L912.3 639.6 L920.2 639.6 L928.1 639.5 L936.1 639.5 L944 639.5 L951.9 639.4 L959.9 639.4 L967.8 639.3 L975.7 639.2 L983.7 639.1 L991.6 639 L999.5 638.9 L1007.4 638.7 L1015.4 638.5 L1023.3 638.2 L1031.2 637.8 L1039.2 637.2 L1047.1 636.5 L1055 635.6 L1063 634.5 L1070.9 633.2 L1078.8 631.8 L1086.7 630.2 L1094.7 628.5 L1102.6 626.8 L1110.5 625 L1118.5 623.2 L1126.4 621.4 L1134.3 619.5 L1142.3 617.7 L1150.2 615.8 L1158.1 613.9 L1166 612 L1174 610.1 L1181.9 608.2 L1189.8 606.3 L1197.8 604.4 L1205.7 602.5 L1205.7 640.9 L1197.8 641 L1189.8 641 L1181.9 641 L1174 641.1 L1166 641.1 L1158.1 641.1 L1150.2 641.2 L1142.3 641.3 L1134.3 641.3 L1126.4 641.4 L1118.5 641.5 L1110.5 641.7 L1102.6 641.8 L1094.7 642 L1086.7 642.3 L1078.8 642.7 L1070.9 643.2 L1063 643.8 L1055 644.6 L1047.1 645.7 L1039.2 646.9 L1031.2 648.3 L1023.3 649.9 L1015.4 651.5 L1007.4 653.2 L999.5 655 L991.6 656.8 L983.7 658.6 L975.7 660.4 L967.8 662.3 L959.9 664.2 L951.9 666.1 L944 668 L936.1 669.9 L928.1 671.8 L920.2 673.7 L912.3 675.6 L904.4 677.5 L896.4 679.4 L888.5 681.4Z" fill="#D46600" fill-opacity=".2"/>
<path d="M888.5 643.3 L896.4 642 L904.4 640.7 L912.3 639.4 L920.2 638.1 L928.1 636.7 L936.1 635.4 L944 634.1 L951.9 632.7 L959.9 631.4 L967.8 630 L975.7 628.6 L983.7 627.2 L991.6 625.8 L999.5 624.3 L1007.4 622.8 L1015.4 621.2 L1023.3 619.5 L1031.2 617.7 L1039.2 615.8 L1047.1 613.8 L1055 611.6 L1063 609.3 L1070.9 606.9 L1078.8 604.4 L1086.7 601.9 L1094.7 599.2 L1102.6 596.6 L1110.5 593.9 L1118.5 591.1 L1126.4 588.4 L1134.3 585.6 L1142.3 582.9 L1150.2 580.1 L1158.1 577.3 L1166 574.5 L1174 571.7 L1181.9 568.9 L1189.8 566.1 L1197.8 563.3 L1205.7 560.5 L1205.7 593.8 L1197.8 595.1 L1189.8 596.4 L1181.9 597.7 L1174 599 L1166 600.3 L1158.1 601.6 L1150.2 602.9 L1142.3 604.3 L1134.3 605.6 L1126.4 607 L1118.5 608.4 L1110.5 609.8 L1102.6 611.2 L1094.7 612.6 L1086.7 614.1 L1078.8 615.7 L1070.9 617.3 L1063 619 L1055 620.9 L1047.1 622.8 L1039.2 624.9 L1031.2 627.1 L1023.3 629.5 L1015.4 631.9 L1007.4 634.4 L999.5 637 L991.6 639.7 L983.7 642.3 L975.7 645.1 L967.8 647.8 L959.9 650.5 L951.9 653.3 L944 656.1 L936.1 658.9 L928.1 661.7 L920.2 664.5 L912.3 667.3 L904.4 670.1 L896.4 672.9 L888.5 675.7Z" fill="#235A24" fill-opacity=".2"/>
<path class="ln" d="M888.5 660.5L1205.7 621.7" stroke="#D46600"/>
<path class="ln" d="M888.5 659.5L1205.7 577.1" stroke="#235A24"/>
<rect class="bd" x="873.3" y="456.0" width="347.7" height="445.9"/>
<path class="tm" d="M888.5 901.9v-7.3M967.8 901.9v-7.3M1047.1 901.9v-7.3M1126.4 901.9v-7.3M1205.7 901.9v-7.3M873.3 507.1h7.3M873.3 632.2h7.3M873.3 757.3h7.3M873.3 882.3h7.3"/>
<g class="tk"><text x="888.5" y="919.9" text-anchor="middle">−4</text><text x="967.8" y="919.9" text-anchor="middle">−2</text><text x="1047.1" y="919.9" text-anchor="middle">0</text><text x="1126.4" y="919.9" text-anchor="middle">2</text><text x="1205.7" y="919.9" text-anchor="middle">4</text><text x="870.5" y="513.9" text-anchor="end">2</text><text x="870.5" y="639.0" text-anchor="end">0</text><text x="870.5" y="764.1" text-anchor="end">−2</text><text x="870.5" y="889.1" text-anchor="end">−4</text></g>
<text class="an" x="888.8" y="489.9">DVT<tspan x="932.5">×</tspan><tspan x="948.9">CWM</tspan><tspan font-size="14.00" dy="3.4">PC1</tspan><tspan dy="-3.4">:</tspan><tspan class="it" x="1036.7">F</tspan><tspan x="1052.3">=</tspan><tspan x="1070">3.10,</tspan><tspan class="it" x="1118.7">P</tspan><tspan x="1135.5">=</tspan><tspan x="1152.2">0.079</tspan></text>
<text class="lb" x="843.4" y="488.8" font-size="38.9">h</text>
</g>
<g id="panel-i">
<g class="o"><circle cx="1355" cy="647.7" r="5.15"/><circle cx="1422.4" cy="593.9" r="5.15"/><circle cx="1387.4" cy="594" r="5.15"/><circle cx="1352.6" cy="715.8" r="5.15"/><circle cx="1400.9" cy="532" r="5.15"/><circle cx="1387.5" cy="626.5" r="5.15"/><circle cx="1415.1" cy="659.4" r="5.15"/><circle cx="1407.8" cy="701.3" r="5.15"/><circle cx="1357.1" cy="579.3" r="5.15"/><circle cx="1386.2" cy="647.3" r="5.15"/><circle cx="1378.3" cy="699.4" r="5.15"/><circle cx="1322.7" cy="638.2" r="5.15"/></g><g class="g"><circle cx="1452.3" cy="512.7" r="5.15"/><circle cx="1465.4" cy="502.5" r="5.15"/><circle cx="1464.6" cy="524.5" r="5.15"/><circle cx="1332.7" cy="582.2" r="5.15"/><circle cx="1363.5" cy="668.5" r="5.15"/><circle cx="1433.9" cy="520.5" r="5.15"/><circle cx="1382.1" cy="618.9" r="5.15"/><circle cx="1464" cy="515.3" r="5.15"/><circle cx="1476" cy="525.8" r="5.15"/><circle cx="1458.9" cy="563" r="5.15"/><circle cx="1473.6" cy="523.2" r="5.15"/><circle cx="1397.7" cy="678" r="5.15"/></g><g class="o"><circle cx="1374.4" cy="651.9" r="5.15"/><circle cx="1394.8" cy="713.2" r="5.15"/><circle cx="1352.6" cy="652.4" r="5.15"/><circle cx="1408.9" cy="667.6" r="5.15"/><circle cx="1357.7" cy="660.9" r="5.15"/><circle cx="1421" cy="629.8" r="5.15"/><circle cx="1442.5" cy="565.5" r="5.15"/><circle cx="1396.5" cy="682.9" r="5.15"/><circle cx="1357.1" cy="750.5" r="5.15"/><circle cx="1393.5" cy="610.9" r="5.15"/><circle cx="1406.1" cy="595.8" r="5.15"/><circle cx="1354.6" cy="623.6" r="5.15"/><circle cx="1391.2" cy="700.9" r="5.15"/></g><g class="g"><circle cx="1518.5" cy="534.1" r="5.15"/><circle cx="1467" cy="589.6" r="5.15"/><circle cx="1468.9" cy="553.4" r="5.15"/><circle cx="1441.9" cy="540.2" r="5.15"/><circle cx="1391" cy="609.7" r="5.15"/><circle cx="1387.1" cy="644.5" r="5.15"/><circle cx="1427.6" cy="580.4" r="5.15"/><circle cx="1467.5" cy="510.5" r="5.15"/><circle cx="1464.5" cy="645.1" r="5.15"/><circle cx="1470.3" cy="571" r="5.15"/><circle cx="1477.9" cy="522.5" r="5.15"/></g><g class="o"><circle cx="1391.1" cy="736.2" r="5.15"/><circle cx="1380.3" cy="635" r="5.15"/><circle cx="1363.4" cy="792.8" r="5.15"/><circle cx="1399.9" cy="728.8" r="5.15"/><circle cx="1349.7" cy="712.1" r="5.15"/><circle cx="1399.8" cy="578.8" r="5.15"/><circle cx="1412.1" cy="673.9" r="5.15"/><circle cx="1383.9" cy="653" r="5.15"/><circle cx="1373.2" cy="654.2" r="5.15"/><circle cx="1419.4" cy="569" r="5.15"/><circle cx="1440" cy="560.6" r="5.15"/></g><g class="g"><circle cx="1398.4" cy="517.9" r="5.15"/><circle cx="1440.6" cy="599.4" r="5.15"/><circle cx="1493.3" cy="632.6" r="5.15"/><circle cx="1480.9" cy="556.6" r="5.15"/><circle cx="1377.1" cy="657.7" r="5.15"/><circle cx="1434.5" cy="557.3" r="5.15"/><circle cx="1498.5" cy="562.8" r="5.15"/><circle cx="1487.9" cy="519.8" r="5.15"/><circle cx="1462.4" cy="531.6" r="5.15"/><circle cx="1412.4" cy="684.8" r="5.15"/><circle cx="1401.7" cy="639.5" r="5.15"/><circle cx="1458.8" cy="576.2" r="5.15"/><circle cx="1511.9" cy="516.2" r="5.15"/></g><g class="o"><circle cx="1394.2" cy="627.9" r="5.15"/><circle cx="1336.8" cy="649.7" r="5.15"/><circle cx="1350.7" cy="642" r="5.15"/><circle cx="1327" cy="704" r="5.15"/><circle cx="1394.4" cy="551.1" r="5.15"/><circle cx="1408" cy="629.6" r="5.15"/><circle cx="1362.1" cy="694.3" r="5.15"/><circle cx="1402.5" cy="603.2" r="5.15"/><circle cx="1367.5" cy="665.9" r="5.15"/></g><g class="g"><circle cx="1458.7" cy="656.5" r="5.15"/><circle cx="1470" cy="516" r="5.15"/><circle cx="1394.2" cy="595.9" r="5.15"/><circle cx="1330.6" cy="589.6" r="5.15"/><circle cx="1464.4" cy="607.9" r="5.15"/><circle cx="1477.8" cy="570.1" r="5.15"/><circle cx="1397.3" cy="723" r="5.15"/><circle cx="1403.3" cy="613.3" r="5.15"/><circle cx="1455.1" cy="599.9" r="5.15"/><circle cx="1512.3" cy="658.6" r="5.15"/><circle cx="1354.3" cy="643.8" r="5.15"/><circle cx="1432.5" cy="710.3" r="5.15"/><circle cx="1371.3" cy="571.1" r="5.15"/><circle cx="1529.7" cy="503" r="5.15"/><circle cx="1371.4" cy="631.5" r="5.15"/></g><g class="o"><circle cx="1384.5" cy="640.3" r="5.15"/><circle cx="1327.5" cy="708.7" r="5.15"/><circle cx="1396.7" cy="615.9" r="5.15"/><circle cx="1378.9" cy="672.6" r="5.15"/><circle cx="1415.4" cy="602.5" r="5.15"/><circle cx="1367.4" cy="724.7" r="5.15"/><circle cx="1356.2" cy="672.1" r="5.15"/><circle cx="1329.2" cy="748.3" r="5.15"/><circle cx="1390.3" cy="731.1" r="5.15"/><circle cx="1382.9" cy="636.8" r="5.15"/><circle cx="1406.8" cy="624.7" r="5.15"/><circle cx="1343.3" cy="711.4" r="5.15"/><circle cx="1392.3" cy="675.1" r="5.15"/><circle cx="1419.9" cy="628.2" r="5.15"/></g><g class="g"><circle cx="1454" cy="583.6" r="5.15"/><circle cx="1481.3" cy="509.4" r="5.15"/><circle cx="1483.1" cy="544.6" r="5.15"/><circle cx="1443.6" cy="550.7" r="5.15"/><circle cx="1420.6" cy="533.2" r="5.15"/><circle cx="1417.5" cy="504.7" r="5.15"/><circle cx="1412.9" cy="610" r="5.15"/><circle cx="1419.3" cy="563.2" r="5.15"/><circle cx="1423.9" cy="660.1" r="5.15"/><circle cx="1446.8" cy="620.9" r="5.15"/></g><g class="o"><circle cx="1390.2" cy="683.1" r="5.15"/><circle cx="1422.7" cy="525" r="5.15"/><circle cx="1399.5" cy="635.2" r="5.15"/><circle cx="1404.9" cy="645.8" r="5.15"/><circle cx="1396.6" cy="638" r="5.15"/><circle cx="1379.4" cy="609.4" r="5.15"/><circle cx="1390.1" cy="658.9" r="5.15"/><circle cx="1397.6" cy="642.2" r="5.15"/><circle cx="1374.8" cy="659" r="5.15"/><circle cx="1402.3" cy="670.4" r="5.15"/><circle cx="1386.2" cy="663.2" r="5.15"/><circle cx="1384.8" cy="642.3" r="5.15"/><circle cx="1398.1" cy="681.2" r="5.15"/><circle cx="1330.3" cy="691.4" r="5.15"/><circle cx="1368.6" cy="727.8" r="5.15"/><circle cx="1390.4" cy="650.2" r="5.15"/></g><g class="g"><circle cx="1467.1" cy="556.7" r="5.15"/><circle cx="1454" cy="511" r="5.15"/><circle cx="1466" cy="542.4" r="5.15"/><circle cx="1415.1" cy="587.3" r="5.15"/><circle cx="1382.1" cy="648.1" r="5.15"/><circle cx="1483.2" cy="586.9" r="5.15"/><circle cx="1461.3" cy="597.6" r="5.15"/><circle cx="1357.3" cy="626.1" r="5.15"/></g><g class="o"><circle cx="1377.8" cy="590.9" r="5.15"/><circle cx="1322.2" cy="730.1" r="5.15"/><circle cx="1382.3" cy="689.2" r="5.15"/><circle cx="1435.6" cy="587.9" r="5.15"/><circle cx="1389.2" cy="583.4" r="5.15"/><circle cx="1350.4" cy="736" r="5.15"/><circle cx="1353.3" cy="731.9" r="5.15"/><circle cx="1420.5" cy="632.1" r="5.15"/><circle cx="1310.9" cy="784.8" r="5.15"/><circle cx="1379.9" cy="578.6" r="5.15"/><circle cx="1451.1" cy="549" r="5.15"/></g><g class="g"><circle cx="1375.3" cy="634.1" r="5.15"/><circle cx="1447.8" cy="539.9" r="5.15"/><circle cx="1395.9" cy="542.3" r="5.15"/><circle cx="1447.8" cy="577.9" r="5.15"/><circle cx="1468.2" cy="560.6" r="5.15"/><circle cx="1462.4" cy="525.6" r="5.15"/><circle cx="1470.6" cy="625.7" r="5.15"/><circle cx="1430.4" cy="557.5" r="5.15"/><circle cx="1397.8" cy="597.6" r="5.15"/><circle cx="1470.3" cy="568.7" r="5.15"/><circle cx="1399" cy="587.3" r="5.15"/><circle cx="1466.3" cy="524.3" r="5.15"/><circle cx="1448.6" cy="648.6" r="5.15"/></g><g class="o"><circle cx="1413.9" cy="685.7" r="5.15"/><circle cx="1361.8" cy="639" r="5.15"/><circle cx="1390.6" cy="672.6" r="5.15"/><circle cx="1335.2" cy="598.1" r="5.15"/><circle cx="1399.5" cy="730.8" r="5.15"/><circle cx="1317.7" cy="663.8" r="5.15"/><circle cx="1394.8" cy="584.2" r="5.15"/><circle cx="1378.7" cy="577.9" r="5.15"/><circle cx="1386.7" cy="555.5" r="5.15"/><circle cx="1399.8" cy="658.4" r="5.15"/><circle cx="1350.9" cy="653.6" r="5.15"/><circle cx="1391.7" cy="538.6" r="5.15"/><circle cx="1366.5" cy="656" r="5.15"/><circle cx="1392.3" cy="642" r="5.15"/><circle cx="1413.3" cy="632.7" r="5.15"/><circle cx="1347.1" cy="661" r="5.15"/><circle cx="1410.4" cy="753.1" r="5.15"/><circle cx="1374.4" cy="670" r="5.15"/><circle cx="1365.2" cy="574" r="5.15"/><circle cx="1378.7" cy="714.7" r="5.15"/><circle cx="1358" cy="709.7" r="5.15"/><circle cx="1346.7" cy="607.5" r="5.15"/></g><g class="g"><circle cx="1424.3" cy="635.5" r="5.15"/><circle cx="1508.9" cy="571" r="5.15"/></g><g class="o"><circle cx="1408.4" cy="608.3" r="5.15"/><circle cx="1377.8" cy="555.3" r="5.15"/><circle cx="1392.8" cy="608.8" r="5.15"/><circle cx="1382.2" cy="563.7" r="5.15"/><circle cx="1342.8" cy="762" r="5.15"/><circle cx="1405.9" cy="663.2" r="5.15"/><circle cx="1391.9" cy="542.9" r="5.15"/><circle cx="1394.2" cy="546.5" r="5.15"/><circle cx="1396.1" cy="595.9" r="5.15"/><circle cx="1333.6" cy="752" r="5.15"/><circle cx="1434.3" cy="624.5" r="5.15"/><circle cx="1362.8" cy="673.5" r="5.15"/></g><g class="g"><circle cx="1372.2" cy="646.4" r="5.15"/><circle cx="1379" cy="592.9" r="5.15"/><circle cx="1400.4" cy="593.9" r="5.15"/><circle cx="1466.1" cy="581.9" r="5.15"/><circle cx="1402.7" cy="614.4" r="5.15"/><circle cx="1373" cy="568.7" r="5.15"/><circle cx="1447" cy="628.6" r="5.15"/><circle cx="1425.8" cy="568.4" r="5.15"/><circle cx="1406.6" cy="629.2" r="5.15"/><circle cx="1480.4" cy="553.8" r="5.15"/><circle cx="1490.1" cy="561.8" r="5.15"/><circle cx="1425.7" cy="544" r="5.15"/></g><g class="o"><circle cx="1384.8" cy="620.1" r="5.15"/><circle cx="1341.6" cy="744.7" r="5.15"/><circle cx="1393.9" cy="665.9" r="5.15"/><circle cx="1370.4" cy="666" r="5.15"/><circle cx="1404.8" cy="683.8" r="5.15"/><circle cx="1424.4" cy="653.2" r="5.15"/><circle cx="1425.5" cy="675.9" r="5.15"/><circle cx="1354.3" cy="706.7" r="5.15"/><circle cx="1418.2" cy="757.3" r="5.15"/><circle cx="1349.4" cy="765.5" r="5.15"/><circle cx="1348.2" cy="643.7" r="5.15"/><circle cx="1360" cy="701.7" r="5.15"/><circle cx="1381.8" cy="637.6" r="5.15"/><circle cx="1398.9" cy="626.6" r="5.15"/></g><g class="g"><circle cx="1415.7" cy="570.2" r="5.15"/><circle cx="1478.4" cy="515.8" r="5.15"/><circle cx="1455.3" cy="538" r="5.15"/><circle cx="1462.8" cy="550.3" r="5.15"/><circle cx="1455.7" cy="538.8" r="5.15"/><circle cx="1447" cy="554" r="5.15"/><circle cx="1492.8" cy="550.1" r="5.15"/><circle cx="1400.2" cy="686.3" r="5.15"/><circle cx="1337" cy="679.2" r="5.15"/><circle cx="1465.7" cy="615.4" r="5.15"/></g><g class="o"><circle cx="1378.8" cy="697.3" r="5.15"/><circle cx="1367" cy="722.8" r="5.15"/><circle cx="1358.1" cy="574.2" r="5.15"/><circle cx="1380.8" cy="611.9" r="5.15"/><circle cx="1442.9" cy="606.8" r="5.15"/><circle cx="1392.5" cy="679.1" r="5.15"/><circle cx="1401.4" cy="653.1" r="5.15"/><circle cx="1419" cy="600" r="5.15"/><circle cx="1425.9" cy="688.3" r="5.15"/><circle cx="1362.3" cy="668.2" r="5.15"/><circle cx="1413.8" cy="657.5" r="5.15"/><circle cx="1465.1" cy="595.9" r="5.15"/></g><g class="g"><circle cx="1441.9" cy="576.2" r="5.15"/><circle cx="1477.4" cy="524" r="5.15"/><circle cx="1435.1" cy="641.5" r="5.15"/><circle cx="1469.7" cy="592" r="5.15"/><circle cx="1486" cy="517.3" r="5.15"/><circle cx="1386.8" cy="682.5" r="5.15"/><circle cx="1467.9" cy="536" r="5.15"/><circle cx="1498.2" cy="625.5" r="5.15"/><circle cx="1464.7" cy="539.8" r="5.15"/><circle cx="1435.4" cy="613.9" r="5.15"/><circle cx="1474" cy="553.8" r="5.15"/><circle cx="1450.4" cy="542.5" r="5.15"/></g><g class="o"><circle cx="1376.5" cy="757.4" r="5.15"/><circle cx="1377.3" cy="658.7" r="5.15"/><circle cx="1372.7" cy="615.2" r="5.15"/><circle cx="1404.3" cy="634.3" r="5.15"/><circle cx="1375.4" cy="662.5" r="5.15"/><circle cx="1376.3" cy="813.8" r="5.15"/><circle cx="1389.2" cy="573.9" r="5.15"/><circle cx="1357.3" cy="626.7" r="5.15"/><circle cx="1398.1" cy="759.4" r="5.15"/><circle cx="1413.2" cy="684.8" r="5.15"/><circle cx="1411.2" cy="576.5" r="5.15"/><circle cx="1425.7" cy="609.9" r="5.15"/></g><g class="g"><circle cx="1434.4" cy="648" r="5.15"/><circle cx="1414.4" cy="606.3" r="5.15"/><circle cx="1422.4" cy="612" r="5.15"/><circle cx="1457.9" cy="611.4" r="5.15"/><circle cx="1465.5" cy="557.7" r="5.15"/><circle cx="1429.9" cy="593.4" r="5.15"/><circle cx="1500.9" cy="545.3" r="5.15"/><circle cx="1471" cy="523.9" r="5.15"/><circle cx="1388.4" cy="568.1" r="5.15"/><circle cx="1441.1" cy="616.5" r="5.15"/><circle cx="1455.2" cy="571.6" r="5.15"/><circle cx="1443.1" cy="666.1" r="5.15"/></g><g class="o"><circle cx="1376.6" cy="689.7" r="5.15"/><circle cx="1383.8" cy="658.3" r="5.15"/><circle cx="1376.1" cy="691.8" r="5.15"/><circle cx="1380.1" cy="616.3" r="5.15"/><circle cx="1399" cy="607.1" r="5.15"/><circle cx="1357.1" cy="699.9" r="5.15"/><circle cx="1338.4" cy="667" r="5.15"/></g><g class="g"><circle cx="1391.4" cy="668.6" r="5.15"/><circle cx="1439.7" cy="541.9" r="5.15"/><circle cx="1457.9" cy="596.3" r="5.15"/><circle cx="1445.9" cy="553.8" r="5.15"/><circle cx="1428.6" cy="525.1" r="5.15"/><circle cx="1496.6" cy="568.1" r="5.15"/><circle cx="1386.6" cy="638.6" r="5.15"/><circle cx="1464.9" cy="600.2" r="5.15"/><circle cx="1391.9" cy="527.6" r="5.15"/><circle cx="1486.2" cy="622.8" r="5.15"/><circle cx="1491.5" cy="573.9" r="5.15"/><circle cx="1461.7" cy="541.4" r="5.15"/><circle cx="1486" cy="537.5" r="5.15"/><circle cx="1505.1" cy="578.2" r="5.15"/><circle cx="1435.7" cy="574.6" r="5.15"/><circle cx="1400.7" cy="604.2" r="5.15"/><circle cx="1374.5" cy="659.6" r="5.15"/></g><g class="o"><circle cx="1356.5" cy="699.2" r="5.15"/><circle cx="1409.2" cy="594.4" r="5.15"/><circle cx="1346.3" cy="553.3" r="5.15"/><circle cx="1426.9" cy="572.9" r="5.15"/><circle cx="1421.1" cy="587.8" r="5.15"/><circle cx="1368.5" cy="631.9" r="5.15"/><circle cx="1367.2" cy="690.9" r="5.15"/><circle cx="1385.1" cy="600.4" r="5.15"/><circle cx="1385.4" cy="585.2" r="5.15"/><circle cx="1384.1" cy="656.2" r="5.15"/></g><g class="g"><circle cx="1471.9" cy="582.6" r="5.15"/><circle cx="1492.1" cy="521.4" r="5.15"/><circle cx="1523.8" cy="630.8" r="5.15"/><circle cx="1324.9" cy="609.5" r="5.15"/><circle cx="1446.7" cy="522.4" r="5.15"/><circle cx="1449.6" cy="565.5" r="5.15"/><circle cx="1370.7" cy="670.1" r="5.15"/><circle cx="1457.7" cy="680.3" r="5.15"/><circle cx="1485.2" cy="688.4" r="5.15"/><circle cx="1454.2" cy="625.2" r="5.15"/><circle cx="1494.2" cy="609.5" r="5.15"/><circle cx="1337.3" cy="644.5" r="5.15"/><circle cx="1463.3" cy="580.4" r="5.15"/><circle cx="1462.2" cy="541.6" r="5.15"/></g><g class="o"><circle cx="1435.2" cy="544.7" r="5.15"/><circle cx="1364.9" cy="599.8" r="5.15"/><circle cx="1430.4" cy="580" r="5.15"/><circle cx="1383.7" cy="646.6" r="5.15"/><circle cx="1434" cy="706.5" r="5.15"/><circle cx="1363.1" cy="686.3" r="5.15"/><circle cx="1341.9" cy="688.9" r="5.15"/><circle cx="1419.8" cy="609.2" r="5.15"/><circle cx="1405.2" cy="641.1" r="5.15"/><circle cx="1386.6" cy="654" r="5.15"/><circle cx="1375.4" cy="669.9" r="5.15"/><circle cx="1362.3" cy="671.6" r="5.15"/></g><g class="g"><circle cx="1471.3" cy="573.6" r="5.15"/><circle cx="1446.4" cy="529.3" r="5.15"/><circle cx="1493.2" cy="578.7" r="5.15"/><circle cx="1479.4" cy="595.3" r="5.15"/><circle cx="1428.6" cy="665" r="5.15"/><circle cx="1406.5" cy="571.3" r="5.15"/><circle cx="1354.3" cy="621.6" r="5.15"/><circle cx="1392.9" cy="662.2" r="5.15"/><circle cx="1438.3" cy="539.8" r="5.15"/><circle cx="1471.7" cy="557.8" r="5.15"/><circle cx="1453.5" cy="628.7" r="5.15"/><circle cx="1445.6" cy="599.9" r="5.15"/></g><g class="o"><circle cx="1402.4" cy="724.4" r="5.15"/><circle cx="1358.1" cy="605.6" r="5.15"/><circle cx="1420.1" cy="633.5" r="5.15"/><circle cx="1327.1" cy="649.5" r="5.15"/><circle cx="1424" cy="680.4" r="5.15"/><circle cx="1366.2" cy="579" r="5.15"/><circle cx="1387.7" cy="546.3" r="5.15"/><circle cx="1396.3" cy="665.2" r="5.15"/><circle cx="1406.2" cy="670.1" r="5.15"/><circle cx="1365.4" cy="676.4" r="5.15"/><circle cx="1392.1" cy="638.8" r="5.15"/><circle cx="1370.4" cy="695.4" r="5.15"/></g><g class="g"><circle cx="1413.5" cy="590.9" r="5.15"/><circle cx="1466.2" cy="521" r="5.15"/><circle cx="1481.1" cy="513.6" r="5.15"/><circle cx="1477.7" cy="495.8" r="5.15"/><circle cx="1531.7" cy="568" r="5.15"/><circle cx="1383.2" cy="536.4" r="5.15"/><circle cx="1460.6" cy="625.7" r="5.15"/><circle cx="1444.8" cy="627.4" r="5.15"/><circle cx="1470.4" cy="598.5" r="5.15"/><circle cx="1443.9" cy="619.6" r="5.15"/><circle cx="1467.1" cy="590.4" r="5.15"/><circle cx="1455.7" cy="575.1" r="5.15"/></g><g class="o"><circle cx="1388.3" cy="662" r="5.15"/><circle cx="1383.7" cy="659.3" r="5.15"/><circle cx="1376.2" cy="656" r="5.15"/><circle cx="1399.6" cy="705.1" r="5.15"/><circle cx="1398.2" cy="583.6" r="5.15"/><circle cx="1433.9" cy="538.2" r="5.15"/><circle cx="1390.7" cy="688.3" r="5.15"/><circle cx="1367.2" cy="715" r="5.15"/><circle cx="1407" cy="614.9" r="5.15"/><circle cx="1391.5" cy="669.9" r="5.15"/></g><g class="g"><circle cx="1446.3" cy="535.7" r="5.15"/><circle cx="1469.1" cy="549.8" r="5.15"/><circle cx="1414" cy="629.7" r="5.15"/><circle cx="1487.2" cy="556.8" r="5.15"/><circle cx="1448.4" cy="557.3" r="5.15"/><circle cx="1419" cy="532.7" r="5.15"/><circle cx="1482.3" cy="494.7" r="5.15"/><circle cx="1372.3" cy="664" r="5.15"/><circle cx="1467" cy="549.4" r="5.15"/><circle cx="1366.7" cy="721" r="5.15"/><circle cx="1455.1" cy="544.9" r="5.15"/><circle cx="1449.1" cy="567.7" r="5.15"/><circle cx="1370.4" cy="707.1" r="5.15"/><circle cx="1448.4" cy="621.5" r="5.15"/></g><g class="o"><circle cx="1377.4" cy="621.1" r="5.15"/><circle cx="1360.8" cy="731.8" r="5.15"/><circle cx="1378.6" cy="653.4" r="5.15"/><circle cx="1404.3" cy="593.5" r="5.15"/><circle cx="1370.6" cy="654.4" r="5.15"/><circle cx="1422.4" cy="708.4" r="5.15"/><circle cx="1405.6" cy="665" r="5.15"/><circle cx="1389.2" cy="629.8" r="5.15"/><circle cx="1414.9" cy="542.7" r="5.15"/></g><g class="g"><circle cx="1431.1" cy="641.7" r="5.15"/><circle cx="1500.1" cy="536.8" r="5.15"/><circle cx="1366.7" cy="586.8" r="5.15"/><circle cx="1425.8" cy="508.9" r="5.15"/><circle cx="1417.7" cy="571.5" r="5.15"/><circle cx="1483.4" cy="524.7" r="5.15"/><circle cx="1457.3" cy="546.4" r="5.15"/><circle cx="1463.4" cy="556.8" r="5.15"/><circle cx="1453.6" cy="503.8" r="5.15"/><circle cx="1409.3" cy="606.8" r="5.15"/><circle cx="1459.1" cy="544.1" r="5.15"/><circle cx="1363.3" cy="615.4" r="5.15"/><circle cx="1431.6" cy="644" r="5.15"/><circle cx="1476.5" cy="555.1" r="5.15"/><circle cx="1471.8" cy="575.5" r="5.15"/></g><g class="o"><circle cx="1342.4" cy="690" r="5.15"/><circle cx="1387.8" cy="674.5" r="5.15"/><circle cx="1385.9" cy="766.2" r="5.15"/><circle cx="1342.2" cy="735.7" r="5.15"/><circle cx="1396.8" cy="605.6" r="5.15"/><circle cx="1359.9" cy="657.1" r="5.15"/><circle cx="1388.3" cy="591.8" r="5.15"/><circle cx="1398.7" cy="649.1" r="5.15"/><circle cx="1399.2" cy="718.8" r="5.15"/><circle cx="1409.1" cy="656.4" r="5.15"/><circle cx="1394.9" cy="612" r="5.15"/><circle cx="1368.7" cy="647.8" r="5.15"/></g><g class="g"><circle cx="1461.8" cy="665.8" r="5.15"/><circle cx="1461.5" cy="554.6" r="5.15"/><circle cx="1505.6" cy="608.2" r="5.15"/><circle cx="1460.2" cy="533.9" r="5.15"/><circle cx="1396.2" cy="633.6" r="5.15"/><circle cx="1481.8" cy="537.4" r="5.15"/><circle cx="1406.8" cy="635.7" r="5.15"/><circle cx="1430" cy="619.9" r="5.15"/><circle cx="1347.9" cy="605.2" r="5.15"/><circle cx="1393.2" cy="663.4" r="5.15"/><circle cx="1451.4" cy="585.9" r="5.15"/><circle cx="1418.9" cy="576.8" r="5.15"/></g><g class="o"><circle cx="1387.8" cy="563.6" r="5.15"/><circle cx="1404" cy="652.2" r="5.15"/><circle cx="1392.2" cy="656.8" r="5.15"/><circle cx="1346.2" cy="691.1" r="5.15"/><circle cx="1366.2" cy="665.2" r="5.15"/><circle cx="1388.9" cy="580.9" r="5.15"/><circle cx="1379" cy="580.5" r="5.15"/><circle cx="1376.5" cy="666.2" r="5.15"/><circle cx="1386.2" cy="622.5" r="5.15"/><circle cx="1361.3" cy="681.5" r="5.15"/><circle cx="1377" cy="688.9" r="5.15"/><circle cx="1407.8" cy="587.3" r="5.15"/><circle cx="1392.5" cy="639.9" r="5.15"/><circle cx="1430.7" cy="682.2" r="5.15"/></g><g class="g"><circle cx="1482.2" cy="568.7" r="5.15"/><circle cx="1499.1" cy="521.6" r="5.15"/><circle cx="1490.7" cy="533.9" r="5.15"/><circle cx="1478.5" cy="570.8" r="5.15"/><circle cx="1375.6" cy="584.6" r="5.15"/><circle cx="1481.5" cy="615.4" r="5.15"/><circle cx="1481.6" cy="525.4" r="5.15"/><circle cx="1456.1" cy="623.7" r="5.15"/><circle cx="1469.3" cy="584.3" r="5.15"/><circle cx="1388.2" cy="611.7" r="5.15"/></g><g class="o"><circle cx="1381.3" cy="653.7" r="5.15"/><circle cx="1395.6" cy="583.7" r="5.15"/><circle cx="1374.1" cy="611.4" r="5.15"/><circle cx="1374.1" cy="677.7" r="5.15"/><circle cx="1367.4" cy="623" r="5.15"/><circle cx="1385.8" cy="591.5" r="5.15"/><circle cx="1343.4" cy="702.7" r="5.15"/><circle cx="1343.9" cy="596" r="5.15"/><circle cx="1395.5" cy="676.9" r="5.15"/></g><g class="g"><circle cx="1477.1" cy="531.4" r="5.15"/><circle cx="1342.5" cy="607" r="5.15"/><circle cx="1478.8" cy="643.4" r="5.15"/><circle cx="1414.5" cy="612.6" r="5.15"/><circle cx="1509.3" cy="553.2" r="5.15"/><circle cx="1377.8" cy="582.9" r="5.15"/><circle cx="1370" cy="582.2" r="5.15"/><circle cx="1471.6" cy="494.7" r="5.15"/><circle cx="1443.1" cy="514.7" r="5.15"/><circle cx="1354.1" cy="569.8" r="5.15"/><circle cx="1470.3" cy="538.9" r="5.15"/><circle cx="1455.8" cy="592.2" r="5.15"/><circle cx="1398.6" cy="597.8" r="5.15"/><circle cx="1475.9" cy="529" r="5.15"/><circle cx="1412.4" cy="550.7" r="5.15"/></g><g class="o"><circle cx="1336.9" cy="685.5" r="5.15"/><circle cx="1400.8" cy="687.2" r="5.15"/><circle cx="1375.9" cy="583.3" r="5.15"/><circle cx="1341" cy="667" r="5.15"/><circle cx="1391.1" cy="631.1" r="5.15"/><circle cx="1422.6" cy="637" r="5.15"/><circle cx="1336.9" cy="562.1" r="5.15"/><circle cx="1378.7" cy="646.3" r="5.15"/><circle cx="1373.3" cy="658.5" r="5.15"/></g><g class="g"><circle cx="1452.7" cy="504" r="5.15"/><circle cx="1452.7" cy="650.6" r="5.15"/><circle cx="1434.7" cy="572.9" r="5.15"/><circle cx="1337.5" cy="504" r="5.15"/><circle cx="1440.1" cy="549.5" r="5.15"/><circle cx="1412.6" cy="566.2" r="5.15"/><circle cx="1449.2" cy="539.9" r="5.15"/><circle cx="1423" cy="665.1" r="5.15"/><circle cx="1485.9" cy="541.4" r="5.15"/><circle cx="1450.9" cy="571.8" r="5.15"/><circle cx="1374.7" cy="648.7" r="5.15"/><circle cx="1475.4" cy="523.8" r="5.15"/><circle cx="1415.6" cy="679.7" r="5.15"/><circle cx="1450.3" cy="543.8" r="5.15"/><circle cx="1402.3" cy="631.2" r="5.15"/></g><g class="o"><circle cx="1386.3" cy="607.8" r="5.15"/><circle cx="1384.9" cy="734.3" r="5.15"/><circle cx="1381.4" cy="698.4" r="5.15"/><circle cx="1394.7" cy="745.3" r="5.15"/><circle cx="1397.6" cy="589.9" r="5.15"/><circle cx="1347.5" cy="578.3" r="5.15"/><circle cx="1390.5" cy="615.9" r="5.15"/><circle cx="1381.1" cy="698.2" r="5.15"/><circle cx="1358.6" cy="677.5" r="5.15"/><circle cx="1358.3" cy="736" r="5.15"/><circle cx="1422.1" cy="588.6" r="5.15"/><circle cx="1366.5" cy="752.1" r="5.15"/><circle cx="1367.1" cy="716.8" r="5.15"/><circle cx="1388.2" cy="679.8" r="5.15"/></g><g class="g"><circle cx="1360.8" cy="629.6" r="5.15"/><circle cx="1364.5" cy="606.2" r="5.15"/><circle cx="1437.9" cy="580.4" r="5.15"/><circle cx="1501.4" cy="553.1" r="5.15"/><circle cx="1376.9" cy="531.3" r="5.15"/><circle cx="1483.8" cy="586.2" r="5.15"/><circle cx="1418.3" cy="625.7" r="5.15"/><circle cx="1468.3" cy="547.4" r="5.15"/><circle cx="1462.7" cy="536.4" r="5.15"/><circle cx="1504.3" cy="504.2" r="5.15"/></g><g class="o"><circle cx="1320.6" cy="708.2" r="5.15"/><circle cx="1392" cy="563" r="5.15"/><circle cx="1382.6" cy="786.4" r="5.15"/><circle cx="1380.5" cy="740.7" r="5.15"/><circle cx="1335.4" cy="718" r="5.15"/><circle cx="1417.8" cy="641.9" r="5.15"/><circle cx="1394.3" cy="664.2" r="5.15"/><circle cx="1417.4" cy="627.5" r="5.15"/><circle cx="1395" cy="668.9" r="5.15"/><circle cx="1411" cy="657.3" r="5.15"/><circle cx="1346.7" cy="781.6" r="5.15"/><circle cx="1344.9" cy="704.5" r="5.15"/><circle cx="1342.2" cy="716.3" r="5.15"/><circle cx="1348.9" cy="567.3" r="5.15"/><circle cx="1439.5" cy="709.1" r="5.15"/><circle cx="1390.6" cy="664.8" r="5.15"/><circle cx="1384.2" cy="595.9" r="5.15"/><circle cx="1324.1" cy="817.7" r="5.15"/></g><g class="g"><circle cx="1445.1" cy="587.7" r="5.15"/><circle cx="1446.2" cy="534" r="5.15"/><circle cx="1452.4" cy="650.6" r="5.15"/><circle cx="1468.8" cy="530.9" r="5.15"/><circle cx="1460.7" cy="547.3" r="5.15"/><circle cx="1481.2" cy="530.7" r="5.15"/></g><g class="o"><circle cx="1381.5" cy="659.7" r="5.15"/><circle cx="1358" cy="627.3" r="5.15"/><circle cx="1420.6" cy="536.8" r="5.15"/><circle cx="1370.9" cy="706.4" r="5.15"/><circle cx="1431.9" cy="601.3" r="5.15"/><circle cx="1435.6" cy="577.1" r="5.15"/><circle cx="1409.7" cy="712.4" r="5.15"/><circle cx="1445" cy="557.7" r="5.15"/><circle cx="1371" cy="538.4" r="5.15"/><circle cx="1295.7" cy="679.6" r="5.15"/><circle cx="1374.8" cy="665.9" r="5.15"/></g><g class="g"><circle cx="1461.4" cy="583.7" r="5.15"/><circle cx="1491.4" cy="497.9" r="5.15"/><circle cx="1466.5" cy="594.1" r="5.15"/><circle cx="1499.5" cy="590.7" r="5.15"/><circle cx="1462.6" cy="551" r="5.15"/><circle cx="1493.9" cy="523.6" r="5.15"/><circle cx="1477.5" cy="538.5" r="5.15"/><circle cx="1347" cy="697.6" r="5.15"/><circle cx="1473.4" cy="514.5" r="5.15"/><circle cx="1484.8" cy="538" r="5.15"/><circle cx="1390.5" cy="522.4" r="5.15"/><circle cx="1388.9" cy="626.9" r="5.15"/><circle cx="1498.9" cy="547.3" r="5.15"/></g><g class="o"><circle cx="1382.4" cy="712.7" r="5.15"/><circle cx="1425.1" cy="646.5" r="5.15"/><circle cx="1355.8" cy="705.3" r="5.15"/><circle cx="1338.9" cy="638.7" r="5.15"/><circle cx="1375.1" cy="578.5" r="5.15"/><circle cx="1391.3" cy="627.7" r="5.15"/><circle cx="1376.2" cy="645.7" r="5.15"/><circle cx="1353.1" cy="687" r="5.15"/><circle cx="1385.9" cy="742.3" r="5.15"/><circle cx="1415.3" cy="565.6" r="5.15"/><circle cx="1390.4" cy="595.4" r="5.15"/><circle cx="1327.2" cy="668.6" r="5.15"/><circle cx="1362" cy="663.9" r="5.15"/></g><g class="g"><circle cx="1473.1" cy="529.6" r="5.15"/><circle cx="1424.5" cy="615.1" r="5.15"/><circle cx="1454" cy="612.4" r="5.15"/><circle cx="1448.7" cy="604.5" r="5.15"/><circle cx="1468.6" cy="593.1" r="5.15"/><circle cx="1488.7" cy="562.4" r="5.15"/><circle cx="1472.6" cy="588.7" r="5.15"/><circle cx="1467.7" cy="577.2" r="5.15"/><circle cx="1437.1" cy="596.2" r="5.15"/><circle cx="1453.8" cy="551.8" r="5.15"/><circle cx="1451.5" cy="568.1" r="5.15"/></g><g class="o"><circle cx="1399.6" cy="681" r="5.15"/><circle cx="1380.1" cy="721.4" r="5.15"/><circle cx="1404.9" cy="570.4" r="5.15"/><circle cx="1412.7" cy="556.1" r="5.15"/><circle cx="1364.4" cy="659.2" r="5.15"/><circle cx="1372.1" cy="696.5" r="5.15"/><circle cx="1392.5" cy="635.9" r="5.15"/><circle cx="1376.7" cy="710.2" r="5.15"/><circle cx="1348.7" cy="617.4" r="5.15"/><circle cx="1359" cy="685.2" r="5.15"/></g><g class="g"><circle cx="1482.1" cy="545.8" r="5.15"/><circle cx="1469.1" cy="549.5" r="5.15"/><circle cx="1391.8" cy="554" r="5.15"/><circle cx="1498.1" cy="576.2" r="5.15"/><circle cx="1431.3" cy="650.2" r="5.15"/><circle cx="1500.3" cy="539.2" r="5.15"/><circle cx="1436.8" cy="546.4" r="5.15"/><circle cx="1459.9" cy="520.4" r="5.15"/><circle cx="1467" cy="586.2" r="5.15"/><circle cx="1433.9" cy="542.3" r="5.15"/><circle cx="1425.1" cy="615.3" r="5.15"/><circle cx="1466.1" cy="620.5" r="5.15"/><circle cx="1418.5" cy="595" r="5.15"/><circle cx="1507.4" cy="597.2" r="5.15"/></g><g class="o"><circle cx="1390.3" cy="641.3" r="5.15"/><circle cx="1406.7" cy="633.9" r="5.15"/><circle cx="1407" cy="567" r="5.15"/><circle cx="1432.6" cy="568.5" r="5.15"/><circle cx="1395.3" cy="733.8" r="5.15"/><circle cx="1343.4" cy="616.1" r="5.15"/><circle cx="1392.4" cy="652.9" r="5.15"/><circle cx="1330" cy="768.1" r="5.15"/><circle cx="1372.8" cy="586.5" r="5.15"/><circle cx="1389.7" cy="655.2" r="5.15"/><circle cx="1404.9" cy="684.2" r="5.15"/><circle cx="1353.8" cy="672.6" r="5.15"/><circle cx="1366.8" cy="639.8" r="5.15"/><circle cx="1392.8" cy="637.5" r="5.15"/><circle cx="1362.7" cy="644.5" r="5.15"/><circle cx="1409.3" cy="732.8" r="5.15"/></g><g class="g"><circle cx="1476" cy="557" r="5.15"/><circle cx="1489.2" cy="664.1" r="5.15"/><circle cx="1499.6" cy="528.1" r="5.15"/><circle cx="1457.9" cy="570.6" r="5.15"/><circle cx="1458" cy="547.6" r="5.15"/><circle cx="1457.8" cy="573.8" r="5.15"/><circle cx="1446.9" cy="656.8" r="5.15"/><circle cx="1473.7" cy="637.9" r="5.15"/></g><g class="o"><circle cx="1379.2" cy="655.2" r="5.15"/><circle cx="1411.7" cy="662.2" r="5.15"/><circle cx="1362.2" cy="621.8" r="5.15"/><circle cx="1374.6" cy="564.2" r="5.15"/><circle cx="1352.3" cy="695.5" r="5.15"/><circle cx="1409.9" cy="568" r="5.15"/><circle cx="1372.7" cy="645.8" r="5.15"/><circle cx="1372.1" cy="732.9" r="5.15"/><circle cx="1395.2" cy="677.6" r="5.15"/><circle cx="1396.3" cy="558" r="5.15"/><circle cx="1366" cy="673.7" r="5.15"/><circle cx="1428.4" cy="664.9" r="5.15"/><circle cx="1403" cy="581.1" r="5.15"/><circle cx="1389.2" cy="728.1" r="5.15"/><circle cx="1406.2" cy="598" r="5.15"/><circle cx="1384.9" cy="564.4" r="5.15"/></g><g class="g"><circle cx="1429.9" cy="584.7" r="5.15"/><circle cx="1498.8" cy="553.1" r="5.15"/><circle cx="1415.2" cy="621.7" r="5.15"/><circle cx="1428.1" cy="570.2" r="5.15"/><circle cx="1439.8" cy="512.6" r="5.15"/><circle cx="1381.1" cy="570.1" r="5.15"/><circle cx="1421.4" cy="581.4" r="5.15"/><circle cx="1480.4" cy="598.7" r="5.15"/></g><g class="o"><circle cx="1396.5" cy="676.1" r="5.15"/><circle cx="1372.2" cy="607.5" r="5.15"/><circle cx="1379.3" cy="563.1" r="5.15"/><circle cx="1440.8" cy="747.4" r="5.15"/><circle cx="1354.7" cy="511.7" r="5.15"/><circle cx="1433.7" cy="643.5" r="5.15"/><circle cx="1388.3" cy="642.2" r="5.15"/><circle cx="1375.6" cy="671.7" r="5.15"/><circle cx="1428.7" cy="750.9" r="5.15"/><circle cx="1384.8" cy="561.8" r="5.15"/></g><g class="g"><circle cx="1417.1" cy="590.6" r="5.15"/><circle cx="1428.4" cy="523.8" r="5.15"/><circle cx="1372.5" cy="511.2" r="5.15"/><circle cx="1412.9" cy="519.9" r="5.15"/><circle cx="1486" cy="558.7" r="5.15"/><circle cx="1471.6" cy="519.7" r="5.15"/><circle cx="1509.7" cy="527.2" r="5.15"/><circle cx="1390.5" cy="638.8" r="5.15"/><circle cx="1462.5" cy="513.9" r="5.15"/><circle cx="1451.7" cy="546.8" r="5.15"/><circle cx="1446.5" cy="603.7" r="5.15"/><circle cx="1433.4" cy="701.8" r="5.15"/><circle cx="1443.3" cy="591.7" r="5.15"/><circle cx="1456.6" cy="562.9" r="5.15"/></g><g class="o"><circle cx="1389.4" cy="633.2" r="5.15"/><circle cx="1405" cy="586.9" r="5.15"/><circle cx="1411.2" cy="616.6" r="5.15"/><circle cx="1404.6" cy="680.2" r="5.15"/><circle cx="1369.1" cy="576.2" r="5.15"/><circle cx="1394.9" cy="626.8" r="5.15"/><circle cx="1352.6" cy="708.8" r="5.15"/><circle cx="1389.2" cy="681.5" r="5.15"/><circle cx="1377.8" cy="627.2" r="5.15"/><circle cx="1414.9" cy="718.5" r="5.15"/><circle cx="1331.1" cy="639.9" r="5.15"/></g><g class="g"><circle cx="1449.6" cy="559.9" r="5.15"/><circle cx="1399" cy="616" r="5.15"/><circle cx="1446.5" cy="516.8" r="5.15"/><circle cx="1426" cy="601.4" r="5.15"/><circle cx="1517" cy="650.5" r="5.15"/><circle cx="1531.4" cy="586.1" r="5.15"/><circle cx="1402.1" cy="637.7" r="5.15"/><circle cx="1483.3" cy="548.3" r="5.15"/><circle cx="1493.4" cy="536" r="5.15"/><circle cx="1459.6" cy="571.5" r="5.15"/><circle cx="1471.6" cy="530" r="5.15"/><circle cx="1441.5" cy="568.3" r="5.15"/><circle cx="1464.3" cy="502.7" r="5.15"/></g><g class="o"><circle cx="1422.5" cy="697" r="5.15"/><circle cx="1384.2" cy="646.7" r="5.15"/><circle cx="1374.9" cy="595.7" r="5.15"/><circle cx="1381.2" cy="691.5" r="5.15"/><circle cx="1424.8" cy="571.5" r="5.15"/><circle cx="1334" cy="615.6" r="5.15"/><circle cx="1361.5" cy="723.6" r="5.15"/><circle cx="1406" cy="651.4" r="5.15"/><circle cx="1410.8" cy="705.5" r="5.15"/><circle cx="1407.2" cy="646" r="5.15"/><circle cx="1394.5" cy="635" r="5.15"/><circle cx="1427.3" cy="597.3" r="5.15"/></g><g class="g"><circle cx="1430.6" cy="642.4" r="5.15"/><circle cx="1333.2" cy="732.8" r="5.15"/><circle cx="1354.3" cy="655.8" r="5.15"/><circle cx="1394.6" cy="585.9" r="5.15"/><circle cx="1448.9" cy="586" r="5.15"/><circle cx="1490.2" cy="592.4" r="5.15"/><circle cx="1442.6" cy="582" r="5.15"/><circle cx="1404.6" cy="631.2" r="5.15"/><circle cx="1472.5" cy="584.3" r="5.15"/><circle cx="1487.1" cy="508.5" r="5.15"/><circle cx="1449.5" cy="568.7" r="5.15"/><circle cx="1453.1" cy="538.6" r="5.15"/></g><g class="o"><circle cx="1383.6" cy="643.7" r="5.15"/><circle cx="1391.6" cy="636.7" r="5.15"/><circle cx="1424.8" cy="750" r="5.15"/><circle cx="1363.5" cy="641.8" r="5.15"/><circle cx="1421.7" cy="671.7" r="5.15"/><circle cx="1389.8" cy="619.8" r="5.15"/><circle cx="1369.2" cy="733" r="5.15"/><circle cx="1402.2" cy="614.6" r="5.15"/><circle cx="1323.8" cy="727.5" r="5.15"/><circle cx="1407" cy="601.8" r="5.15"/></g><g class="g"><circle cx="1447.5" cy="584.7" r="5.15"/><circle cx="1442.1" cy="629.4" r="5.15"/><circle cx="1454.5" cy="680.6" r="5.15"/><circle cx="1357.9" cy="647.3" r="5.15"/><circle cx="1491.1" cy="532.5" r="5.15"/><circle cx="1418" cy="665.2" r="5.15"/><circle cx="1455.6" cy="608.5" r="5.15"/><circle cx="1417.9" cy="541.3" r="5.15"/><circle cx="1409.6" cy="591.4" r="5.15"/><circle cx="1493.8" cy="562.3" r="5.15"/><circle cx="1415.1" cy="643.4" r="5.15"/><circle cx="1432.9" cy="517.6" r="5.15"/><circle cx="1500.6" cy="610.2" r="5.15"/><circle cx="1433.7" cy="607.7" r="5.15"/></g><g class="o"><circle cx="1421.5" cy="678.2" r="5.15"/><circle cx="1392.6" cy="680" r="5.15"/><circle cx="1338.9" cy="697.7" r="5.15"/><circle cx="1393.9" cy="661.1" r="5.15"/><circle cx="1371.1" cy="666.1" r="5.15"/><circle cx="1376.3" cy="736.9" r="5.15"/><circle cx="1396.3" cy="616.5" r="5.15"/><circle cx="1427.8" cy="554.9" r="5.15"/><circle cx="1426.5" cy="627.2" r="5.15"/><circle cx="1388.2" cy="720.9" r="5.15"/><circle cx="1385.3" cy="611.5" r="5.15"/><circle cx="1319.1" cy="674.9" r="5.15"/></g><g class="g"><circle cx="1397.9" cy="667.5" r="5.15"/><circle cx="1509.8" cy="546.9" r="5.15"/><circle cx="1478" cy="539.5" r="5.15"/><circle cx="1392.8" cy="639.3" r="5.15"/><circle cx="1479.7" cy="571.3" r="5.15"/><circle cx="1423.2" cy="635.8" r="5.15"/><circle cx="1499.5" cy="559" r="5.15"/><circle cx="1441.1" cy="645.1" r="5.15"/><circle cx="1343.8" cy="666.3" r="5.15"/><circle cx="1432.4" cy="607.8" r="5.15"/><circle cx="1467.2" cy="552.5" r="5.15"/><circle cx="1403.4" cy="703.5" r="5.15"/></g><g class="o"><circle cx="1375.3" cy="663.5" r="5.15"/><circle cx="1377.6" cy="633.6" r="5.15"/><circle cx="1340" cy="621.2" r="5.15"/><circle cx="1386.5" cy="576.1" r="5.15"/><circle cx="1362.6" cy="621.3" r="5.15"/><circle cx="1371" cy="697.7" r="5.15"/><circle cx="1400.3" cy="623.2" r="5.15"/><circle cx="1383.1" cy="687.6" r="5.15"/><circle cx="1387.3" cy="654.8" r="5.15"/><circle cx="1367.1" cy="632" r="5.15"/><circle cx="1357.6" cy="701.5" r="5.15"/><circle cx="1354.8" cy="537.1" r="5.15"/></g><g class="g"><circle cx="1423.3" cy="669.9" r="5.15"/><circle cx="1391.9" cy="619.7" r="5.15"/><circle cx="1460.9" cy="632" r="5.15"/><circle cx="1520.8" cy="630.5" r="5.15"/><circle cx="1420.1" cy="582.9" r="5.15"/><circle cx="1406.3" cy="560.3" r="5.15"/><circle cx="1447" cy="585.7" r="5.15"/><circle cx="1459.9" cy="661.6" r="5.15"/><circle cx="1458.9" cy="535.7" r="5.15"/><circle cx="1405.6" cy="684.2" r="5.15"/><circle cx="1444.9" cy="556.3" r="5.15"/><circle cx="1468.6" cy="524.9" r="5.15"/></g><g class="o"><circle cx="1396.3" cy="661.1" r="5.15"/><circle cx="1363.5" cy="673.2" r="5.15"/><circle cx="1347.2" cy="776.2" r="5.15"/><circle cx="1398.5" cy="660.7" r="5.15"/><circle cx="1359" cy="575.1" r="5.15"/><circle cx="1362.3" cy="670.3" r="5.15"/><circle cx="1363" cy="619.5" r="5.15"/><circle cx="1373.4" cy="701.4" r="5.15"/><circle cx="1370.6" cy="631.7" r="5.15"/><circle cx="1386" cy="652.4" r="5.15"/><circle cx="1412.3" cy="652.6" r="5.15"/><circle cx="1363" cy="648.2" r="5.15"/><circle cx="1403.8" cy="618.4" r="5.15"/><circle cx="1376.5" cy="596.9" r="5.15"/></g><g class="g"><circle cx="1469.4" cy="599" r="5.15"/><circle cx="1476.2" cy="526" r="5.15"/><circle cx="1391.9" cy="635.7" r="5.15"/><circle cx="1423" cy="560.7" r="5.15"/><circle cx="1465.4" cy="547.3" r="5.15"/><circle cx="1421.1" cy="568.2" r="5.15"/><circle cx="1478" cy="601.3" r="5.15"/><circle cx="1451.6" cy="564.6" r="5.15"/><circle cx="1464.6" cy="537.4" r="5.15"/><circle cx="1379.2" cy="695" r="5.15"/></g><g class="o"><circle cx="1397.2" cy="618.3" r="5.15"/><circle cx="1363.5" cy="677.9" r="5.15"/><circle cx="1408.3" cy="651" r="5.15"/><circle cx="1370.1" cy="704.4" r="5.15"/><circle cx="1446.7" cy="545.7" r="5.15"/><circle cx="1369.5" cy="566.6" r="5.15"/><circle cx="1351.9" cy="664.5" r="5.15"/><circle cx="1417.9" cy="668.1" r="5.15"/><circle cx="1396.3" cy="587.1" r="5.15"/><circle cx="1364.6" cy="615.9" r="5.15"/></g><g class="g"><circle cx="1379" cy="650.7" r="5.15"/><circle cx="1473.4" cy="639.6" r="5.15"/><circle cx="1425.1" cy="607.6" r="5.15"/><circle cx="1400" cy="617.1" r="5.15"/><circle cx="1469.7" cy="530" r="5.15"/><circle cx="1466.7" cy="527.5" r="5.15"/><circle cx="1427.4" cy="633.1" r="5.15"/><circle cx="1391.2" cy="581" r="5.15"/><circle cx="1359.2" cy="672.2" r="5.15"/><circle cx="1445.9" cy="537.4" r="5.15"/><circle cx="1338.6" cy="705.7" r="5.15"/><circle cx="1487.1" cy="585.6" r="5.15"/><circle cx="1455.3" cy="595.4" r="5.15"/><circle cx="1478" cy="532.2" r="5.15"/></g><g class="o"><circle cx="1413" cy="615.6" r="5.15"/><circle cx="1368.6" cy="641.1" r="5.15"/><circle cx="1396.9" cy="654.1" r="5.15"/><circle cx="1372.9" cy="685.4" r="5.15"/><circle cx="1382.3" cy="605.9" r="5.15"/><circle cx="1400.2" cy="575.6" r="5.15"/><circle cx="1330.9" cy="752.9" r="5.15"/><circle cx="1404.3" cy="649.7" r="5.15"/><circle cx="1418.7" cy="663.3" r="5.15"/><circle cx="1315.5" cy="653.8" r="5.15"/></g><g class="g"><circle cx="1449" cy="545.7" r="5.15"/><circle cx="1455.6" cy="556.6" r="5.15"/><circle cx="1448.6" cy="563.4" r="5.15"/><circle cx="1361.8" cy="563" r="5.15"/><circle cx="1420.8" cy="512.6" r="5.15"/><circle cx="1460.7" cy="551.3" r="5.15"/><circle cx="1511.3" cy="583.8" r="5.15"/><circle cx="1395.9" cy="589.6" r="5.15"/><circle cx="1463.9" cy="560.4" r="5.15"/><circle cx="1466" cy="644.2" r="5.15"/><circle cx="1521.2" cy="527.9" r="5.15"/><circle cx="1485.4" cy="567.3" r="5.15"/><circle cx="1482.1" cy="561.5" r="5.15"/><circle cx="1431.9" cy="567.5" r="5.15"/></g><g class="o"><circle cx="1395.1" cy="705.5" r="5.15"/><circle cx="1406.6" cy="617.4" r="5.15"/><circle cx="1448.7" cy="532.2" r="5.15"/><circle cx="1402.7" cy="621.5" r="5.15"/><circle cx="1391.2" cy="704" r="5.15"/><circle cx="1429.7" cy="537.1" r="5.15"/><circle cx="1360" cy="715.8" r="5.15"/><circle cx="1413.4" cy="588.1" r="5.15"/><circle cx="1337.7" cy="726.2" r="5.15"/><circle cx="1370" cy="656.4" r="5.15"/><circle cx="1360.5" cy="648" r="5.15"/></g><g class="g"><circle cx="1480" cy="532.6" r="5.15"/><circle cx="1416.3" cy="532.5" r="5.15"/><circle cx="1417.9" cy="595" r="5.15"/><circle cx="1457.2" cy="557.8" r="5.15"/><circle cx="1463.1" cy="567.7" r="5.15"/><circle cx="1483.3" cy="554.4" r="5.15"/><circle cx="1483.5" cy="555.7" r="5.15"/><circle cx="1477.2" cy="562.9" r="5.15"/><circle cx="1397.8" cy="584" r="5.15"/><circle cx="1438.3" cy="642.3" r="5.15"/><circle cx="1378.2" cy="657.8" r="5.15"/><circle cx="1461.7" cy="595.3" r="5.15"/><circle cx="1470" cy="522.2" r="5.15"/></g><g class="o"><circle cx="1441" cy="650.9" r="5.15"/><circle cx="1368.2" cy="678.9" r="5.15"/><circle cx="1406" cy="579.5" r="5.15"/><circle cx="1368.5" cy="609.4" r="5.15"/><circle cx="1387.3" cy="587.3" r="5.15"/><circle cx="1381.9" cy="633.4" r="5.15"/><circle cx="1372.1" cy="553.4" r="5.15"/><circle cx="1347" cy="758" r="5.15"/><circle cx="1411" cy="611.1" r="5.15"/><circle cx="1377.6" cy="522.7" r="5.15"/><circle cx="1389.7" cy="539.5" r="5.15"/><circle cx="1351.7" cy="572.2" r="5.15"/><circle cx="1433.8" cy="688.1" r="5.15"/></g><g class="g"><circle cx="1467.7" cy="534.3" r="5.15"/><circle cx="1366.8" cy="582.6" r="5.15"/><circle cx="1457.5" cy="532" r="5.15"/><circle cx="1444.5" cy="641" r="5.15"/><circle cx="1418.8" cy="682.9" r="5.15"/><circle cx="1469.8" cy="552.5" r="5.15"/><circle cx="1399.1" cy="582.8" r="5.15"/><circle cx="1400.7" cy="673.8" r="5.15"/><circle cx="1442.1" cy="580.5" r="5.15"/><circle cx="1453.4" cy="567.3" r="5.15"/><circle cx="1482.5" cy="563.8" r="5.15"/></g><g class="o"><circle cx="1372.9" cy="637.1" r="5.15"/><circle cx="1387.7" cy="622.5" r="5.15"/><circle cx="1426.4" cy="649" r="5.15"/><circle cx="1306.4" cy="681.5" r="5.15"/><circle cx="1372.1" cy="732" r="5.15"/><circle cx="1390.3" cy="734.6" r="5.15"/><circle cx="1405.2" cy="622.4" r="5.15"/><circle cx="1406.7" cy="625" r="5.15"/><circle cx="1379.2" cy="633" r="5.15"/><circle cx="1401.6" cy="592" r="5.15"/><circle cx="1354.9" cy="733.5" r="5.15"/><circle cx="1380.9" cy="662.4" r="5.15"/><circle cx="1432.9" cy="664.6" r="5.15"/><circle cx="1402.7" cy="654.9" r="5.15"/></g><g class="g"><circle cx="1389.8" cy="652.2" r="5.15"/><circle cx="1388.3" cy="711.5" r="5.15"/><circle cx="1385.3" cy="655.3" r="5.15"/><circle cx="1393.9" cy="632.1" r="5.15"/><circle cx="1458.8" cy="562.6" r="5.15"/><circle cx="1389.8" cy="534.6" r="5.15"/><circle cx="1403.5" cy="661.3" r="5.15"/><circle cx="1412.1" cy="630.2" r="5.15"/><circle cx="1379.5" cy="662.5" r="5.15"/><circle cx="1462.1" cy="549.5" r="5.15"/></g><g class="o"><circle cx="1421.7" cy="627.7" r="5.15"/><circle cx="1304.8" cy="726.4" r="5.15"/><circle cx="1401.6" cy="661.9" r="5.15"/><circle cx="1385.9" cy="648.7" r="5.15"/><circle cx="1404.7" cy="612.8" r="5.15"/><circle cx="1383.4" cy="604.5" r="5.15"/><circle cx="1361.1" cy="652.4" r="5.15"/><circle cx="1377.5" cy="638.3" r="5.15"/><circle cx="1371" cy="663.9" r="5.15"/><circle cx="1351.3" cy="609.1" r="5.15"/><circle cx="1357.2" cy="709.4" r="5.15"/><circle cx="1411.3" cy="691.3" r="5.15"/><circle cx="1324.4" cy="569.2" r="5.15"/><circle cx="1419.1" cy="576.9" r="5.15"/></g><g class="g"><circle cx="1487.2" cy="550.3" r="5.15"/><circle cx="1457.2" cy="617.1" r="5.15"/><circle cx="1415.2" cy="566.2" r="5.15"/><circle cx="1476.8" cy="541.5" r="5.15"/><circle cx="1410.2" cy="585" r="5.15"/><circle cx="1466.5" cy="562.8" r="5.15"/><circle cx="1394.6" cy="635.5" r="5.15"/><circle cx="1427" cy="647.6" r="5.15"/><circle cx="1496.6" cy="551" r="5.15"/><circle cx="1428.1" cy="554.8" r="5.15"/></g><g class="o"><circle cx="1412.7" cy="617.7" r="5.15"/><circle cx="1366.1" cy="665.1" r="5.15"/><circle cx="1428.3" cy="552" r="5.15"/><circle cx="1427.8" cy="598.1" r="5.15"/><circle cx="1382.6" cy="724" r="5.15"/><circle cx="1416.7" cy="676.7" r="5.15"/><circle cx="1390" cy="587.3" r="5.15"/><circle cx="1418" cy="555.8" r="5.15"/><circle cx="1339.1" cy="568.4" r="5.15"/><circle cx="1413.9" cy="754.4" r="5.15"/><circle cx="1396.3" cy="606.8" r="5.15"/><circle cx="1399.5" cy="578.2" r="5.15"/><circle cx="1317.4" cy="726.9" r="5.15"/><circle cx="1356.8" cy="607.1" r="5.15"/></g><g class="g"><circle cx="1433.9" cy="572.9" r="5.15"/><circle cx="1463.1" cy="616.2" r="5.15"/><circle cx="1487.7" cy="549.3" r="5.15"/><circle cx="1471.5" cy="622.2" r="5.15"/><circle cx="1436.2" cy="578" r="5.15"/><circle cx="1469" cy="588.8" r="5.15"/><circle cx="1380.2" cy="686.9" r="5.15"/><circle cx="1358.7" cy="675" r="5.15"/><circle cx="1487.1" cy="538.5" r="5.15"/><circle cx="1557.1" cy="502.3" r="5.15"/></g><g class="o"><circle cx="1396.8" cy="638.1" r="5.15"/><circle cx="1389.2" cy="653" r="5.15"/><circle cx="1356.2" cy="636.1" r="5.15"/><circle cx="1380.8" cy="588.8" r="5.15"/><circle cx="1395.9" cy="605.1" r="5.15"/><circle cx="1360.8" cy="591.8" r="5.15"/><circle cx="1396.7" cy="585.6" r="5.15"/><circle cx="1412.3" cy="596.7" r="5.15"/><circle cx="1371.5" cy="657.9" r="5.15"/></g><g class="g"><circle cx="1422.9" cy="572.9" r="5.15"/><circle cx="1474.8" cy="519.7" r="5.15"/><circle cx="1382.8" cy="573.9" r="5.15"/><circle cx="1429.2" cy="547.3" r="5.15"/><circle cx="1444.4" cy="655.3" r="5.15"/><circle cx="1480.7" cy="533.6" r="5.15"/><circle cx="1456.4" cy="624.8" r="5.15"/><circle cx="1417.9" cy="556" r="5.15"/><circle cx="1437.1" cy="691.9" r="5.15"/><circle cx="1418.1" cy="569.5" r="5.15"/><circle cx="1383.3" cy="561" r="5.15"/><circle cx="1413.1" cy="582.6" r="5.15"/><circle cx="1362.7" cy="668.1" r="5.15"/><circle cx="1422.7" cy="579.4" r="5.15"/><circle cx="1481.5" cy="563.5" r="5.15"/></g><g class="o"><circle cx="1381" cy="680.6" r="5.15"/><circle cx="1407.9" cy="558.7" r="5.15"/><circle cx="1389.5" cy="689.5" r="5.15"/><circle cx="1426.1" cy="556" r="5.15"/><circle cx="1316.2" cy="653.4" r="5.15"/><circle cx="1394.3" cy="710.8" r="5.15"/><circle cx="1424.7" cy="615.9" r="5.15"/><circle cx="1391.2" cy="730.8" r="5.15"/><circle cx="1372.3" cy="555" r="5.15"/><circle cx="1372.4" cy="621.6" r="5.15"/><circle cx="1372.2" cy="555.5" r="5.15"/></g><g class="g"><circle cx="1437.1" cy="618.4" r="5.15"/><circle cx="1490.1" cy="569.3" r="5.15"/><circle cx="1429.4" cy="600.9" r="5.15"/><circle cx="1463.5" cy="563.3" r="5.15"/><circle cx="1396" cy="556.1" r="5.15"/><circle cx="1386.8" cy="580.1" r="5.15"/><circle cx="1480.8" cy="601.1" r="5.15"/><circle cx="1442.5" cy="571.2" r="5.15"/><circle cx="1488.6" cy="558.1" r="5.15"/><circle cx="1469.7" cy="541.3" r="5.15"/><circle cx="1511.3" cy="633.2" r="5.15"/><circle cx="1463.4" cy="550.4" r="5.15"/><circle cx="1416" cy="582.5" r="5.15"/></g><g class="o"><circle cx="1368" cy="569.1" r="5.15"/><circle cx="1417.9" cy="694.6" r="5.15"/><circle cx="1395.9" cy="626.4" r="5.15"/><circle cx="1369.4" cy="711.1" r="5.15"/><circle cx="1390.6" cy="633.6" r="5.15"/><circle cx="1372.7" cy="735.3" r="5.15"/></g><g class="g"><circle cx="1471.9" cy="520.6" r="5.15"/><circle cx="1470" cy="573" r="5.15"/><circle cx="1478.7" cy="560.5" r="5.15"/><circle cx="1492.8" cy="517.9" r="5.15"/><circle cx="1373.7" cy="592.7" r="5.15"/><circle cx="1467.2" cy="584.8" r="5.15"/><circle cx="1486.1" cy="696.4" r="5.15"/><circle cx="1474.3" cy="553.9" r="5.15"/><circle cx="1483.6" cy="567" r="5.15"/><circle cx="1470.8" cy="641.5" r="5.15"/><circle cx="1471.1" cy="573.7" r="5.15"/><circle cx="1410.4" cy="620.2" r="5.15"/><circle cx="1471.9" cy="544.3" r="5.15"/><circle cx="1551.1" cy="541.6" r="5.15"/><circle cx="1373.3" cy="535.1" r="5.15"/><circle cx="1459.9" cy="568.5" r="5.15"/><circle cx="1487.4" cy="530.8" r="5.15"/><circle cx="1494.3" cy="512.2" r="5.15"/></g><g class="o"><circle cx="1415.1" cy="664.8" r="5.15"/><circle cx="1392.5" cy="653.5" r="5.15"/><circle cx="1416.9" cy="730.6" r="5.15"/><circle cx="1358.2" cy="598.6" r="5.15"/><circle cx="1349" cy="678.1" r="5.15"/><circle cx="1379.9" cy="765.8" r="5.15"/><circle cx="1369.9" cy="727.3" r="5.15"/></g><g class="g"><circle cx="1407.8" cy="578.3" r="5.15"/><circle cx="1440.3" cy="640.2" r="5.15"/><circle cx="1450.9" cy="515.6" r="5.15"/><circle cx="1396.6" cy="647" r="5.15"/><circle cx="1439.3" cy="649.5" r="5.15"/><circle cx="1462" cy="555.5" r="5.15"/><circle cx="1385.1" cy="625" r="5.15"/><circle cx="1493.9" cy="625.8" r="5.15"/><circle cx="1423.5" cy="559" r="5.15"/></g>
<path d="M1278.2 694.6 L1286.1 691.5 L1294 688.4 L1301.9 685.4 L1309.8 682.3 L1317.7 679.2 L1325.7 676 L1333.6 672.9 L1341.5 669.8 L1349.4 666.6 L1357.3 663.4 L1365.2 660.1 L1373.1 656.8 L1381 653.3 L1388.9 649.6 L1396.8 645.7 L1404.8 641.4 L1412.7 636.7 L1420.6 631.7 L1428.5 626.4 L1436.4 621 L1444.3 615.6 L1452.2 610 L1460.1 604.5 L1468 598.8 L1475.9 593.2 L1483.9 587.6 L1491.8 581.9 L1499.7 576.3 L1507.6 570.6 L1515.5 564.9 L1523.4 559.2 L1531.3 553.5 L1539.2 547.8 L1547.1 542.1 L1555 536.5 L1563 530.8 L1570.9 525.1 L1578.8 519.4 L1586.7 513.7 L1594.6 507.9 L1594.6 573.6 L1586.7 576.6 L1578.8 579.7 L1570.9 582.7 L1563 585.8 L1555 588.9 L1547.1 591.9 L1539.2 595 L1531.3 598.1 L1523.4 601.1 L1515.5 604.2 L1507.6 607.3 L1499.7 610.4 L1491.8 613.5 L1483.9 616.6 L1475.9 619.7 L1468 622.9 L1460.1 626 L1452.2 629.2 L1444.3 632.4 L1436.4 635.7 L1428.5 639.1 L1420.6 642.6 L1412.7 646.4 L1404.8 650.4 L1396.8 654.9 L1388.9 659.7 L1381 664.8 L1373.1 670.1 L1365.2 675.5 L1357.3 681 L1349.4 686.5 L1341.5 692.1 L1333.6 697.7 L1325.7 703.4 L1317.7 709 L1309.8 714.7 L1301.9 720.4 L1294 726 L1286.1 731.7 L1278.2 737.4Z" fill="#D46600" fill-opacity=".2"/>
<path d="M1278.2 661.6 L1286.1 659 L1294 656.3 L1301.9 653.6 L1309.8 650.9 L1317.7 648.3 L1325.7 645.6 L1333.6 642.9 L1341.5 640.1 L1349.4 637.4 L1357.3 634.6 L1365.2 631.9 L1373.1 629.1 L1381 626.2 L1388.9 623.3 L1396.8 620.3 L1404.8 617.2 L1412.7 614 L1420.6 610.6 L1428.5 607 L1436.4 603.2 L1444.3 599.3 L1452.2 595.3 L1460.1 591.2 L1468 587 L1475.9 582.8 L1483.9 578.5 L1491.8 574.2 L1499.7 569.8 L1507.6 565.5 L1515.5 561.1 L1523.4 556.8 L1531.3 552.4 L1539.2 548 L1547.1 543.6 L1555 539.2 L1563 534.8 L1570.9 530.4 L1578.8 526 L1586.7 521.6 L1594.6 517.1 L1594.6 557.4 L1586.7 560 L1578.8 562.7 L1570.9 565.3 L1563 568 L1555 570.7 L1547.1 573.3 L1539.2 576 L1531.3 578.7 L1523.4 581.4 L1515.5 584.1 L1507.6 586.8 L1499.7 589.6 L1491.8 592.3 L1483.9 595.1 L1475.9 597.9 L1468 600.7 L1460.1 603.6 L1452.2 606.5 L1444.3 609.6 L1436.4 612.8 L1428.5 616.1 L1420.6 619.6 L1412.7 623.3 L1404.8 627.1 L1396.8 631.1 L1388.9 635.2 L1381 639.3 L1373.1 643.5 L1365.2 647.8 L1357.3 652.1 L1349.4 656.4 L1341.5 660.8 L1333.6 665.1 L1325.7 669.5 L1317.7 673.9 L1309.8 678.3 L1301.9 682.6 L1294 687 L1286.1 691.4 L1278.2 695.9Z" fill="#235A24" fill-opacity=".2"/>
<path class="ln" d="M1278.2 716L1594.6 540.8" stroke="#D46600"/>
<path class="ln" d="M1278.2 678.8L1594.6 537.2" stroke="#235A24"/>
<rect class="bd" x="1263.2" y="456.0" width="347.0" height="445.9"/>
<path class="tm" d="M1323.4 901.9v-7.3M1413.8 901.9v-7.3M1504.2 901.9v-7.3M1594.6 901.9v-7.3M1263.2 507.1h7.3M1263.2 632.2h7.3M1263.2 757.3h7.3M1263.2 882.3h7.3"/>
<g class="tk"><text x="1323.4" y="919.9" text-anchor="middle">−2</text><text x="1413.8" y="919.9" text-anchor="middle">0</text><text x="1504.2" y="919.9" text-anchor="middle">2</text><text x="1594.6" y="919.9" text-anchor="middle">4</text><text x="1260.4" y="513.9" text-anchor="end">2</text><text x="1260.4" y="639.0" text-anchor="end">0</text><text x="1260.4" y="764.1" text-anchor="end">−2</text><text x="1260.4" y="889.1" text-anchor="end">−4</text></g>
<text class="an" x="1278.5" y="489.9">DVT<tspan x="1322.2">×</tspan><tspan x="1338.6">CWM</tspan><tspan font-size="14.00" dy="3.4">PC2</tspan><tspan dy="-3.4">:</tspan><tspan class="it" x="1426.4">F</tspan><tspan x="1442">=</tspan><tspan x="1459.7">1.13,</tspan><tspan class="it" x="1508.4">P</tspan><tspan x="1525.2">=</tspan><tspan x="1541.9">0.289</tspan></text>
<text class="lb" x="1226.6" y="488.8" font-size="38.9">i</text>
</g>
<g id="legend-a">
<rect x="395" y="39.5" width="22.1" height="22.1" fill="#D46600" fill-opacity=".2"/><circle cx="406.05" cy="50.55" r="5.15" fill="#D46600" fill-opacity=".2"/><path class="ln" d="M396.4 50.55h19.5" stroke="#D46600"/><text class="lg" x="390.2" y="57.6" text-anchor="end">Herbaceous</text>
<rect x="395" y="63.65" width="22.1" height="22.1" fill="#235A24" fill-opacity=".2"/><circle cx="406.05" cy="74.70" r="5.15" fill="#235A24" fill-opacity=".2"/><path class="ln" d="M396.4 74.70h19.5" stroke="#235A24"/><text class="lg" x="389.3" y="81.8" text-anchor="end">Woody</text>
</g>
<g id="panel-e">
<path d="M1749.9 0.2V417.5" stroke="#000" stroke-width="2" stroke-dasharray="6.3 5.63" stroke-dashoffset="4.53" fill="none"/>
<path d="M1726.2 46.9H1787.6" stroke="#235A24" stroke-width="3.4" fill="none"/><circle cx="1756.8" cy="46.9" r="7.25" fill="#235A24"/>
<path d="M1751.9 71.9H1811.2" stroke="#D46600" stroke-width="3.4" fill="none"/><circle cx="1781.4" cy="71.9" r="7.25" fill="#D46600"/>
<path d="M1726.0 146.45H1791.1" stroke="#235A24" stroke-width="3.4" fill="none"/><circle cx="1758.5" cy="146.45" r="7.25" fill="#235A24"/>
<path d="M1718.3 171.4H1820.6" stroke="#D46600" stroke-width="3.4" fill="none"/><circle cx="1769.3" cy="171.4" r="7.25" fill="#D46600"/>
<path d="M1806.1 246.2H1847.9" stroke="#235A24" stroke-width="3.4" fill="none"/><circle cx="1827.0" cy="246.2" r="7.25" fill="#235A24"/>
<path d="M1789.1 270.95H1838.9" stroke="#D46600" stroke-width="3.4" fill="none"/><circle cx="1813.8" cy="270.95" r="7.25" fill="#D46600"/>
<path d="M1889.7 345.7H1944.1" stroke="#235A24" stroke-width="3.4" fill="none"/><circle cx="1916.8" cy="345.7" r="7.25" fill="#235A24"/>
<path d="M1908.9 370.8H1986.8" stroke="#D46600" stroke-width="3.4" fill="none"/><circle cx="1947.6" cy="370.8" r="7.25" fill="#D46600"/>
<rect class="bd" x="1706.1" y="0.2" width="293.1" height="417.3"/>
<path class="tm" d="M1749.9 417.5v-7.3M1824.9 417.5v-7.3M1899.9 417.5v-7.3M1974.9 417.5v-7.3M1706.1 59.0h7.3M1706.1 158.7h7.3M1706.1 258.85h7.3M1706.1 358.4h7.3"/>
<g class="tk"><text x="1749.9" y="434.8" text-anchor="middle">0.0</text><text x="1824.9" y="434.8" text-anchor="middle">0.2</text><text x="1899.9" y="434.8" text-anchor="middle">0.4</text><text x="1974.9" y="434.8" text-anchor="middle">0.6</text><text x="1702.5" y="64.5" text-anchor="end">FD<tspan font-size="14.00" dy="3.6" dx="-0.8">is</tspan><tspan dy="-3.6" dx="-0.5">_RE</tspan></text><text x="1702.5" y="164.2" text-anchor="end">FD<tspan font-size="14.00" dy="3.6" dx="-0.8">is</tspan><tspan dy="-3.6" dx="-0.5">_PS</tspan></text><text x="1702.5" y="264.4" text-anchor="end">CWM<tspan font-size="14.00" dy="3.6" dx="-0.8">PC1</tspan></text><text x="1702.5" y="363.9" text-anchor="end">CWM<tspan font-size="14.00" dy="3.6" dx="-0.8">PC2</tspan></text></g>
<text font-size="24.0" y="102.6"><tspan class="it" x="1884.3">R</tspan><tspan x="1901.4" dy="-7.7" font-size="14.3">2</tspan><tspan x="1912.7" dy="7.7">=</tspan><tspan x="1933.9">0.50</tspan></text>
<text font-size="24.0" y="131.5"><tspan class="it" x="1884.3">P</tspan><tspan x="1907.0">&lt;</tspan><tspan x="1927.6">2.2e</tspan><tspan x="1974.85" dy="-7.7" font-size="14.3">-16</tspan></text>
<text class="lb" x="1621.4" y="34.6" font-size="40.8">e</text>
</g>
<g id="panel-j">
<path d="M1769.1 456.0V906.4" stroke="#000" stroke-width="2" stroke-dasharray="6.3 5.586" stroke-dashoffset="7.086" fill="none"/>
<path d="M1750.9 506.4H1827.9" stroke="#235A24" stroke-width="3.4" fill="none"/><circle cx="1789.4" cy="506.4" r="7.25" fill="#235A24"/>
<path d="M1718.3 533.3H1793.3" stroke="#D46600" stroke-width="3.4" fill="none"/><circle cx="1755.9" cy="533.3" r="7.25" fill="#D46600"/>
<path d="M1748.9 613.9H1831.0" stroke="#235A24" stroke-width="3.4" fill="none"/><circle cx="1789.8" cy="613.9" r="7.25" fill="#235A24"/>
<path d="M1796.2 640.6H1925.0" stroke="#D46600" stroke-width="3.4" fill="none"/><circle cx="1860.7" cy="640.6" r="7.25" fill="#D46600"/>
<path d="M1811.8 721.4H1864.2" stroke="#235A24" stroke-width="3.4" fill="none"/><circle cx="1837.8" cy="721.4" r="7.25" fill="#235A24"/>
<path d="M1769.3 748.6H1832.9" stroke="#D46600" stroke-width="3.4" fill="none"/><circle cx="1801.2" cy="748.6" r="7.25" fill="#D46600"/>
<path d="M1870.8 829.2H1939.9" stroke="#235A24" stroke-width="3.4" fill="none"/><circle cx="1905.1" cy="829.2" r="7.25" fill="#235A24"/>
<path d="M1888.4 856.1H1986.8" stroke="#D46600" stroke-width="3.4" fill="none"/><circle cx="1937.5" cy="856.1" r="7.25" fill="#D46600"/>
<rect class="bd" x="1706.1" y="456.0" width="293.1" height="450.4"/>
<path class="tm" d="M1769.1 906.4v-7.3M1852.3 906.4v-7.3M1935.5 906.4v-7.3M1706.1 519.7h7.3M1706.1 627.3h7.3M1706.1 734.8h7.3M1706.1 842.6h7.3"/>
<g class="tk"><text x="1769.1" y="923.7" text-anchor="middle">0.0</text><text x="1852.3" y="923.7" text-anchor="middle">0.2</text><text x="1935.5" y="923.7" text-anchor="middle">0.4</text><text x="1702.5" y="525.2" text-anchor="end">FD<tspan font-size="14.00" dy="3.6" dx="-0.8">is</tspan><tspan dy="-3.6" dx="-0.5">_RE</tspan></text><text x="1702.5" y="632.8" text-anchor="end">FD<tspan font-size="14.00" dy="3.6" dx="-0.8">is</tspan><tspan dy="-3.6" dx="-0.5">_PS</tspan></text><text x="1702.5" y="740.3" text-anchor="end">CWM<tspan font-size="14.00" dy="3.6" dx="-0.8">PC1</tspan></text><text x="1702.5" y="848.1" text-anchor="end">CWM<tspan font-size="14.00" dy="3.6" dx="-0.8">PC2</tspan></text></g>
<text font-size="23.2" y="499.6"><tspan class="it" x="1885.4">R</tspan><tspan x="1902.5" dy="-7.9" font-size="13.9">2</tspan><tspan x="1913.75" dy="7.9">=</tspan><tspan x="1934.0">0.35</tspan></text>
<text font-size="23.2" y="528.6"><tspan class="it" x="1885.4">P</tspan><tspan x="1908.05">&lt;</tspan><tspan x="1927.65">2.2e</tspan><tspan x="1972.8" dy="-7.9" font-size="13.9">-16</tspan></text>
<text class="lb" x="1616.7" y="488.8" font-size="38.9">j</text>
</g>
<g id="legend-e">
<path d="M1956.2 29.6h19.9" stroke="#D46600" stroke-width="3.4" fill="none"/><circle cx="1966.15" cy="29.6" r="7.1" fill="#D46600"/><text class="lg" x="1951" y="36.7" text-anchor="end">Herbaceous</text>
<path d="M1956.2 53.9h19.9" stroke="#235A24" stroke-width="3.4" fill="none"/><circle cx="1966.15" cy="53.9" r="7.1" fill="#235A24"/><text class="lg" x="1949.6" y="61.0" text-anchor="end">Woody</text>
</g>
<g id="titles" class="ti">
<text transform="translate(26.3 208.8) rotate(-90)" text-anchor="middle">Productivity</text>
<text transform="translate(58.9 209) rotate(-90)" text-anchor="middle">(NDVI<tspan font-size="15.54" dy="4.2">max</tspan><tspan dy="-4.2">, log)</tspan></text>
<text transform="translate(27.1 680.6) rotate(-90)" text-anchor="middle">Stability</text>
<text transform="translate(59.6 680.5) rotate(-90)" text-anchor="middle">(Mean<tspan dx="-0.9">−</tspan><tspan dx="-0.9">to</tspan><tspan dx="-0.9">−</tspan><tspan dx="-0.9">SD ratio of NDVI</tspan><tspan font-size="15.54" dy="4.2">max</tspan><tspan dy="-4.2">,</tspan><tspan dx="1.5"> log)</tspan></text>
<text x="271.2" y="947.6" text-anchor="middle">FD<tspan font-size="15.54" dy="4.2">is</tspan><tspan dy="-4.2"> of</tspan></text>
<text x="270.2" y="980.8" text-anchor="middle">resource economics traits</text>
<text x="657.5" y="944" text-anchor="middle">FD<tspan font-size="15.54" dy="4.2">is</tspan><tspan dy="-4.2"> of</tspan></text>
<text x="657.5" y="976.4" text-anchor="middle">plant size traits</text>
<text x="1046.5" y="944" text-anchor="middle">CWM<tspan font-size="15.54" dy="4.2">PC1</tspan></text>
<text x="1047" y="976.4" text-anchor="middle">(Resource economics)</text>
<text x="1436.5" y="944" text-anchor="middle">CWM<tspan font-size="15.54" dy="4.2">PC2</tspan></text>
<text x="1436" y="976.4" text-anchor="middle">(Plant size)</text>
<text x="1852.2" y="949" text-anchor="middle">Standardized coefficient</text>
</g>
</svg>
</body></html>
